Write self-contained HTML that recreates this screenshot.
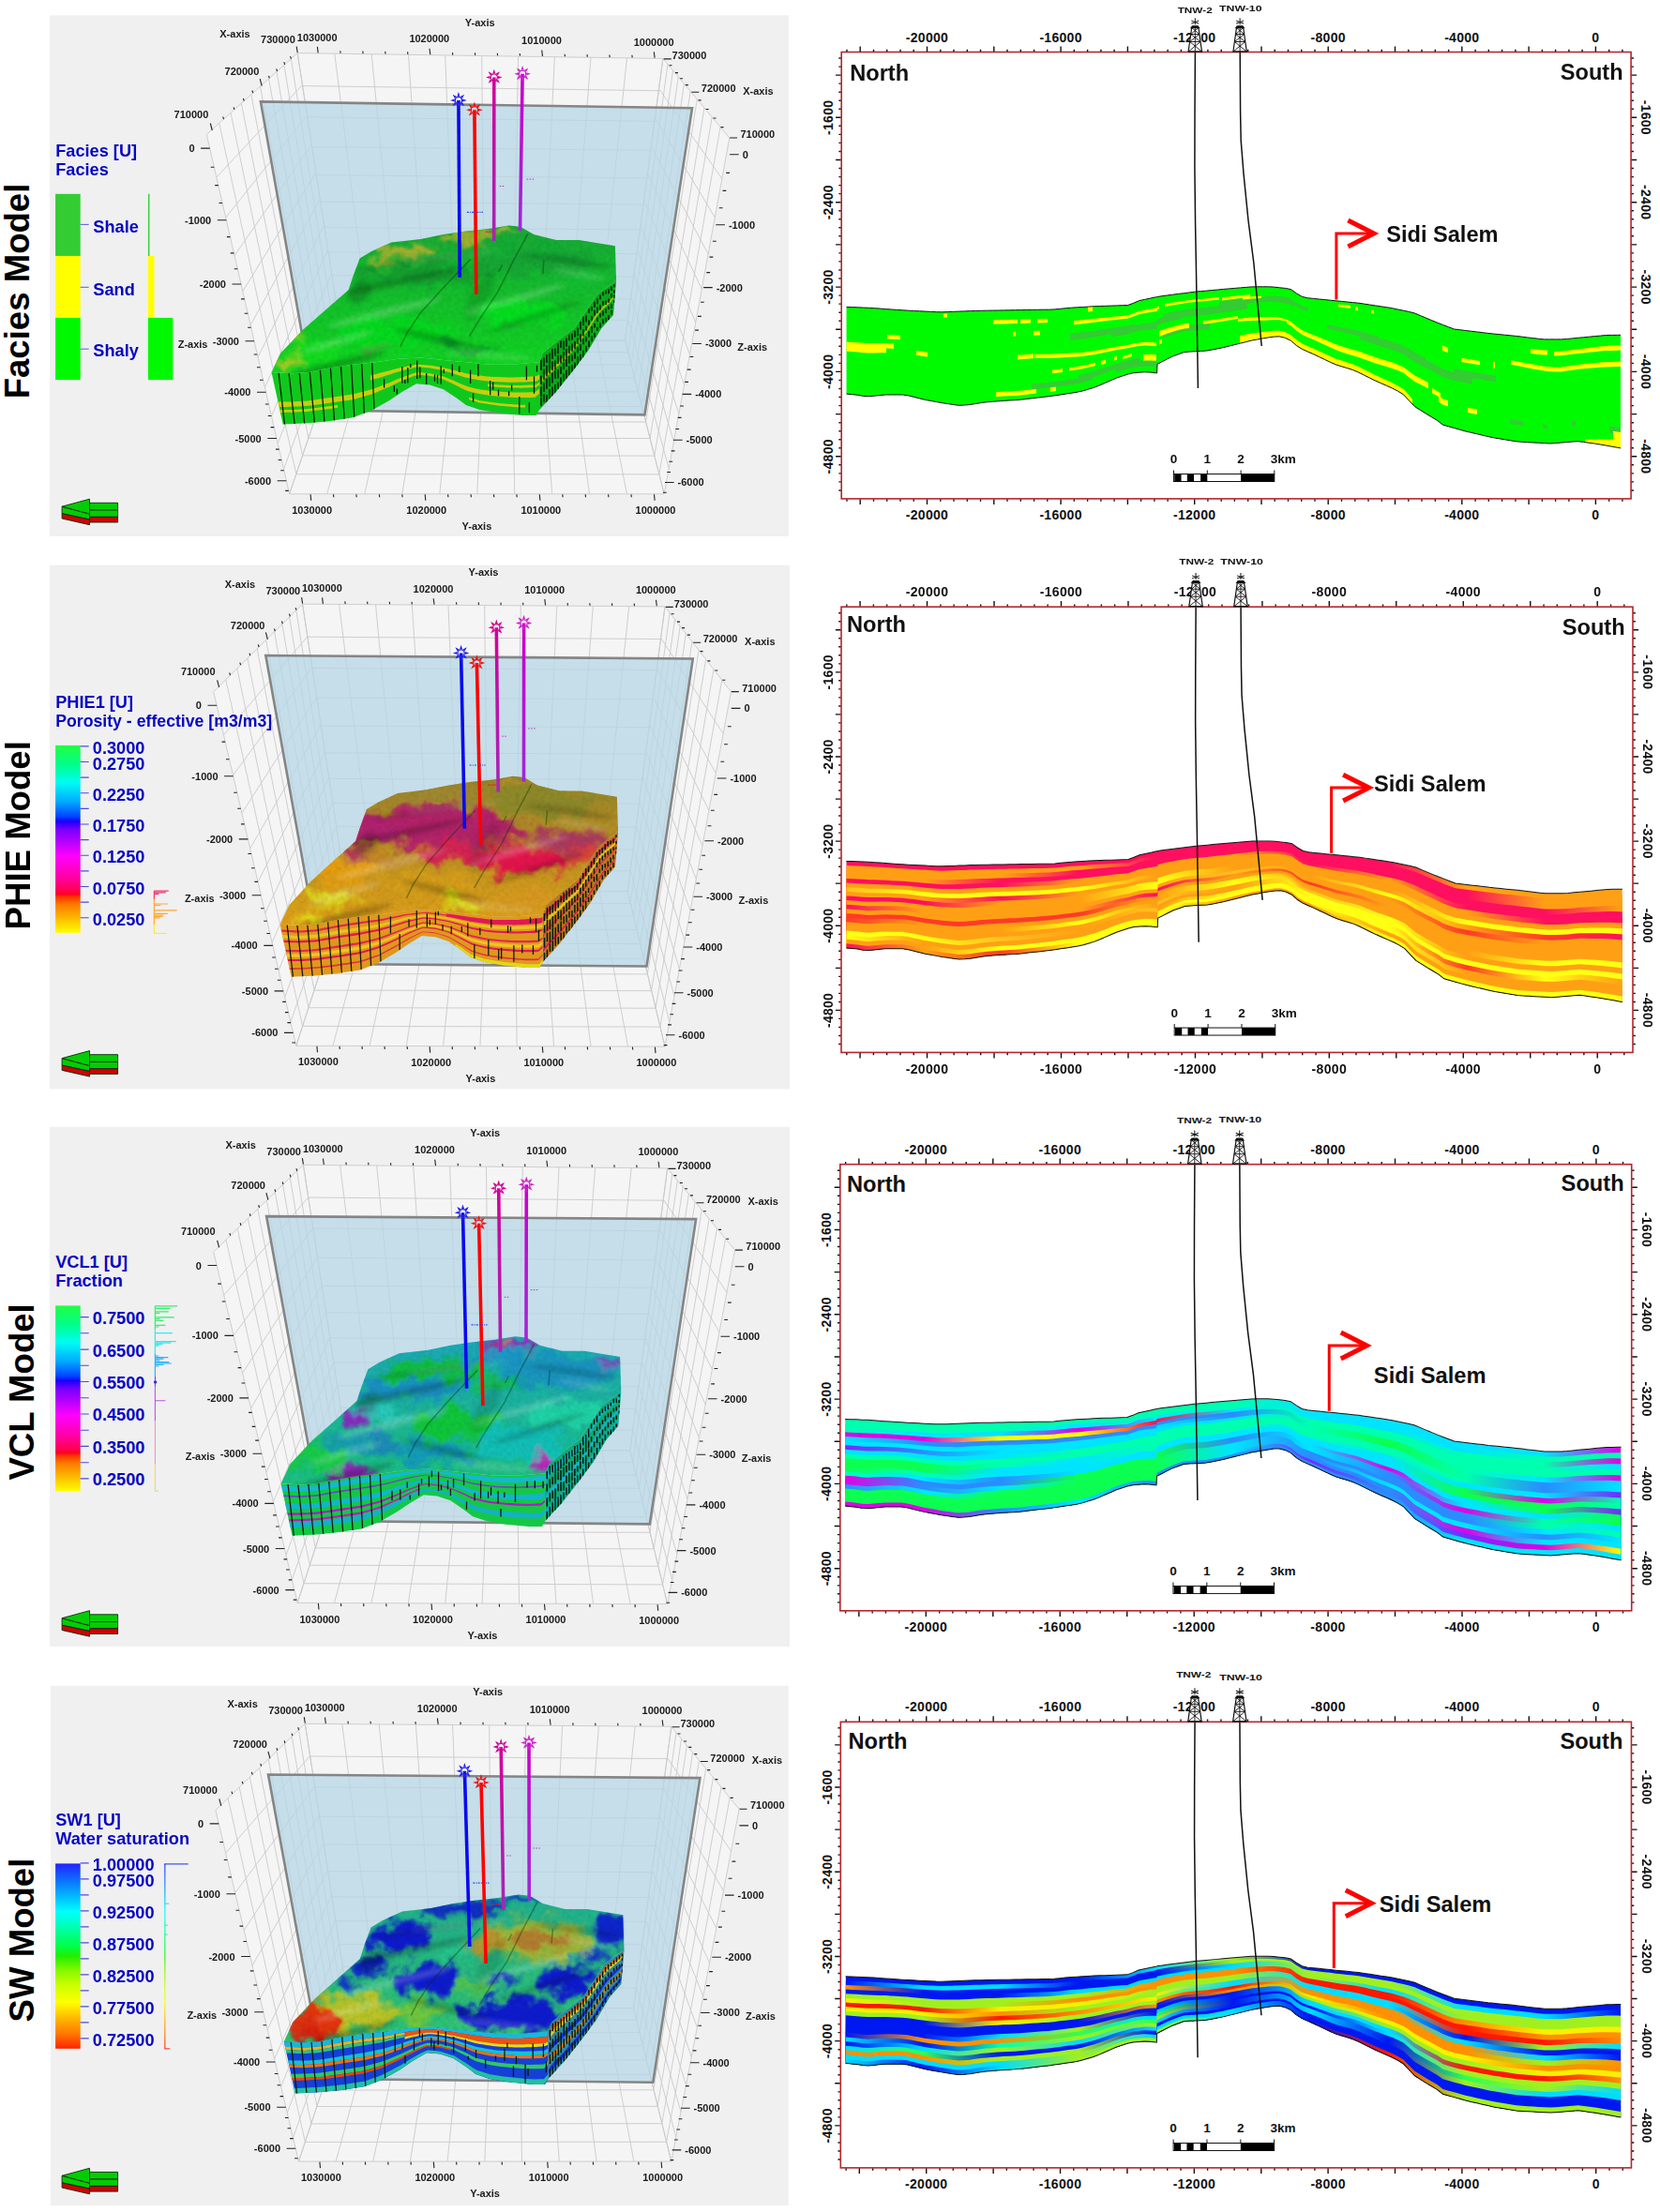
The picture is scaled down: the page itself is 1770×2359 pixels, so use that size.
<!DOCTYPE html>
<html lang="en"><head><meta charset="utf-8"><title>Reservoir models</title><style>
html,body{margin:0;padding:0;background:#fff}
svg{display:block}
text{font-family:"Liberation Sans",sans-serif;font-weight:bold;fill:#111}
.tl{font-size:14px;letter-spacing:.3px}
.ns{font-size:23.6px}
.wl{font-size:9.2px}
.sb{font-size:13.5px}
.ax{font-size:11px;fill:#1a1a1a}
.lg{font-size:18.2px;fill:#0505c4}
.rl{font-size:36.6px;fill:#000}
</style></head>
<body><svg width="1770" height="2359" viewBox="0 0 1770 2359">
<defs><filter id="blur6" x="-20%" y="-20%" width="140%" height="140%"><feGaussianBlur stdDeviation="3" result="b"/><feTurbulence type="fractalNoise" baseFrequency="0.045" numOctaves="3" seed="11" result="t"/><feDisplacementMap in="b" in2="t" scale="34" xChannelSelector="R" yChannelSelector="G"/></filter><filter id="noise" x="0" y="0" width="100%" height="100%"><feTurbulence type="fractalNoise" baseFrequency="0.22" numOctaves="3" seed="4"/><feColorMatrix type="matrix" values="0 0 0 0 0  0 0 0 0 0  0 0 0 0 0  1.6 1.6 0 0 -1.25"/></filter><filter id="blur3" x="-20%" y="-20%" width="140%" height="140%"><feGaussianBlur stdDeviation="2.5"/></filter><filter id="blur1" x="-20%" y="-20%" width="140%" height="140%"><feGaussianBlur stdDeviation="0.6"/></filter><clipPath id="mc0"><polygon points="289.6,397.1 299.3,376.6 323.4,351.3 352.3,326 371.6,309.2 376.4,294.7 383.6,275.4 395.7,268.2 417.3,258.6 448.7,254.9 472.8,250.1 496.9,246.5 521,244.1 542.7,240.5 554.7,241.7 569.2,250.1 593.3,256.1 617.3,256.1 655.9,262.2 657.1,299.5 636.6,314 627,328.4 612.5,350.1 593.3,364.6 578.8,376.6 575.2,386.3 545,388.7 521,388.7 496.9,386.3 472.8,383.9 448.7,381.4 424.6,382.7 400.5,386.3 376.4,388.7 352.3,392.3 328.2,397.1 311.3,398.3"/></clipPath><linearGradient id="mb0" x1="0" y1="0" x2="0" y2="1"><stop offset="0" stop-color="#18a838"/><stop offset="1" stop-color="#10d820"/></linearGradient><clipPath id="fc0"><polygon points="289.6,397.1 311.3,398.3 328.2,397.1 352.3,392.3 376.4,388.7 400.5,386.3 424.6,382.7 448.7,381.4 472.8,383.9 496.9,386.3 521,388.7 545,388.7 575.2,386.3 575.2,436.9 571.6,442.9 557.1,442.9 533,440.5 511.3,436.9 496.9,432 487.2,424.8 472.8,415.2 458.3,410.4 443.9,409.2 429.4,417.6 414.9,427.2 395.7,438.1 376.4,445.3 352.3,448.9 328.2,451.3 301.7,452.5 289.6,397.2"/></clipPath><clipPath id="rc0"><polygon points="575.2,386.3 578.8,376.6 593.3,364.6 612.5,350.1 627,328.4 636.6,314 657.1,299.5 657.1,299.6 654,336 641.4,350.1 627,374.2 612.5,393.5 593.3,417.6 575.2,436.9"/></clipPath><linearGradient id="wm0" x1="0" y1="0" x2="0" y2="1"><stop offset="0" stop-color="#d4009a"/><stop offset="1" stop-color="#a428b4"/></linearGradient><linearGradient id="wp0" x1="0" y1="0" x2="0" y2="1"><stop offset="0" stop-color="#cc00cc"/><stop offset="1" stop-color="#a028d8"/></linearGradient><clipPath id="mc1"><polygon points="289.6,397.1 299.3,376.6 323.4,351.3 352.3,326 371.6,309.2 376.4,294.7 383.6,275.4 395.7,268.2 417.3,258.6 448.7,254.9 472.8,250.1 496.9,246.5 521,244.1 542.7,240.5 554.7,241.7 569.2,250.1 593.3,256.1 617.3,256.1 655.9,262.2 657.1,299.5 636.6,314 627,328.4 612.5,350.1 593.3,364.6 578.8,376.6 575.2,386.3 545,388.7 521,388.7 496.9,386.3 472.8,383.9 448.7,381.4 424.6,382.7 400.5,386.3 376.4,388.7 352.3,392.3 328.2,397.1 311.3,398.3"/></clipPath><linearGradient id="mb1" x1="0" y1="0" x2="0" y2="1"><stop offset="0" stop-color="#98842c"/><stop offset="1" stop-color="#e0a018"/></linearGradient><clipPath id="fc1"><polygon points="289.6,397.1 311.3,398.3 328.2,397.1 352.3,392.3 376.4,388.7 400.5,386.3 424.6,382.7 448.7,381.4 472.8,383.9 496.9,386.3 521,388.7 545,388.7 575.2,386.3 575.2,436.9 571.6,442.9 557.1,442.9 533,440.5 511.3,436.9 496.9,432 487.2,424.8 472.8,415.2 458.3,410.4 443.9,409.2 429.4,417.6 414.9,427.2 395.7,438.1 376.4,445.3 352.3,448.9 328.2,451.3 301.7,452.5 289.6,397.2"/></clipPath><clipPath id="rc1"><polygon points="575.2,386.3 578.8,376.6 593.3,364.6 612.5,350.1 627,328.4 636.6,314 657.1,299.5 657.1,299.6 654,336 641.4,350.1 627,374.2 612.5,393.5 593.3,417.6 575.2,436.9"/></clipPath><linearGradient id="wm1" x1="0" y1="0" x2="0" y2="1"><stop offset="0" stop-color="#d4009a"/><stop offset="1" stop-color="#a428b4"/></linearGradient><linearGradient id="wp1" x1="0" y1="0" x2="0" y2="1"><stop offset="0" stop-color="#cc00cc"/><stop offset="1" stop-color="#a028d8"/></linearGradient><linearGradient id="lgd1" x1="0" y1="0" x2="0" y2="1"><stop offset="0" stop-color="#22ff44"/><stop offset="0.1" stop-color="#00ff88"/><stop offset="0.2" stop-color="#00fbf4"/><stop offset="0.3" stop-color="#00aaff"/><stop offset="0.38" stop-color="#0044ff"/><stop offset="0.405" stop-color="#1a00ff"/><stop offset="0.45" stop-color="#7a00ff"/><stop offset="0.5" stop-color="#a800ff"/><stop offset="0.59" stop-color="#ff00ff"/><stop offset="0.7" stop-color="#ff00a8"/><stop offset="0.77" stop-color="#ff0055"/><stop offset="0.795" stop-color="#ff0022"/><stop offset="0.805" stop-color="#ff3000"/><stop offset="0.85" stop-color="#ff7a00"/><stop offset="0.92" stop-color="#ffb800"/><stop offset="1" stop-color="#ffff00"/></linearGradient><clipPath id="sc1"><polygon points="902.5,327.4 908.5,327.6 914.5,327.8 920.5,328.1 926.5,328.3 932.5,328.7 938.5,329.1 944.5,329.6 950.5,330 956.5,330.4 962.5,330.8 968.5,331.2 974.5,331.5 980.5,331.8 986.5,332.1 992.5,332.4 998.5,332.7 1004.5,332.8 1010.5,332.6 1016.5,332.4 1022.5,332.1 1028.5,331.9 1034.5,331.6 1040.5,331.5 1046.5,331.3 1052.5,331.2 1058.5,331.1 1064.5,331 1070.5,330.9 1076.5,330.8 1082.5,330.7 1088.5,330.6 1094.5,330.5 1100.5,330.4 1106.5,330.3 1112.5,330.2 1118.5,330.2 1124.5,329.9 1130.5,329.3 1136.5,328.7 1142.5,328.2 1148.5,327.8 1154.5,327.5 1160.5,327.1 1166.5,326.7 1172.5,326.5 1178.5,326.3 1184.5,326.1 1190.5,325.9 1196.5,325.7 1202.5,325.5 1208.5,323.3 1214.5,320.7 1220.5,319.4 1226.5,318.1 1232.5,316.8 1233.6,316.6 1234,316.5 1238.5,315.8 1244.5,315 1250.5,314.2 1256.5,313.4 1262.5,312.7 1268.5,311.9 1274.5,311.1 1280.5,310.6 1286.5,310.1 1292.5,309.5 1298.5,309 1304.5,308.4 1310.5,307.9 1316.5,307.4 1322.5,306.9 1328.5,306.4 1334.5,305.9 1340.5,305.8 1346.5,305.8 1352.5,305.8 1358.5,306.1 1364.5,306.8 1370.5,307.4 1376.5,308.6 1382.5,312.9 1388.5,316.4 1394.5,317.8 1400.5,318.4 1406.5,319 1412.5,319.6 1418.5,320.2 1424.5,320.8 1430.5,321.4 1436.5,322 1442.5,322.6 1448.5,323.2 1454.5,324.1 1460.5,325 1466.5,325.9 1472.5,326.8 1478.5,327.7 1484.5,328.7 1490.5,330 1496.5,331.2 1502.5,332.5 1508.5,334 1514.5,336.6 1520.5,339.1 1526.5,341.6 1532.5,344.1 1538.5,346.4 1544.5,348.7 1550.5,351 1556.5,351.7 1562.5,352.5 1568.5,353.2 1574.5,353.9 1580.5,354.6 1586.5,355.4 1592.5,356 1598.5,356.6 1604.5,357.2 1610.5,357.8 1616.5,358.4 1622.5,359.1 1628.5,359.9 1634.5,360.6 1640.5,361.3 1646.5,361.9 1652.5,361.9 1658.5,361.9 1664.5,361.9 1670.5,361.5 1676.5,360.9 1682.5,360.3 1688.5,359.8 1694.5,359.2 1700.5,358.6 1706.5,358.1 1712.5,357.5 1718.5,357.4 1724.5,357.3 1728,357.3 1728,477.9 1724.5,477.3 1718.5,476.2 1712.5,475.1 1706.5,474.1 1700.5,473.1 1694.5,472.3 1688.5,471.4 1682.5,470.7 1676.5,471.1 1670.5,471.6 1664.5,472.1 1658.5,472.6 1652.5,473 1646.5,472.6 1640.5,472.3 1634.5,472 1628.5,471.7 1622.5,471.3 1616.5,470.8 1610.5,469.8 1604.5,468.8 1598.5,467.8 1592.5,466.8 1586.5,465.5 1580.5,464.1 1574.5,462.7 1568.5,461.3 1562.5,459.9 1556.5,458.2 1550.5,456.5 1544.5,454.8 1538.5,453.1 1532.5,448.4 1526.5,444.8 1520.5,441.2 1514.5,437.4 1508.5,433.6 1502.5,427.3 1496.5,420.8 1490.5,417.1 1484.5,414 1478.5,411.3 1472.5,408.7 1466.5,406 1460.5,403.1 1454.5,400.1 1448.5,397.1 1442.5,394.5 1436.5,392.6 1430.5,390.8 1424.5,388.9 1418.5,386.3 1412.5,383.4 1406.5,380.6 1400.5,377.7 1394.5,375.1 1388.5,372.4 1382.5,368.6 1376.5,363.3 1370.5,360.4 1364.5,358.9 1358.5,359.1 1352.5,359.9 1346.5,360.9 1340.5,362 1334.5,363.1 1328.5,364.6 1322.5,366.1 1316.5,367.6 1310.5,369.1 1304.5,370.6 1298.5,371.8 1292.5,373 1286.5,374.1 1280.5,374.4 1274.5,374.7 1268.5,375.1 1262.5,375.6 1256.5,377.8 1250.5,379.9 1244.5,382.9 1238.5,386 1234,388.3 1233.6,397.9 1232.5,397.8 1226.5,397.1 1220.5,396.8 1214.5,397.2 1208.5,397.7 1202.5,399.1 1196.5,401.1 1190.5,403.1 1184.5,405.7 1178.5,408.3 1172.5,410.9 1166.5,413.3 1160.5,415.1 1154.5,416.9 1148.5,418.2 1142.5,419.2 1136.5,420.1 1130.5,421 1124.5,421.9 1118.5,422.7 1112.5,423.4 1106.5,424.1 1100.5,424.8 1094.5,425.5 1088.5,426.2 1082.5,426.7 1076.5,427 1070.5,427.4 1064.5,427.8 1058.5,428.3 1052.5,428.8 1046.5,429.5 1040.5,430.5 1034.5,431.5 1028.5,432 1022.5,432.3 1016.5,431.5 1010.5,430.6 1004.5,429.7 998.5,428.6 992.5,427.5 986.5,426.4 980.5,424.9 974.5,423.4 968.5,421.9 962.5,421 956.5,421 950.5,421 944.5,421 938.5,421.5 932.5,422.2 926.5,422.8 920.5,422.4 914.5,421.3 908.5,420.7 902.5,420.1"/></clipPath><linearGradient id="g1_0" gradientUnits="userSpaceOnUse" x1="902.5" x2="1728" y1="0" y2="0"><stop offset="0" stop-color="#ff0f5f"/><stop offset="0.1" stop-color="#ff0f5f"/><stop offset="0.2" stop-color="#ff0f5f"/><stop offset="0.3" stop-color="#ff0f5f"/><stop offset="0.4" stop-color="#ff0f5f"/><stop offset="0.5" stop-color="#ff0f5f"/><stop offset="0.6" stop-color="#ff0f5f"/><stop offset="0.7" stop-color="#ff0f5f"/><stop offset="0.8" stop-color="#ffa014"/><stop offset="0.9" stop-color="#ffa014"/><stop offset="1" stop-color="#ffa014"/></linearGradient><linearGradient id="g1_1" gradientUnits="userSpaceOnUse" x1="902.5" x2="1728" y1="0" y2="0"><stop offset="0" stop-color="#ffa014"/><stop offset="0.1" stop-color="#ffa014"/><stop offset="0.2" stop-color="#ffa014"/><stop offset="0.3" stop-color="#ffa014"/><stop offset="0.4" stop-color="#ff0f5f"/><stop offset="0.5" stop-color="#ff0f5f"/><stop offset="0.6" stop-color="#ff0f5f"/><stop offset="0.7" stop-color="#ff0f5f"/><stop offset="0.8" stop-color="#ff0f5f"/><stop offset="0.9" stop-color="#ffa014"/><stop offset="1" stop-color="#ffa014"/></linearGradient><linearGradient id="g1_2" gradientUnits="userSpaceOnUse" x1="902.5" x2="1728" y1="0" y2="0"><stop offset="0" stop-color="#ffa014"/><stop offset="0.1" stop-color="#ffa014"/><stop offset="0.2" stop-color="#ffa014"/><stop offset="0.3" stop-color="#ff0f5f"/><stop offset="0.4" stop-color="#ff0f5f"/><stop offset="0.5" stop-color="#ff0f5f"/><stop offset="0.6" stop-color="#ff0f5f"/><stop offset="0.7" stop-color="#ff0f5f"/><stop offset="0.8" stop-color="#ff0f5f"/><stop offset="0.9" stop-color="#ffa014"/><stop offset="1" stop-color="#ffa014"/></linearGradient><linearGradient id="g1_3" gradientUnits="userSpaceOnUse" x1="902.5" x2="1728" y1="0" y2="0"><stop offset="0" stop-color="#ffa014"/><stop offset="0.1" stop-color="#ffa014"/><stop offset="0.2" stop-color="#ff0f5f"/><stop offset="0.3" stop-color="#ff0f5f"/><stop offset="0.4" stop-color="#ff0f5f"/><stop offset="0.5" stop-color="#ff0f5f"/><stop offset="0.6" stop-color="#ff0f5f"/><stop offset="0.7" stop-color="#ff0f5f"/><stop offset="0.8" stop-color="#ff0f5f"/><stop offset="0.9" stop-color="#ff0f5f"/><stop offset="1" stop-color="#ffa014"/></linearGradient><linearGradient id="g1_4" gradientUnits="userSpaceOnUse" x1="902.5" x2="1728" y1="0" y2="0"><stop offset="0" stop-color="#ff0f5f"/><stop offset="0.1" stop-color="#ff0f5f"/><stop offset="0.2" stop-color="#ff0f5f"/><stop offset="0.3" stop-color="#ffa014"/><stop offset="0.4" stop-color="#ffa014"/><stop offset="0.5" stop-color="#ffa014"/><stop offset="0.6" stop-color="#ff0f5f"/><stop offset="0.7" stop-color="#ffa014"/><stop offset="0.8" stop-color="#ff0f5f"/><stop offset="0.9" stop-color="#ff0f5f"/><stop offset="1" stop-color="#ff0f5f"/></linearGradient><linearGradient id="g1_5" gradientUnits="userSpaceOnUse" x1="902.5" x2="1728" y1="0" y2="0"><stop offset="0" stop-color="#ffa014"/><stop offset="0.1" stop-color="#ffa014"/><stop offset="0.2" stop-color="#ffa014"/><stop offset="0.3" stop-color="#ffa014"/><stop offset="0.4" stop-color="#ffa014"/><stop offset="0.5" stop-color="#ffa014"/><stop offset="0.6" stop-color="#ffa014"/><stop offset="0.7" stop-color="#ffa014"/><stop offset="0.8" stop-color="#ffa014"/><stop offset="0.9" stop-color="#ff0f5f"/><stop offset="1" stop-color="#ff0f5f"/></linearGradient><linearGradient id="g1_6" gradientUnits="userSpaceOnUse" x1="902.5" x2="1728" y1="0" y2="0"><stop offset="0" stop-color="#ffc01e"/><stop offset="0.1" stop-color="#ffff14"/><stop offset="0.2" stop-color="#ffff14"/><stop offset="0.3" stop-color="#ffff14"/><stop offset="0.4" stop-color="#ffa014"/><stop offset="0.5" stop-color="#ffa014"/><stop offset="0.6" stop-color="#ffa014"/><stop offset="0.7" stop-color="#ffa014"/><stop offset="0.8" stop-color="#ffa014"/><stop offset="0.9" stop-color="#ffa014"/><stop offset="1" stop-color="#ffa014"/></linearGradient><linearGradient id="g1_7" gradientUnits="userSpaceOnUse" x1="902.5" x2="1728" y1="0" y2="0"><stop offset="0" stop-color="#ffa014"/><stop offset="0.1" stop-color="#ffa014"/><stop offset="0.2" stop-color="#ff0f5f"/><stop offset="0.3" stop-color="#ffa014"/><stop offset="0.4" stop-color="#ffa014"/><stop offset="0.5" stop-color="#ffa014"/><stop offset="0.6" stop-color="#ffa014"/><stop offset="0.7" stop-color="#ffa014"/><stop offset="0.8" stop-color="#ffff14"/><stop offset="0.9" stop-color="#ffff14"/><stop offset="1" stop-color="#ffff14"/></linearGradient><linearGradient id="g1_8" gradientUnits="userSpaceOnUse" x1="902.5" x2="1728" y1="0" y2="0"><stop offset="0" stop-color="#ff0f5f"/><stop offset="0.1" stop-color="#ff0f5f"/><stop offset="0.2" stop-color="#ffa014"/><stop offset="0.3" stop-color="#ffa014"/><stop offset="0.4" stop-color="#ffff14"/><stop offset="0.5" stop-color="#ffa014"/><stop offset="0.6" stop-color="#ffa014"/><stop offset="0.7" stop-color="#ffff14"/><stop offset="0.8" stop-color="#ffa014"/><stop offset="0.9" stop-color="#ff3a28"/><stop offset="1" stop-color="#ff0f5f"/></linearGradient><linearGradient id="g1_9" gradientUnits="userSpaceOnUse" x1="902.5" x2="1728" y1="0" y2="0"><stop offset="0" stop-color="#ffa014"/><stop offset="0.1" stop-color="#ffa014"/><stop offset="0.2" stop-color="#ffa014"/><stop offset="0.3" stop-color="#ffa014"/><stop offset="0.4" stop-color="#ffff14"/><stop offset="0.5" stop-color="#ffa014"/><stop offset="0.6" stop-color="#ffa014"/><stop offset="0.7" stop-color="#ffa014"/><stop offset="0.8" stop-color="#ff3a28"/><stop offset="0.9" stop-color="#ffa014"/><stop offset="1" stop-color="#ffa014"/></linearGradient><linearGradient id="g1_10" gradientUnits="userSpaceOnUse" x1="902.5" x2="1728" y1="0" y2="0"><stop offset="0" stop-color="#ff0f5f"/><stop offset="0.1" stop-color="#ffa014"/><stop offset="0.2" stop-color="#ffa014"/><stop offset="0.3" stop-color="#ffa014"/><stop offset="0.4" stop-color="#ffa014"/><stop offset="0.5" stop-color="#ffc01e"/><stop offset="0.6" stop-color="#ffa014"/><stop offset="0.7" stop-color="#ffa014"/><stop offset="0.8" stop-color="#ffa014"/><stop offset="0.9" stop-color="#ffa014"/><stop offset="1" stop-color="#ffa014"/></linearGradient><linearGradient id="g1_11" gradientUnits="userSpaceOnUse" x1="902.5" x2="1728" y1="0" y2="0"><stop offset="0" stop-color="#ffa014"/><stop offset="0.1" stop-color="#ffa014"/><stop offset="0.2" stop-color="#ffa014"/><stop offset="0.3" stop-color="#ffa014"/><stop offset="0.4" stop-color="#ff0f5f"/><stop offset="0.5" stop-color="#ffa014"/><stop offset="0.6" stop-color="#ff3a28"/><stop offset="0.7" stop-color="#ffa014"/><stop offset="0.8" stop-color="#ffa014"/><stop offset="0.9" stop-color="#ffa014"/><stop offset="1" stop-color="#ffa014"/></linearGradient><linearGradient id="g1_12" gradientUnits="userSpaceOnUse" x1="902.5" x2="1728" y1="0" y2="0"><stop offset="0" stop-color="#ff3a28"/><stop offset="0.1" stop-color="#ff3a28"/><stop offset="0.2" stop-color="#ff3a28"/><stop offset="0.3" stop-color="#ff3a28"/><stop offset="0.4" stop-color="#ffa014"/><stop offset="0.5" stop-color="#ffa014"/><stop offset="0.6" stop-color="#ffa014"/><stop offset="0.7" stop-color="#ffa014"/><stop offset="0.8" stop-color="#ffa014"/><stop offset="0.9" stop-color="#ffa014"/><stop offset="1" stop-color="#ffa014"/></linearGradient><linearGradient id="g1_13" gradientUnits="userSpaceOnUse" x1="902.5" x2="1728" y1="0" y2="0"><stop offset="0" stop-color="#ff3a28"/><stop offset="0.1" stop-color="#ffa014"/><stop offset="0.2" stop-color="#ffa014"/><stop offset="0.3" stop-color="#ffa014"/><stop offset="0.4" stop-color="#ffa014"/><stop offset="0.5" stop-color="#ffff14"/><stop offset="0.6" stop-color="#ffa014"/><stop offset="0.7" stop-color="#ffa014"/><stop offset="0.8" stop-color="#ffa014"/><stop offset="0.9" stop-color="#ffff14"/><stop offset="1" stop-color="#ffff14"/></linearGradient><linearGradient id="g1_14" gradientUnits="userSpaceOnUse" x1="902.5" x2="1728" y1="0" y2="0"><stop offset="0" stop-color="#ffa014"/><stop offset="0.1" stop-color="#ffa014"/><stop offset="0.2" stop-color="#ffa014"/><stop offset="0.3" stop-color="#ffff14"/><stop offset="0.4" stop-color="#ffa014"/><stop offset="0.5" stop-color="#ffff14"/><stop offset="0.6" stop-color="#ffc01e"/><stop offset="0.7" stop-color="#ffff14"/><stop offset="0.8" stop-color="#ffa014"/><stop offset="0.9" stop-color="#ffa014"/><stop offset="1" stop-color="#ffa014"/></linearGradient><linearGradient id="g1_15" gradientUnits="userSpaceOnUse" x1="902.5" x2="1728" y1="0" y2="0"><stop offset="0" stop-color="#ffa014"/><stop offset="0.1" stop-color="#ffa014"/><stop offset="0.2" stop-color="#ffa014"/><stop offset="0.3" stop-color="#ffa014"/><stop offset="0.4" stop-color="#ffc01e"/><stop offset="0.5" stop-color="#ffa014"/><stop offset="0.6" stop-color="#ffff14"/><stop offset="0.7" stop-color="#ffff14"/><stop offset="0.8" stop-color="#ffff14"/><stop offset="0.9" stop-color="#ffff14"/><stop offset="1" stop-color="#ffff14"/></linearGradient><linearGradient id="g1_16" gradientUnits="userSpaceOnUse" x1="902.5" x2="1728" y1="0" y2="0"><stop offset="0" stop-color="#ffff14"/><stop offset="0.1" stop-color="#ffff14"/><stop offset="0.2" stop-color="#ffc01e"/><stop offset="0.3" stop-color="#ffa014"/><stop offset="0.4" stop-color="#ffa014"/><stop offset="0.5" stop-color="#ffa014"/><stop offset="0.6" stop-color="#ffff14"/><stop offset="0.7" stop-color="#ffff14"/><stop offset="0.8" stop-color="#ff3a28"/><stop offset="0.9" stop-color="#ffff14"/><stop offset="1" stop-color="#ffa014"/></linearGradient><linearGradient id="g1_17" gradientUnits="userSpaceOnUse" x1="902.5" x2="1728" y1="0" y2="0"><stop offset="0" stop-color="#ffff14"/><stop offset="0.1" stop-color="#ffa014"/><stop offset="0.2" stop-color="#ffa014"/><stop offset="0.3" stop-color="#ffa014"/><stop offset="0.4" stop-color="#ffa014"/><stop offset="0.5" stop-color="#ffff14"/><stop offset="0.6" stop-color="#ffff14"/><stop offset="0.7" stop-color="#ffff14"/><stop offset="0.8" stop-color="#ffa014"/><stop offset="0.9" stop-color="#ffa014"/><stop offset="1" stop-color="#ffa014"/></linearGradient><linearGradient id="g1_18" gradientUnits="userSpaceOnUse" x1="902.5" x2="1728" y1="0" y2="0"><stop offset="0" stop-color="#ffa014"/><stop offset="0.1" stop-color="#ffa014"/><stop offset="0.2" stop-color="#ffff14"/><stop offset="0.3" stop-color="#ffff14"/><stop offset="0.4" stop-color="#ffff14"/><stop offset="0.5" stop-color="#ffff14"/><stop offset="0.6" stop-color="#ffff14"/><stop offset="0.7" stop-color="#ffa014"/><stop offset="0.8" stop-color="#ffa014"/><stop offset="0.9" stop-color="#ffa014"/><stop offset="1" stop-color="#ffa014"/></linearGradient><linearGradient id="g1_19" gradientUnits="userSpaceOnUse" x1="902.5" x2="1728" y1="0" y2="0"><stop offset="0" stop-color="#ff0f5f"/><stop offset="0.1" stop-color="#ffa014"/><stop offset="0.2" stop-color="#ff3a28"/><stop offset="0.3" stop-color="#ffff14"/><stop offset="0.4" stop-color="#ffff14"/><stop offset="0.5" stop-color="#ffa014"/><stop offset="0.6" stop-color="#ffa014"/><stop offset="0.7" stop-color="#ffff14"/><stop offset="0.8" stop-color="#ffff14"/><stop offset="0.9" stop-color="#ffff14"/><stop offset="1" stop-color="#ffff14"/></linearGradient><clipPath id="mc2"><polygon points="289.6,397.1 299.3,376.6 323.4,351.3 352.3,326 371.6,309.2 376.4,294.7 383.6,275.4 395.7,268.2 417.3,258.6 448.7,254.9 472.8,250.1 496.9,246.5 521,244.1 542.7,240.5 554.7,241.7 569.2,250.1 593.3,256.1 617.3,256.1 655.9,262.2 657.1,299.5 636.6,314 627,328.4 612.5,350.1 593.3,364.6 578.8,376.6 575.2,386.3 545,388.7 521,388.7 496.9,386.3 472.8,383.9 448.7,381.4 424.6,382.7 400.5,386.3 376.4,388.7 352.3,392.3 328.2,397.1 311.3,398.3"/></clipPath><linearGradient id="mb2" x1="0" y1="0" x2="0" y2="1"><stop offset="0" stop-color="#1ca8b8"/><stop offset="1" stop-color="#1cc080"/></linearGradient><clipPath id="fc2"><polygon points="289.6,397.1 311.3,398.3 328.2,397.1 352.3,392.3 376.4,388.7 400.5,386.3 424.6,382.7 448.7,381.4 472.8,383.9 496.9,386.3 521,388.7 545,388.7 575.2,386.3 575.2,436.9 571.6,442.9 557.1,442.9 533,440.5 511.3,436.9 496.9,432 487.2,424.8 472.8,415.2 458.3,410.4 443.9,409.2 429.4,417.6 414.9,427.2 395.7,438.1 376.4,445.3 352.3,448.9 328.2,451.3 301.7,452.5 289.6,397.2"/></clipPath><clipPath id="rc2"><polygon points="575.2,386.3 578.8,376.6 593.3,364.6 612.5,350.1 627,328.4 636.6,314 657.1,299.5 657.1,299.6 654,336 641.4,350.1 627,374.2 612.5,393.5 593.3,417.6 575.2,436.9"/></clipPath><linearGradient id="wm2" x1="0" y1="0" x2="0" y2="1"><stop offset="0" stop-color="#d4009a"/><stop offset="1" stop-color="#a428b4"/></linearGradient><linearGradient id="wp2" x1="0" y1="0" x2="0" y2="1"><stop offset="0" stop-color="#cc00cc"/><stop offset="1" stop-color="#a028d8"/></linearGradient><linearGradient id="lgd2" x1="0" y1="0" x2="0" y2="1"><stop offset="0" stop-color="#22ff44"/><stop offset="0.1" stop-color="#00ff88"/><stop offset="0.2" stop-color="#00fbf4"/><stop offset="0.3" stop-color="#00aaff"/><stop offset="0.38" stop-color="#0044ff"/><stop offset="0.405" stop-color="#1a00ff"/><stop offset="0.45" stop-color="#7a00ff"/><stop offset="0.5" stop-color="#a800ff"/><stop offset="0.59" stop-color="#ff00ff"/><stop offset="0.7" stop-color="#ff00a8"/><stop offset="0.77" stop-color="#ff0055"/><stop offset="0.795" stop-color="#ff0022"/><stop offset="0.805" stop-color="#ff3000"/><stop offset="0.85" stop-color="#ff7a00"/><stop offset="0.92" stop-color="#ffb800"/><stop offset="1" stop-color="#ffff00"/></linearGradient><clipPath id="sc2"><polygon points="902.5,327.4 908.5,327.6 914.5,327.8 920.5,328.1 926.5,328.3 932.5,328.7 938.5,329.1 944.5,329.6 950.5,330 956.5,330.4 962.5,330.8 968.5,331.2 974.5,331.5 980.5,331.8 986.5,332.1 992.5,332.4 998.5,332.7 1004.5,332.8 1010.5,332.6 1016.5,332.4 1022.5,332.1 1028.5,331.9 1034.5,331.6 1040.5,331.5 1046.5,331.3 1052.5,331.2 1058.5,331.1 1064.5,331 1070.5,330.9 1076.5,330.8 1082.5,330.7 1088.5,330.6 1094.5,330.5 1100.5,330.4 1106.5,330.3 1112.5,330.2 1118.5,330.2 1124.5,329.9 1130.5,329.3 1136.5,328.7 1142.5,328.2 1148.5,327.8 1154.5,327.5 1160.5,327.1 1166.5,326.7 1172.5,326.5 1178.5,326.3 1184.5,326.1 1190.5,325.9 1196.5,325.7 1202.5,325.5 1208.5,323.3 1214.5,320.7 1220.5,319.4 1226.5,318.1 1232.5,316.8 1233.6,316.6 1234,316.5 1238.5,315.8 1244.5,315 1250.5,314.2 1256.5,313.4 1262.5,312.7 1268.5,311.9 1274.5,311.1 1280.5,310.6 1286.5,310.1 1292.5,309.5 1298.5,309 1304.5,308.4 1310.5,307.9 1316.5,307.4 1322.5,306.9 1328.5,306.4 1334.5,305.9 1340.5,305.8 1346.5,305.8 1352.5,305.8 1358.5,306.1 1364.5,306.8 1370.5,307.4 1376.5,308.6 1382.5,312.9 1388.5,316.4 1394.5,317.8 1400.5,318.4 1406.5,319 1412.5,319.6 1418.5,320.2 1424.5,320.8 1430.5,321.4 1436.5,322 1442.5,322.6 1448.5,323.2 1454.5,324.1 1460.5,325 1466.5,325.9 1472.5,326.8 1478.5,327.7 1484.5,328.7 1490.5,330 1496.5,331.2 1502.5,332.5 1508.5,334 1514.5,336.6 1520.5,339.1 1526.5,341.6 1532.5,344.1 1538.5,346.4 1544.5,348.7 1550.5,351 1556.5,351.7 1562.5,352.5 1568.5,353.2 1574.5,353.9 1580.5,354.6 1586.5,355.4 1592.5,356 1598.5,356.6 1604.5,357.2 1610.5,357.8 1616.5,358.4 1622.5,359.1 1628.5,359.9 1634.5,360.6 1640.5,361.3 1646.5,361.9 1652.5,361.9 1658.5,361.9 1664.5,361.9 1670.5,361.5 1676.5,360.9 1682.5,360.3 1688.5,359.8 1694.5,359.2 1700.5,358.6 1706.5,358.1 1712.5,357.5 1718.5,357.4 1724.5,357.3 1728,357.3 1728,477.9 1724.5,477.3 1718.5,476.2 1712.5,475.1 1706.5,474.1 1700.5,473.1 1694.5,472.3 1688.5,471.4 1682.5,470.7 1676.5,471.1 1670.5,471.6 1664.5,472.1 1658.5,472.6 1652.5,473 1646.5,472.6 1640.5,472.3 1634.5,472 1628.5,471.7 1622.5,471.3 1616.5,470.8 1610.5,469.8 1604.5,468.8 1598.5,467.8 1592.5,466.8 1586.5,465.5 1580.5,464.1 1574.5,462.7 1568.5,461.3 1562.5,459.9 1556.5,458.2 1550.5,456.5 1544.5,454.8 1538.5,453.1 1532.5,448.4 1526.5,444.8 1520.5,441.2 1514.5,437.4 1508.5,433.6 1502.5,427.3 1496.5,420.8 1490.5,417.1 1484.5,414 1478.5,411.3 1472.5,408.7 1466.5,406 1460.5,403.1 1454.5,400.1 1448.5,397.1 1442.5,394.5 1436.5,392.6 1430.5,390.8 1424.5,388.9 1418.5,386.3 1412.5,383.4 1406.5,380.6 1400.5,377.7 1394.5,375.1 1388.5,372.4 1382.5,368.6 1376.5,363.3 1370.5,360.4 1364.5,358.9 1358.5,359.1 1352.5,359.9 1346.5,360.9 1340.5,362 1334.5,363.1 1328.5,364.6 1322.5,366.1 1316.5,367.6 1310.5,369.1 1304.5,370.6 1298.5,371.8 1292.5,373 1286.5,374.1 1280.5,374.4 1274.5,374.7 1268.5,375.1 1262.5,375.6 1256.5,377.8 1250.5,379.9 1244.5,382.9 1238.5,386 1234,388.3 1233.6,397.9 1232.5,397.8 1226.5,397.1 1220.5,396.8 1214.5,397.2 1208.5,397.7 1202.5,399.1 1196.5,401.1 1190.5,403.1 1184.5,405.7 1178.5,408.3 1172.5,410.9 1166.5,413.3 1160.5,415.1 1154.5,416.9 1148.5,418.2 1142.5,419.2 1136.5,420.1 1130.5,421 1124.5,421.9 1118.5,422.7 1112.5,423.4 1106.5,424.1 1100.5,424.8 1094.5,425.5 1088.5,426.2 1082.5,426.7 1076.5,427 1070.5,427.4 1064.5,427.8 1058.5,428.3 1052.5,428.8 1046.5,429.5 1040.5,430.5 1034.5,431.5 1028.5,432 1022.5,432.3 1016.5,431.5 1010.5,430.6 1004.5,429.7 998.5,428.6 992.5,427.5 986.5,426.4 980.5,424.9 974.5,423.4 968.5,421.9 962.5,421 956.5,421 950.5,421 944.5,421 938.5,421.5 932.5,422.2 926.5,422.8 920.5,422.4 914.5,421.3 908.5,420.7 902.5,420.1"/></clipPath><linearGradient id="g2_0" gradientUnits="userSpaceOnUse" x1="902.5" x2="1728" y1="0" y2="0"><stop offset="0" stop-color="#00ffae"/><stop offset="0.1" stop-color="#00ffae"/><stop offset="0.2" stop-color="#00ffae"/><stop offset="0.3" stop-color="#00ffae"/><stop offset="0.4" stop-color="#00ffae"/><stop offset="0.5" stop-color="#00ffae"/><stop offset="0.6" stop-color="#00e4ff"/><stop offset="0.7" stop-color="#00e4ff"/><stop offset="0.8" stop-color="#00e4ff"/><stop offset="0.9" stop-color="#00e4ff"/><stop offset="1" stop-color="#e000e6"/></linearGradient><linearGradient id="g2_1" gradientUnits="userSpaceOnUse" x1="902.5" x2="1728" y1="0" y2="0"><stop offset="0" stop-color="#00ffae"/><stop offset="0.1" stop-color="#00ffae"/><stop offset="0.2" stop-color="#00ffae"/><stop offset="0.3" stop-color="#00e4ff"/><stop offset="0.4" stop-color="#00ffae"/><stop offset="0.5" stop-color="#00ffae"/><stop offset="0.6" stop-color="#00e4ff"/><stop offset="0.7" stop-color="#00e4ff"/><stop offset="0.8" stop-color="#00e4ff"/><stop offset="0.9" stop-color="#00ffae"/><stop offset="1" stop-color="#00ffae"/></linearGradient><linearGradient id="g2_2" gradientUnits="userSpaceOnUse" x1="902.5" x2="1728" y1="0" y2="0"><stop offset="0" stop-color="#00ffae"/><stop offset="0.1" stop-color="#00e4ff"/><stop offset="0.2" stop-color="#00e4ff"/><stop offset="0.3" stop-color="#e000e6"/><stop offset="0.4" stop-color="#00e4ff"/><stop offset="0.5" stop-color="#00ffae"/><stop offset="0.6" stop-color="#00e4ff"/><stop offset="0.7" stop-color="#00e4ff"/><stop offset="0.8" stop-color="#00ffae"/><stop offset="0.9" stop-color="#00ffae"/><stop offset="1" stop-color="#e000e6"/></linearGradient><linearGradient id="g2_3" gradientUnits="userSpaceOnUse" x1="902.5" x2="1728" y1="0" y2="0"><stop offset="0" stop-color="#e000e6"/><stop offset="0.1" stop-color="#e000e6"/><stop offset="0.2" stop-color="#ffff00"/><stop offset="0.3" stop-color="#ffff00"/><stop offset="0.4" stop-color="#ff1450"/><stop offset="0.5" stop-color="#00e4ff"/><stop offset="0.6" stop-color="#00ffae"/><stop offset="0.7" stop-color="#00ffae"/><stop offset="0.8" stop-color="#00ffae"/><stop offset="0.9" stop-color="#00ffae"/><stop offset="1" stop-color="#00e4ff"/></linearGradient><linearGradient id="g2_4" gradientUnits="userSpaceOnUse" x1="902.5" x2="1728" y1="0" y2="0"><stop offset="0" stop-color="#00e4ff"/><stop offset="0.1" stop-color="#2a8cff"/><stop offset="0.2" stop-color="#2a8cff"/><stop offset="0.3" stop-color="#2a8cff"/><stop offset="0.4" stop-color="#2a8cff"/><stop offset="0.5" stop-color="#2a8cff"/><stop offset="0.6" stop-color="#00ffae"/><stop offset="0.7" stop-color="#00ffae"/><stop offset="0.8" stop-color="#00ffae"/><stop offset="0.9" stop-color="#00ffae"/><stop offset="1" stop-color="#00ffae"/></linearGradient><linearGradient id="g2_5" gradientUnits="userSpaceOnUse" x1="902.5" x2="1728" y1="0" y2="0"><stop offset="0" stop-color="#00e4ff"/><stop offset="0.1" stop-color="#00e4ff"/><stop offset="0.2" stop-color="#00e4ff"/><stop offset="0.3" stop-color="#00e4ff"/><stop offset="0.4" stop-color="#00e4ff"/><stop offset="0.5" stop-color="#2a8cff"/><stop offset="0.6" stop-color="#00ffae"/><stop offset="0.7" stop-color="#0cff50"/><stop offset="0.8" stop-color="#00ffae"/><stop offset="0.9" stop-color="#00e4ff"/><stop offset="1" stop-color="#e000e6"/></linearGradient><linearGradient id="g2_6" gradientUnits="userSpaceOnUse" x1="902.5" x2="1728" y1="0" y2="0"><stop offset="0" stop-color="#7828ff"/><stop offset="0.1" stop-color="#2a8cff"/><stop offset="0.2" stop-color="#00e4ff"/><stop offset="0.3" stop-color="#00e4ff"/><stop offset="0.4" stop-color="#00e4ff"/><stop offset="0.5" stop-color="#00e4ff"/><stop offset="0.6" stop-color="#00ffae"/><stop offset="0.7" stop-color="#0cff50"/><stop offset="0.8" stop-color="#00ffae"/><stop offset="0.9" stop-color="#2a8cff"/><stop offset="1" stop-color="#00e4ff"/></linearGradient><linearGradient id="g2_7" gradientUnits="userSpaceOnUse" x1="902.5" x2="1728" y1="0" y2="0"><stop offset="0" stop-color="#00e4ff"/><stop offset="0.1" stop-color="#00e4ff"/><stop offset="0.2" stop-color="#00e4ff"/><stop offset="0.3" stop-color="#00ffae"/><stop offset="0.4" stop-color="#00ffae"/><stop offset="0.5" stop-color="#00ffae"/><stop offset="0.6" stop-color="#00ffae"/><stop offset="0.7" stop-color="#00ffae"/><stop offset="0.8" stop-color="#00ffae"/><stop offset="0.9" stop-color="#2a8cff"/><stop offset="1" stop-color="#00e4ff"/></linearGradient><linearGradient id="g2_8" gradientUnits="userSpaceOnUse" x1="902.5" x2="1728" y1="0" y2="0"><stop offset="0" stop-color="#00ffae"/><stop offset="0.1" stop-color="#00ffae"/><stop offset="0.2" stop-color="#00ffae"/><stop offset="0.3" stop-color="#00ffae"/><stop offset="0.4" stop-color="#00ffae"/><stop offset="0.5" stop-color="#00ffae"/><stop offset="0.6" stop-color="#00ffae"/><stop offset="0.7" stop-color="#00ffae"/><stop offset="0.8" stop-color="#00e4ff"/><stop offset="0.9" stop-color="#00e4ff"/><stop offset="1" stop-color="#7828ff"/></linearGradient><linearGradient id="g2_9" gradientUnits="userSpaceOnUse" x1="902.5" x2="1728" y1="0" y2="0"><stop offset="0" stop-color="#0cff50"/><stop offset="0.1" stop-color="#0cff50"/><stop offset="0.2" stop-color="#00ffae"/><stop offset="0.3" stop-color="#00e4ff"/><stop offset="0.4" stop-color="#00ffae"/><stop offset="0.5" stop-color="#00ffae"/><stop offset="0.6" stop-color="#00ffae"/><stop offset="0.7" stop-color="#00e4ff"/><stop offset="0.8" stop-color="#0cff50"/><stop offset="0.9" stop-color="#e000e6"/><stop offset="1" stop-color="#00ffae"/></linearGradient><linearGradient id="g2_10" gradientUnits="userSpaceOnUse" x1="902.5" x2="1728" y1="0" y2="0"><stop offset="0" stop-color="#0cff50"/><stop offset="0.1" stop-color="#0cff50"/><stop offset="0.2" stop-color="#00e4ff"/><stop offset="0.3" stop-color="#00e4ff"/><stop offset="0.4" stop-color="#00ffae"/><stop offset="0.5" stop-color="#00ffae"/><stop offset="0.6" stop-color="#00e4ff"/><stop offset="0.7" stop-color="#00e4ff"/><stop offset="0.8" stop-color="#0cff50"/><stop offset="0.9" stop-color="#0cff50"/><stop offset="1" stop-color="#00ffae"/></linearGradient><linearGradient id="g2_11" gradientUnits="userSpaceOnUse" x1="902.5" x2="1728" y1="0" y2="0"><stop offset="0" stop-color="#0cff50"/><stop offset="0.1" stop-color="#00ffae"/><stop offset="0.2" stop-color="#00e4ff"/><stop offset="0.3" stop-color="#00e4ff"/><stop offset="0.4" stop-color="#00e4ff"/><stop offset="0.5" stop-color="#00e4ff"/><stop offset="0.6" stop-color="#00e4ff"/><stop offset="0.7" stop-color="#00e4ff"/><stop offset="0.8" stop-color="#00e4ff"/><stop offset="0.9" stop-color="#0cff50"/><stop offset="1" stop-color="#7828ff"/></linearGradient><linearGradient id="g2_12" gradientUnits="userSpaceOnUse" x1="902.5" x2="1728" y1="0" y2="0"><stop offset="0" stop-color="#00ffae"/><stop offset="0.1" stop-color="#00e4ff"/><stop offset="0.2" stop-color="#2a8cff"/><stop offset="0.3" stop-color="#00e4ff"/><stop offset="0.4" stop-color="#00e4ff"/><stop offset="0.5" stop-color="#00e4ff"/><stop offset="0.6" stop-color="#00e4ff"/><stop offset="0.7" stop-color="#e000e6"/><stop offset="0.8" stop-color="#00e4ff"/><stop offset="0.9" stop-color="#00e4ff"/><stop offset="1" stop-color="#0cff50"/></linearGradient><linearGradient id="g2_13" gradientUnits="userSpaceOnUse" x1="902.5" x2="1728" y1="0" y2="0"><stop offset="0" stop-color="#e000e6"/><stop offset="0.1" stop-color="#2a8cff"/><stop offset="0.2" stop-color="#2a8cff"/><stop offset="0.3" stop-color="#0cff50"/><stop offset="0.4" stop-color="#0cff50"/><stop offset="0.5" stop-color="#2a8cff"/><stop offset="0.6" stop-color="#00e4ff"/><stop offset="0.7" stop-color="#2a8cff"/><stop offset="0.8" stop-color="#e000e6"/><stop offset="0.9" stop-color="#00ffae"/><stop offset="1" stop-color="#0cff50"/></linearGradient><linearGradient id="g2_14" gradientUnits="userSpaceOnUse" x1="902.5" x2="1728" y1="0" y2="0"><stop offset="0" stop-color="#e000e6"/><stop offset="0.1" stop-color="#2a8cff"/><stop offset="0.2" stop-color="#00e4ff"/><stop offset="0.3" stop-color="#0cff50"/><stop offset="0.4" stop-color="#0cff50"/><stop offset="0.5" stop-color="#2a8cff"/><stop offset="0.6" stop-color="#00e4ff"/><stop offset="0.7" stop-color="#2a8cff"/><stop offset="0.8" stop-color="#2a8cff"/><stop offset="0.9" stop-color="#00ffae"/><stop offset="1" stop-color="#00e4ff"/></linearGradient><linearGradient id="g2_15" gradientUnits="userSpaceOnUse" x1="902.5" x2="1728" y1="0" y2="0"><stop offset="0" stop-color="#2a8cff"/><stop offset="0.1" stop-color="#00e4ff"/><stop offset="0.2" stop-color="#0cff50"/><stop offset="0.3" stop-color="#0cff50"/><stop offset="0.4" stop-color="#0cff50"/><stop offset="0.5" stop-color="#00e4ff"/><stop offset="0.6" stop-color="#2a8cff"/><stop offset="0.7" stop-color="#2a8cff"/><stop offset="0.8" stop-color="#2a8cff"/><stop offset="0.9" stop-color="#00e4ff"/><stop offset="1" stop-color="#00ffae"/></linearGradient><linearGradient id="g2_16" gradientUnits="userSpaceOnUse" x1="902.5" x2="1728" y1="0" y2="0"><stop offset="0" stop-color="#0cff50"/><stop offset="0.1" stop-color="#0cff50"/><stop offset="0.2" stop-color="#0cff50"/><stop offset="0.3" stop-color="#0cff50"/><stop offset="0.4" stop-color="#0cff50"/><stop offset="0.5" stop-color="#00e4ff"/><stop offset="0.6" stop-color="#2a8cff"/><stop offset="0.7" stop-color="#00e4ff"/><stop offset="0.8" stop-color="#00e4ff"/><stop offset="0.9" stop-color="#2a8cff"/><stop offset="1" stop-color="#00e4ff"/></linearGradient><linearGradient id="g2_17" gradientUnits="userSpaceOnUse" x1="902.5" x2="1728" y1="0" y2="0"><stop offset="0" stop-color="#0cff50"/><stop offset="0.1" stop-color="#0cff50"/><stop offset="0.2" stop-color="#0cff50"/><stop offset="0.3" stop-color="#0cff50"/><stop offset="0.4" stop-color="#0cff50"/><stop offset="0.5" stop-color="#00e4ff"/><stop offset="0.6" stop-color="#2a8cff"/><stop offset="0.7" stop-color="#2a8cff"/><stop offset="0.8" stop-color="#e000e6"/><stop offset="0.9" stop-color="#00e4ff"/><stop offset="1" stop-color="#00e4ff"/></linearGradient><linearGradient id="g2_18" gradientUnits="userSpaceOnUse" x1="902.5" x2="1728" y1="0" y2="0"><stop offset="0" stop-color="#0cff50"/><stop offset="0.1" stop-color="#0cff50"/><stop offset="0.2" stop-color="#0cff50"/><stop offset="0.3" stop-color="#0cff50"/><stop offset="0.4" stop-color="#0cff50"/><stop offset="0.5" stop-color="#00e4ff"/><stop offset="0.6" stop-color="#7828ff"/><stop offset="0.7" stop-color="#2a8cff"/><stop offset="0.8" stop-color="#7828ff"/><stop offset="0.9" stop-color="#e000e6"/><stop offset="1" stop-color="#ffff00"/></linearGradient><linearGradient id="g2_19" gradientUnits="userSpaceOnUse" x1="902.5" x2="1728" y1="0" y2="0"><stop offset="0" stop-color="#e000e6"/><stop offset="0.1" stop-color="#e000e6"/><stop offset="0.2" stop-color="#2a8cff"/><stop offset="0.3" stop-color="#00e4ff"/><stop offset="0.4" stop-color="#2a8cff"/><stop offset="0.5" stop-color="#2a8cff"/><stop offset="0.6" stop-color="#2a8cff"/><stop offset="0.7" stop-color="#2a8cff"/><stop offset="0.8" stop-color="#00e4ff"/><stop offset="0.9" stop-color="#00e4ff"/><stop offset="1" stop-color="#00e4ff"/></linearGradient><clipPath id="mc3"><polygon points="289.6,397.1 299.3,376.6 323.4,351.3 352.3,326 371.6,309.2 376.4,294.7 383.6,275.4 395.7,268.2 417.3,258.6 448.7,254.9 472.8,250.1 496.9,246.5 521,244.1 542.7,240.5 554.7,241.7 569.2,250.1 593.3,256.1 617.3,256.1 655.9,262.2 657.1,299.5 636.6,314 627,328.4 612.5,350.1 593.3,364.6 578.8,376.6 575.2,386.3 545,388.7 521,388.7 496.9,386.3 472.8,383.9 448.7,381.4 424.6,382.7 400.5,386.3 376.4,388.7 352.3,392.3 328.2,397.1 311.3,398.3"/></clipPath><linearGradient id="mb3" x1="0" y1="0" x2="0" y2="1"><stop offset="0" stop-color="#20b090"/><stop offset="1" stop-color="#30c470"/></linearGradient><clipPath id="fc3"><polygon points="289.6,397.1 311.3,398.3 328.2,397.1 352.3,392.3 376.4,388.7 400.5,386.3 424.6,382.7 448.7,381.4 472.8,383.9 496.9,386.3 521,388.7 545,388.7 575.2,386.3 575.2,436.9 571.6,442.9 557.1,442.9 533,440.5 511.3,436.9 496.9,432 487.2,424.8 472.8,415.2 458.3,410.4 443.9,409.2 429.4,417.6 414.9,427.2 395.7,438.1 376.4,445.3 352.3,448.9 328.2,451.3 301.7,452.5 289.6,397.2"/></clipPath><clipPath id="rc3"><polygon points="575.2,386.3 578.8,376.6 593.3,364.6 612.5,350.1 627,328.4 636.6,314 657.1,299.5 657.1,299.6 654,336 641.4,350.1 627,374.2 612.5,393.5 593.3,417.6 575.2,436.9"/></clipPath><linearGradient id="wm3" x1="0" y1="0" x2="0" y2="1"><stop offset="0" stop-color="#d4009a"/><stop offset="1" stop-color="#a428b4"/></linearGradient><linearGradient id="wp3" x1="0" y1="0" x2="0" y2="1"><stop offset="0" stop-color="#cc00cc"/><stop offset="1" stop-color="#a028d8"/></linearGradient><linearGradient id="lgd3" x1="0" y1="0" x2="0" y2="1"><stop offset="0" stop-color="#2222ff"/><stop offset="0.1" stop-color="#0a78ff"/><stop offset="0.2" stop-color="#00ccff"/><stop offset="0.26" stop-color="#00ffff"/><stop offset="0.35" stop-color="#00ffaa"/><stop offset="0.45" stop-color="#00ff44"/><stop offset="0.5" stop-color="#22ee00"/><stop offset="0.58" stop-color="#88f800"/><stop offset="0.66" stop-color="#ccff00"/><stop offset="0.75" stop-color="#ffff00"/><stop offset="0.84" stop-color="#ffb400"/><stop offset="0.92" stop-color="#ff7800"/><stop offset="1" stop-color="#ff2200"/></linearGradient><linearGradient id="hs3" x1="0" y1="0" x2="0" y2="1"><stop offset="0" stop-color="#2222ff"/><stop offset="0.1" stop-color="#0a78ff"/><stop offset="0.2" stop-color="#00ccff"/><stop offset="0.26" stop-color="#00ffff"/><stop offset="0.35" stop-color="#00ffaa"/><stop offset="0.45" stop-color="#00ff44"/><stop offset="0.5" stop-color="#22ee00"/><stop offset="0.58" stop-color="#88f800"/><stop offset="0.66" stop-color="#ccff00"/><stop offset="0.75" stop-color="#ffff00"/><stop offset="0.84" stop-color="#ffb400"/><stop offset="0.92" stop-color="#ff7800"/><stop offset="1" stop-color="#ff2200"/></linearGradient><clipPath id="sc3"><polygon points="902.5,327.4 908.5,327.6 914.5,327.8 920.5,328.1 926.5,328.3 932.5,328.7 938.5,329.1 944.5,329.6 950.5,330 956.5,330.4 962.5,330.8 968.5,331.2 974.5,331.5 980.5,331.8 986.5,332.1 992.5,332.4 998.5,332.7 1004.5,332.8 1010.5,332.6 1016.5,332.4 1022.5,332.1 1028.5,331.9 1034.5,331.6 1040.5,331.5 1046.5,331.3 1052.5,331.2 1058.5,331.1 1064.5,331 1070.5,330.9 1076.5,330.8 1082.5,330.7 1088.5,330.6 1094.5,330.5 1100.5,330.4 1106.5,330.3 1112.5,330.2 1118.5,330.2 1124.5,329.9 1130.5,329.3 1136.5,328.7 1142.5,328.2 1148.5,327.8 1154.5,327.5 1160.5,327.1 1166.5,326.7 1172.5,326.5 1178.5,326.3 1184.5,326.1 1190.5,325.9 1196.5,325.7 1202.5,325.5 1208.5,323.3 1214.5,320.7 1220.5,319.4 1226.5,318.1 1232.5,316.8 1233.6,316.6 1234,316.5 1238.5,315.8 1244.5,315 1250.5,314.2 1256.5,313.4 1262.5,312.7 1268.5,311.9 1274.5,311.1 1280.5,310.6 1286.5,310.1 1292.5,309.5 1298.5,309 1304.5,308.4 1310.5,307.9 1316.5,307.4 1322.5,306.9 1328.5,306.4 1334.5,305.9 1340.5,305.8 1346.5,305.8 1352.5,305.8 1358.5,306.1 1364.5,306.8 1370.5,307.4 1376.5,308.6 1382.5,312.9 1388.5,316.4 1394.5,317.8 1400.5,318.4 1406.5,319 1412.5,319.6 1418.5,320.2 1424.5,320.8 1430.5,321.4 1436.5,322 1442.5,322.6 1448.5,323.2 1454.5,324.1 1460.5,325 1466.5,325.9 1472.5,326.8 1478.5,327.7 1484.5,328.7 1490.5,330 1496.5,331.2 1502.5,332.5 1508.5,334 1514.5,336.6 1520.5,339.1 1526.5,341.6 1532.5,344.1 1538.5,346.4 1544.5,348.7 1550.5,351 1556.5,351.7 1562.5,352.5 1568.5,353.2 1574.5,353.9 1580.5,354.6 1586.5,355.4 1592.5,356 1598.5,356.6 1604.5,357.2 1610.5,357.8 1616.5,358.4 1622.5,359.1 1628.5,359.9 1634.5,360.6 1640.5,361.3 1646.5,361.9 1652.5,361.9 1658.5,361.9 1664.5,361.9 1670.5,361.5 1676.5,360.9 1682.5,360.3 1688.5,359.8 1694.5,359.2 1700.5,358.6 1706.5,358.1 1712.5,357.5 1718.5,357.4 1724.5,357.3 1728,357.3 1728,477.9 1724.5,477.3 1718.5,476.2 1712.5,475.1 1706.5,474.1 1700.5,473.1 1694.5,472.3 1688.5,471.4 1682.5,470.7 1676.5,471.1 1670.5,471.6 1664.5,472.1 1658.5,472.6 1652.5,473 1646.5,472.6 1640.5,472.3 1634.5,472 1628.5,471.7 1622.5,471.3 1616.5,470.8 1610.5,469.8 1604.5,468.8 1598.5,467.8 1592.5,466.8 1586.5,465.5 1580.5,464.1 1574.5,462.7 1568.5,461.3 1562.5,459.9 1556.5,458.2 1550.5,456.5 1544.5,454.8 1538.5,453.1 1532.5,448.4 1526.5,444.8 1520.5,441.2 1514.5,437.4 1508.5,433.6 1502.5,427.3 1496.5,420.8 1490.5,417.1 1484.5,414 1478.5,411.3 1472.5,408.7 1466.5,406 1460.5,403.1 1454.5,400.1 1448.5,397.1 1442.5,394.5 1436.5,392.6 1430.5,390.8 1424.5,388.9 1418.5,386.3 1412.5,383.4 1406.5,380.6 1400.5,377.7 1394.5,375.1 1388.5,372.4 1382.5,368.6 1376.5,363.3 1370.5,360.4 1364.5,358.9 1358.5,359.1 1352.5,359.9 1346.5,360.9 1340.5,362 1334.5,363.1 1328.5,364.6 1322.5,366.1 1316.5,367.6 1310.5,369.1 1304.5,370.6 1298.5,371.8 1292.5,373 1286.5,374.1 1280.5,374.4 1274.5,374.7 1268.5,375.1 1262.5,375.6 1256.5,377.8 1250.5,379.9 1244.5,382.9 1238.5,386 1234,388.3 1233.6,397.9 1232.5,397.8 1226.5,397.1 1220.5,396.8 1214.5,397.2 1208.5,397.7 1202.5,399.1 1196.5,401.1 1190.5,403.1 1184.5,405.7 1178.5,408.3 1172.5,410.9 1166.5,413.3 1160.5,415.1 1154.5,416.9 1148.5,418.2 1142.5,419.2 1136.5,420.1 1130.5,421 1124.5,421.9 1118.5,422.7 1112.5,423.4 1106.5,424.1 1100.5,424.8 1094.5,425.5 1088.5,426.2 1082.5,426.7 1076.5,427 1070.5,427.4 1064.5,427.8 1058.5,428.3 1052.5,428.8 1046.5,429.5 1040.5,430.5 1034.5,431.5 1028.5,432 1022.5,432.3 1016.5,431.5 1010.5,430.6 1004.5,429.7 998.5,428.6 992.5,427.5 986.5,426.4 980.5,424.9 974.5,423.4 968.5,421.9 962.5,421 956.5,421 950.5,421 944.5,421 938.5,421.5 932.5,422.2 926.5,422.8 920.5,422.4 914.5,421.3 908.5,420.7 902.5,420.1"/></clipPath><linearGradient id="g3_0" gradientUnits="userSpaceOnUse" x1="902.5" x2="1728" y1="0" y2="0"><stop offset="0" stop-color="#0018f0"/><stop offset="0.1" stop-color="#0018f0"/><stop offset="0.2" stop-color="#0018f0"/><stop offset="0.3" stop-color="#0018f0"/><stop offset="0.4" stop-color="#00dcff"/><stop offset="0.5" stop-color="#a0f020"/><stop offset="0.6" stop-color="#0018f0"/><stop offset="0.7" stop-color="#0018f0"/><stop offset="0.8" stop-color="#0018f0"/><stop offset="0.9" stop-color="#0018f0"/><stop offset="1" stop-color="#0018f0"/></linearGradient><linearGradient id="g3_1" gradientUnits="userSpaceOnUse" x1="902.5" x2="1728" y1="0" y2="0"><stop offset="0" stop-color="#0018f0"/><stop offset="0.1" stop-color="#00dcff"/><stop offset="0.2" stop-color="#00dcff"/><stop offset="0.3" stop-color="#0018f0"/><stop offset="0.4" stop-color="#0018f0"/><stop offset="0.5" stop-color="#a0f020"/><stop offset="0.6" stop-color="#a0f020"/><stop offset="0.7" stop-color="#a0f020"/><stop offset="0.8" stop-color="#00dcff"/><stop offset="0.9" stop-color="#00dcff"/><stop offset="1" stop-color="#0018f0"/></linearGradient><linearGradient id="g3_2" gradientUnits="userSpaceOnUse" x1="902.5" x2="1728" y1="0" y2="0"><stop offset="0" stop-color="#ff9000"/><stop offset="0.1" stop-color="#0018f0"/><stop offset="0.2" stop-color="#0018f0"/><stop offset="0.3" stop-color="#0018f0"/><stop offset="0.4" stop-color="#0018f0"/><stop offset="0.5" stop-color="#00dcff"/><stop offset="0.6" stop-color="#a0f020"/><stop offset="0.7" stop-color="#a0f020"/><stop offset="0.8" stop-color="#a0f020"/><stop offset="0.9" stop-color="#a0f020"/><stop offset="1" stop-color="#a0f020"/></linearGradient><linearGradient id="g3_3" gradientUnits="userSpaceOnUse" x1="902.5" x2="1728" y1="0" y2="0"><stop offset="0" stop-color="#0018f0"/><stop offset="0.1" stop-color="#0018f0"/><stop offset="0.2" stop-color="#0018f0"/><stop offset="0.3" stop-color="#00dcff"/><stop offset="0.4" stop-color="#00dcff"/><stop offset="0.5" stop-color="#00dcff"/><stop offset="0.6" stop-color="#a0f020"/><stop offset="0.7" stop-color="#00dcff"/><stop offset="0.8" stop-color="#a0f020"/><stop offset="0.9" stop-color="#a0f020"/><stop offset="1" stop-color="#a0f020"/></linearGradient><linearGradient id="g3_4" gradientUnits="userSpaceOnUse" x1="902.5" x2="1728" y1="0" y2="0"><stop offset="0" stop-color="#a0f020"/><stop offset="0.1" stop-color="#a0f020"/><stop offset="0.2" stop-color="#a0f020"/><stop offset="0.3" stop-color="#a0f020"/><stop offset="0.4" stop-color="#ff9000"/><stop offset="0.5" stop-color="#ff9000"/><stop offset="0.6" stop-color="#ff1800"/><stop offset="0.7" stop-color="#ff1800"/><stop offset="0.8" stop-color="#ff9000"/><stop offset="0.9" stop-color="#f8f000"/><stop offset="1" stop-color="#f8f000"/></linearGradient><linearGradient id="g3_5" gradientUnits="userSpaceOnUse" x1="902.5" x2="1728" y1="0" y2="0"><stop offset="0" stop-color="#f8f000"/><stop offset="0.1" stop-color="#a0f020"/><stop offset="0.2" stop-color="#a0f020"/><stop offset="0.3" stop-color="#ff9000"/><stop offset="0.4" stop-color="#ff9000"/><stop offset="0.5" stop-color="#ff9000"/><stop offset="0.6" stop-color="#ff1800"/><stop offset="0.7" stop-color="#ff1800"/><stop offset="0.8" stop-color="#ff1800"/><stop offset="0.9" stop-color="#ff9000"/><stop offset="1" stop-color="#ff9000"/></linearGradient><linearGradient id="g3_6" gradientUnits="userSpaceOnUse" x1="902.5" x2="1728" y1="0" y2="0"><stop offset="0" stop-color="#ff1800"/><stop offset="0.1" stop-color="#ff1800"/><stop offset="0.2" stop-color="#f8f000"/><stop offset="0.3" stop-color="#f8f000"/><stop offset="0.4" stop-color="#a0f020"/><stop offset="0.5" stop-color="#a0f020"/><stop offset="0.6" stop-color="#00dcff"/><stop offset="0.7" stop-color="#00dcff"/><stop offset="0.8" stop-color="#ff1800"/><stop offset="0.9" stop-color="#ff1800"/><stop offset="1" stop-color="#ff9000"/></linearGradient><linearGradient id="g3_7" gradientUnits="userSpaceOnUse" x1="902.5" x2="1728" y1="0" y2="0"><stop offset="0" stop-color="#f8f000"/><stop offset="0.1" stop-color="#f8f000"/><stop offset="0.2" stop-color="#ff9000"/><stop offset="0.3" stop-color="#a0f020"/><stop offset="0.4" stop-color="#a0f020"/><stop offset="0.5" stop-color="#a0f020"/><stop offset="0.6" stop-color="#00dcff"/><stop offset="0.7" stop-color="#00dcff"/><stop offset="0.8" stop-color="#0018f0"/><stop offset="0.9" stop-color="#a0f020"/><stop offset="1" stop-color="#00dcff"/></linearGradient><linearGradient id="g3_8" gradientUnits="userSpaceOnUse" x1="902.5" x2="1728" y1="0" y2="0"><stop offset="0" stop-color="#a0f020"/><stop offset="0.1" stop-color="#a0f020"/><stop offset="0.2" stop-color="#ff1800"/><stop offset="0.3" stop-color="#ff9000"/><stop offset="0.4" stop-color="#f8f000"/><stop offset="0.5" stop-color="#00dcff"/><stop offset="0.6" stop-color="#ff9000"/><stop offset="0.7" stop-color="#ff9000"/><stop offset="0.8" stop-color="#00dcff"/><stop offset="0.9" stop-color="#0018f0"/><stop offset="1" stop-color="#0018f0"/></linearGradient><linearGradient id="g3_9" gradientUnits="userSpaceOnUse" x1="902.5" x2="1728" y1="0" y2="0"><stop offset="0" stop-color="#0018f0"/><stop offset="0.1" stop-color="#0018f0"/><stop offset="0.2" stop-color="#f8f000"/><stop offset="0.3" stop-color="#a0f020"/><stop offset="0.4" stop-color="#a0f020"/><stop offset="0.5" stop-color="#00dcff"/><stop offset="0.6" stop-color="#ff9000"/><stop offset="0.7" stop-color="#ff9000"/><stop offset="0.8" stop-color="#ff9000"/><stop offset="0.9" stop-color="#00dcff"/><stop offset="1" stop-color="#0018f0"/></linearGradient><linearGradient id="g3_10" gradientUnits="userSpaceOnUse" x1="902.5" x2="1728" y1="0" y2="0"><stop offset="0" stop-color="#0018f0"/><stop offset="0.1" stop-color="#0018f0"/><stop offset="0.2" stop-color="#0018f0"/><stop offset="0.3" stop-color="#0018f0"/><stop offset="0.4" stop-color="#ff9000"/><stop offset="0.5" stop-color="#ff1800"/><stop offset="0.6" stop-color="#f8f000"/><stop offset="0.7" stop-color="#ff9000"/><stop offset="0.8" stop-color="#ff9000"/><stop offset="0.9" stop-color="#a0f020"/><stop offset="1" stop-color="#ff9000"/></linearGradient><linearGradient id="g3_11" gradientUnits="userSpaceOnUse" x1="902.5" x2="1728" y1="0" y2="0"><stop offset="0" stop-color="#0018f0"/><stop offset="0.1" stop-color="#0018f0"/><stop offset="0.2" stop-color="#0018f0"/><stop offset="0.3" stop-color="#0018f0"/><stop offset="0.4" stop-color="#0018f0"/><stop offset="0.5" stop-color="#ff9000"/><stop offset="0.6" stop-color="#a0f020"/><stop offset="0.7" stop-color="#f8f000"/><stop offset="0.8" stop-color="#f8f000"/><stop offset="0.9" stop-color="#ff9000"/><stop offset="1" stop-color="#ff9000"/></linearGradient><linearGradient id="g3_12" gradientUnits="userSpaceOnUse" x1="902.5" x2="1728" y1="0" y2="0"><stop offset="0" stop-color="#0018f0"/><stop offset="0.1" stop-color="#0018f0"/><stop offset="0.2" stop-color="#00dcff"/><stop offset="0.3" stop-color="#a0f020"/><stop offset="0.4" stop-color="#0018f0"/><stop offset="0.5" stop-color="#0018f0"/><stop offset="0.6" stop-color="#00dcff"/><stop offset="0.7" stop-color="#a0f020"/><stop offset="0.8" stop-color="#a0f020"/><stop offset="0.9" stop-color="#f8f000"/><stop offset="1" stop-color="#f8f000"/></linearGradient><linearGradient id="g3_13" gradientUnits="userSpaceOnUse" x1="902.5" x2="1728" y1="0" y2="0"><stop offset="0" stop-color="#0018f0"/><stop offset="0.1" stop-color="#ff9000"/><stop offset="0.2" stop-color="#ff9000"/><stop offset="0.3" stop-color="#30ff50"/><stop offset="0.4" stop-color="#00dcff"/><stop offset="0.5" stop-color="#0018f0"/><stop offset="0.6" stop-color="#00dcff"/><stop offset="0.7" stop-color="#00dcff"/><stop offset="0.8" stop-color="#ff1800"/><stop offset="0.9" stop-color="#ff1800"/><stop offset="1" stop-color="#ff9000"/></linearGradient><linearGradient id="g3_14" gradientUnits="userSpaceOnUse" x1="902.5" x2="1728" y1="0" y2="0"><stop offset="0" stop-color="#00dcff"/><stop offset="0.1" stop-color="#0018f0"/><stop offset="0.2" stop-color="#00ffb0"/><stop offset="0.3" stop-color="#a0f020"/><stop offset="0.4" stop-color="#30ff50"/><stop offset="0.5" stop-color="#0018f0"/><stop offset="0.6" stop-color="#0018f0"/><stop offset="0.7" stop-color="#00dcff"/><stop offset="0.8" stop-color="#a0f020"/><stop offset="0.9" stop-color="#a0f020"/><stop offset="1" stop-color="#a0f020"/></linearGradient><linearGradient id="g3_15" gradientUnits="userSpaceOnUse" x1="902.5" x2="1728" y1="0" y2="0"><stop offset="0" stop-color="#0018f0"/><stop offset="0.1" stop-color="#00dcff"/><stop offset="0.2" stop-color="#a0f020"/><stop offset="0.3" stop-color="#00dcff"/><stop offset="0.4" stop-color="#a0f020"/><stop offset="0.5" stop-color="#0018f0"/><stop offset="0.6" stop-color="#00dcff"/><stop offset="0.7" stop-color="#0018f0"/><stop offset="0.8" stop-color="#30ff50"/><stop offset="0.9" stop-color="#a0f020"/><stop offset="1" stop-color="#00dcff"/></linearGradient><linearGradient id="g3_16" gradientUnits="userSpaceOnUse" x1="902.5" x2="1728" y1="0" y2="0"><stop offset="0" stop-color="#00dcff"/><stop offset="0.1" stop-color="#30ff50"/><stop offset="0.2" stop-color="#0018f0"/><stop offset="0.3" stop-color="#0018f0"/><stop offset="0.4" stop-color="#00dcff"/><stop offset="0.5" stop-color="#0018f0"/><stop offset="0.6" stop-color="#00dcff"/><stop offset="0.7" stop-color="#0018f0"/><stop offset="0.8" stop-color="#a0f020"/><stop offset="0.9" stop-color="#00dcff"/><stop offset="1" stop-color="#00dcff"/></linearGradient><linearGradient id="g3_17" gradientUnits="userSpaceOnUse" x1="902.5" x2="1728" y1="0" y2="0"><stop offset="0" stop-color="#ff9000"/><stop offset="0.1" stop-color="#ff9000"/><stop offset="0.2" stop-color="#a0f020"/><stop offset="0.3" stop-color="#a0f020"/><stop offset="0.4" stop-color="#0018f0"/><stop offset="0.5" stop-color="#0018f0"/><stop offset="0.6" stop-color="#0018f0"/><stop offset="0.7" stop-color="#0018f0"/><stop offset="0.8" stop-color="#0018f0"/><stop offset="0.9" stop-color="#0018f0"/><stop offset="1" stop-color="#0018f0"/></linearGradient><linearGradient id="g3_18" gradientUnits="userSpaceOnUse" x1="902.5" x2="1728" y1="0" y2="0"><stop offset="0" stop-color="#00dcff"/><stop offset="0.1" stop-color="#00dcff"/><stop offset="0.2" stop-color="#00dcff"/><stop offset="0.3" stop-color="#a0f020"/><stop offset="0.4" stop-color="#00dcff"/><stop offset="0.5" stop-color="#00dcff"/><stop offset="0.6" stop-color="#0018f0"/><stop offset="0.7" stop-color="#0018f0"/><stop offset="0.8" stop-color="#0018f0"/><stop offset="0.9" stop-color="#0018f0"/><stop offset="1" stop-color="#0018f0"/></linearGradient><linearGradient id="g3_19" gradientUnits="userSpaceOnUse" x1="902.5" x2="1728" y1="0" y2="0"><stop offset="0" stop-color="#00dcff"/><stop offset="0.1" stop-color="#0018f0"/><stop offset="0.2" stop-color="#00dcff"/><stop offset="0.3" stop-color="#a0f020"/><stop offset="0.4" stop-color="#a0f020"/><stop offset="0.5" stop-color="#00dcff"/><stop offset="0.6" stop-color="#0018f0"/><stop offset="0.7" stop-color="#ff1800"/><stop offset="0.8" stop-color="#a0f020"/><stop offset="0.9" stop-color="#a0f020"/><stop offset="1" stop-color="#a0f020"/></linearGradient></defs>
<rect x="53.1" y="16.3" width="788.1" height="555.7" fill="#f0f0f0"/>
<polygon points="317.2,56.6 706.9,62.4 666.5,363 364.6,362.5" fill="#f5f5f5"/><polygon points="364.6,362.5 666.5,363 708.2,526.8 308.6,526.8" fill="#f5f5f5"/><polygon points="220.3,143.4 317.2,56.6 364.6,362.5 308.6,526.8" fill="#f5f5f5"/><polygon points="706.9,62.4 777.8,147.1 708.2,526.8 666.5,363" fill="#f5f5f5"/><path d="M317.2 56.6L364.6 362.5M356.8 57.2L395.2 362.6M396.2 57.8L425.6 362.6M435.5 58.4L456 362.7M474.7 58.9L486.3 362.7M513.7 59.5L516.5 362.8M552.6 60.1L546.7 362.8M591.4 60.7L576.8 362.9M630 61.3L606.8 362.9M668.5 61.8L636.7 363M706.9 62.4L666.5 363M317.2 56.6L706.9 62.4M322.6 91.6L702.3 96.7M327.8 124.9L697.9 129.3M332.7 156.5L693.7 160.3M337.3 186.6L689.8 189.9M341.8 215.3L686 218M346 242.6L682.4 244.9M350.1 268.8L678.9 270.6M353.9 293.7L675.6 295.2M357.6 317.7L672.4 318.8M361.2 340.6L669.4 341.4M364.6 362.5L666.5 363M364.6 362.5L308.6 526.8M394.9 362.6L348.7 526.8M425.1 362.6L388.8 526.8M455.4 362.7L428.8 526.8M485.6 362.7L468.8 526.8M515.8 362.8L508.8 526.8M546 362.8L548.7 526.8M576.1 362.9L588.7 526.8M606.3 362.9L628.5 526.8M636.4 363L668.4 526.8M666.5 363L708.2 526.8M364.6 362.5L666.5 363M360.3 375.2L669.7 375.7M355.7 388.6L673.1 389M350.9 402.7L676.7 403.1M345.8 417.5L680.5 417.9M340.5 433.2L684.5 433.5M334.9 449.8L688.7 450M328.9 467.3L693.1 467.5M322.5 485.9L697.8 486.1M315.8 505.7L702.9 505.8M308.6 526.8L708.2 526.8M220.3 143.4L308.6 526.8M233.7 131.4L315.8 505.7M246 120.4L322.6 485.9M257.3 110.2L328.9 467.2M267.8 100.8L334.9 449.7M277.5 92.1L340.5 433.1M286.6 84L345.9 417.4M295 76.5L350.9 402.6M302.9 69.4L355.7 388.5M310.3 62.8L360.3 375.2M317.2 56.6L364.6 362.5M220.3 143.4L317.2 56.6M230.8 189.1L322.5 90.5M240.7 232.1L327.5 122.9M250 272.6L332.3 154M258.8 310.7L336.9 183.8M267.1 346.7L341.3 212.4M275 380.8L345.6 239.9M282.4 413.1L349.7 266.3M289.5 443.7L353.6 291.7M296.2 472.8L357.4 316.2M302.5 500.4L361.1 339.8M308.6 526.8L364.6 362.5M706.9 62.4L666.5 363M712 68.5L669.7 375.7M717.5 75.1L673.1 389M723.3 82L676.7 403M729.5 89.4L680.4 417.8M736.2 97.4L684.4 433.4M743.3 105.9L688.6 449.9M751 115L693.1 467.4M759.2 124.9L697.8 486M768.1 135.5L702.8 505.8M777.8 147.1L708.2 526.8M706.9 62.4L777.8 147.1M702.6 94.7L769.8 190.5M698.4 125.9L762.3 231.8M694.3 156L755.1 271M690.4 185L748.2 308.3M686.7 213L741.7 343.9M683 240.1L735.5 377.9M679.5 266.3L729.5 410.3M676.1 291.7L723.9 441.4M672.8 316.2L718.4 471.1M669.6 340L713.2 499.5M666.5 363L708.2 526.8" stroke="#c9c9c9" stroke-width="0.9" fill="none"/><polygon points="277.9,108.4 738,115.2 687.4,442.4 336.5,437.5" fill="#b6d6e6" fill-opacity="0.76"/><polygon points="277.9,108.4 738,115.2 687.4,442.4 336.5,437.5" fill="none" stroke="#858585" stroke-width="2.6" stroke-linejoin="miter"/><g transform="matrix(1,0,0,1,0,0)"><polygon points="289.6,397.1 311.3,398.3 328.2,397.1 352.3,392.3 376.4,388.7 400.5,386.3 424.6,382.7 448.7,381.4 472.8,383.9 496.9,386.3 521,388.7 545,388.7 575.2,386.3 575.2,436.9 571.6,442.9 557.1,442.9 533,440.5 511.3,436.9 496.9,432 487.2,424.8 472.8,415.2 458.3,410.4 443.9,409.2 429.4,417.6 414.9,427.2 395.7,438.1 376.4,445.3 352.3,448.9 328.2,451.3 301.7,452.5 289.6,397.2" fill="#10c81c"/><g clip-path="url(#fc0)"><polygon points="395,400.2 398.1,399.6 401.1,398.9 404.2,398.1 407.2,397.3 410.3,396.5 413.3,395.7 416.4,394.9 419.4,394.1 422.5,393.2 425.5,392.4 428.6,391.8 431.7,391.2 434.7,390.6 437.8,390 440.8,389.4 443.9,388.8 446.9,388.8 450,388.9 453,389.2 456.1,389.5 459.1,389.8 462.2,390.3 465.2,390.8 468.3,391.3 471.4,391.8 474.4,392.4 477.5,393.2 480.5,393.9 483.6,394.7 486.6,395.5 489.7,396.3 492.7,397.1 495.8,397.9 498.8,398.5 501.9,399 505,399.5 508,400 511.1,400.5 514.1,400.8 517.2,401.2 520.2,401.6 523.3,401.7 526.3,401.9 529.4,402 532.4,402.1 535.5,402.2 538.5,402.3 541.6,402.4 544.7,402.5 547.7,402.4 550.8,402.3 553.8,402.2 556.9,402.1 559.9,401.9 563,401.7 566,401.6 569.1,401.4 572.1,401 575.2,399.5 575.2,404.5 572.1,406.5 569.1,407 566,407.1 563,407.3 559.9,407.5 556.9,407.6 553.8,407.6 550.8,407.7 547.7,407.7 544.7,407.8 541.6,407.7 538.5,407.5 535.5,407.4 532.4,407.3 529.4,407.1 526.3,406.9 523.3,406.8 520.2,406.5 517.2,406.2 514.1,405.8 511.1,405.4 508,404.8 505,404.3 501.9,403.7 498.8,403.1 495.8,402.4 492.7,401.4 489.7,400.4 486.6,399.4 483.6,398.4 480.5,397.5 477.5,396.6 474.4,395.7 471.4,394.9 468.3,394.3 465.2,393.8 462.2,393.2 459.1,392.6 456.1,392.3 453,392 450,391.7 446.9,391.6 443.9,391.6 440.8,392.3 437.8,393.1 434.7,393.8 431.7,394.6 428.6,395.3 425.5,396.2 422.5,397.1 419.4,398.1 416.4,399.2 413.3,400.1 410.3,401 407.2,402 404.2,402.9 401.1,403.8 398.1,404.6 395,405.4" fill="#c8cc10"/><polygon points="290,428.1 294.8,428.3 299.7,428.4 304.5,428.4 309.3,428.4 314.2,428.2 319,428 323.8,427.7 328.7,427.4 333.5,426.7 338.3,426 343.2,425.3 348,424.6 352.8,423.9 357.7,423.2 362.5,422.5 367.3,421.7 372.2,421 377,420.2 381.8,419 386.7,417.8 391.5,416.6 396.3,415.3 401.2,413.5 406,411.7 410.8,409.8 415.7,407.9 420.5,405.8 425.3,403.7 430.2,401.9 435,400.2 439.9,398.5 444.7,397.1 449.5,397.3 454.4,397.7 459.2,398.3 464,399.4 468.9,400.5 473.7,401.8 478.5,403.8 483.4,405.8 488.2,407.9 493,410.1 497.9,412.1 502.7,413.2 507.5,414.4 512.4,415.4 517.2,416.1 522,416.7 526.9,417.1 531.7,417.6 536.5,417.9 541.4,418.2 546.2,418.4 551,418.5 555.9,418.6 560.7,418.5 565.5,418.3 570.4,418.2 575.2,414.6 575.2,419.7 570.4,423.8 565.5,423.9 560.7,424 555.9,424.1 551,423.9 546.2,423.7 541.4,423.4 536.5,423.1 531.7,422.7 526.9,422.2 522,421.7 517.2,421 512.4,420.3 507.5,419.2 502.7,418 497.9,416.7 493,414.4 488.2,411.9 483.4,409.6 478.5,407.3 473.7,405 468.9,403.6 464,402.3 459.2,401.1 454.4,400.5 449.5,400.1 444.7,399.9 439.9,401.5 435,403.4 430.2,405.3 425.3,407.5 420.5,409.8 415.7,412.2 410.8,414.3 406,416.3 401.2,418.4 396.3,420.4 391.5,421.8 386.7,423.2 381.8,424.5 377,425.9 372.2,426.7 367.3,427.4 362.5,428.1 357.7,428.9 352.8,429.6 348,430.2 343.2,430.9 338.3,431.5 333.5,432.2 328.7,432.8 323.8,433.1 319,433.4 314.2,433.6 309.3,433.8 304.5,433.9 299.7,433.9 294.8,433.8 290,433.7" fill="#c8cc10"/><polygon points="295,437.1 296.1,437.1 297.2,437.1 298.3,437.1 299.4,437.1 300.5,437.2 301.6,437.2 302.7,437.2 303.8,437.1 304.9,437.1 306,437.1 307.1,437.1 308.2,437.1 309.3,437 310.4,437 311.5,437 312.6,436.9 313.7,436.9 314.8,436.8 315.9,436.8 317,436.7 318.1,436.7 319.2,436.6 320.3,436.5 321.4,436.5 322.5,436.4 323.6,436.4 324.7,436.3 325.8,436.2 326.9,436.2 328.1,436.1 329.2,436 330.3,435.9 331.4,435.7 332.5,435.6 333.6,435.4 334.7,435.3 335.8,435.2 336.9,435 338,434.9 339.1,434.7 340.2,434.6 341.3,434.5 342.4,434.3 343.5,434.2 344.6,434 345.7,433.9 346.8,433.8 347.9,433.6 349,433.5 350.1,433.3 351.2,433.2 352.3,433.1 353.4,432.9 354.5,432.7 355.6,432.6 356.7,432.4 357.8,432.2 358.9,432.1 360,431.9 360,434.7 358.9,434.9 357.8,435.1 356.7,435.2 355.6,435.4 354.5,435.6 353.4,435.7 352.3,435.9 351.2,436 350.1,436.2 349,436.3 347.9,436.4 346.8,436.6 345.7,436.7 344.6,436.8 343.5,437 342.4,437.1 341.3,437.2 340.2,437.4 339.1,437.5 338,437.6 336.9,437.8 335.8,437.9 334.7,438 333.6,438.2 332.5,438.3 331.4,438.4 330.3,438.6 329.2,438.7 328.1,438.8 326.9,438.9 325.8,439 324.7,439 323.6,439.1 322.5,439.1 321.4,439.2 320.3,439.2 319.2,439.3 318.1,439.3 317,439.4 315.9,439.5 314.8,439.5 313.7,439.6 312.6,439.6 311.5,439.7 310.4,439.7 309.3,439.7 308.2,439.8 307.1,439.8 306,439.8 304.9,439.8 303.8,439.9 302.7,439.9 301.6,439.9 300.5,439.9 299.4,439.9 298.3,439.9 297.2,439.9 296.1,439.8 295,439.8" fill="#c8cc10"/><polygon points="520,409.5 520.9,409.6 521.9,409.7 522.8,409.7 523.7,409.8 524.7,409.9 525.6,409.9 526.5,410 527.5,410.1 528.4,410.1 529.4,410.2 530.3,410.3 531.2,410.3 532.2,410.4 533.1,410.5 534,410.5 535,410.5 535.9,410.6 536.8,410.6 537.8,410.7 538.7,410.7 539.6,410.7 540.6,410.8 541.5,410.8 542.5,410.9 543.4,410.9 544.3,410.9 545.3,411 546.2,411 547.1,410.9 548.1,410.9 549,410.9 549.9,410.9 550.9,410.9 551.8,410.9 552.7,410.9 553.7,410.9 554.6,410.9 555.6,410.9 556.5,410.9 557.4,410.9 558.4,410.8 559.3,410.8 560.2,410.8 561.2,410.7 562.1,410.7 563,410.6 564,410.6 564.9,410.5 565.8,410.5 566.8,410.5 567.7,410.4 568.7,410.4 569.6,410.3 570.5,410.3 571.5,410.2 572.4,409.6 573.3,408.9 574.3,408.3 575.2,407.6 575.2,410.1 574.3,410.9 573.3,411.6 572.4,412.4 571.5,413.1 570.5,413.1 569.6,413.1 568.7,413.2 567.7,413.2 566.8,413.3 565.8,413.3 564.9,413.3 564,413.4 563,413.4 562.1,413.5 561.2,413.5 560.2,413.5 559.3,413.6 558.4,413.6 557.4,413.7 556.5,413.7 555.6,413.7 554.6,413.7 553.7,413.6 552.7,413.6 551.8,413.6 550.9,413.6 549.9,413.6 549,413.6 548.1,413.6 547.1,413.6 546.2,413.6 545.3,413.6 544.3,413.6 543.4,413.5 542.5,413.5 541.5,413.4 540.6,413.4 539.6,413.4 538.7,413.3 537.8,413.3 536.8,413.2 535.9,413.2 535,413.1 534,413.1 533.1,413.1 532.2,413 531.2,412.9 530.3,412.8 529.4,412.8 528.4,412.7 527.5,412.6 526.5,412.5 525.6,412.5 524.7,412.4 523.7,412.3 522.8,412.3 521.9,412.2 520.9,412.1 520,412" fill="#c8cc10"/><polygon points="500,423.8 501,424.1 502,424.4 503.1,424.7 504.1,425 505.1,425.3 506.1,425.5 507.1,425.8 508.1,426.1 509.2,426.4 510.2,426.7 511.2,427 512.2,427.2 513.2,427.4 514.2,427.5 515.3,427.7 516.3,427.8 517.3,428 518.3,428.1 519.3,428.3 520.3,428.4 521.4,428.6 522.4,428.7 523.4,428.9 524.4,429 525.4,429.1 526.4,429.3 527.5,429.4 528.5,429.5 529.5,429.7 530.5,429.8 531.5,429.9 532.5,430.1 533.6,430.2 534.6,430.3 535.6,430.3 536.6,430.4 537.6,430.5 538.6,430.6 539.7,430.7 540.7,430.8 541.7,430.8 542.7,430.9 543.7,431 544.7,431.1 545.8,431.1 546.8,431.2 547.8,431.3 548.8,431.3 549.8,431.4 550.8,431.5 551.9,431.5 552.9,431.6 553.9,431.7 554.9,431.7 555.9,431.8 556.9,431.9 558,431.9 559,431.8 560,431.8 560,434.6 559,434.6 558,434.6 556.9,434.6 555.9,434.5 554.9,434.5 553.9,434.4 552.9,434.3 551.9,434.2 550.8,434.2 549.8,434.1 548.8,434 547.8,433.9 546.8,433.9 545.8,433.8 544.7,433.7 543.7,433.6 542.7,433.6 541.7,433.5 540.7,433.4 539.7,433.3 538.6,433.2 537.6,433.1 536.6,433 535.6,432.9 534.6,432.9 533.6,432.8 532.5,432.7 531.5,432.5 530.5,432.4 529.5,432.2 528.5,432.1 527.5,431.9 526.4,431.8 525.4,431.7 524.4,431.5 523.4,431.4 522.4,431.2 521.4,431.1 520.3,430.9 519.3,430.8 518.3,430.6 517.3,430.5 516.3,430.3 515.3,430.1 514.2,430 513.2,429.8 512.2,429.7 511.2,429.5 510.2,429.2 509.2,428.9 508.1,428.6 507.1,428.3 506.1,427.9 505.1,427.6 504.1,427.3 503.1,427 502,426.7 501,426.4 500,426.1" fill="#c8cc10"/><path d="M286 397.1L293 453.5M297.1 397.5L303.6 453.4M308.1 398.1L314.2 452.9M319.2 397.7L324.8 452.5M330.3 396.7L335.4 451.6M341.4 394.5L346 450.5M352.4 392.3L356.6 449.3M363.5 390.6L367.2 447.7M374.6 389L377.8 445.8M385.7 387.8L388.4 441.8M396.7 386.7L399 437.2M409.6 403.9V413.6M420.4 411.3V417.9M423.4 414.5V420.5M428.8 391V408.4M431.8 404.9V409.1M434.8 391.9V408.5M437.8 388V392.1M444.8 384.6V404.1M447.8 391.5V403.2M454.7 397.9V410.1M463.5 399.6V406.8M466.5 400.1V409.1M470.2 390.2V409.8M473.2 393.8V398M482.3 388.6V401.3M489.8 390.4V397.1M501.6 394.5V408.9M504.6 419.6V428.8M509.9 388V401.3M522.7 405.9V421.3M525.7 407.5V415.8M531.5 415.4V422.3M542.6 417.2V422.2M545.6 410.6V416.7M553.8 423.1V441.6M561.4 390.5V405.3M564.4 429.2V440.3M569.5 401.5V419.7M572.5 389.8V396.4" stroke="#0a1a0a" stroke-width="1.3" fill="none"/></g><polygon points="575.2,386.3 578.8,376.6 593.3,364.6 612.5,350.1 627,328.4 636.6,314 657.1,299.5 657.1,299.6 654,336 641.4,350.1 627,374.2 612.5,393.5 593.3,417.6 575.2,436.9" fill="#0aa818"/><g clip-path="url(#rc0)"><polygon points="575.2,409.1 578,403.5 580.8,400.1 583.7,397.5 586.5,394.8 589.3,392.2 592.1,389.5 594.9,386.8 597.8,384.1 600.6,381.3 603.4,378.5 606.2,375.8 609,373 611.9,370.2 614.7,366.5 617.5,362.5 620.3,358.5 623.2,354.5 626,350.5 628.8,346.2 631.6,341.7 634.4,337.3 637.3,333.1 640.1,329.9 642.9,327 645.7,324.5 648.5,322 651.4,319.5 654.2,316.1 657,300.1 657,300.2 654.2,318.4 651.4,322 648.5,324.6 645.7,327.2 642.9,329.8 640.1,332.7 637.3,336.2 634.4,340.4 631.6,344.9 628.8,349.4 626,353.7 623.2,357.6 620.3,361.6 617.5,365.6 614.7,369.6 611.9,373.3 609,376.2 606.2,379 603.4,381.9 600.6,384.8 597.8,387.6 594.9,390.5 592.1,393.3 589.3,396 586.5,398.6 583.7,401.3 580.8,404 578,407.4 575.2,412.6" fill="#a8c010"/><path d="M577 383.6V394.8M577 400.8V410M577 412.4V422.9M577 424.1V432.8M580 381.6V390.7M580 393.8V404.9M580 408.6V418.1M580 420.5V428.7M583 377.9V387.1M583 389.6V401.6M583 403.6V414.7M583 421V429.7M586 376.5V388.4M586 387.1V398.3M586 402.2V412.1M586 415V425.3M589 372V382.7M589 385.4V394.9M589 397.4V408.5M589 412.6V423.1M592 371.6V379.5M592 384.6V394.2M592 395.3V404M592 410V421.7M595 366.6V377.2M595 378.9V388M595 394.2V403.5M595 407.8V415M598 363.5V371.1M598 378.8V387.6M598 390.9V399.1M598 402.4V411.9M601 363.4V373.3M601 375.1V384.9M601 386.5V393.7M601 398.5V406.6M604 360.8V369.7M604 371.7V382.3M604 382.8V391.1M604 394.5V404.2M607 356.8V363.2M607 368.7V377.3M607 379.6V387.5M607 390.6V400.4M610 355.8V362.5M610 366.5V374.7M610 378.5V385.2M610 389.1V397.5M613 352.8V359.4M613 364V372.2M613 375.5V382.7M613 386.5V393.4M616 349.6V358.2M616 360.4V366.8M616 370.3V376.6M616 380.3V389.7M619 342.9V351.6M619 356.2V364.5M619 367.2V374.1M619 377.7V384.8M622 337.7V347.1M622 350.9V358.4M622 360.9V367.2M622 373.8V383.9M625 336.5V343.4M625 347.8V352.6M625 359.2V364.4M625 368.9V374.7M628 329.2V333.8M628 341.5V346.8M628 352.9V359.5M628 363.5V369.9M631 327V331.4M631 337.1V341.7M631 348V354.9M631 358.2V364.3M634 321.8V327.9M634 330.8V336.6M634 344.9V349.4M634 355V359.7M637 318.2V324.2M637 327.6V333.9M637 338.4V342.9M637 348.8V353M640 314.5V319.2M640 325V330.5M640 333.9V338.6M640 344.2V349.5M643 311.4V315.2M643 320.9V325.4M643 331.4V336.8M643 340.3V345.3M646 309.6V313.6M646 320.6V324.9M646 328.9V334.1M646 338.8V343.2M649 308.1V313.2M649 318.4V322.8M649 326.5V330.1M649 336V341.1M652 305.5V310M652 313.3V317.4M652 324.2V329.1M652 330.8V335.8M655 303.3V306.2M655 309.2V312.8M655 314.3V317.9M655 320.2V323" stroke="#06180a" stroke-width="1.5" fill="none"/></g><polygon points="289.6,397.1 299.3,376.6 323.4,351.3 352.3,326 371.6,309.2 376.4,294.7 383.6,275.4 395.7,268.2 417.3,258.6 448.7,254.9 472.8,250.1 496.9,246.5 521,244.1 542.7,240.5 554.7,241.7 569.2,250.1 593.3,256.1 617.3,256.1 655.9,262.2 657.1,299.5 636.6,314 627,328.4 612.5,350.1 593.3,364.6 578.8,376.6 575.2,386.3 545,388.7 521,388.7 496.9,386.3 472.8,383.9 448.7,381.4 424.6,382.7 400.5,386.3 376.4,388.7 352.3,392.3 328.2,397.1 311.3,398.3" fill="url(#mb0)"/><g clip-path="url(#mc0)"><g filter="url(#blur6)"><ellipse cx="434.2" cy="268.2" rx="31.3" ry="8.4" fill="#a8b030" opacity="0.95"/><ellipse cx="496.9" cy="253.7" rx="28.9" ry="6.7" fill="#b0b030" opacity="0.9"/><ellipse cx="540.2" cy="246.5" rx="14.5" ry="4.8" fill="#b8b838" opacity="0.9"/><ellipse cx="400.5" cy="275.4" rx="9.6" ry="3.6" fill="#c0c030" opacity="0.8"/><ellipse cx="448.7" cy="292.3" rx="72.3" ry="9.6" fill="#0c8c30" opacity="0.55"/><ellipse cx="569.2" cy="280.2" rx="67.5" ry="12" fill="#109838" opacity="0.5"/><ellipse cx="424.6" cy="354.9" rx="62.7" ry="14.5" fill="#08e018" opacity="0.7"/><ellipse cx="557.1" cy="333.3" rx="48.2" ry="14.5" fill="#08e820" opacity="0.7"/><ellipse cx="340.2" cy="374.2" rx="33.7" ry="12" fill="#10e020" opacity="0.7"/><ellipse cx="496.9" cy="369.4" rx="28.9" ry="7.2" fill="#0a8a28" opacity="0.5"/><ellipse cx="395.7" cy="369.4" rx="14.5" ry="6" fill="#50a040" opacity="0.6"/><ellipse cx="306.5" cy="386.3" rx="12" ry="6" fill="#c8c828" opacity="0.8"/><ellipse cx="313.7" cy="362.2" rx="7.2" ry="4.8" fill="#c8c828" opacity="0.6"/><ellipse cx="617.3" cy="299.5" rx="28.9" ry="9.6" fill="#10c030" opacity="0.6"/></g><g filter="url(#blur3)"><ellipse cx="429.4" cy="299.5" rx="62.7" ry="3.9" transform="rotate(-12 429.4 299.5)" fill="#000" opacity="0.22"/><ellipse cx="359.5" cy="388.7" rx="53" ry="3.9" transform="rotate(-14 359.5 388.7)" fill="#000" opacity="0.25"/><ellipse cx="468" cy="362.2" rx="48.2" ry="3.9" transform="rotate(14 468 362.2)" fill="#000" opacity="0.22"/><ellipse cx="569.2" cy="338.1" rx="53" ry="3.4" transform="rotate(-18 569.2 338.1)" fill="#000" opacity="0.18"/><ellipse cx="453.5" cy="276.6" rx="67.5" ry="2.9" transform="rotate(-8 453.5 276.6)" fill="#000" opacity="0.16"/><ellipse cx="605.3" cy="277.8" rx="48.2" ry="3.4" transform="rotate(8 605.3 277.8)" fill="#000" opacity="0.18"/><ellipse cx="383.6" cy="311.6" rx="14.5" ry="9.6" transform="rotate(-40 383.6 311.6)" fill="#000" opacity="0.2"/><ellipse cx="511.3" cy="316.4" rx="9.6" ry="28.9" transform="rotate(28 511.3 316.4)" fill="#000" opacity="0.12"/><ellipse cx="410.1" cy="333.3" rx="62.7" ry="4.3" transform="rotate(-14 410.1 333.3)" fill="#fff" opacity="0.2"/><ellipse cx="359.5" cy="364.6" rx="41" ry="3.9" transform="rotate(-16 359.5 364.6)" fill="#fff" opacity="0.2"/><ellipse cx="549.9" cy="318.8" rx="55.4" ry="3.9" transform="rotate(-16 549.9 318.8)" fill="#fff" opacity="0.2"/><ellipse cx="480" cy="273" rx="53" ry="2.4" transform="rotate(-6 480 273)" fill="#fff" opacity="0.14"/><ellipse cx="521" cy="379" rx="48.2" ry="3.4" transform="rotate(4 521 379)" fill="#fff" opacity="0.16"/><ellipse cx="617.3" cy="292.3" rx="28.9" ry="3.4" transform="rotate(10 617.3 292.3)" fill="#fff" opacity="0.14"/></g><rect x="289.6" y="240.5" width="367.5" height="157.8" filter="url(#noise)" opacity="0.06"/><path d="M563.1 248.9L547.5 277.8L530.6 311.6L511.3 340.5L500.5 358.6M501.7 276.6L472.8 306.7L448.7 333.3L434.2 354.9L427 369.4M580 276.6L578.8 292.3M535.4 282.7L531.8 289.9" stroke="#04300c" stroke-opacity="0.38" stroke-width="1.5" fill="none" filter="url(#blur1)"/></g></g><path d="M487.1 106.9L490.7 106.9L492 296L488.4 296Z" fill="#0a0af0"/><circle cx="488.9" cy="106.9" r="3.6" fill="none" stroke="#2222ee" stroke-width="1.3"/><path d="M487.4 102.7L488.9 98.1L490.4 102.7ZM484.9 105L482.7 100.7L487 102.9ZM484.7 108.4L480.1 106.9L484.7 105.4ZM487 110.9L482.7 113.1L484.9 108.8ZM490.4 111.1L488.9 115.7L487.4 111.1ZM492.9 108.8L495.1 113.1L490.8 110.9ZM493.1 105.4L497.7 106.9L493.1 108.4ZM490.8 102.9L495.1 100.7L492.9 105Z" fill="#2222ee"/><path d="M504.1 117.3L507.7 117.3L509.6 314L506 314Z" fill="#ff0000"/><circle cx="505.9" cy="117.3" r="3.6" fill="none" stroke="#ee1111" stroke-width="1.3"/><path d="M504.4 113.1L505.9 108.5L507.4 113.1ZM501.9 115.4L499.7 111.1L504 113.3ZM501.7 118.8L497.1 117.3L501.7 115.8ZM504 121.3L499.7 123.5L501.9 119.2ZM507.4 121.5L505.9 126.1L504.4 121.5ZM509.9 119.2L512.1 123.5L507.8 121.3ZM510.1 115.8L514.7 117.3L510.1 118.8ZM507.8 113.3L512.1 111.1L509.9 115.4Z" fill="#ee1111"/><path d="M525 82.5L528.6 82.5L528.5 257L524.9 257Z" fill="url(#wm0)"/><circle cx="526.8" cy="82.5" r="3.6" fill="none" stroke="#cc0099" stroke-width="1.3"/><path d="M525.3 78.3L526.8 73.7L528.3 78.3ZM522.8 80.6L520.6 76.3L524.9 78.5ZM522.6 84L518 82.5L522.6 81ZM524.9 86.5L520.6 88.7L522.8 84.4ZM528.3 86.7L526.8 91.3L525.3 86.7ZM530.8 84.4L533 88.7L528.7 86.5ZM531 81L535.6 82.5L531 84ZM528.7 78.5L533 76.3L530.8 80.6Z" fill="#cc0099"/><path d="M555.3 78.7L558.9 78.7L556.3 246.5L552.7 246.5Z" fill="url(#wp0)"/><circle cx="557.1" cy="78.7" r="3.6" fill="none" stroke="#cc22cc" stroke-width="1.3"/><path d="M555.6 74.5L557.1 69.9L558.6 74.5ZM553.1 76.8L550.9 72.5L555.2 74.7ZM552.9 80.2L548.3 78.7L552.9 77.2ZM555.2 82.7L550.9 84.9L553.1 80.6ZM558.6 82.9L557.1 87.5L555.6 82.9ZM561.1 80.6L563.3 84.9L559 82.7ZM561.3 77.2L565.9 78.7L561.3 80.2ZM559 74.7L563.3 72.5L561.1 76.8Z" fill="#cc22cc"/><path d="M497.9 226.4h17" stroke="#3344dd" stroke-width="1.2" stroke-dasharray="2 1.2 1 1"/><path d="M532.8 198.5h5M561.6 191.1h8" stroke="#c030c0" stroke-width="1" stroke-dasharray="1.5 1.5"/><path d="M517.9 247.3h9" stroke="#e02020" stroke-width="1.2" stroke-dasharray="2 1"/><text class="ax" x="338.2" y="43.5" text-anchor="middle">1030000</text><text class="ax" x="457.8" y="45.3" text-anchor="middle">1020000</text><text class="ax" x="577.5" y="47.1" text-anchor="middle">1010000</text><text class="ax" x="697.1" y="48.9" text-anchor="middle">1000000</text><text class="ax" x="511.7" y="27.8" text-anchor="middle">Y-axis</text><text class="ax" x="332.6" y="547.8" text-anchor="middle">1030000</text><text class="ax" x="454.7" y="547.8" text-anchor="middle">1020000</text><text class="ax" x="576.8" y="547.8" text-anchor="middle">1010000</text><text class="ax" x="699" y="547.8" text-anchor="middle">1000000</text><text class="ax" x="508.4" y="564.8" text-anchor="middle">Y-axis</text><text class="ax" x="207.5" y="162.1" text-anchor="end">0</text><text class="ax" x="791.7" y="168.7" text-anchor="start">0</text><text class="ax" x="225.2" y="238.8" text-anchor="end">-1000</text><text class="ax" x="776.9" y="243.6" text-anchor="start">-1000</text><text class="ax" x="240.9" y="307" text-anchor="end">-2000</text><text class="ax" x="763.7" y="310.5" text-anchor="start">-2000</text><text class="ax" x="254.9" y="367.8" text-anchor="end">-3000</text><text class="ax" x="751.9" y="370.4" text-anchor="start">-3000</text><text class="ax" x="205.6" y="370.8" text-anchor="middle">Z-axis</text><text class="ax" x="786.3" y="374.4" text-anchor="start">Z-axis</text><text class="ax" x="267.4" y="422.3" text-anchor="end">-4000</text><text class="ax" x="741.2" y="424.3" text-anchor="start">-4000</text><text class="ax" x="278.7" y="471.5" text-anchor="end">-5000</text><text class="ax" x="731.6" y="473.2" text-anchor="start">-5000</text><text class="ax" x="289.1" y="516.7" text-anchor="end">-6000</text><text class="ax" x="722.6" y="518.4" text-anchor="start">-6000</text><text class="ax" x="276.3" y="80.3" text-anchor="end">720000</text><text class="ax" x="222.3" y="125.9" text-anchor="end">710000</text><text class="ax" x="314.8" y="46.2" text-anchor="end">730000</text><text class="ax" x="250.5" y="39.5" text-anchor="middle">X-axis</text><text class="ax" x="716.6" y="63" text-anchor="start">730000</text><text class="ax" x="747.8" y="98.3" text-anchor="start">720000</text><text class="ax" x="792.2" y="100.5" text-anchor="start">X-axis</text><text class="ax" x="789.5" y="147" text-anchor="start">710000</text><path d="M339.2 56.4L338.4 49.9M363.1 56.8L362.8 54.2M387.1 57.1L386.8 54.5M411 57.5L410.7 54.9M434.9 57.9L434.6 55.3M458.8 58.2L458 51.7M482.8 58.6L482.5 56M506.7 58.9L506.4 56.3M530.6 59.3L530.3 56.7M554.5 59.6L554.2 57M578.5 60L577.7 53.5M602.4 60.3L602.1 57.7M626.3 60.7L626 58.1M650.2 61.1L649.9 58.5M674.2 61.4L673.9 58.8M698.1 61.8L697.3 55.3M317.2 56L316.2 49.5M331.1 527.3L331.7 533.8M355.5 527.3L355.8 530.3M379.9 527.3L380.2 530.3M404.4 527.3L404.7 530.3M428.8 527.3L429.1 530.3M453.2 527.3L453.8 533.8M477.6 527.3L477.9 530.3M502.1 527.3L502.4 530.3M526.5 527.3L526.8 530.3M550.9 527.3L551.2 530.3M575.3 527.3L575.9 533.8M599.8 527.3L600.1 530.3M624.2 527.3L624.5 530.3M648.6 527.3L648.9 530.3M673 527.3L673.3 530.3M697.5 527.3L698.1 533.8M223.7 158.1L214.1 158.1M778.1 164.8L787.7 164.8M228.3 178.2L224.7 178.2M774.2 184.4L778 184.4M232.8 197.6L229.2 197.6M770.5 203.4L774.3 203.4M237.1 216.5L233.5 216.5M766.8 221.8L770.6 221.8M241.4 234.8L231.8 234.8M763.3 239.7L772.9 239.7M245.5 252.6L241.9 252.6M759.9 257.2L763.7 257.2M249.4 269.9L245.8 269.9M756.5 274.1L760.3 274.1M253.3 286.7L249.7 286.7M753.3 290.6L757.1 290.6M257.1 303L247.5 303M750.1 306.6L759.7 306.6M260.7 318.9L257.1 318.9M747 322.2L750.8 322.2M264.3 334.3L260.7 334.3M744 337.4L747.8 337.4M267.7 349.2L264.1 349.2M741.1 352.1L744.9 352.1M271.1 363.8L261.5 363.8M738.3 366.5L747.9 366.5M274.3 378L270.7 378M735.5 380.5L739.3 380.5M277.5 391.7L273.9 391.7M732.8 394.1L736.6 394.1M280.6 405.2L277 405.2M730.2 407.4L734 407.4M283.6 418.3L274 418.3M727.6 420.4L737.2 420.4M286.5 431L282.9 431M725.1 433L728.9 433M289.4 443.5L285.8 443.5M722.7 445.4L726.5 445.4M292.2 455.6L288.6 455.6M720.3 457.5L724.1 457.5M294.9 467.5L285.3 467.5M718 469.3L727.6 469.3M297.6 479.1L294 479.1M715.7 480.9L719.5 480.9M300.2 490.5L296.6 490.5M713.4 492.3L717.2 492.3M302.8 501.7L299.2 501.7M711.2 503.5L715 503.5M305.3 512.7L295.7 512.7M709 514.5L718.6 514.5M307.8 523.4L304.2 523.4M706.9 525.3L710.7 525.3M310.4 62.7L309.6 60.1M303.6 68.8L302.8 66.2M295.5 76L294.7 73.4M287.3 83.4L286.5 80.8M279.2 91.6L277.2 84.1M269.7 99.1L268.9 96.5M260.2 107.6L259.4 105M249.9 116.9L249.1 114.3M238.5 127.1L237.7 124.5M226.3 139L224.3 131.5M707.7 62.9L715.7 62.9M713.5 69.8L716.5 69.8M720 77.6L723 77.6M725.1 83.7L728.1 83.7M730.9 90.6L733.9 90.6M737.3 98.2L745.3 98.2M744.6 106.9L747.6 106.9M752.6 116.5L755.6 116.5M760.5 126L763.5 126M768.5 135.6L771.5 135.6M778.1 147L786.1 147" stroke="#222" stroke-width="1.1" fill="none"/>
<g transform="translate(0,0)"><text class="lg" x="59.2" y="166.8">Facies [U]</text><text class="lg" x="59.2" y="186.6">Facies</text><rect x="59.1" y="206.8" width="26.6" height="66.2" fill="#33cc33"/><rect x="59.1" y="272.9" width="26.6" height="66.1" fill="#ffff00"/><rect x="59.1" y="338.9" width="26.6" height="66.2" fill="#00f800"/><path d="M85.7 239.4h9M85.7 306.3h9M85.7 372.2h9" stroke="#5a5ae0" stroke-width="1"/><text class="lg" x="99.3" y="247.6">Shale</text><text class="lg" x="99.3" y="314.6">Sand</text><text class="lg" x="99.3" y="379.8">Shaly</text><rect x="158" y="206.8" width="1.4" height="66.2" fill="#33cc33"/><rect x="158" y="272.9" width="6.5" height="66.1" fill="#ffff00"/><rect x="158" y="338.9" width="26.4" height="66.2" fill="#00f800"/><g stroke="#0a2a0a" stroke-width="0.9" stroke-linejoin="round"><path d="M95.5 536.3H125.6V544H95.5Z" fill="#04cc04"/><path d="M95.5 544H125.6V551.3H95.5Z" fill="#04cc04"/><path d="M95.5 551.3H125.6V557H95.5Z" fill="#cc0404"/><path d="M66.1 540.2L95.5 548.1V554L66.1 547.7Z" fill="#04cc04"/><path d="M66.1 547.7L95.5 554V559.7L66.1 553Z" fill="#cc0404"/><path d="M66.1 540.2L95.5 532.2V548.1Z" fill="#04cc04"/></g></g>
<text class="rl" transform="translate(31.1,310.5) rotate(-90)" text-anchor="middle">Facies Model</text>
<g transform="matrix(1,0,0,1,0,0)">
<polygon points="902.5,327.4 908.5,327.6 914.5,327.8 920.5,328.1 926.5,328.3 932.5,328.7 938.5,329.1 944.5,329.6 950.5,330 956.5,330.4 962.5,330.8 968.5,331.2 974.5,331.5 980.5,331.8 986.5,332.1 992.5,332.4 998.5,332.7 1004.5,332.8 1010.5,332.6 1016.5,332.4 1022.5,332.1 1028.5,331.9 1034.5,331.6 1040.5,331.5 1046.5,331.3 1052.5,331.2 1058.5,331.1 1064.5,331 1070.5,330.9 1076.5,330.8 1082.5,330.7 1088.5,330.6 1094.5,330.5 1100.5,330.4 1106.5,330.3 1112.5,330.2 1118.5,330.2 1124.5,329.9 1130.5,329.3 1136.5,328.7 1142.5,328.2 1148.5,327.8 1154.5,327.5 1160.5,327.1 1166.5,326.7 1172.5,326.5 1178.5,326.3 1184.5,326.1 1190.5,325.9 1196.5,325.7 1202.5,325.5 1208.5,323.3 1214.5,320.7 1220.5,319.4 1226.5,318.1 1232.5,316.8 1233.6,316.6 1234,316.5 1238.5,315.8 1244.5,315 1250.5,314.2 1256.5,313.4 1262.5,312.7 1268.5,311.9 1274.5,311.1 1280.5,310.6 1286.5,310.1 1292.5,309.5 1298.5,309 1304.5,308.4 1310.5,307.9 1316.5,307.4 1322.5,306.9 1328.5,306.4 1334.5,305.9 1340.5,305.8 1346.5,305.8 1352.5,305.8 1358.5,306.1 1364.5,306.8 1370.5,307.4 1376.5,308.6 1382.5,312.9 1388.5,316.4 1394.5,317.8 1400.5,318.4 1406.5,319 1412.5,319.6 1418.5,320.2 1424.5,320.8 1430.5,321.4 1436.5,322 1442.5,322.6 1448.5,323.2 1454.5,324.1 1460.5,325 1466.5,325.9 1472.5,326.8 1478.5,327.7 1484.5,328.7 1490.5,330 1496.5,331.2 1502.5,332.5 1508.5,334 1514.5,336.6 1520.5,339.1 1526.5,341.6 1532.5,344.1 1538.5,346.4 1544.5,348.7 1550.5,351 1556.5,351.7 1562.5,352.5 1568.5,353.2 1574.5,353.9 1580.5,354.6 1586.5,355.4 1592.5,356 1598.5,356.6 1604.5,357.2 1610.5,357.8 1616.5,358.4 1622.5,359.1 1628.5,359.9 1634.5,360.6 1640.5,361.3 1646.5,361.9 1652.5,361.9 1658.5,361.9 1664.5,361.9 1670.5,361.5 1676.5,360.9 1682.5,360.3 1688.5,359.8 1694.5,359.2 1700.5,358.6 1706.5,358.1 1712.5,357.5 1718.5,357.4 1724.5,357.3 1728,357.3 1728,477.9 1724.5,477.3 1718.5,476.2 1712.5,475.1 1706.5,474.1 1700.5,473.1 1694.5,472.3 1688.5,471.4 1682.5,470.7 1676.5,471.1 1670.5,471.6 1664.5,472.1 1658.5,472.6 1652.5,473 1646.5,472.6 1640.5,472.3 1634.5,472 1628.5,471.7 1622.5,471.3 1616.5,470.8 1610.5,469.8 1604.5,468.8 1598.5,467.8 1592.5,466.8 1586.5,465.5 1580.5,464.1 1574.5,462.7 1568.5,461.3 1562.5,459.9 1556.5,458.2 1550.5,456.5 1544.5,454.8 1538.5,453.1 1532.5,448.4 1526.5,444.8 1520.5,441.2 1514.5,437.4 1508.5,433.6 1502.5,427.3 1496.5,420.8 1490.5,417.1 1484.5,414 1478.5,411.3 1472.5,408.7 1466.5,406 1460.5,403.1 1454.5,400.1 1448.5,397.1 1442.5,394.5 1436.5,392.6 1430.5,390.8 1424.5,388.9 1418.5,386.3 1412.5,383.4 1406.5,380.6 1400.5,377.7 1394.5,375.1 1388.5,372.4 1382.5,368.6 1376.5,363.3 1370.5,360.4 1364.5,358.9 1358.5,359.1 1352.5,359.9 1346.5,360.9 1340.5,362 1334.5,363.1 1328.5,364.6 1322.5,366.1 1316.5,367.6 1310.5,369.1 1304.5,370.6 1298.5,371.8 1292.5,373 1286.5,374.1 1280.5,374.4 1274.5,374.7 1268.5,375.1 1262.5,375.6 1256.5,377.8 1250.5,379.9 1244.5,382.9 1238.5,386 1234,388.3 1233.6,397.9 1232.5,397.8 1226.5,397.1 1220.5,396.8 1214.5,397.2 1208.5,397.7 1202.5,399.1 1196.5,401.1 1190.5,403.1 1184.5,405.7 1178.5,408.3 1172.5,410.9 1166.5,413.3 1160.5,415.1 1154.5,416.9 1148.5,418.2 1142.5,419.2 1136.5,420.1 1130.5,421 1124.5,421.9 1118.5,422.7 1112.5,423.4 1106.5,424.1 1100.5,424.8 1094.5,425.5 1088.5,426.2 1082.5,426.7 1076.5,427 1070.5,427.4 1064.5,427.8 1058.5,428.3 1052.5,428.8 1046.5,429.5 1040.5,430.5 1034.5,431.5 1028.5,432 1022.5,432.3 1016.5,431.5 1010.5,430.6 1004.5,429.7 998.5,428.6 992.5,427.5 986.5,426.4 980.5,424.9 974.5,423.4 968.5,421.9 962.5,421 956.5,421 950.5,421 944.5,421 938.5,421.5 932.5,422.2 926.5,422.8 920.5,422.4 914.5,421.3 908.5,420.7 902.5,420.1" fill="#00fb00"/><polygon points="1141,355.6 1142.5,355.5 1148.5,355 1154.5,354.3 1160.5,353.5 1166.5,352.7 1172.5,351.8 1178.5,350.9 1184.5,350 1190.5,349.1 1196.5,348.3 1202.5,347.6 1208.5,345.6 1210,345.1 1210,351.1 1208.5,351.5 1202.5,353.5 1196.5,354.4 1190.5,355.2 1184.5,356.3 1178.5,357.4 1172.5,358.6 1166.5,359.6 1160.5,360.5 1154.5,361.5 1148.5,362.2 1142.5,362.8 1141,362.9" fill="#33cc33"/><polygon points="1185,352.3 1190.5,351.4 1196.5,350.6 1202.5,349.8 1208.5,347.8 1214.5,345.9 1220.5,344.9 1226.5,344.2 1232.5,343.5 1233.6,343.4 1234,340.2 1238.5,339 1244.5,337.4 1250.5,335.9 1256.5,334.7 1260,333.9 1260,339.7 1256.5,340.5 1250.5,341.8 1244.5,343.5 1238.5,345.3 1234,346.7 1233.6,350.7 1232.5,350.8 1226.5,351.3 1220.5,351.9 1214.5,352.8 1208.5,354.5 1202.5,356.4 1196.5,357.4 1190.5,358.3 1185,359.4" fill="#33cc33"/><polygon points="1240,335.1 1244.5,334 1250.5,332.6 1256.5,331.5 1262.5,330.3 1268.5,329.6 1274.5,329 1280.5,328.5 1286.5,328 1292.5,327.3 1298.5,326.6 1304.5,325.8 1310.5,325 1316.5,324.3 1322.5,323.5 1328.5,322.7 1330,322.5 1330,329.5 1328.5,329.7 1322.5,330.6 1316.5,331.5 1310.5,332.4 1304.5,333.3 1298.5,334.1 1292.5,334.9 1286.5,335.7 1280.5,336.1 1274.5,336.6 1268.5,337.2 1262.5,337.8 1256.5,339.2 1250.5,340.5 1244.5,342.2 1240,343.4" fill="#33cc33"/><polygon points="1300,321.4 1304.5,320.9 1310.5,320.2 1316.5,319.4 1322.5,318.7 1328.5,318.1 1334.5,317.4 1340.5,317 1346.5,316.8 1352.5,316.6 1358.5,316.7 1364.5,317.2 1370.5,318 1376.5,319.5 1380,322.1 1380,327.7 1376.5,325 1370.5,323.3 1364.5,322.4 1358.5,322 1352.5,322 1346.5,322.3 1340.5,322.6 1334.5,323.1 1328.5,323.9 1322.5,324.7 1316.5,325.5 1310.5,326.3 1304.5,327.1 1300,327.6" fill="#33cc33"/><polygon points="1100,409.8 1100.5,409.7 1106.5,409.1 1112.5,408.5 1118.5,407.9 1124.5,407.2 1130.5,406.3 1136.5,405.5 1142.5,404.6 1148.5,403.8 1154.5,402.6 1160.5,401 1165,399.9 1165,405.1 1160.5,406.3 1154.5,408 1148.5,409.2 1142.5,410.1 1136.5,410.9 1130.5,411.8 1124.5,412.7 1118.5,413.5 1112.5,414.1 1106.5,414.7 1100.5,415.4 1100,415.4" fill="#33cc33"/><polygon points="1150,400 1154.5,399 1160.5,397.5 1166.5,396 1172.5,394 1178.5,391.9 1184.5,389.7 1190.5,387.7 1196.5,386 1202.5,384.4 1208.5,382.8 1214.5,381.9 1215,381.9 1215,387.2 1214.5,387.3 1208.5,388 1202.5,389.5 1196.5,391.3 1190.5,393.1 1184.5,395.3 1178.5,397.6 1172.5,399.9 1166.5,402.1 1160.5,403.7 1154.5,405.3 1150,406.3" fill="#33cc33"/><polygon points="1190,390.9 1190.5,390.7 1196.5,389 1202.5,387.3 1208.5,385.8 1214.5,385 1220.5,384.4 1226.5,384.4 1232.5,384.8 1233.6,384.9 1234,376.9 1235,376.4 1235,382.1 1234,382.6 1233.6,391.4 1232.5,391.3 1226.5,390.8 1220.5,390.6 1214.5,391.1 1208.5,391.7 1202.5,393.2 1196.5,395.1 1190.5,396.9 1190,397.1" fill="#33cc33"/><polygon points="1240,353.9 1244.5,352.3 1250.5,350.4 1256.5,348.8 1262.5,347.3 1268.5,346.7 1274.5,346.1 1280.5,345.7 1286.5,345.3 1290,344.8 1290,351.2 1286.5,351.7 1280.5,352.1 1274.5,352.5 1268.5,353 1262.5,353.6 1256.5,355.3 1250.5,356.9 1244.5,359.1 1240,360.9" fill="#33cc33"/><polygon points="1415,345.8 1418.5,346.7 1424.5,348.1 1430.5,349.2 1436.5,350.3 1442.5,351.4 1448.5,352.8 1454.5,354.5 1460.5,356.2 1466.5,357.9 1470,358.9 1470,364.6 1466.5,363.6 1460.5,361.7 1454.5,359.8 1448.5,358 1442.5,356.4 1436.5,355.2 1430.5,354 1424.5,352.8 1418.5,351.3 1415,350.3" fill="#33cc33"/><polygon points="1450,354.7 1454.5,356 1460.5,357.8 1466.5,359.5 1472.5,361.2 1478.5,362.8 1484.5,364.5 1490.5,366.5 1496.5,368.8 1502.5,372.3 1508.5,375.8 1514.5,378.9 1520,381.7 1520,391.9 1514.5,389 1508.5,385.8 1502.5,381.8 1496.5,377.8 1490.5,375.2 1484.5,373 1478.5,371.2 1472.5,369.4 1466.5,367.6 1460.5,365.6 1454.5,363.6 1450,362.1" fill="#33cc33"/><polygon points="1500,372.4 1502.5,374.2 1508.5,377.8 1514.5,380.9 1520.5,384 1526.5,387 1532.5,390 1538.5,393.4 1544.5,395.4 1550.5,397.4 1556.5,398.6 1562.5,399.7 1568.5,400.8 1570,401 1570,409.7 1568.5,409.4 1562.5,408.3 1556.5,407.1 1550.5,405.9 1544.5,403.9 1538.5,401.9 1532.5,398.4 1526.5,395.3 1520.5,392.2 1514.5,389 1508.5,385.8 1502.5,381.8 1500,379.7" fill="#33cc33"/><polygon points="1550,393.1 1550.5,393.2 1556.5,394.3 1562.5,395.4 1568.5,396.4 1574.5,397.4 1580.5,398.4 1586.5,399.4 1592.5,400.3 1595,400.6 1595,407.3 1592.5,407 1586.5,406 1580.5,405 1574.5,404 1568.5,402.9 1562.5,401.9 1556.5,400.7 1550.5,399.5 1550,399.4" fill="#33cc33"/><polygon points="1610,447.3 1610.5,447.4 1616.5,448.3 1622.5,448.9 1624,449 1624,453.5 1622.5,453.4 1616.5,452.8 1610.5,451.9 1610,451.8" fill="#33cc33"/><polygon points="1716,454.5 1718.5,454.8 1724.5,455.7 1728,456.2 1728,463.4 1724.5,462.9 1718.5,462 1716,461.6" fill="#33cc33"/><polygon points="1645,452.6 1646.5,452.7 1650,452.9 1650,457.3 1646.5,457.1 1645,457.1" fill="#33cc33"/><polygon points="1676,449.1 1676.5,449.1 1680,448.8 1680,454.3 1676.5,454.6 1676,454.7" fill="#33cc33"/><polygon points="1350,315.6 1352.5,315.5 1358.5,315.7 1364.5,316.1 1370.5,316.9 1376.5,318.4 1382.5,322.9 1388.5,326.5 1394.5,328.1 1395,328.2 1395,332.2 1394.5,332.1 1388.5,330.4 1382.5,326.8 1376.5,322.2 1370.5,320.6 1364.5,319.8 1358.5,319.4 1352.5,319.3 1350,319.4" fill="#33cc33"/><polygon points="902.5,364.5 908.5,364.9 914.5,365.2 920.5,365.8 926.5,366.1 932.5,366.1 938.5,366.1 944.5,366.1 945,366.2 945,376.2 944.5,376.2 938.5,376.2 932.5,376.4 926.5,376.5 920.5,376.2 914.5,375.5 908.5,375.1 902.5,374.7" fill="#ffff00"/><polygon points="945,366.2 950.5,366.4 953,366.5 953,371.9 950.5,371.8 945,371.6" fill="#ffff00"/><polygon points="946,357.1 950.5,357.3 956.5,357.6 960,357.8 960,362.3 956.5,362.1 950.5,361.8 946,361.6" fill="#ffff00"/><polygon points="977,374.1 980.5,374.6 986.5,375.5 989,375.7 989,380.5 986.5,380.2 980.5,379.3 977,378.7" fill="#ffff00"/><polygon points="1059,341.3 1064.5,341.2 1070.5,341 1076.5,340.9 1082.5,340.8 1085,340.7 1085,345 1082.5,345.1 1076.5,345.2 1070.5,345.4 1064.5,345.5 1059,345.7" fill="#ffff00"/><polygon points="1088,340.6 1088.5,340.6 1094.5,340.5 1099,340.4 1099,344.6 1094.5,344.8 1088.5,344.9 1088,345" fill="#ffff00"/><polygon points="1106,340.2 1106.5,340.2 1112.5,340 1117,339.9 1117,344.1 1112.5,344.2 1106.5,344.4 1106,344.4" fill="#ffff00"/><polygon points="1006,334.7 1010,334.6 1010,338.5 1006,338.6" fill="#ffff00"/><polygon points="1080,353.8 1082.5,353.7 1083,353.7 1083,358.5 1082.5,358.5 1080,358.6" fill="#ffff00"/><polygon points="1102,353 1106.5,352.8 1109,352.7 1109,357.4 1106.5,357.5 1102,357.7" fill="#ffff00"/><polygon points="1160,327.1 1160.5,327.1 1165,326.8 1165,332 1160.5,332.4 1160,332.4" fill="#ffff00"/><polygon points="1062,418.3 1064.5,418.1 1070.5,417.7 1076.5,417.4 1082.5,417.1 1088.5,416.7 1094.5,416 1100.5,415.4 1105,414.9 1105,419.6 1100.5,420.1 1094.5,420.8 1088.5,421.4 1082.5,421.9 1076.5,422.2 1070.5,422.6 1064.5,422.9 1062,423.1" fill="#ffff00"/><polygon points="1120,413.3 1124.5,412.7 1126,412.5 1126,417.1 1124.5,417.3 1120,417.9" fill="#ffff00"/><polygon points="1122,394.6 1124.5,394.3 1130.5,393.5 1133,393.1 1133,396.8 1130.5,397.2 1124.5,398 1122,398.3" fill="#ffff00"/><polygon points="1140,392.2 1142.5,391.9 1148.5,391.1 1154.5,390.1 1160.5,388.7 1166.5,387.3 1168,387 1168,390 1166.5,390.4 1160.5,391.8 1154.5,393.2 1148.5,394.3 1142.5,395.1 1140,395.4" fill="#ffff00"/><polygon points="1174,385.1 1178.5,383.7 1179,383.5 1179,387.6 1178.5,387.8 1174,389.3" fill="#ffff00"/><polygon points="1085,378.6 1088.5,378.4 1094.5,378 1100.5,377.6 1102,377.5 1102,382.2 1100.5,382.3 1094.5,382.8 1088.5,383.2 1085,383.4" fill="#ffff00"/><polygon points="1188,380.7 1190.5,379.9 1191,379.8 1191,383.7 1190.5,383.8 1188,384.6" fill="#ffff00"/><polygon points="1197,379.9 1202.5,378.5 1207,377.1 1207,380.1 1202.5,381.4 1197,382.9" fill="#ffff00"/><polygon points="1219,378.3 1220.5,378.2 1226.5,378.1 1232.5,378.3 1233,378.4 1233,384.8 1232.5,384.8 1226.5,384.4 1220.5,384.4 1219,384.5" fill="#ffff00"/><polygon points="1236,362.4 1238.5,361.4 1239,361.2 1239,366.1 1238.5,366.3 1236,367.4" fill="#ffff00"/><polygon points="1145,342.1 1148.5,341.8 1154.5,341.2 1160.5,340.6 1166.5,339.9 1172.5,339.3 1178.5,338.7 1184.5,338.1 1190.5,337.5 1196.5,337 1202.5,336.5 1208.5,334.3 1214.5,332 1220.5,330.8 1226.5,329.7 1232.5,328.6 1233.6,328.4 1234,327 1236,326.4 1236,329.5 1234,330.1 1233.6,331.9 1232.5,332.1 1226.5,333.1 1220.5,334.1 1214.5,335.3 1208.5,337.5 1202.5,339.7 1196.5,340.3 1190.5,340.9 1184.5,341.6 1178.5,342.3 1172.5,343.1 1166.5,343.8 1160.5,344.5 1154.5,345.2 1148.5,345.9 1145,346.2" fill="#ffff00"/><polygon points="1242,324.3 1244.5,323.8 1250.5,322.8 1256.5,321.8 1262.5,320.9 1268.5,320.1 1274.5,319.4 1280.5,318.9 1286.5,318.4 1292.5,317.8 1298.5,317.1 1300,317 1300,319.5 1298.5,319.7 1292.5,320.3 1286.5,320.9 1280.5,321.4 1274.5,322 1268.5,322.6 1262.5,323.4 1256.5,324.4 1250.5,325.4 1244.5,326.5 1242,327" fill="#ffff00"/><polygon points="1303,317.3 1304.5,317.1 1310.5,316.5 1316.5,315.8 1322.5,315.2 1328.5,314.6 1333,314.1 1333,317 1328.5,317.5 1322.5,318.1 1316.5,318.8 1310.5,319.5 1304.5,320.2 1303,320.4" fill="#ffff00"/><polygon points="1325,317.3 1328.5,316.9 1334.5,316.2 1340.5,315.9 1345,315.8 1345,318 1340.5,318.2 1334.5,318.5 1328.5,319.2 1325,319.6" fill="#ffff00"/><polygon points="1103,377.7 1106.5,377.7 1112.5,377.7 1118.5,377.7 1124.5,377.6 1130.5,377.2 1136.5,376.9 1142.5,376.6 1148.5,376.3 1154.5,375.9 1160.5,375.1 1166.5,374.3 1172.5,373.3 1178.5,372.1 1184.5,370.9 1190.5,369.8 1196.5,368.9 1202.5,368 1208.5,366.6 1214.5,365.5 1220.5,365.1 1226.5,365.1 1232.5,365.4 1233,365.4 1233,369 1232.5,369 1226.5,368.7 1220.5,368.6 1214.5,369 1208.5,369.9 1202.5,371.3 1196.5,372.3 1190.5,373.2 1184.5,374.5 1178.5,375.8 1172.5,377.1 1166.5,378.2 1160.5,379.1 1154.5,379.9 1148.5,380.4 1142.5,380.7 1136.5,381 1130.5,381.4 1124.5,381.7 1118.5,381.9 1112.5,381.9 1106.5,381.9 1103,381.9" fill="#ffff00"/><polygon points="1236,353.1 1238.5,352.3 1244.5,350.3 1250.5,348.4 1256.5,346.9 1262.5,345.4 1268,344.8 1268,349.9 1262.5,350.4 1256.5,352 1250.5,353.7 1244.5,355.7 1238.5,357.9 1236,358.8" fill="#ffff00"/><polygon points="1283,342.3 1286.5,342.1 1292.5,341.3 1298.5,340.4 1304.5,339.5 1310.5,338.5 1316.5,337.5 1320,336.9 1320,339.9 1316.5,340.5 1310.5,341.6 1304.5,342.6 1298.5,343.5 1292.5,344.4 1286.5,345.3 1283,345.5" fill="#ffff00"/><polygon points="1320,339.9 1322.5,339.7 1328.5,339.1 1334.5,338.6 1340.5,338.3 1346.5,338.2 1352.5,338 1358.5,338.1 1364.5,338.7 1370.5,340.3 1376.5,342.9 1382.5,348.2 1388.5,352.3 1394.5,354.9 1400.5,357.3 1406.5,359.7 1412.5,362.3 1418.5,364.8 1424.5,367.3 1430.5,369.2 1436.5,371.2 1442.5,372.9 1448.5,374.6 1454.5,376.8 1460.5,378.9 1466.5,381 1472.5,382.9 1478.5,384.7 1484.5,386.6 1490.5,388.9 1496.5,391.5 1502.5,396.1 1508.5,400.5 1514.5,403.6 1520.5,406.7 1523,408 1523,414.2 1520.5,413 1514.5,410 1508.5,407.1 1502.5,402.5 1496.5,397.8 1490.5,395.1 1484.5,392.9 1478.5,391.1 1472.5,389.3 1466.5,387.5 1460.5,385.3 1454.5,383.2 1448.5,381.1 1442.5,379.3 1436.5,377.5 1430.5,375.4 1424.5,373.2 1418.5,370.6 1412.5,367.8 1406.5,365 1400.5,362.3 1394.5,359.7 1388.5,356.9 1382.5,352.8 1376.5,347.3 1370.5,344.5 1364.5,342.7 1358.5,342 1352.5,341.8 1346.5,341.8 1340.5,341.8 1334.5,341.9 1328.5,342.3 1322.5,342.7 1320,342.9" fill="#ffff00"/><polygon points="1325,345.5 1328.5,344.8 1334.5,343.7 1340.5,342.9 1346.5,342.2 1352.5,341.5 1358.5,341.1 1364.5,341.2 1370.5,342.4 1372,342.7 1372,345.8 1370.5,345.5 1364.5,344.3 1358.5,344.3 1352.5,344.7 1346.5,345.5 1340.5,346.2 1334.5,347.1 1328.5,348.3 1325,349" fill="#00fb00"/><polygon points="1322,358 1322.5,357.9 1328.5,356.7 1334.5,355.5 1340.5,354.7 1346.5,353.9 1352.5,353.2 1358.5,352.7 1364.5,352.7 1370.5,354.3 1376.5,357.2 1382.5,362.5 1388.5,366.5 1394.5,369.2 1400.5,371.8 1406.5,374.6 1412.5,377.3 1418.5,380.1 1424.5,382.7 1430.5,384.6 1436.5,386.6 1442.5,388.5 1448.5,391.1 1454.5,394.1 1460.5,397.1 1466.5,400.1 1472.5,402.8 1478.5,405.5 1484.5,408.2 1490.5,411.4 1496.5,415.1 1502.5,421.5 1506,426.1 1506,432 1502.5,427.3 1496.5,420.8 1490.5,417.1 1484.5,414 1478.5,411.3 1472.5,408.7 1466.5,406 1460.5,403.1 1454.5,400.1 1448.5,397.1 1442.5,394.5 1436.5,392.6 1430.5,390.8 1424.5,388.9 1418.5,386.3 1412.5,383.4 1406.5,380.6 1400.5,377.7 1394.5,375.1 1388.5,372.4 1382.5,368.6 1376.5,363.3 1370.5,360.4 1364.5,358.9 1358.5,359.1 1352.5,359.9 1346.5,360.9 1340.5,362 1334.5,363.1 1328.5,364.6 1322.5,366.1 1322,366.2" fill="#ffff00"/><polygon points="1427,324.5 1430.5,324.9 1436.5,325.6 1440,326 1440,328.8 1436.5,328.4 1430.5,327.7 1427,327.3" fill="#ffff00"/><polygon points="1445,327.2 1448,327.6 1448,331.3 1445,330.9" fill="#ffff00"/><polygon points="1462,330.7 1465,331.2 1465,334.4 1462,333.9" fill="#ffff00"/><polygon points="1538,368.7 1538.5,368.8 1544,370.8 1544,376.1 1538.5,374.2 1538,374" fill="#ffff00"/><polygon points="1558,381.8 1562.5,382.5 1568.5,383.5 1574.5,384.4 1578,384.9 1578,389.3 1574.5,388.7 1568.5,387.8 1562.5,386.8 1558,386.1" fill="#ffff00"/><polygon points="1592,385.9 1592.5,385.9 1594,386.1 1594,392.8 1592.5,392.6 1592,392.5" fill="#ffff00"/><polygon points="1527,414.1 1532.5,417.1 1536,419.4 1536,424.7 1532.5,422.3 1527,419.3" fill="#ffff00"/><polygon points="1534,422.1 1538.5,425.4 1544,427.1 1544,433.5 1538.5,431.8 1534,428.4" fill="#ffff00"/><polygon points="1565,434.7 1568.5,435.4 1574.5,436.6 1575,436.7 1575,442.1 1574.5,442 1568.5,440.8 1565,440.1" fill="#ffff00"/><polygon points="1632,372 1634.5,372.3 1640.5,373 1646.5,373.5 1650,373.5 1650,378.5 1646.5,378.5 1640.5,378 1634.5,377.3 1632,377" fill="#ffff00"/><polygon points="1657,375.2 1658.5,375.1 1664.5,374.8 1670.5,374.1 1676.5,373.3 1682.5,372.4 1688.5,371.7 1694.5,370.9 1700.5,370.3 1706.5,369.6 1712.5,368.9 1718.5,368.6 1724.5,368.3 1728,368.2 1728,373.6 1724.5,373.7 1718.5,373.9 1712.5,374.1 1706.5,374.6 1700.5,375.2 1694.5,375.8 1688.5,376.4 1682.5,377 1676.5,377.8 1670.5,378.6 1664.5,379.2 1658.5,379.6 1657,379.6" fill="#ffff00"/><polygon points="1611,384.2 1616.5,385.3 1622.5,386.4 1628.5,387.5 1634.5,388.6 1640.5,389.7 1646.5,390.7 1652.5,391.3 1658.5,391.7 1664.5,391.4 1670.5,390.7 1676.5,389.8 1682.5,388.9 1688.5,388.3 1694.5,387.7 1700.5,387.2 1706.5,386.6 1712.5,386.1 1718.5,385.9 1724.5,385.7 1728,385.6 1728,391.1 1724.5,391.1 1718.5,391.3 1712.5,391.4 1706.5,391.8 1700.5,392.3 1694.5,392.8 1688.5,393.3 1682.5,393.8 1676.5,394.7 1670.5,395.6 1664.5,396.4 1658.5,396.6 1652.5,396.2 1646.5,395.6 1640.5,394.5 1634.5,393.4 1628.5,392.2 1622.5,391 1616.5,389.8 1611,388.7" fill="#ffff00"/><polygon points="1690,468.8 1694.5,468.8 1700.5,468.7 1706.5,468.6 1712.5,468.7 1718.5,468.8 1724.5,468.8 1728,468.9 1728,477.9 1724.5,477.3 1718.5,476.2 1712.5,475.1 1706.5,474.1 1700.5,473.1 1694.5,472.3 1690,471.6" fill="#ffff00"/><polygon points="1720,459.8 1724.5,460.5 1728,461 1728,477.9 1724.5,477.3 1720,476.5" fill="#ffff00"/>
<polyline points="902.5,327.4 908.5,327.6 914.5,327.8 920.5,328.1 926.5,328.3 932.5,328.7 938.5,329.1 944.5,329.6 950.5,330 956.5,330.4 962.5,330.8 968.5,331.2 974.5,331.5 980.5,331.8 986.5,332.1 992.5,332.4 998.5,332.7 1004.5,332.8 1010.5,332.6 1016.5,332.4 1022.5,332.1 1028.5,331.9 1034.5,331.6 1040.5,331.5 1046.5,331.3 1052.5,331.2 1058.5,331.1 1064.5,331 1070.5,330.9 1076.5,330.8 1082.5,330.7 1088.5,330.6 1094.5,330.5 1100.5,330.4 1106.5,330.3 1112.5,330.2 1118.5,330.2 1124.5,329.9 1130.5,329.3 1136.5,328.7 1142.5,328.2 1148.5,327.8 1154.5,327.5 1160.5,327.1 1166.5,326.7 1172.5,326.5 1178.5,326.3 1184.5,326.1 1190.5,325.9 1196.5,325.7 1202.5,325.5 1208.5,323.3 1214.5,320.7 1220.5,319.4 1226.5,318.1 1232.5,316.8 1233.6,316.6 1234,316.5 1238.5,315.8 1244.5,315 1250.5,314.2 1256.5,313.4 1262.5,312.7 1268.5,311.9 1274.5,311.1 1280.5,310.6 1286.5,310.1 1292.5,309.5 1298.5,309 1304.5,308.4 1310.5,307.9 1316.5,307.4 1322.5,306.9 1328.5,306.4 1334.5,305.9 1340.5,305.8 1346.5,305.8 1352.5,305.8 1358.5,306.1 1364.5,306.8 1370.5,307.4 1376.5,308.6 1382.5,312.9 1388.5,316.4 1394.5,317.8 1400.5,318.4 1406.5,319 1412.5,319.6 1418.5,320.2 1424.5,320.8 1430.5,321.4 1436.5,322 1442.5,322.6 1448.5,323.2 1454.5,324.1 1460.5,325 1466.5,325.9 1472.5,326.8 1478.5,327.7 1484.5,328.7 1490.5,330 1496.5,331.2 1502.5,332.5 1508.5,334 1514.5,336.6 1520.5,339.1 1526.5,341.6 1532.5,344.1 1538.5,346.4 1544.5,348.7 1550.5,351 1556.5,351.7 1562.5,352.5 1568.5,353.2 1574.5,353.9 1580.5,354.6 1586.5,355.4 1592.5,356 1598.5,356.6 1604.5,357.2 1610.5,357.8 1616.5,358.4 1622.5,359.1 1628.5,359.9 1634.5,360.6 1640.5,361.3 1646.5,361.9 1652.5,361.9 1658.5,361.9 1664.5,361.9 1670.5,361.5 1676.5,360.9 1682.5,360.3 1688.5,359.8 1694.5,359.2 1700.5,358.6 1706.5,358.1 1712.5,357.5 1718.5,357.4 1724.5,357.3 1728,357.3" fill="none" stroke="#111" stroke-width="1"/>
<polyline points="902.5,420.1 908.5,420.7 914.5,421.3 920.5,422.4 926.5,422.8 932.5,422.2 938.5,421.5 944.5,421 950.5,421 956.5,421 962.5,421 968.5,421.9 974.5,423.4 980.5,424.9 986.5,426.4 992.5,427.5 998.5,428.6 1004.5,429.7 1010.5,430.6 1016.5,431.5 1022.5,432.3 1028.5,432 1034.5,431.5 1040.5,430.5 1046.5,429.5 1052.5,428.8 1058.5,428.3 1064.5,427.8 1070.5,427.4 1076.5,427 1082.5,426.7 1088.5,426.2 1094.5,425.5 1100.5,424.8 1106.5,424.1 1112.5,423.4 1118.5,422.7 1124.5,421.9 1130.5,421 1136.5,420.1 1142.5,419.2 1148.5,418.2 1154.5,416.9 1160.5,415.1 1166.5,413.3 1172.5,410.9 1178.5,408.3 1184.5,405.7 1190.5,403.1 1196.5,401.1 1202.5,399.1 1208.5,397.7 1214.5,397.2 1220.5,396.8 1226.5,397.1 1232.5,397.8 1233.6,397.9 1234,388.3 1238.5,386 1244.5,382.9 1250.5,379.9 1256.5,377.8 1262.5,375.6 1268.5,375.1 1274.5,374.7 1280.5,374.4 1286.5,374.1 1292.5,373 1298.5,371.8 1304.5,370.6 1310.5,369.1 1316.5,367.6 1322.5,366.1 1328.5,364.6 1334.5,363.1 1340.5,362 1346.5,360.9 1352.5,359.9 1358.5,359.1 1364.5,358.9 1370.5,360.4 1376.5,363.3 1382.5,368.6 1388.5,372.4 1394.5,375.1 1400.5,377.7 1406.5,380.6 1412.5,383.4 1418.5,386.3 1424.5,388.9 1430.5,390.8 1436.5,392.6 1442.5,394.5 1448.5,397.1 1454.5,400.1 1460.5,403.1 1466.5,406 1472.5,408.7 1478.5,411.3 1484.5,414 1490.5,417.1 1496.5,420.8 1502.5,427.3 1508.5,433.6 1514.5,437.4 1520.5,441.2 1526.5,444.8 1532.5,448.4 1538.5,453.1 1544.5,454.8 1550.5,456.5 1556.5,458.2 1562.5,459.9 1568.5,461.3 1574.5,462.7 1580.5,464.1 1586.5,465.5 1592.5,466.8 1598.5,467.8 1604.5,468.8 1610.5,469.8 1616.5,470.8 1622.5,471.3 1628.5,471.7 1634.5,472 1640.5,472.3 1646.5,472.6 1652.5,473 1658.5,472.6 1664.5,472.1 1670.5,471.6 1676.5,471.1 1682.5,470.7 1688.5,471.4 1694.5,472.3 1700.5,473.1 1706.5,474.1 1712.5,475.1 1718.5,476.2 1724.5,477.3 1728,477.9" fill="none" stroke="#111" stroke-width="1"/>
<polyline points="1274.4,55 1274,120 1273.9,179 1274.6,240 1275.5,290 1276.6,360 1277.4,414" fill="none" stroke="#111" stroke-width="1.5"/>
<polyline points="1322.2,55 1322.6,120 1323.2,150 1326,185 1331,235 1336.8,280 1341.5,330 1345.2,369" fill="none" stroke="#111" stroke-width="1.5"/>
<rect x="897.2" y="55.5" width="841.9" height="476.4" fill="none" stroke="#b8242c" stroke-width="1.6"/>
<path d="M903 54.9v-2.2M903 532.5v2.2M917.2 54.9v-5.5M917.2 532.5v5.5M931.5 54.9v-2.2M931.5 532.5v2.2M945.7 54.9v-2.2M945.7 532.5v2.2M960 54.9v-2.2M960 532.5v2.2M974.2 54.9v-2.2M974.2 532.5v2.2M988.5 54.9v-5.5M988.5 532.5v5.5M1002.8 54.9v-2.2M1002.8 532.5v2.2M1017 54.9v-2.2M1017 532.5v2.2M1031.3 54.9v-2.2M1031.3 532.5v2.2M1045.5 54.9v-2.2M1045.5 532.5v2.2M1059.8 54.9v-5.5M1059.8 532.5v5.5M1074 54.9v-2.2M1074 532.5v2.2M1088.3 54.9v-2.2M1088.3 532.5v2.2M1102.6 54.9v-2.2M1102.6 532.5v2.2M1116.8 54.9v-2.2M1116.8 532.5v2.2M1131.1 54.9v-5.5M1131.1 532.5v5.5M1145.3 54.9v-2.2M1145.3 532.5v2.2M1159.6 54.9v-2.2M1159.6 532.5v2.2M1173.9 54.9v-2.2M1173.9 532.5v2.2M1188.1 54.9v-2.2M1188.1 532.5v2.2M1202.4 54.9v-5.5M1202.4 532.5v5.5M1216.6 54.9v-2.2M1216.6 532.5v2.2M1230.9 54.9v-2.2M1230.9 532.5v2.2M1245.1 54.9v-2.2M1245.1 532.5v2.2M1259.4 54.9v-2.2M1259.4 532.5v2.2M1273.7 54.9v-5.5M1273.7 532.5v5.5M1287.9 54.9v-2.2M1287.9 532.5v2.2M1302.2 54.9v-2.2M1302.2 532.5v2.2M1316.4 54.9v-2.2M1316.4 532.5v2.2M1330.7 54.9v-2.2M1330.7 532.5v2.2M1345 54.9v-5.5M1345 532.5v5.5M1359.2 54.9v-2.2M1359.2 532.5v2.2M1373.5 54.9v-2.2M1373.5 532.5v2.2M1387.7 54.9v-2.2M1387.7 532.5v2.2M1402 54.9v-2.2M1402 532.5v2.2M1416.2 54.9v-5.5M1416.2 532.5v5.5M1430.5 54.9v-2.2M1430.5 532.5v2.2M1444.8 54.9v-2.2M1444.8 532.5v2.2M1459 54.9v-2.2M1459 532.5v2.2M1473.3 54.9v-2.2M1473.3 532.5v2.2M1487.5 54.9v-5.5M1487.5 532.5v5.5M1501.8 54.9v-2.2M1501.8 532.5v2.2M1516 54.9v-2.2M1516 532.5v2.2M1530.3 54.9v-2.2M1530.3 532.5v2.2M1544.6 54.9v-2.2M1544.6 532.5v2.2M1558.8 54.9v-5.5M1558.8 532.5v5.5M1573.1 54.9v-2.2M1573.1 532.5v2.2M1587.3 54.9v-2.2M1587.3 532.5v2.2M1601.6 54.9v-2.2M1601.6 532.5v2.2M1615.9 54.9v-2.2M1615.9 532.5v2.2M1630.1 54.9v-5.5M1630.1 532.5v5.5M1644.4 54.9v-2.2M1644.4 532.5v2.2M1658.6 54.9v-2.2M1658.6 532.5v2.2M1672.9 54.9v-2.2M1672.9 532.5v2.2M1687.1 54.9v-2.2M1687.1 532.5v2.2M1701.4 54.9v-5.5M1701.4 532.5v5.5M1715.7 54.9v-2.2M1715.7 532.5v2.2M1729.9 54.9v-2.2M1729.9 532.5v2.2M896.6 62h-2.2M1739.7 62h2.2M896.6 71.1h-2.2M1739.7 71.1h2.2M896.6 80.1h-5.5M1739.7 80.1h5.5M896.6 89.1h-2.2M1739.7 89.1h2.2M896.6 98.2h-2.2M1739.7 98.2h2.2M896.6 107.2h-2.2M1739.7 107.2h2.2M896.6 116.3h-2.2M1739.7 116.3h2.2M896.6 125.3h-5.5M1739.7 125.3h5.5M896.6 134.3h-2.2M1739.7 134.3h2.2M896.6 143.4h-2.2M1739.7 143.4h2.2M896.6 152.4h-2.2M1739.7 152.4h2.2M896.6 161.5h-2.2M1739.7 161.5h2.2M896.6 170.5h-5.5M1739.7 170.5h5.5M896.6 179.5h-2.2M1739.7 179.5h2.2M896.6 188.6h-2.2M1739.7 188.6h2.2M896.6 197.6h-2.2M1739.7 197.6h2.2M896.6 206.6h-2.2M1739.7 206.6h2.2M896.6 215.7h-5.5M1739.7 215.7h5.5M896.6 224.7h-2.2M1739.7 224.7h2.2M896.6 233.8h-2.2M1739.7 233.8h2.2M896.6 242.8h-2.2M1739.7 242.8h2.2M896.6 251.8h-2.2M1739.7 251.8h2.2M896.6 260.9h-5.5M1739.7 260.9h5.5M896.6 269.9h-2.2M1739.7 269.9h2.2M896.6 278.9h-2.2M1739.7 278.9h2.2M896.6 288h-2.2M1739.7 288h2.2M896.6 297h-2.2M1739.7 297h2.2M896.6 306.1h-5.5M1739.7 306.1h5.5M896.6 315.1h-2.2M1739.7 315.1h2.2M896.6 324.1h-2.2M1739.7 324.1h2.2M896.6 333.2h-2.2M1739.7 333.2h2.2M896.6 342.2h-2.2M1739.7 342.2h2.2M896.6 351.2h-5.5M1739.7 351.2h5.5M896.6 360.3h-2.2M1739.7 360.3h2.2M896.6 369.3h-2.2M1739.7 369.3h2.2M896.6 378.4h-2.2M1739.7 378.4h2.2M896.6 387.4h-2.2M1739.7 387.4h2.2M896.6 396.4h-5.5M1739.7 396.4h5.5M896.6 405.5h-2.2M1739.7 405.5h2.2M896.6 414.5h-2.2M1739.7 414.5h2.2M896.6 423.5h-2.2M1739.7 423.5h2.2M896.6 432.6h-2.2M1739.7 432.6h2.2M896.6 441.6h-5.5M1739.7 441.6h5.5M896.6 450.7h-2.2M1739.7 450.7h2.2M896.6 459.7h-2.2M1739.7 459.7h2.2M896.6 468.7h-2.2M1739.7 468.7h2.2M896.6 477.8h-2.2M1739.7 477.8h2.2M896.6 486.8h-5.5M1739.7 486.8h5.5M896.6 495.8h-2.2M1739.7 495.8h2.2M896.6 504.9h-2.2M1739.7 504.9h2.2M896.6 513.9h-2.2M1739.7 513.9h2.2M896.6 523h-2.2M1739.7 523h2.2" stroke="#111" stroke-width="1.4" fill="none"/>
<text class="tl" x="988.5" y="44.5" text-anchor="middle">-20000</text>
<text class="tl" x="988.5" y="554.4" text-anchor="middle">-20000</text>
<text class="tl" x="1131.1" y="44.5" text-anchor="middle">-16000</text>
<text class="tl" x="1131.1" y="554.4" text-anchor="middle">-16000</text>
<text class="tl" x="1273.7" y="44.5" text-anchor="middle">-12000</text>
<text class="tl" x="1273.7" y="554.4" text-anchor="middle">-12000</text>
<text class="tl" x="1416.2" y="44.5" text-anchor="middle">-8000</text>
<text class="tl" x="1416.2" y="554.4" text-anchor="middle">-8000</text>
<text class="tl" x="1558.8" y="44.5" text-anchor="middle">-4000</text>
<text class="tl" x="1558.8" y="554.4" text-anchor="middle">-4000</text>
<text class="tl" x="1701.4" y="44.5" text-anchor="middle">0</text>
<text class="tl" x="1701.4" y="554.4" text-anchor="middle">0</text>
<text class="tl" transform="translate(887.9,125.3) rotate(-90)" text-anchor="middle">-1600</text>
<text class="tl" transform="translate(1750.4,125.3) rotate(90)" text-anchor="middle">-1600</text>
<text class="tl" transform="translate(887.9,215.7) rotate(-90)" text-anchor="middle">-2400</text>
<text class="tl" transform="translate(1750.4,215.7) rotate(90)" text-anchor="middle">-2400</text>
<text class="tl" transform="translate(887.9,306.1) rotate(-90)" text-anchor="middle">-3200</text>
<text class="tl" transform="translate(1750.4,306.1) rotate(90)" text-anchor="middle">-3200</text>
<text class="tl" transform="translate(887.9,396.4) rotate(-90)" text-anchor="middle">-4000</text>
<text class="tl" transform="translate(1750.4,396.4) rotate(90)" text-anchor="middle">-4000</text>
<text class="tl" transform="translate(887.9,486.8) rotate(-90)" text-anchor="middle">-4800</text>
<text class="tl" transform="translate(1750.4,486.8) rotate(90)" text-anchor="middle">-4800</text>
<path d="M1267.1 55L1270.7 29.5L1277.9 29.5L1281.5 55Z" fill="#fff" stroke="#111" stroke-width="1.2"/><path d="M1274.3 29.5L1274.3 55M1270.7 29.5L1278.9 36.5M1277.9 29.5L1269.7 36.5M1269.7 36.5H1278.9M1269.7 36.5L1280 44.5M1278.9 36.5L1268.6 44.5M1268.6 44.5H1280M1268.6 44.5L1281.5 55M1280 44.5L1267.1 55M1267.1 55H1281.5" stroke="#111" stroke-width="0.9" fill="none"/><path d="M1268.9 30.3L1271.1 27.3L1277.5 27.3L1279.7 30.3Z" fill="#111"/><path d="M1274.3 19.3v7M1270.3 22.1l8 3M1278.3 22.1l-8 3" stroke="#111" stroke-width="1" fill="none"/>
<path d="M1314.9 55L1318.5 29.5L1325.7 29.5L1329.3 55Z" fill="#fff" stroke="#111" stroke-width="1.2"/><path d="M1322.1 29.5L1322.1 55M1318.5 29.5L1326.7 36.5M1325.7 29.5L1317.5 36.5M1317.5 36.5H1326.7M1317.5 36.5L1327.8 44.5M1326.7 36.5L1316.4 44.5M1316.4 44.5H1327.8M1316.4 44.5L1329.3 55M1327.8 44.5L1314.9 55M1314.9 55H1329.3" stroke="#111" stroke-width="0.9" fill="none"/><path d="M1316.7 30.3L1318.9 27.3L1325.3 27.3L1327.5 30.3Z" fill="#111"/><path d="M1322.1 19.3v7M1318.1 22.1l8 3M1326.1 22.1l-8 3" stroke="#111" stroke-width="1" fill="none"/>
<text class="wl" x="1255.7" y="13.6" textLength="37" lengthAdjust="spacingAndGlyphs">TNW-2</text>
<text class="wl" x="1300" y="12.2" textLength="45.5" lengthAdjust="spacingAndGlyphs">TNW-10</text>
<text class="ns" x="906.2" y="85.6">North</text>
<text class="ns" x="1730.6" y="85.1" text-anchor="end">South</text>
<rect x="1251.5" y="505.5" width="107.3" height="8" fill="#fff" stroke="#111" stroke-width="1"/><rect x="1252.3" y="505.5" width="7.2" height="8" fill="#000"/><rect x="1265.8" y="505.5" width="7.2" height="8" fill="#000"/><rect x="1280.1" y="505.5" width="7.2" height="8" fill="#000"/><rect x="1323.1" y="505.5" width="35.8" height="8" fill="#000"/><path d="M1251.5 505.5v-4M1287.3 505.5v-4M1323.1 505.5v-4M1358.8 505.5v-4" stroke="#111" stroke-width="1"/><text class="sb" x="1251.5" y="494.2" text-anchor="middle">0</text><text class="sb" x="1287.3" y="494.2" text-anchor="middle">1</text><text class="sb" x="1323.1" y="494.2" text-anchor="middle">2</text><text class="sb" x="1354.8" y="494.2">3km</text>
<path d="M1424.9 319.4V248.9H1462.9" fill="none" stroke="#f00" stroke-width="3"/><path d="M1437.4 234.9L1464.9 248.9L1437.4 262.9" fill="none" stroke="#f00" stroke-width="5" stroke-linejoin="miter"/><text class="ns" x="1478.2" y="257.5">Sidi Salem</text>
</g>
<rect x="53.1" y="602.7" width="788.9" height="558.7" fill="#f0f0f0"/>
<polygon points="322.6,644.2 709,646.9 669.2,950.6 369.2,950.7" fill="#f5f5f5"/><polygon points="369.2,950.7 669.2,950.6 709,1116.1 315.8,1115.3" fill="#f5f5f5"/><polygon points="227.7,737.7 322.6,644.2 369.2,950.7 315.8,1115.3" fill="#f5f5f5"/><polygon points="709,646.9 779.5,737.7 709,1116.1 669.2,950.6" fill="#f5f5f5"/><path d="M322.6 644.2L369.2 950.7M361.6 644.5L399.4 950.7M400.5 644.7L429.6 950.7M439.3 645L459.7 950.7M478 645.3L489.8 950.7M516.7 645.6L519.8 950.7M555.3 645.8L549.8 950.6M593.8 646.1L579.7 950.6M632.3 646.4L609.6 950.6M670.7 646.6L639.4 950.6M709 646.9L669.2 950.6M322.6 644.2L709 646.9M327.9 679.2L704.5 681.5M333 712.5L700.2 714.4M337.8 744.1L696.1 745.7M342.4 774.2L692.2 775.6M346.8 802.9L688.4 804M350.9 830.4L684.9 831.2M354.9 856.6L681.5 857.2M358.7 881.6L678.2 882.1M362.4 905.6L675.1 905.9M365.9 928.6L672.1 928.7M369.2 950.7L669.2 950.6M369.2 950.7L315.8 1115.3M399.1 950.7L354.9 1115.4M429 950.7L394.1 1115.5M459 950.7L433.3 1115.5M488.9 950.7L472.6 1115.6M518.9 950.7L511.9 1115.7M548.9 950.6L551.2 1115.8M579 950.6L590.6 1115.9M609 950.6L630 1115.9M639.1 950.6L669.5 1116M669.2 950.6L709 1116.1M369.2 950.7L669.2 950.6M365.1 963.6L672.4 963.5M360.7 977.1L675.6 977.1M356.1 991.3L679 991.4M351.2 1006.2L682.6 1006.4M346.1 1022L686.4 1022.2M340.7 1038.6L690.5 1038.9M335 1056.1L694.7 1056.6M329 1074.7L699.2 1075.2M322.6 1094.4L703.9 1095.1M315.8 1115.3L709 1116.1M227.7 737.7L315.8 1115.3M240.8 724.8L322.6 1094.3M252.8 712.9L329 1074.5M263.9 702L335.1 1055.9M274.2 691.9L340.8 1038.3M283.7 682.5L346.2 1021.7M292.6 673.8L351.3 1006M300.9 665.6L356.1 991.1M308.6 658L360.7 976.9M315.8 650.9L365.1 963.5M322.6 644.2L369.2 950.7M227.7 737.7L322.6 644.2M238.5 783.8L327.9 678.8M248.5 826.8L332.9 711.7M257.9 867.1L337.7 743.1M266.7 904.9L342.2 773.1M275 940.4L346.6 801.8M282.8 973.8L350.8 829.3M290.1 1005.3L354.8 855.6M297.1 1035.1L358.6 880.9M303.7 1063.3L362.3 905.1M309.9 1090L365.8 928.3M315.8 1115.3L369.2 950.7M709 646.9L669.2 950.6M714.1 653.4L672.3 963.4M719.5 660.4L675.6 976.9M725.2 667.8L679 991.1M731.4 675.7L682.6 1006.1M738 684.2L686.4 1021.9M745.1 693.4L690.4 1038.6M752.7 703.2L694.6 1056.2M760.9 713.8L699.1 1075M769.8 725.2L703.9 1094.9M779.5 737.7L709 1116.1M709 646.9L779.5 737.7M704.6 680.4L771.2 782.5M700.4 712.4L763.3 824.6M696.4 743.2L755.9 864.3M692.5 772.8L748.9 901.9M688.8 801.2L742.3 937.4M685.2 828.5L736 971.1M681.8 854.7L730.1 1003.1M678.5 880L724.4 1033.4M675.3 904.4L719 1062.3M672.2 927.9L713.9 1089.8M669.2 950.6L709 1116.1" stroke="#c9c9c9" stroke-width="0.9" fill="none"/><polygon points="283.3,699 738.8,702.5 689.5,1030.5 342.5,1028" fill="#b6d6e6" fill-opacity="0.76"/><polygon points="283.3,699 738.8,702.5 689.5,1030.5 342.5,1028" fill="none" stroke="#858585" stroke-width="2.6" stroke-linejoin="miter"/><g transform="matrix(0.9803,0,0,1.0094,14.9,585)"><polygon points="289.6,397.1 311.3,398.3 328.2,397.1 352.3,392.3 376.4,388.7 400.5,386.3 424.6,382.7 448.7,381.4 472.8,383.9 496.9,386.3 521,388.7 545,388.7 575.2,386.3 575.2,436.9 571.6,442.9 557.1,442.9 533,440.5 511.3,436.9 496.9,432 487.2,424.8 472.8,415.2 458.3,410.4 443.9,409.2 429.4,417.6 414.9,427.2 395.7,438.1 376.4,445.3 352.3,448.9 328.2,451.3 301.7,452.5 289.6,397.2" fill="#e0981c"/><g clip-path="url(#fc1)"><polygon points="470,385.8 471.8,386 473.6,386.2 475.3,386.4 477.1,386.7 478.9,386.9 480.7,387.2 482.5,387.4 484.3,387.7 486,387.9 487.8,388.2 489.6,388.4 491.4,388.7 493.2,389 495,389.2 496.7,389.5 498.5,389.7 500.3,389.9 502.1,390.1 503.9,390.3 505.7,390.5 507.4,390.7 509.2,390.9 511,391.1 512.8,391.3 514.6,391.5 516.4,391.7 518.1,391.9 519.9,392.1 521.7,392.2 523.5,392.2 525.3,392.2 527.1,392.3 528.8,392.3 530.6,392.3 532.4,392.3 534.2,392.3 536,392.3 537.8,392.4 539.5,392.4 541.3,392.4 543.1,392.4 544.9,392.4 546.7,392.3 548.5,392.2 550.2,392.1 552,391.9 553.8,391.8 555.6,391.7 557.4,391.6 559.2,391.4 560.9,391.3 562.7,391.2 564.5,391.1 566.3,390.9 568.1,390.8 569.9,390.7 571.6,390.5 573.4,390.2 575.2,389.8 575.2,394.9 573.4,395.5 571.6,396.1 569.9,396.3 568.1,396.4 566.3,396.5 564.5,396.6 562.7,396.7 560.9,396.9 559.2,397 557.4,397.1 555.6,397.2 553.8,397.3 552,397.4 550.2,397.5 548.5,397.5 546.7,397.6 544.9,397.7 543.1,397.7 541.3,397.6 539.5,397.6 537.8,397.6 536,397.6 534.2,397.5 532.4,397.5 530.6,397.4 528.8,397.4 527.1,397.3 525.3,397.3 523.5,397.2 521.7,397.2 519.9,397 518.1,396.9 516.4,396.7 514.6,396.5 512.8,396.3 511,396.1 509.2,395.8 507.4,395.6 505.7,395.3 503.9,395 502.1,394.8 500.3,394.5 498.5,394.3 496.7,394 495,393.7 493.2,393.3 491.4,392.9 489.6,392.5 487.8,392.2 486,391.8 484.3,391.5 482.5,391.1 480.7,390.8 478.9,390.4 477.1,390.1 475.3,389.7 473.6,389.4 471.8,389.1 470,388.8" fill="#e01858"/><polygon points="290,402.7 293.1,402.8 296.1,403 299.2,403.1 302.2,403.3 305.3,403.4 308.3,403.5 311.4,403.7 314.4,403.5 317.5,403.3 320.5,403 323.6,402.8 326.6,402.6 329.7,402.2 332.7,401.7 335.8,401.1 338.8,400.5 341.9,399.9 344.9,399.4 348,398.8 351,398.2 354.1,397.7 357.1,397.2 360.2,396.8 363.2,396.3 366.3,395.9 369.3,395.4 372.4,395 375.4,394.5 378.5,394.1 381.5,393.7 384.6,393.3 387.6,392.9 390.7,392.5 393.7,392.2 396.8,391.8 399.8,391.3 402.9,390.8 405.9,390.2 409,389.6 412,389 415.1,388.4 418.1,387.8 421.2,387.2 424.2,386.6 427.3,386.2 430.3,385.9 433.4,385.5 436.4,385.2 439.5,384.9 442.5,384.6 445.6,384.3 448.6,384.2 451.7,384.5 454.7,384.8 457.8,385.1 460.8,385.5 463.9,385.9 466.9,386.3 470,386.7 470,387.9 466.9,387.5 463.9,387.1 460.8,386.7 457.8,386.3 454.7,386 451.7,385.7 448.6,385.3 445.6,385.5 442.5,385.7 439.5,386.1 436.4,386.5 433.4,386.9 430.3,387.2 427.3,387.7 424.2,388.1 421.2,388.8 418.1,389.5 415.1,390.1 412,390.8 409,391.4 405.9,392 402.9,392.7 399.8,393.3 396.8,393.8 393.7,394.2 390.7,394.7 387.6,395.1 384.6,395.5 381.5,395.9 378.5,396.3 375.4,396.8 372.4,397.2 369.3,397.7 366.3,398.1 363.2,398.6 360.2,399 357.1,399.5 354.1,400 351,400.5 348,401 344.9,401.6 341.9,402.2 338.8,402.7 335.8,403.3 332.7,403.9 329.7,404.4 326.6,404.8 323.6,405 320.5,405.2 317.5,405.4 314.4,405.6 311.4,405.8 308.3,405.7 305.3,405.6 302.2,405.5 299.2,405.3 296.1,405.2 293.1,405 290,404.9" fill="#e02850"/><polygon points="290,413.7 294.8,413.9 299.7,414.1 304.5,414.3 309.3,414.4 314.2,414.2 319,413.9 323.8,413.6 328.7,413.3 333.5,412.5 338.3,411.6 343.2,410.8 348,410 352.8,409.2 357.7,408.5 362.5,407.8 367.3,407 372.2,406.3 377,405.6 381.8,404.7 386.7,403.8 391.5,402.9 396.3,402 401.2,400.8 406,399.5 410.8,398.2 415.7,396.8 420.5,395.4 425.3,393.9 430.2,392.8 435,391.8 439.9,390.8 444.7,389.9 449.5,389.9 454.4,390.4 459.2,390.9 464,391.8 468.9,392.6 473.7,393.5 478.5,394.8 483.4,396.1 488.2,397.5 493,398.9 497.9,400.2 502.7,401 507.5,401.8 512.4,402.6 517.2,403.2 522,403.7 526.9,403.9 531.7,404.2 536.5,404.3 541.4,404.5 546.2,404.6 551,404.4 555.9,404.3 560.7,404.1 565.5,403.8 570.4,403.5 575.2,401.5 575.2,403.5 570.4,405.8 565.5,406.1 560.7,406.3 555.9,406.5 551,406.6 546.2,406.7 541.4,406.6 536.5,406.4 531.7,406.2 526.9,406 522,405.7 517.2,405.2 512.4,404.6 507.5,403.8 502.7,402.9 497.9,402 493,400.6 488.2,399.1 483.4,397.6 478.5,396.2 473.7,394.8 468.9,393.8 464,393 459.2,392.1 454.4,391.5 449.5,391.1 444.7,391 439.9,392 435,393.1 430.2,394.2 425.3,395.5 420.5,397 415.7,398.5 410.8,400 406,401.4 401.2,402.8 396.3,404.1 391.5,405 386.7,406 381.8,406.9 377,407.8 372.2,408.6 367.3,409.3 362.5,410 357.7,410.7 352.8,411.5 348,412.3 343.2,413.1 338.3,413.9 333.5,414.7 328.7,415.5 323.8,415.8 319,416.1 314.2,416.4 309.3,416.5 304.5,416.4 299.7,416.3 294.8,416.1 290,416" fill="#e01858"/><polygon points="290,423.7 294.8,423.8 299.7,424 304.5,424.1 309.3,424.1 314.2,423.9 319,423.7 323.8,423.4 328.7,423 333.5,422.3 338.3,421.6 343.2,420.8 348,420.1 352.8,419.4 357.7,418.7 362.5,417.9 367.3,417.2 372.2,416.5 377,415.7 381.8,414.6 386.7,413.5 391.5,412.4 396.3,411.2 401.2,409.6 406,407.9 410.8,406.2 415.7,404.5 420.5,402.6 425.3,400.7 430.2,399.1 435,397.6 439.9,396.1 444.7,394.9 449.5,395 454.4,395.5 459.2,396 464,397.1 468.9,398.1 473.7,399.3 478.5,401.1 483.4,402.8 488.2,404.7 493,406.7 497.9,408.4 502.7,409.5 507.5,410.5 512.4,411.5 517.2,412.1 522,412.7 526.9,413.1 531.7,413.5 536.5,413.7 541.4,414 546.2,414.1 551,414.2 555.9,414.2 560.7,414.1 565.5,413.9 570.4,413.7 575.2,410.6 575.2,412.6 570.4,415.9 565.5,416.1 560.7,416.3 555.9,416.4 551,416.3 546.2,416.3 541.4,416.1 536.5,415.8 531.7,415.5 526.9,415.1 522,414.7 517.2,414.1 512.4,413.4 507.5,412.5 502.7,411.4 497.9,410.3 493,408.4 488.2,406.3 483.4,404.3 478.5,402.4 473.7,400.5 468.9,399.3 464,398.2 459.2,397.2 454.4,396.6 449.5,396.1 444.7,396 439.9,397.3 435,398.9 430.2,400.5 425.3,402.2 420.5,404.2 415.7,406.2 410.8,408 406,409.8 401.2,411.6 396.3,413.2 391.5,414.5 386.7,415.6 381.8,416.8 377,418 372.2,418.8 367.3,419.5 362.5,420.2 357.7,420.9 352.8,421.7 348,422.4 343.2,423.1 338.3,423.8 333.5,424.5 328.7,425.2 323.8,425.5 319,425.8 314.2,426.1 309.3,426.3 304.5,426.2 299.7,426.2 294.8,426 290,425.9" fill="#e02850"/><polygon points="290,433.7 294.8,433.8 299.7,433.9 304.5,433.9 309.3,433.8 314.2,433.6 319,433.4 323.8,433.1 328.7,432.8 333.5,432.2 338.3,431.5 343.2,430.9 348,430.2 352.8,429.6 357.7,428.9 362.5,428.1 367.3,427.4 372.2,426.7 377,425.9 381.8,424.5 386.7,423.2 391.5,421.8 396.3,420.4 401.2,418.4 406,416.3 410.8,414.3 415.7,412.2 420.5,409.8 425.3,407.5 430.2,405.3 435,403.4 439.9,401.5 444.7,399.9 449.5,400.1 454.4,400.5 459.2,401.1 464,402.3 468.9,403.6 473.7,405 478.5,407.3 483.4,409.6 488.2,411.9 493,414.4 497.9,416.7 502.7,418 507.5,419.2 512.4,420.3 517.2,421 522,421.7 526.9,422.2 531.7,422.7 536.5,423.1 541.4,423.4 546.2,423.7 551,423.9 555.9,424.1 560.7,424 565.5,423.9 570.4,423.8 575.2,419.7 575.2,421.7 570.4,426 565.5,426.2 560.7,426.3 555.9,426.3 551,426.1 546.2,425.9 541.4,425.5 536.5,425.2 531.7,424.8 526.9,424.2 522,423.7 517.2,423 512.4,422.3 507.5,421.1 502.7,419.8 497.9,418.5 493,416.2 488.2,413.5 483.4,411.1 478.5,408.7 473.7,406.3 468.9,404.8 464,403.5 459.2,402.2 454.4,401.6 449.5,401.2 444.7,401 439.9,402.6 435,404.7 430.2,406.7 425.3,409 420.5,411.4 415.7,413.9 410.8,416.1 406,418.2 401.2,420.4 396.3,422.4 391.5,423.9 386.7,425.3 381.8,426.7 377,428.1 372.2,429 367.3,429.7 362.5,430.4 357.7,431.1 352.8,431.8 348,432.5 343.2,433.1 338.3,433.7 333.5,434.4 328.7,435 323.8,435.3 319,435.5 314.2,435.8 309.3,436 304.5,436 299.7,436 294.8,436 290,435.9" fill="#e01858"/><polygon points="290,443.1 294.8,443.1 299.7,443.2 304.5,443.1 309.3,443 314.2,442.8 319,442.5 323.8,442.3 328.7,442 333.5,441.5 338.3,440.9 343.2,440.3 348,439.8 352.8,439.2 357.7,438.5 362.5,437.8 367.3,437 372.2,436.3 377,435.5 381.8,433.9 386.7,432.3 391.5,430.7 396.3,429.1 401.2,426.7 406,424.3 410.8,421.9 415.7,419.4 420.5,416.7 425.3,413.9 430.2,411.2 435,408.9 439.9,406.5 444.7,404.6 449.5,404.9 454.4,405.3 459.2,405.9 464,407.3 468.9,408.7 473.7,410.4 478.5,413.1 483.4,415.9 488.2,418.7 493,421.8 497.9,424.5 502.7,426 507.5,427.4 512.4,428.7 517.2,429.5 522,430.2 526.9,430.8 531.7,431.5 536.5,432 541.4,432.4 546.2,432.8 551,433.1 555.9,433.4 560.7,433.5 565.5,433.4 570.4,433.3 575.2,428.3 575.2,429.8 570.4,435 565.5,435.1 560.7,435.1 555.9,435.1 551,434.7 546.2,434.4 541.4,434 536.5,433.6 531.7,433.1 526.9,432.4 522,431.7 517.2,430.9 512.4,430.2 507.5,428.9 502.7,427.4 497.9,425.9 493,423.1 488.2,419.9 483.4,417 478.5,414.2 473.7,411.3 468.9,409.6 464,408.2 459.2,406.7 454.4,406.1 449.5,405.7 444.7,405.4 439.9,407.4 435,409.8 430.2,412.3 425.3,415 420.5,417.9 415.7,420.7 410.8,423.2 406,425.7 401.2,428.2 396.3,430.6 391.5,432.3 386.7,433.9 381.8,435.6 377,437.2 372.2,438 367.3,438.7 362.5,439.5 357.7,440.2 352.8,440.9 348,441.5 343.2,442 338.3,442.6 333.5,443.1 328.7,443.7 323.8,443.9 319,444.2 314.2,444.4 309.3,444.6 304.5,444.8 299.7,444.8 294.8,444.8 290,444.7" fill="#e03048"/><polygon points="480,417.5 481.6,418.5 483.2,419.5 484.8,420.6 486.5,421.6 488.1,422.6 489.7,423.8 491.3,424.9 492.9,426 494.5,427.1 496.1,428.3 497.7,429.1 499.4,429.6 501,430.1 502.6,430.6 504.2,431.2 505.8,431.7 507.4,432.2 509,432.7 510.7,433.3 512.3,433.6 513.9,433.9 515.5,434.1 517.1,434.4 518.7,434.7 520.3,434.9 522,435.2 523.6,435.4 525.2,435.7 526.8,435.9 528.4,436.2 530,436.4 531.6,436.7 533.2,436.9 534.9,437 536.5,437.2 538.1,437.3 539.7,437.5 541.3,437.6 542.9,437.8 544.5,437.9 546.2,438.1 547.8,438.2 549.4,438.4 551,438.5 552.6,438.6 554.2,438.8 555.8,438.9 557.5,439 559.1,439 560.7,439 562.3,439 563.9,439 565.5,439 567.1,439 568.7,439 570.4,439 572,438.4 573.6,435.9 575.2,433.4 575.2,436.9 573.6,439.6 572,442.3 570.4,442.9 568.7,442.9 567.1,442.9 565.5,442.9 563.9,442.9 562.3,442.9 560.7,442.9 559.1,442.9 557.5,442.9 555.8,442.8 554.2,442.6 552.6,442.5 551,442.3 549.4,442.1 547.8,442 546.2,441.8 544.5,441.6 542.9,441.5 541.3,441.3 539.7,441.2 538.1,441 536.5,440.8 534.9,440.7 533.2,440.5 531.6,440.3 530,440 528.4,439.7 526.8,439.5 525.2,439.2 523.6,438.9 522,438.7 520.3,438.4 518.7,438.1 517.1,437.9 515.5,437.6 513.9,437.3 512.3,437.1 510.7,436.7 509,436.1 507.4,435.6 505.8,435 504.2,434.5 502.6,433.9 501,433.4 499.4,432.8 497.7,432.3 496.1,431.4 494.5,430.2 492.9,429 491.3,427.8 489.7,426.6 488.1,425.4 486.5,424.3 484.8,423.2 483.2,422.2 481.6,421.1 480,420" fill="#e0d818"/><polygon points="290,408.2 294.8,408.4 299.7,408.6 304.5,408.8 309.3,409 314.2,408.9 319,408.5 323.8,408.2 328.7,407.9 333.5,407 338.3,406.1 343.2,405.3 348,404.4 352.8,403.5 357.7,402.8 362.5,402.1 367.3,401.4 372.2,400.7 377,399.9 381.8,399.2 386.7,398.4 391.5,397.7 396.3,396.9 401.2,396 406,394.8 410.8,393.7 415.7,392.6 420.5,391.3 425.3,390.2 430.2,389.3 435,388.6 439.9,387.8 444.7,387.1 449.5,387.1 454.4,387.6 459.2,388.1 464,388.9 468.9,389.6 473.7,390.3 478.5,391.4 483.4,392.4 488.2,393.5 493,394.6 497.9,395.6 502.7,396.3 507.5,397 512.4,397.7 517.2,398.2 522,398.7 526.9,398.9 531.7,399 536.5,399.1 541.4,399.2 546.2,399.2 551,399 555.9,398.8 560.7,398.5 565.5,398.2 570.4,397.9 575.2,396.4 575.2,399.5 570.4,401.3 565.5,401.6 560.7,401.9 555.9,402.1 551,402.3 546.2,402.4 541.4,402.4 536.5,402.3 531.7,402.1 526.9,401.9 522,401.7 517.2,401.2 512.4,400.6 507.5,399.9 502.7,399.1 497.9,398.3 493,397.1 488.2,395.9 483.4,394.6 478.5,393.5 473.7,392.3 468.9,391.4 464,390.6 459.2,389.8 454.4,389.3 449.5,388.8 444.7,388.8 439.9,389.6 435,390.5 430.2,391.4 425.3,392.4 420.5,393.8 415.7,395.1 410.8,396.4 406,397.6 401.2,398.9 396.3,400 391.5,400.8 386.7,401.7 381.8,402.5 377,403.3 372.2,404 367.3,404.8 362.5,405.5 357.7,406.2 352.8,406.9 348,407.8 343.2,408.6 338.3,409.4 333.5,410.3 328.7,411.1 323.8,411.5 319,411.8 314.2,412.1 309.3,412.2 304.5,412.1 299.7,411.9 294.8,411.7 290,411.5" fill="#ecc020"/><polygon points="290,428.1 294.8,428.3 299.7,428.4 304.5,428.4 309.3,428.4 314.2,428.2 319,428 323.8,427.7 328.7,427.4 333.5,426.7 338.3,426 343.2,425.3 348,424.6 352.8,423.9 357.7,423.2 362.5,422.5 367.3,421.7 372.2,421 377,420.2 381.8,419 386.7,417.8 391.5,416.6 396.3,415.3 401.2,413.5 406,411.7 410.8,409.8 415.7,407.9 420.5,405.8 425.3,403.7 430.2,401.9 435,400.2 439.9,398.5 444.7,397.1 449.5,397.3 454.4,397.7 459.2,398.3 464,399.4 468.9,400.5 473.7,401.8 478.5,403.8 483.4,405.8 488.2,407.9 493,410.1 497.9,412.1 502.7,413.2 507.5,414.4 512.4,415.4 517.2,416.1 522,416.7 526.9,417.1 531.7,417.6 536.5,417.9 541.4,418.2 546.2,418.4 551,418.5 555.9,418.6 560.7,418.5 565.5,418.3 570.4,418.2 575.2,414.6 575.2,417.7 570.4,421.5 565.5,421.7 560.7,421.8 555.9,421.9 551,421.7 546.2,421.6 541.4,421.3 536.5,421 531.7,420.7 526.9,420.2 522,419.7 517.2,419 512.4,418.4 507.5,417.3 502.7,416.1 497.9,414.9 493,412.7 488.2,410.3 483.4,408.1 478.5,405.9 473.7,403.7 468.9,402.3 464,401.2 459.2,400 454.4,399.4 449.5,399 444.7,398.8 439.9,400.3 435,402.1 430.2,403.9 425.3,406 420.5,408.2 415.7,410.5 410.8,412.5 406,414.5 401.2,416.4 396.3,418.3 391.5,419.7 386.7,421 381.8,422.3 377,423.6 372.2,424.4 367.3,425.1 362.5,425.9 357.7,426.6 352.8,427.3 348,428 343.2,428.6 338.3,429.3 333.5,430 328.7,430.6 323.8,430.9 319,431.2 314.2,431.5 309.3,431.6 304.5,431.7 299.7,431.7 294.8,431.6 290,431.5" fill="#f0c424"/><path d="M286 397.1L293 453.5M297.1 397.5L303.6 453.4M308.1 398.1L314.2 452.9M319.2 397.7L324.8 452.5M330.3 396.7L335.4 451.6M341.4 394.5L346 450.5M352.4 392.3L356.6 449.3M363.5 390.6L367.2 447.7M374.6 389L377.8 445.8M385.7 387.8L388.4 441.8M396.7 386.7L399 437.2M409.6 388.5V406.6M419.5 407.2V424.2M429.6 391.5V399.7M438 382.2V400.9M449.3 385.6V399.7M452.3 392V397.7M458.5 383.9V397M461.5 383.2V387.5M466.3 397.3V403.5M475.7 399V407.4M487 399.3V405.3M493.6 395.5V409.7M500.8 418.4V433.3M506.9 400.7V408.3M516.1 413.3V429.9M519.1 391.8V400.5M527.2 422.9V434.7M530.2 421.8V433.7M537.2 398.6V406.3M540.2 399.6V404.5M543.7 419.2V436.6M552.8 418.6V427.5M561.7 389.5V395.9M564.7 419.3V428.9M567.8 390.9V404.6M570.8 402.8V414.8" stroke="#0a1a0a" stroke-width="1.3" fill="none"/></g><polygon points="575.2,386.3 578.8,376.6 593.3,364.6 612.5,350.1 627,328.4 636.6,314 657.1,299.5 657.1,299.6 654,336 641.4,350.1 627,374.2 612.5,393.5 593.3,417.6 575.2,436.9" fill="#b87820"/><g clip-path="url(#rc1)"><polygon points="575.2,391.4 578,384.2 580.8,380.5 583.7,378.1 586.5,375.7 589.3,373.3 592.1,370.9 594.9,368.6 597.8,366.3 600.6,364 603.4,361.8 606.2,359.5 609,357.2 611.9,354.9 614.7,351.2 617.5,347 620.3,342.9 623.2,338.7 626,334.5 628.8,330.3 631.6,326 634.4,321.7 637.3,317.9 640.1,315.6 642.9,313.4 645.7,311.3 648.5,309.2 651.4,307.1 654.2,304.8 657,299.7 657,299.8 654.2,307.4 651.4,309.9 648.5,312.1 645.7,314.3 642.9,316.5 640.1,318.9 637.3,321.4 634.4,325.3 631.6,329.6 628.8,333.9 626,338.2 623.2,342.3 620.3,346.4 617.5,350.6 614.7,354.7 611.9,358.4 609,360.8 606.2,363.2 603.4,365.6 600.6,368 597.8,370.4 594.9,372.7 592.1,375.2 589.3,377.6 586.5,380.1 583.7,382.5 580.8,385 578,388.6 575.2,395.4" fill="#e01858"/><polygon points="575.2,409.1 578,403.5 580.8,400.1 583.7,397.5 586.5,394.8 589.3,392.2 592.1,389.5 594.9,386.8 597.8,384.1 600.6,381.3 603.4,378.5 606.2,375.8 609,373 611.9,370.2 614.7,366.5 617.5,362.5 620.3,358.5 623.2,354.5 626,350.5 628.8,346.2 631.6,341.7 634.4,337.3 637.3,333.1 640.1,329.9 642.9,327 645.7,324.5 648.5,322 651.4,319.5 654.2,316.1 657,300.1 657,300.2 654.2,317.7 651.4,321.3 648.5,323.8 645.7,326.4 642.9,329 640.1,331.9 637.3,335.3 634.4,339.5 631.6,344 628.8,348.5 626,352.8 623.2,356.7 620.3,360.7 617.5,364.7 614.7,368.7 611.9,372.4 609,375.3 606.2,378.1 603.4,380.9 600.6,383.8 597.8,386.6 594.9,389.4 592.1,392.2 589.3,394.9 586.5,397.6 583.7,400.2 580.8,402.9 578,406.3 575.2,411.6" fill="#e02850"/><polygon points="575.2,424.2 578,420.1 580.8,416.9 583.7,414.1 586.5,411.2 589.3,408.4 592.1,405.5 594.9,402.5 597.8,399.3 600.6,396.1 603.4,392.9 606.2,389.7 609,386.6 611.9,383.4 614.7,379.6 617.5,375.8 620.3,371.9 623.2,368 626,364.2 628.8,359.8 631.6,355.2 634.4,350.6 637.3,346.2 640.1,342.1 642.9,338.7 645.7,335.8 648.5,333 651.4,330.1 654.2,325.8 657,300.5 657,300.5 654.2,327.4 651.4,331.9 648.5,334.8 645.7,337.7 642.9,340.6 640.1,344.2 637.3,348.3 634.4,352.9 631.6,357.5 628.8,362.1 626,366.4 623.2,370.3 620.3,374.1 617.5,378 614.7,381.8 611.9,385.5 609,388.8 606.2,392.1 603.4,395.3 600.6,398.6 597.8,401.8 594.9,405.1 592.1,408.2 589.3,411.1 586.5,413.9 583.7,416.8 580.8,419.7 578,422.9 575.2,426.8" fill="#e01858"/><polygon points="575.2,398.9 578,392.5 580.8,388.9 583.7,386.4 586.5,383.9 589.3,381.4 592.1,378.9 594.9,376.4 597.8,373.9 600.6,371.4 603.4,369 606.2,366.5 609,364 611.9,361.5 614.7,357.8 617.5,353.7 620.3,349.6 623.2,345.4 626,341.3 628.8,337.1 631.6,332.7 634.4,328.4 637.3,324.4 640.1,321.7 642.9,319.3 645.7,317 648.5,314.7 651.4,312.4 654.2,309.6 657,299.9 657,300 654.2,312.2 651.4,315.2 648.5,317.6 645.7,320 642.9,322.4 640.1,325 637.3,327.9 634.4,331.9 631.6,336.3 628.8,340.7 626,345 623.2,349.1 620.3,353.1 617.5,357.2 614.7,361.3 611.9,365 609,367.6 606.2,370.2 603.4,372.8 600.6,375.4 597.8,378 594.9,380.6 592.1,383.2 589.3,385.7 586.5,388.3 583.7,390.8 580.8,393.4 578,396.9 575.2,403" fill="#e8c020"/><path d="M577 385.3V393.2M577 397.8V405.9M577 411.2V421.5M577 427.1V436.2M580 379.2V391.8M580 392.3V403.8M580 406V415.4M580 423.8V435.3M583 377.7V386.3M583 392.1V402.4M583 405V416.3M583 417.3V425.9M586 376V384.9M586 388.6V400.7M586 401.1V413M586 414.3V425.7M589 372.6V383.2M589 387V396M589 400.3V411.8M589 411.8V419.8M592 371.4V379.7M592 382.9V391.3M592 396.7V405.5M592 410.1V417.7M595 366.7V374.1M595 381.8V392.9M595 393.8V403.9M595 405.7V413.9M598 363.4V373.5M598 378.3V385.6M598 388.6V396.5M598 404.6V413M601 361.4V371.2M601 374.2V383.4M601 386.8V394.9M601 398.7V406.5M604 358.8V367.7M604 372.2V381.3M604 383.1V390M604 395.4V404.3M607 358.7V365.4M607 369.7V376.7M607 382.3V389.4M607 391.3V401.4M610 356.7V363.1M610 367.3V373.8M610 376.4V384.9M610 388.5V396.6M613 353.7V360.6M613 365V371.7M613 373.8V383.2M613 386.1V393.1M616 348.4V354.5M616 358.4V365.1M616 368.7V378.2M616 381.9V391.5M619 342.8V349M619 354.2V361.6M619 364.5V373.6M619 377V383.5M622 337.9V346M622 349.7V357.3M622 361.9V368.7M622 372.3V382.2M625 335.5V341.7M625 345.3V351.7M625 358.5V363.7M625 368.5V373.5M628 330.3V337.1M628 343.2V348.4M628 352.1V358.8M628 366.1V372M631 326.9V333.6M631 338V343.4M631 346.7V352.3M631 361.1V365.5M634 320.8V326.4M634 331.8V336.8M634 344V350.9M634 354.8V361.1M637 317.9V323.7M637 327.1V333.2M637 338.2V342.7M637 351.1V357.3M640 316.1V322M640 324.4V329.3M640 334.2V340M640 345.2V349.8M643 312.1V318.2M643 321.5V326.3M643 332.8V337.4M643 340.7V346.3M646 309V314.6M646 319.5V323.7M646 330.4V335.8M646 339.5V344.6M649 308.7V312.5M649 317.2V322.2M649 326.4V331.8M649 336.5V340.3M652 306.4V311.4M652 315.3V318.8M652 323.8V328.2M652 332.1V337M655 302.7V305.1M655 308.8V312.1M655 315.2V317.7M655 319.4V322.8" stroke="#06180a" stroke-width="1.5" fill="none"/></g><polygon points="289.6,397.1 299.3,376.6 323.4,351.3 352.3,326 371.6,309.2 376.4,294.7 383.6,275.4 395.7,268.2 417.3,258.6 448.7,254.9 472.8,250.1 496.9,246.5 521,244.1 542.7,240.5 554.7,241.7 569.2,250.1 593.3,256.1 617.3,256.1 655.9,262.2 657.1,299.5 636.6,314 627,328.4 612.5,350.1 593.3,364.6 578.8,376.6 575.2,386.3 545,388.7 521,388.7 496.9,386.3 472.8,383.9 448.7,381.4 424.6,382.7 400.5,386.3 376.4,388.7 352.3,392.3 328.2,397.1 311.3,398.3" fill="url(#mb1)"/><g clip-path="url(#mc1)"><g filter="url(#blur6)"><ellipse cx="453.5" cy="292.3" rx="81.9" ry="20.5" fill="#b41c6e" opacity="0.95"/><ellipse cx="393.3" cy="294.7" rx="26.5" ry="16.9" fill="#b02070" opacity="0.9"/><ellipse cx="525.8" cy="300.7" rx="36.1" ry="13.3" fill="#b02068" opacity="0.9"/><ellipse cx="605.3" cy="308" rx="41" ry="10.1" fill="#a82868" opacity="0.85"/><ellipse cx="374" cy="321.2" rx="14.5" ry="7.2" fill="#b02868" opacity="0.8"/><ellipse cx="581.2" cy="268.2" rx="62.7" ry="15.7" fill="#8c8a28" opacity="0.9"/><ellipse cx="463.1" cy="259.8" rx="55.4" ry="6.7" fill="#a08830" opacity="0.9"/><ellipse cx="540.2" cy="248.9" rx="19.3" ry="6" fill="#b09028" opacity="0.9"/><ellipse cx="549.9" cy="329.6" rx="55.4" ry="14.9" fill="#e4104e" opacity="0.95"/><ellipse cx="477.6" cy="321.2" rx="41" ry="10.8" fill="#d81858" opacity="0.9"/><ellipse cx="617.3" cy="322.4" rx="21.7" ry="7.2" fill="#e03040" opacity="0.8"/><ellipse cx="359.5" cy="342.9" rx="41" ry="14.5" fill="#e8a010" opacity="0.9"/><ellipse cx="448.7" cy="354.9" rx="48.2" ry="12" fill="#d8a018" opacity="0.8"/><ellipse cx="342.7" cy="369.4" rx="33.7" ry="8.4" fill="#dcd814" opacity="0.9"/><ellipse cx="487.2" cy="374.2" rx="21.7" ry="8.4" fill="#d8d810" opacity="0.9"/><ellipse cx="321" cy="391.1" rx="14.5" ry="6.7" fill="#e4e018" opacity="0.9"/><ellipse cx="557.1" cy="369.4" rx="43.4" ry="12" fill="#d89820" opacity="0.8"/><ellipse cx="405.3" cy="328.4" rx="26.5" ry="6.7" fill="#c88028" opacity="0.7"/></g><g filter="url(#blur3)"><ellipse cx="429.4" cy="299.5" rx="62.7" ry="3.9" transform="rotate(-12 429.4 299.5)" fill="#000" opacity="0.22"/><ellipse cx="359.5" cy="388.7" rx="53" ry="3.9" transform="rotate(-14 359.5 388.7)" fill="#000" opacity="0.25"/><ellipse cx="468" cy="362.2" rx="48.2" ry="3.9" transform="rotate(14 468 362.2)" fill="#000" opacity="0.22"/><ellipse cx="569.2" cy="338.1" rx="53" ry="3.4" transform="rotate(-18 569.2 338.1)" fill="#000" opacity="0.18"/><ellipse cx="453.5" cy="276.6" rx="67.5" ry="2.9" transform="rotate(-8 453.5 276.6)" fill="#000" opacity="0.16"/><ellipse cx="605.3" cy="277.8" rx="48.2" ry="3.4" transform="rotate(8 605.3 277.8)" fill="#000" opacity="0.18"/><ellipse cx="383.6" cy="311.6" rx="14.5" ry="9.6" transform="rotate(-40 383.6 311.6)" fill="#000" opacity="0.2"/><ellipse cx="511.3" cy="316.4" rx="9.6" ry="28.9" transform="rotate(28 511.3 316.4)" fill="#000" opacity="0.12"/><ellipse cx="410.1" cy="333.3" rx="62.7" ry="4.3" transform="rotate(-14 410.1 333.3)" fill="#fff" opacity="0.2"/><ellipse cx="359.5" cy="364.6" rx="41" ry="3.9" transform="rotate(-16 359.5 364.6)" fill="#fff" opacity="0.2"/><ellipse cx="549.9" cy="318.8" rx="55.4" ry="3.9" transform="rotate(-16 549.9 318.8)" fill="#fff" opacity="0.2"/><ellipse cx="480" cy="273" rx="53" ry="2.4" transform="rotate(-6 480 273)" fill="#fff" opacity="0.14"/><ellipse cx="521" cy="379" rx="48.2" ry="3.4" transform="rotate(4 521 379)" fill="#fff" opacity="0.16"/><ellipse cx="617.3" cy="292.3" rx="28.9" ry="3.4" transform="rotate(10 617.3 292.3)" fill="#fff" opacity="0.14"/></g><rect x="289.6" y="240.5" width="367.5" height="157.8" filter="url(#noise)" opacity="0.06"/><path d="M563.1 248.9L547.5 277.8L530.6 311.6L511.3 340.5L500.5 358.6M501.7 276.6L472.8 306.7L448.7 333.3L434.2 354.9L427 369.4M580 276.6L578.8 292.3M535.4 282.7L531.8 289.9" stroke="#04300c" stroke-opacity="0.38" stroke-width="1.5" fill="none" filter="url(#blur1)"/></g></g><path d="M489.8 696.5L493.4 696.5L497.2 883.8L493.6 883.8Z" fill="#0a0af0"/><circle cx="491.6" cy="696.5" r="3.6" fill="none" stroke="#2222ee" stroke-width="1.3"/><path d="M490.1 692.3L491.6 687.7L493.1 692.3ZM487.6 694.6L485.4 690.3L489.7 692.5ZM487.4 698L482.8 696.5L487.4 695ZM489.7 700.5L485.4 702.7L487.6 698.4ZM493.1 700.7L491.6 705.3L490.1 700.7ZM495.6 698.4L497.8 702.7L493.5 700.5ZM495.8 695L500.4 696.5L495.8 698ZM493.5 692.5L497.8 690.3L495.6 694.6Z" fill="#2222ee"/><path d="M506.6 707.1L510.2 707.1L514.5 902L510.9 902Z" fill="#ff0000"/><circle cx="508.4" cy="707.1" r="3.6" fill="none" stroke="#ee1111" stroke-width="1.3"/><path d="M506.9 702.9L508.4 698.3L509.9 702.9ZM504.4 705.2L502.2 700.9L506.5 703.1ZM504.2 708.6L499.6 707.1L504.2 705.6ZM506.5 711.1L502.2 713.3L504.4 709ZM509.9 711.3L508.4 715.9L506.9 711.3ZM512.4 709L514.6 713.3L510.3 711.1ZM512.6 705.6L517.2 707.1L512.6 708.6ZM510.3 703.1L514.6 700.9L512.4 705.2Z" fill="#ee1111"/><path d="M527.5 669.2L531.1 669.2L533 844.4L529.4 844.4Z" fill="url(#wm1)"/><circle cx="529.3" cy="669.2" r="3.6" fill="none" stroke="#cc0099" stroke-width="1.3"/><path d="M527.8 665L529.3 660.4L530.8 665ZM525.3 667.3L523.1 663L527.4 665.2ZM525.1 670.7L520.5 669.2L525.1 667.7ZM527.4 673.2L523.1 675.4L525.3 671.1ZM530.8 673.4L529.3 678L527.8 673.4ZM533.3 671.1L535.5 675.4L531.2 673.2ZM533.5 667.7L538.1 669.2L533.5 670.7ZM531.2 665.2L535.5 663L533.3 667.3Z" fill="#cc0099"/><path d="M556.8 664.5L560.4 664.5L560.3 833.8L556.7 833.8Z" fill="url(#wp1)"/><circle cx="558.6" cy="664.5" r="3.6" fill="none" stroke="#cc22cc" stroke-width="1.3"/><path d="M557.1 660.3L558.6 655.7L560.1 660.3ZM554.6 662.6L552.4 658.3L556.7 660.5ZM554.4 666L549.8 664.5L554.4 663ZM556.7 668.5L552.4 670.7L554.6 666.4ZM560.1 668.7L558.6 673.3L557.1 668.7ZM562.6 666.4L564.8 670.7L560.5 668.5ZM562.8 663L567.4 664.5L562.8 666ZM560.5 660.5L564.8 658.3L562.6 662.6Z" fill="#cc22cc"/><path d="M500.6 816h17" stroke="#3344dd" stroke-width="1.2" stroke-dasharray="2 1.2 1 1"/><path d="M535.3 785.2h5M563.1 776.9h8" stroke="#c030c0" stroke-width="1" stroke-dasharray="1.5 1.5"/><path d="M520.4 837.1h9" stroke="#e02020" stroke-width="1.2" stroke-dasharray="2 1"/><text class="ax" x="343.4" y="631" text-anchor="middle">1030000</text><text class="ax" x="462" y="631.8" text-anchor="middle">1020000</text><text class="ax" x="580.6" y="632.6" text-anchor="middle">1010000</text><text class="ax" x="699.3" y="633.4" text-anchor="middle">1000000</text><text class="ax" x="515.5" y="613.8" text-anchor="middle">Y-axis</text><text class="ax" x="339.4" y="1136.3" text-anchor="middle">1030000</text><text class="ax" x="459.6" y="1136.6" text-anchor="middle">1020000</text><text class="ax" x="579.8" y="1136.8" text-anchor="middle">1010000</text><text class="ax" x="699.9" y="1137.1" text-anchor="middle">1000000</text><text class="ax" x="512.4" y="1153.7" text-anchor="middle">Y-axis</text><text class="ax" x="214.9" y="756.2" text-anchor="end">0</text><text class="ax" x="793.4" y="759.3" text-anchor="start">0</text><text class="ax" x="232.5" y="831.8" text-anchor="end">-1000</text><text class="ax" x="778.4" y="833.9" text-anchor="start">-1000</text><text class="ax" x="248.2" y="898.9" text-anchor="end">-2000</text><text class="ax" x="765" y="900.6" text-anchor="start">-2000</text><text class="ax" x="262.1" y="958.8" text-anchor="end">-3000</text><text class="ax" x="753.1" y="960.2" text-anchor="start">-3000</text><text class="ax" x="212.8" y="961.8" text-anchor="middle">Z-axis</text><text class="ax" x="787.5" y="964.2" text-anchor="start">Z-axis</text><text class="ax" x="274.7" y="1012.4" text-anchor="end">-4000</text><text class="ax" x="742.3" y="1013.9" text-anchor="start">-4000</text><text class="ax" x="286" y="1060.9" text-anchor="end">-5000</text><text class="ax" x="732.5" y="1062.7" text-anchor="start">-5000</text><text class="ax" x="296.4" y="1105.4" text-anchor="end">-6000</text><text class="ax" x="723.5" y="1107.7" text-anchor="start">-6000</text><text class="ax" x="282.5" y="670.6" text-anchor="end">720000</text><text class="ax" x="229.6" y="719.8" text-anchor="end">710000</text><text class="ax" x="320.2" y="633.8" text-anchor="end">730000</text><text class="ax" x="255.9" y="627.1" text-anchor="middle">X-axis</text><text class="ax" x="718.7" y="647.5" text-anchor="start">730000</text><text class="ax" x="749.7" y="685.4" text-anchor="start">720000</text><text class="ax" x="794.1" y="687.6" text-anchor="start">X-axis</text><text class="ax" x="791.2" y="737.6" text-anchor="start">710000</text><path d="M344.4 643.9L343.6 637.4M368.1 644L367.8 641.4M391.9 644.2L391.6 641.6M415.6 644.3L415.3 641.7M439.3 644.5L439 641.9M463 644.7L462.2 638.2M486.8 644.8L486.5 642.2M510.5 645L510.2 642.4M534.2 645.2L533.9 642.6M557.9 645.3L557.6 642.7M581.6 645.5L580.8 639M605.4 645.7L605.1 643.1M629.1 645.8L628.8 643.2M652.8 646L652.5 643.4M676.5 646.2L676.2 643.6M700.3 646.3L699.5 639.8M322.6 643.6L321.6 637.1M337.9 1115.8L338.5 1122.3M362 1115.9L362.3 1118.9M386 1115.9L386.3 1118.9M410 1116L410.3 1119M434.1 1116L434.4 1119M458.1 1116.1L458.7 1122.6M482.1 1116.1L482.4 1119.1M506.2 1116.2L506.5 1119.2M530.2 1116.2L530.5 1119.2M554.2 1116.3L554.5 1119.3M578.3 1116.3L578.9 1122.8M602.3 1116.4L602.6 1119.4M626.3 1116.4L626.6 1119.4M650.4 1116.5L650.7 1119.5M674.4 1116.5L674.7 1119.5M698.4 1116.6L699 1123.1M231.1 752.2L221.5 752.2M779.8 755.4L789.4 755.4M235.7 772L232.1 772M775.9 774.8L779.7 774.8M240.2 791.1L236.6 791.1M772.1 793.8L775.9 793.8M244.5 809.7L240.9 809.7M768.4 812.2L772.2 812.2M248.7 827.8L239.1 827.8M764.8 830L774.4 830M252.8 845.3L249.2 845.3M761.3 847.4L765.1 847.4M256.8 862.3L253.2 862.3M757.9 864.3L761.7 864.3M260.6 878.9L257 878.9M754.6 880.7L758.4 880.7M264.4 894.9L254.8 894.9M751.4 896.7L761 896.7M268 910.5L264.4 910.5M748.3 912.2L752.1 912.2M271.6 925.7L268 925.7M745.3 927.3L749.1 927.3M275 940.4L271.4 940.4M742.3 942L746.1 942M278.3 954.8L268.7 954.8M739.5 956.3L749.1 956.3M281.6 968.7L278 968.7M736.7 970.3L740.5 970.3M284.8 982.3L281.2 982.3M733.9 983.8L737.7 983.8M287.9 995.5L284.3 995.5M731.3 997.1L735.1 997.1M290.9 1008.4L281.3 1008.4M728.7 1010L738.3 1010M293.8 1021L290.2 1021M726.1 1022.6L729.9 1022.6M296.6 1033.2L293 1033.2M723.7 1035L727.5 1035M299.4 1045.2L295.8 1045.2M721.3 1047L725.1 1047M302.2 1056.9L292.6 1056.9M718.9 1058.8L728.5 1058.8M304.8 1068.4L301.2 1068.4M716.6 1070.4L720.4 1070.4M307.5 1079.6L303.9 1079.6M714.3 1081.7L718.1 1081.7M310 1090.6L306.4 1090.6M712.1 1092.9L715.9 1092.9M312.6 1101.4L303 1101.4M709.9 1103.8L719.5 1103.8M315 1112L311.4 1112M707.7 1114.6L711.5 1114.6M316 650.7L315.2 648.1M309.3 657.3L308.5 654.7M301.3 665.1L300.5 662.5M293.3 673.1L292.5 670.5M285.4 681.9L283.4 674.4M276.1 690L275.3 687.4M266.8 699.2L266 696.6M256.6 709.2L255.8 706.6M245.5 720.1L244.7 717.5M233.6 732.9L231.6 725.4M709.8 647.4L717.8 647.4M715.6 654.8L718.6 654.8M722 663.1L725 663.1M727.1 669.6L730.1 669.6M732.9 677.1L735.9 677.1M739.2 685.3L747.2 685.3M746.5 694.6L749.5 694.6M754.4 704.9L757.4 704.9M762.3 715L765.3 715M770.3 725.3L773.3 725.3M779.8 737.6L787.8 737.6" stroke="#222" stroke-width="1.1" fill="none"/>
<g transform="translate(0,588.4)"><text class="lg" x="59.2" y="166.8">PHIE1 [U]</text><text class="lg" x="59.2" y="186.6" textLength="231" lengthAdjust="spacingAndGlyphs">Porosity - effective [m3/m3]</text><rect x="59.1" y="206.5" width="26.6" height="199.9" fill="url(#lgd1)"/><text class="lg" x="98.8" y="215.6">0.3000</text><text class="lg" x="98.8" y="232.2">0.2750</text><text class="lg" x="98.8" y="265.5">0.2250</text><text class="lg" x="98.8" y="298.7">0.1750</text><text class="lg" x="98.8" y="331.9">0.1250</text><text class="lg" x="98.8" y="365.2">0.0750</text><text class="lg" x="98.8" y="398.4">0.0250</text><path d="M85.7 207.5h9M85.7 224.1h9M85.7 257.4h9M85.7 290.6h9M85.7 323.8h9M85.7 357.1h9M85.7 390.3h9M85.7 240.7h9M85.7 274h9M85.7 307.2h9M85.7 340.5h9M85.7 373.7h9" stroke="#4a4ae0" stroke-width="1.1"/><path d="M164.4 361.6v9M164.4 361.8h15.4M164.4 363.4h12.4M164.4 365h5" stroke="#f02060" stroke-width="1.2" fill="none" opacity=".9"/><path d="M164.4 370v28M164.4 375.6h14.4M164.4 377.1h7M164.4 382.5h24.3M164.4 386h14.4M164.4 387.6h10M164.4 389h9M164.4 390.4h6" stroke="#ffa020" stroke-width="1.2" fill="none" opacity=".9"/><path d="M164.4 397v9.9h13.4" stroke="#ffe840" stroke-width="1.2" fill="none"/><g stroke="#0a2a0a" stroke-width="0.9" stroke-linejoin="round"><path d="M95.5 536.3H125.6V544H95.5Z" fill="#04cc04"/><path d="M95.5 544H125.6V551.3H95.5Z" fill="#04cc04"/><path d="M95.5 551.3H125.6V557H95.5Z" fill="#cc0404"/><path d="M66.1 540.2L95.5 548.1V554L66.1 547.7Z" fill="#04cc04"/><path d="M66.1 547.7L95.5 554V559.7L66.1 553Z" fill="#cc0404"/><path d="M66.1 540.2L95.5 532.2V548.1Z" fill="#04cc04"/></g></g>
<text class="rl" transform="translate(32.3,890.8) rotate(-90)" text-anchor="middle">PHIE Model</text>
<g transform="matrix(1.0025,0,0,0.9975,-2.44,591.84)">
<g clip-path="url(#sc1)"><polygon points="902.5,327.4 908.5,327.6 914.5,327.8 920.5,328.1 926.5,328.3 932.5,328.7 938.5,329.1 944.5,329.6 950.5,330 956.5,330.4 962.5,330.8 968.5,331.2 974.5,331.5 980.5,331.8 986.5,332.1 992.5,332.4 998.5,332.7 1004.5,332.8 1010.5,332.6 1016.5,332.4 1022.5,332.1 1028.5,331.9 1034.5,331.6 1040.5,331.5 1046.5,331.3 1052.5,331.2 1058.5,331.1 1064.5,331 1070.5,330.9 1076.5,330.8 1082.5,330.7 1088.5,330.6 1094.5,330.5 1100.5,330.4 1106.5,330.3 1112.5,330.2 1118.5,330.2 1124.5,329.9 1130.5,329.3 1136.5,328.7 1142.5,328.2 1148.5,327.8 1154.5,327.5 1160.5,327.1 1166.5,326.7 1172.5,326.5 1178.5,326.3 1184.5,326.1 1190.5,325.9 1196.5,325.7 1202.5,325.5 1208.5,323.3 1214.5,320.7 1220.5,319.4 1226.5,318.1 1232.5,316.8 1233.6,316.6 1234,316.5 1238.5,315.8 1244.5,315 1250.5,314.2 1256.5,313.4 1262.5,312.7 1268.5,311.9 1274.5,311.1 1280.5,310.6 1286.5,310.1 1292.5,309.5 1298.5,309 1304.5,308.4 1310.5,307.9 1316.5,307.4 1322.5,306.9 1328.5,306.4 1334.5,305.9 1340.5,305.8 1346.5,305.8 1352.5,305.8 1358.5,306.1 1364.5,306.8 1370.5,307.4 1376.5,308.6 1382.5,312.9 1388.5,316.4 1394.5,317.8 1400.5,318.4 1406.5,319 1412.5,319.6 1418.5,320.2 1424.5,320.8 1430.5,321.4 1436.5,322 1442.5,322.6 1448.5,323.2 1454.5,324.1 1460.5,325 1466.5,325.9 1472.5,326.8 1478.5,327.7 1484.5,328.7 1490.5,330 1496.5,331.2 1502.5,332.5 1508.5,334 1514.5,336.6 1520.5,339.1 1526.5,341.6 1532.5,344.1 1538.5,346.4 1544.5,348.7 1550.5,351 1556.5,351.7 1562.5,352.5 1568.5,353.2 1574.5,353.9 1580.5,354.6 1586.5,355.4 1592.5,356 1598.5,356.6 1604.5,357.2 1610.5,357.8 1616.5,358.4 1622.5,359.1 1628.5,359.9 1634.5,360.6 1640.5,361.3 1646.5,361.9 1652.5,361.9 1658.5,361.9 1664.5,361.9 1670.5,361.5 1676.5,360.9 1682.5,360.3 1688.5,359.8 1694.5,359.2 1700.5,358.6 1706.5,358.1 1712.5,357.5 1718.5,357.4 1724.5,357.3 1728,357.3 1728,600 902.5,600" fill="url(#g1_0)"/><polygon points="902.5,332 908.5,332.3 914.5,332.5 920.5,332.8 926.5,333 932.5,333.4 938.5,333.7 944.5,334.1 950.5,334.5 956.5,334.9 962.5,335.3 968.5,335.7 974.5,336.1 980.5,336.4 986.5,336.8 992.5,337.1 998.5,337.5 1004.5,337.7 1010.5,337.5 1016.5,337.3 1022.5,337.1 1028.5,336.9 1034.5,336.6 1040.5,336.4 1046.5,336.3 1052.5,336.1 1058.5,336 1064.5,335.8 1070.5,335.7 1076.5,335.6 1082.5,335.5 1088.5,335.4 1094.5,335.3 1100.5,335.1 1106.5,335 1112.5,334.9 1118.5,334.8 1124.5,334.5 1130.5,333.9 1136.5,333.3 1142.5,332.8 1148.5,332.4 1154.5,331.9 1160.5,331.5 1166.5,331 1172.5,330.7 1178.5,330.4 1184.5,330.1 1190.5,329.8 1196.5,329.5 1202.5,329.2 1208.5,327 1214.5,324.5 1220.5,323.3 1226.5,322.1 1232.5,320.9 1233.6,320.7 1234,320.1 1238.5,319.3 1244.5,318.4 1250.5,317.5 1256.5,316.7 1262.5,315.8 1268.5,315.1 1274.5,314.3 1280.5,313.8 1286.5,313.3 1292.5,312.7 1298.5,312.1 1304.5,311.5 1310.5,311 1316.5,310.4 1322.5,309.9 1328.5,309.3 1334.5,308.8 1340.5,308.6 1346.5,308.6 1352.5,308.5 1358.5,308.8 1364.5,309.4 1370.5,310 1376.5,311.3 1382.5,315.7 1388.5,319.2 1394.5,320.7 1400.5,321.4 1406.5,322.1 1412.5,322.8 1418.5,323.5 1424.5,324.3 1430.5,324.9 1436.5,325.6 1442.5,326.2 1448.5,326.9 1454.5,327.9 1460.5,328.9 1466.5,329.9 1472.5,330.9 1478.5,331.9 1484.5,333 1490.5,334.3 1496.5,335.7 1502.5,337.2 1508.5,339 1514.5,341.6 1520.5,344.2 1526.5,346.8 1532.5,349.3 1538.5,351.8 1544.5,354 1550.5,356.3 1556.5,357.1 1562.5,357.8 1568.5,358.6 1574.5,359.3 1580.5,360.1 1586.5,360.9 1592.5,361.6 1598.5,362.2 1604.5,362.8 1610.5,363.4 1616.5,364.1 1622.5,364.7 1628.5,365.4 1634.5,366.2 1640.5,366.9 1646.5,367.4 1652.5,367.5 1658.5,367.4 1664.5,367.4 1670.5,367.1 1676.5,366.5 1682.5,365.9 1688.5,365.3 1694.5,364.8 1700.5,364.3 1706.5,363.9 1712.5,363.4 1718.5,363.4 1724.5,363.3 1728,363.3 1728,600 902.5,600" fill="url(#g1_1)"/><polygon points="902.5,336.7 908.5,336.9 914.5,337.2 920.5,337.5 926.5,337.7 932.5,338 938.5,338.4 944.5,338.7 950.5,339.1 956.5,339.5 962.5,339.8 968.5,340.3 974.5,340.7 980.5,341.1 986.5,341.5 992.5,341.9 998.5,342.3 1004.5,342.5 1010.5,342.4 1016.5,342.3 1022.5,342.1 1028.5,341.9 1034.5,341.6 1040.5,341.4 1046.5,341.2 1052.5,341 1058.5,340.8 1064.5,340.7 1070.5,340.5 1076.5,340.4 1082.5,340.3 1088.5,340.2 1094.5,340 1100.5,339.9 1106.5,339.7 1112.5,339.6 1118.5,339.4 1124.5,339.1 1130.5,338.5 1136.5,337.9 1142.5,337.3 1148.5,336.9 1154.5,336.4 1160.5,335.9 1166.5,335.4 1172.5,334.9 1178.5,334.5 1184.5,334 1190.5,333.6 1196.5,333.3 1202.5,332.9 1208.5,330.7 1214.5,328.3 1220.5,327.1 1226.5,326 1232.5,324.9 1233.6,324.7 1234,323.7 1238.5,322.8 1244.5,321.8 1250.5,320.8 1256.5,319.9 1262.5,319 1268.5,318.2 1274.5,317.5 1280.5,317 1286.5,316.5 1292.5,315.9 1298.5,315.3 1304.5,314.6 1310.5,314 1316.5,313.4 1322.5,312.8 1328.5,312.2 1334.5,311.7 1340.5,311.4 1346.5,311.3 1352.5,311.2 1358.5,311.4 1364.5,312 1370.5,312.7 1376.5,314 1382.5,318.5 1388.5,322 1394.5,323.5 1400.5,324.3 1406.5,325.2 1412.5,326 1418.5,326.8 1424.5,327.7 1430.5,328.4 1436.5,329.1 1442.5,329.8 1448.5,330.6 1454.5,331.7 1460.5,332.8 1466.5,333.9 1472.5,335 1478.5,336 1484.5,337.2 1490.5,338.7 1496.5,340.2 1502.5,341.9 1508.5,344 1514.5,346.7 1520.5,349.3 1526.5,352 1532.5,354.6 1538.5,357.1 1544.5,359.3 1550.5,361.6 1556.5,362.4 1562.5,363.2 1568.5,364 1574.5,364.8 1580.5,365.6 1586.5,366.4 1592.5,367.1 1598.5,367.8 1604.5,368.4 1610.5,369 1616.5,369.7 1622.5,370.3 1628.5,371 1634.5,371.7 1640.5,372.4 1646.5,373 1652.5,373 1658.5,373 1664.5,372.9 1670.5,372.6 1676.5,372 1682.5,371.4 1688.5,370.9 1694.5,370.5 1700.5,370.1 1706.5,369.7 1712.5,369.3 1718.5,369.3 1724.5,369.3 1728,369.4 1728,600 902.5,600" fill="url(#g1_2)"/><polygon points="902.5,341.3 908.5,341.6 914.5,341.9 920.5,342.2 926.5,342.5 932.5,342.7 938.5,343 944.5,343.3 950.5,343.6 956.5,344 962.5,344.4 968.5,344.8 974.5,345.3 980.5,345.7 986.5,346.2 992.5,346.6 998.5,347.1 1004.5,347.4 1010.5,347.3 1016.5,347.2 1022.5,347.1 1028.5,346.9 1034.5,346.6 1040.5,346.3 1046.5,346.1 1052.5,345.9 1058.5,345.7 1064.5,345.5 1070.5,345.4 1076.5,345.2 1082.5,345.1 1088.5,344.9 1094.5,344.8 1100.5,344.6 1106.5,344.4 1112.5,344.2 1118.5,344 1124.5,343.7 1130.5,343.1 1136.5,342.4 1142.5,341.8 1148.5,341.4 1154.5,340.9 1160.5,340.3 1166.5,339.7 1172.5,339.1 1178.5,338.6 1184.5,338 1190.5,337.5 1196.5,337 1202.5,336.6 1208.5,334.4 1214.5,332.1 1220.5,331 1226.5,330 1232.5,329 1233.6,328.8 1234,327.3 1238.5,326.3 1244.5,325.2 1250.5,324.1 1256.5,323.1 1262.5,322.1 1268.5,321.4 1274.5,320.7 1280.5,320.2 1286.5,319.7 1292.5,319 1298.5,318.4 1304.5,317.8 1310.5,317.1 1316.5,316.4 1322.5,315.8 1328.5,315.2 1334.5,314.5 1340.5,314.2 1346.5,314.1 1352.5,313.9 1358.5,314.1 1364.5,314.6 1370.5,315.3 1376.5,316.8 1382.5,321.2 1388.5,324.8 1394.5,326.4 1400.5,327.3 1406.5,328.3 1412.5,329.2 1418.5,330.1 1424.5,331.1 1430.5,331.8 1436.5,332.6 1442.5,333.4 1448.5,334.3 1454.5,335.5 1460.5,336.7 1466.5,337.9 1472.5,339.1 1478.5,340.2 1484.5,341.5 1490.5,343 1496.5,344.6 1502.5,346.7 1508.5,349 1514.5,351.7 1520.5,354.4 1526.5,357.1 1532.5,359.8 1538.5,362.4 1544.5,364.6 1550.5,366.8 1556.5,367.7 1562.5,368.6 1568.5,369.4 1574.5,370.2 1580.5,371.1 1586.5,371.9 1592.5,372.7 1598.5,373.3 1604.5,374 1610.5,374.6 1616.5,375.3 1622.5,376 1628.5,376.6 1634.5,377.3 1640.5,378 1646.5,378.5 1652.5,378.6 1658.5,378.5 1664.5,378.4 1670.5,378.1 1676.5,377.5 1682.5,376.9 1688.5,376.5 1694.5,376.1 1700.5,375.8 1706.5,375.5 1712.5,375.2 1718.5,375.2 1724.5,375.3 1728,375.4 1728,600 902.5,600" fill="url(#g1_3)"/><polygon points="902.5,345.9 908.5,346.2 914.5,346.5 920.5,346.9 926.5,347.2 932.5,347.4 938.5,347.6 944.5,347.8 950.5,348.2 956.5,348.5 962.5,348.9 968.5,349.3 974.5,349.9 980.5,350.4 986.5,350.9 992.5,351.4 998.5,351.9 1004.5,352.2 1010.5,352.2 1016.5,352.2 1022.5,352.1 1028.5,351.9 1034.5,351.6 1040.5,351.3 1046.5,351 1052.5,350.7 1058.5,350.6 1064.5,350.4 1070.5,350.2 1076.5,350 1082.5,349.9 1088.5,349.7 1094.5,349.5 1100.5,349.3 1106.5,349.1 1112.5,348.9 1118.5,348.7 1124.5,348.3 1130.5,347.6 1136.5,347 1142.5,346.4 1148.5,345.9 1154.5,345.4 1160.5,344.7 1166.5,344 1172.5,343.4 1178.5,342.7 1184.5,342 1190.5,341.3 1196.5,340.8 1202.5,340.2 1208.5,338.1 1214.5,336 1220.5,334.9 1226.5,333.9 1232.5,333 1233.6,332.9 1234,330.9 1238.5,329.8 1244.5,328.6 1250.5,327.4 1256.5,326.3 1262.5,325.3 1268.5,324.5 1274.5,323.9 1280.5,323.4 1286.5,322.9 1292.5,322.2 1298.5,321.5 1304.5,320.9 1310.5,320.2 1316.5,319.4 1322.5,318.7 1328.5,318.1 1334.5,317.4 1340.5,317 1346.5,316.8 1352.5,316.6 1358.5,316.7 1364.5,317.2 1370.5,318 1376.5,319.5 1382.5,324 1388.5,327.6 1394.5,329.3 1400.5,330.3 1406.5,331.3 1412.5,332.4 1418.5,333.4 1424.5,334.5 1430.5,335.3 1436.5,336.2 1442.5,337 1448.5,338 1454.5,339.3 1460.5,340.6 1466.5,341.9 1472.5,343.2 1478.5,344.4 1484.5,345.7 1490.5,347.4 1496.5,349.1 1502.5,351.4 1508.5,353.9 1514.5,356.7 1520.5,359.5 1526.5,362.3 1532.5,365 1538.5,367.8 1544.5,370 1550.5,372.1 1556.5,373 1562.5,373.9 1568.5,374.8 1574.5,375.7 1580.5,376.5 1586.5,377.4 1592.5,378.2 1598.5,378.9 1604.5,379.5 1610.5,380.2 1616.5,380.9 1622.5,381.6 1628.5,382.2 1634.5,382.9 1640.5,383.5 1646.5,384 1652.5,384.1 1658.5,384 1664.5,383.9 1670.5,383.6 1676.5,383 1682.5,382.4 1688.5,382.1 1694.5,381.8 1700.5,381.5 1706.5,381.3 1712.5,381.1 1718.5,381.2 1724.5,381.3 1728,381.4 1728,600 902.5,600" fill="url(#g1_4)"/><polygon points="902.5,350.6 908.5,350.9 914.5,351.2 920.5,351.6 926.5,351.9 932.5,352.1 938.5,352.2 944.5,352.4 950.5,352.7 956.5,353.1 962.5,353.4 968.5,353.9 974.5,354.5 980.5,355.1 986.5,355.7 992.5,356.2 998.5,356.7 1004.5,357.1 1010.5,357.1 1016.5,357.1 1022.5,357.2 1028.5,356.9 1034.5,356.6 1040.5,356.2 1046.5,355.9 1052.5,355.6 1058.5,355.4 1064.5,355.2 1070.5,355 1076.5,354.8 1082.5,354.7 1088.5,354.5 1094.5,354.3 1100.5,354 1106.5,353.8 1112.5,353.5 1118.5,353.3 1124.5,352.9 1130.5,352.2 1136.5,351.6 1142.5,350.9 1148.5,350.4 1154.5,349.8 1160.5,349.1 1166.5,348.4 1172.5,347.6 1178.5,346.8 1184.5,346 1190.5,345.2 1196.5,344.6 1202.5,343.9 1208.5,341.9 1214.5,339.8 1220.5,338.7 1226.5,337.9 1232.5,337.1 1233.6,336.9 1234,334.5 1238.5,333.3 1244.5,332 1250.5,330.7 1256.5,329.5 1262.5,328.4 1268.5,327.7 1274.5,327 1280.5,326.6 1286.5,326.1 1292.5,325.4 1298.5,324.7 1304.5,324 1310.5,323.2 1316.5,322.4 1322.5,321.7 1328.5,321 1334.5,320.2 1340.5,319.8 1346.5,319.6 1352.5,319.3 1358.5,319.4 1364.5,319.8 1370.5,320.6 1376.5,322.2 1382.5,326.8 1388.5,330.4 1394.5,332.1 1400.5,333.2 1406.5,334.4 1412.5,335.6 1418.5,336.7 1424.5,337.9 1430.5,338.8 1436.5,339.7 1442.5,340.6 1448.5,341.7 1454.5,343.1 1460.5,344.5 1466.5,345.9 1472.5,347.3 1478.5,348.6 1484.5,350 1490.5,351.7 1496.5,353.6 1502.5,356.2 1508.5,358.9 1514.5,361.8 1520.5,364.6 1526.5,367.4 1532.5,370.2 1538.5,373.1 1544.5,375.3 1550.5,377.4 1556.5,378.4 1562.5,379.3 1568.5,380.2 1574.5,381.1 1580.5,382 1586.5,382.9 1592.5,383.7 1598.5,384.4 1604.5,385.1 1610.5,385.8 1616.5,386.5 1622.5,387.2 1628.5,387.8 1634.5,388.4 1640.5,389.1 1646.5,389.6 1652.5,389.7 1658.5,389.6 1664.5,389.5 1670.5,389.1 1676.5,388.5 1682.5,387.9 1688.5,387.7 1694.5,387.4 1700.5,387.2 1706.5,387.1 1712.5,386.9 1718.5,387.1 1724.5,387.3 1728,387.4 1728,600 902.5,600" fill="url(#g1_5)"/><polygon points="902.5,355.2 908.5,355.6 914.5,355.9 920.5,356.4 926.5,356.7 932.5,356.7 938.5,356.8 944.5,357 950.5,357.3 956.5,357.6 962.5,357.9 968.5,358.4 974.5,359.1 980.5,359.7 986.5,360.4 992.5,360.9 998.5,361.5 1004.5,361.9 1010.5,362 1016.5,362.1 1022.5,362.2 1028.5,361.9 1034.5,361.6 1040.5,361.2 1046.5,360.8 1052.5,360.5 1058.5,360.3 1064.5,360 1070.5,359.8 1076.5,359.7 1082.5,359.5 1088.5,359.3 1094.5,359 1100.5,358.7 1106.5,358.5 1112.5,358.2 1118.5,357.9 1124.5,357.5 1130.5,356.8 1136.5,356.1 1142.5,355.5 1148.5,355 1154.5,354.3 1160.5,353.5 1166.5,352.7 1172.5,351.8 1178.5,350.9 1184.5,350 1190.5,349.1 1196.5,348.3 1202.5,347.6 1208.5,345.6 1214.5,343.6 1220.5,342.6 1226.5,341.8 1232.5,341.1 1233.6,341 1234,338.1 1238.5,336.8 1244.5,335.4 1250.5,333.9 1256.5,332.7 1262.5,331.5 1268.5,330.9 1274.5,330.2 1280.5,329.7 1286.5,329.3 1292.5,328.6 1298.5,327.8 1304.5,327.1 1310.5,326.3 1316.5,325.5 1322.5,324.7 1328.5,323.9 1334.5,323.1 1340.5,322.6 1346.5,322.3 1352.5,322 1358.5,322 1364.5,322.4 1370.5,323.3 1376.5,325 1382.5,329.6 1388.5,333.2 1394.5,335 1400.5,336.2 1406.5,337.5 1412.5,338.8 1418.5,340 1424.5,341.3 1430.5,342.2 1436.5,343.2 1442.5,344.2 1448.5,345.4 1454.5,346.9 1460.5,348.4 1466.5,349.9 1472.5,351.4 1478.5,352.8 1484.5,354.3 1490.5,356.1 1496.5,358.1 1502.5,360.9 1508.5,363.9 1514.5,366.8 1520.5,369.7 1526.5,372.6 1532.5,375.4 1538.5,378.4 1544.5,380.6 1550.5,382.7 1556.5,383.7 1562.5,384.7 1568.5,385.6 1574.5,386.5 1580.5,387.5 1586.5,388.4 1592.5,389.3 1598.5,390 1604.5,390.7 1610.5,391.4 1616.5,392.1 1622.5,392.8 1628.5,393.4 1634.5,394 1640.5,394.6 1646.5,395.1 1652.5,395.2 1658.5,395.1 1664.5,395 1670.5,394.6 1676.5,394 1682.5,393.4 1688.5,393.2 1694.5,393.1 1700.5,393 1706.5,392.9 1712.5,392.8 1718.5,393.1 1724.5,393.3 1728,393.5 1728,600 902.5,600" fill="url(#g1_6)"/><polygon points="902.5,359.8 908.5,360.2 914.5,360.6 920.5,361.1 926.5,361.4 932.5,361.4 938.5,361.5 944.5,361.6 950.5,361.8 956.5,362.1 962.5,362.4 968.5,362.9 974.5,363.6 980.5,364.4 986.5,365.1 992.5,365.7 998.5,366.3 1004.5,366.7 1010.5,366.9 1016.5,367.1 1022.5,367.2 1028.5,366.9 1034.5,366.6 1040.5,366.1 1046.5,365.7 1052.5,365.4 1058.5,365.1 1064.5,364.9 1070.5,364.7 1076.5,364.5 1082.5,364.3 1088.5,364.1 1094.5,363.8 1100.5,363.5 1106.5,363.2 1112.5,362.8 1118.5,362.5 1124.5,362.1 1130.5,361.4 1136.5,360.7 1142.5,360 1148.5,359.5 1154.5,358.8 1160.5,357.9 1166.5,357 1172.5,356 1178.5,355 1184.5,353.9 1190.5,352.9 1196.5,352.1 1202.5,351.3 1208.5,349.3 1214.5,347.5 1220.5,346.5 1226.5,345.7 1232.5,345.2 1233.6,345.1 1234,341.7 1238.5,340.4 1244.5,338.8 1250.5,337.2 1256.5,336 1262.5,334.7 1268.5,334 1274.5,333.4 1280.5,332.9 1286.5,332.5 1292.5,331.7 1298.5,331 1304.5,330.2 1310.5,329.3 1316.5,328.5 1322.5,327.6 1328.5,326.8 1334.5,326 1340.5,325.5 1346.5,325.1 1352.5,324.7 1358.5,324.7 1364.5,325 1370.5,325.9 1376.5,327.7 1382.5,332.4 1388.5,336 1394.5,337.8 1400.5,339.2 1406.5,340.6 1412.5,342 1418.5,343.4 1424.5,344.7 1430.5,345.7 1436.5,346.8 1442.5,347.8 1448.5,349.1 1454.5,350.7 1460.5,352.3 1466.5,353.9 1472.5,355.4 1478.5,357 1484.5,358.5 1490.5,360.4 1496.5,362.6 1502.5,365.7 1508.5,368.9 1514.5,371.9 1520.5,374.8 1526.5,377.7 1532.5,380.6 1538.5,383.8 1544.5,385.9 1550.5,387.9 1556.5,389 1562.5,390.1 1568.5,391 1574.5,392 1580.5,392.9 1586.5,393.9 1592.5,394.8 1598.5,395.5 1604.5,396.3 1610.5,397 1616.5,397.8 1622.5,398.4 1628.5,399 1634.5,399.6 1640.5,400.2 1646.5,400.7 1652.5,400.8 1658.5,400.6 1664.5,400.5 1670.5,400.1 1676.5,399.5 1682.5,399 1688.5,398.8 1694.5,398.7 1700.5,398.7 1706.5,398.7 1712.5,398.7 1718.5,399 1724.5,399.3 1728,399.5 1728,600 902.5,600" fill="url(#g1_7)"/><polygon points="902.5,364.5 908.5,364.9 914.5,365.2 920.5,365.8 926.5,366.1 932.5,366.1 938.5,366.1 944.5,366.1 950.5,366.4 956.5,366.6 962.5,366.9 968.5,367.5 974.5,368.2 980.5,369 986.5,369.8 992.5,370.4 998.5,371.1 1004.5,371.6 1010.5,371.8 1016.5,372 1022.5,372.2 1028.5,371.9 1034.5,371.6 1040.5,371.1 1046.5,370.6 1052.5,370.3 1058.5,370 1064.5,369.7 1070.5,369.5 1076.5,369.3 1082.5,369.1 1088.5,368.8 1094.5,368.5 1100.5,368.2 1106.5,367.8 1112.5,367.5 1118.5,367.2 1124.5,366.7 1130.5,366 1136.5,365.3 1142.5,364.6 1148.5,364 1154.5,363.3 1160.5,362.3 1166.5,361.3 1172.5,360.2 1178.5,359.1 1184.5,357.9 1190.5,356.8 1196.5,355.9 1202.5,354.9 1208.5,353 1214.5,351.3 1220.5,350.3 1226.5,349.7 1232.5,349.2 1233.6,349.1 1234,345.3 1238.5,343.9 1244.5,342.2 1250.5,340.5 1256.5,339.2 1262.5,337.8 1268.5,337.2 1274.5,336.6 1280.5,336.1 1286.5,335.7 1292.5,334.9 1298.5,334.1 1304.5,333.3 1310.5,332.4 1316.5,331.5 1322.5,330.6 1328.5,329.7 1334.5,328.8 1340.5,328.3 1346.5,327.8 1352.5,327.4 1358.5,327.3 1364.5,327.6 1370.5,328.6 1376.5,330.5 1382.5,335.2 1388.5,338.8 1394.5,340.7 1400.5,342.1 1406.5,343.6 1412.5,345.1 1418.5,346.7 1424.5,348.1 1430.5,349.2 1436.5,350.3 1442.5,351.4 1448.5,352.8 1454.5,354.5 1460.5,356.2 1466.5,357.9 1472.5,359.5 1478.5,361.1 1484.5,362.8 1490.5,364.8 1496.5,367 1502.5,370.4 1508.5,373.9 1514.5,376.9 1520.5,380 1526.5,382.9 1532.5,385.8 1538.5,389.1 1544.5,391.2 1550.5,393.2 1556.5,394.3 1562.5,395.4 1568.5,396.4 1574.5,397.4 1580.5,398.4 1586.5,399.4 1592.5,400.3 1598.5,401.1 1604.5,401.9 1610.5,402.6 1616.5,403.4 1622.5,404 1628.5,404.6 1634.5,405.1 1640.5,405.7 1646.5,406.2 1652.5,406.3 1658.5,406.2 1664.5,406 1670.5,405.6 1676.5,405 1682.5,404.5 1688.5,404.4 1694.5,404.4 1700.5,404.4 1706.5,404.5 1712.5,404.6 1718.5,404.9 1724.5,405.3 1728,405.5 1728,600 902.5,600" fill="url(#g1_8)"/><polygon points="902.5,369.1 908.5,369.5 914.5,369.9 920.5,370.5 926.5,370.8 932.5,370.8 938.5,370.7 944.5,370.7 950.5,370.9 956.5,371.2 962.5,371.4 968.5,372 974.5,372.8 980.5,373.7 986.5,374.5 992.5,375.2 998.5,375.8 1004.5,376.4 1010.5,376.7 1016.5,377 1022.5,377.2 1028.5,376.9 1034.5,376.6 1040.5,376 1046.5,375.5 1052.5,375.1 1058.5,374.8 1064.5,374.5 1070.5,374.3 1076.5,374.1 1082.5,373.9 1088.5,373.6 1094.5,373.3 1100.5,372.9 1106.5,372.5 1112.5,372.2 1118.5,371.8 1124.5,371.3 1130.5,370.6 1136.5,369.8 1142.5,369.1 1148.5,368.5 1154.5,367.7 1160.5,366.7 1166.5,365.7 1172.5,364.5 1178.5,363.2 1184.5,361.9 1190.5,360.6 1196.5,359.6 1202.5,358.6 1208.5,356.8 1214.5,355.1 1220.5,354.2 1226.5,353.6 1232.5,353.3 1233.6,353.2 1234,348.8 1238.5,347.4 1244.5,345.6 1250.5,343.8 1256.5,342.4 1262.5,341 1268.5,340.3 1274.5,339.8 1280.5,339.3 1286.5,338.9 1292.5,338.1 1298.5,337.3 1304.5,336.4 1310.5,335.4 1316.5,334.5 1322.5,333.5 1328.5,332.6 1334.5,331.7 1340.5,331.1 1346.5,330.6 1352.5,330.1 1358.5,330 1364.5,330.2 1370.5,331.2 1376.5,333.2 1382.5,338 1388.5,341.6 1394.5,343.6 1400.5,345.1 1406.5,346.7 1412.5,348.3 1418.5,350 1424.5,351.5 1430.5,352.6 1436.5,353.8 1442.5,355 1448.5,356.5 1454.5,358.3 1460.5,360.1 1466.5,362 1472.5,363.6 1478.5,365.3 1484.5,367.1 1490.5,369.2 1496.5,371.5 1502.5,375.2 1508.5,378.8 1514.5,381.9 1520.5,385.1 1526.5,388.1 1532.5,391.1 1538.5,394.5 1544.5,396.5 1550.5,398.5 1556.5,399.6 1562.5,400.8 1568.5,401.9 1574.5,402.9 1580.5,403.9 1586.5,404.9 1592.5,405.9 1598.5,406.7 1604.5,407.4 1610.5,408.2 1616.5,409 1622.5,409.6 1628.5,410.2 1634.5,410.7 1640.5,411.3 1646.5,411.7 1652.5,411.9 1658.5,411.7 1664.5,411.5 1670.5,411.1 1676.5,410.5 1682.5,410 1688.5,410 1694.5,410.1 1700.5,410.2 1706.5,410.3 1712.5,410.5 1718.5,410.9 1724.5,411.3 1728,411.6 1728,600 902.5,600" fill="url(#g1_9)"/><polygon points="902.5,373.8 908.5,374.2 914.5,374.6 920.5,375.2 926.5,375.6 932.5,375.4 938.5,375.3 944.5,375.3 950.5,375.5 956.5,375.7 962.5,375.9 968.5,376.5 974.5,377.4 980.5,378.3 986.5,379.2 992.5,379.9 998.5,380.6 1004.5,381.3 1010.5,381.6 1016.5,381.9 1022.5,382.2 1028.5,381.9 1034.5,381.6 1040.5,381 1046.5,380.4 1052.5,380 1058.5,379.7 1064.5,379.4 1070.5,379.1 1076.5,378.9 1082.5,378.7 1088.5,378.4 1094.5,378 1100.5,377.6 1106.5,377.2 1112.5,376.8 1118.5,376.4 1124.5,375.9 1130.5,375.1 1136.5,374.4 1142.5,373.7 1148.5,373 1154.5,372.2 1160.5,371.1 1166.5,370 1172.5,368.7 1178.5,367.3 1184.5,365.9 1190.5,364.5 1196.5,363.4 1202.5,362.3 1208.5,360.5 1214.5,358.9 1220.5,358.1 1226.5,357.6 1232.5,357.3 1233.6,357.2 1234,352.4 1238.5,350.9 1244.5,348.9 1250.5,347.1 1256.5,345.6 1262.5,344.1 1268.5,343.5 1274.5,342.9 1280.5,342.5 1286.5,342.1 1292.5,341.3 1298.5,340.4 1304.5,339.5 1310.5,338.5 1316.5,337.5 1322.5,336.5 1328.5,335.5 1334.5,334.5 1340.5,333.9 1346.5,333.4 1352.5,332.8 1358.5,332.6 1364.5,332.8 1370.5,333.9 1376.5,335.9 1382.5,340.7 1388.5,344.4 1394.5,346.4 1400.5,348.1 1406.5,349.8 1412.5,351.5 1418.5,353.3 1424.5,354.9 1430.5,356.1 1436.5,357.3 1442.5,358.6 1448.5,360.2 1454.5,362.1 1460.5,364 1466.5,366 1472.5,367.7 1478.5,369.5 1484.5,371.3 1490.5,373.5 1496.5,376 1502.5,379.9 1508.5,383.8 1514.5,387 1520.5,390.2 1526.5,393.2 1532.5,396.3 1538.5,399.8 1544.5,401.8 1550.5,403.8 1556.5,405 1562.5,406.2 1568.5,407.3 1574.5,408.3 1580.5,409.4 1586.5,410.4 1592.5,411.4 1598.5,412.2 1604.5,413 1610.5,413.8 1616.5,414.6 1622.5,415.2 1628.5,415.8 1634.5,416.3 1640.5,416.8 1646.5,417.3 1652.5,417.4 1658.5,417.2 1664.5,417 1670.5,416.6 1676.5,416 1682.5,415.5 1688.5,415.6 1694.5,415.7 1700.5,415.9 1706.5,416.1 1712.5,416.3 1718.5,416.8 1724.5,417.3 1728,417.6 1728,600 902.5,600" fill="url(#g1_10)"/><polygon points="902.5,378.4 908.5,378.8 914.5,379.3 920.5,379.9 926.5,380.3 932.5,380.1 938.5,379.9 944.5,379.8 950.5,380 956.5,380.2 962.5,380.4 968.5,381.1 974.5,382 980.5,383 986.5,383.9 992.5,384.7 998.5,385.4 1004.5,386.1 1010.5,386.5 1016.5,386.9 1022.5,387.2 1028.5,386.9 1034.5,386.6 1040.5,385.9 1046.5,385.3 1052.5,384.9 1058.5,384.6 1064.5,384.2 1070.5,384 1076.5,383.7 1082.5,383.5 1088.5,383.2 1094.5,382.8 1100.5,382.3 1106.5,381.9 1112.5,381.5 1118.5,381.1 1124.5,380.5 1130.5,379.7 1136.5,379 1142.5,378.2 1148.5,377.6 1154.5,376.7 1160.5,375.5 1166.5,374.3 1172.5,372.9 1178.5,371.4 1184.5,369.9 1190.5,368.4 1196.5,367.2 1202.5,366 1208.5,364.2 1214.5,362.8 1220.5,361.9 1226.5,361.5 1232.5,361.3 1233.6,361.3 1234,356 1238.5,354.4 1244.5,352.3 1250.5,350.4 1256.5,348.8 1262.5,347.3 1268.5,346.7 1274.5,346.1 1280.5,345.7 1286.5,345.3 1292.5,344.4 1298.5,343.5 1304.5,342.6 1310.5,341.6 1316.5,340.5 1322.5,339.5 1328.5,338.4 1334.5,337.4 1340.5,336.7 1346.5,336.1 1352.5,335.5 1358.5,335.3 1364.5,335.4 1370.5,336.5 1376.5,338.7 1382.5,343.5 1388.5,347.2 1394.5,349.3 1400.5,351 1406.5,352.9 1412.5,354.7 1418.5,356.6 1424.5,358.3 1430.5,359.6 1436.5,360.9 1442.5,362.2 1448.5,363.9 1454.5,365.9 1460.5,367.9 1466.5,370 1472.5,371.8 1478.5,373.7 1484.5,375.6 1490.5,377.9 1496.5,380.5 1502.5,384.6 1508.5,388.8 1514.5,392 1520.5,395.3 1526.5,398.4 1532.5,401.5 1538.5,405.1 1544.5,407.1 1550.5,409 1556.5,410.3 1562.5,411.5 1568.5,412.7 1574.5,413.7 1580.5,414.8 1586.5,415.9 1592.5,416.9 1598.5,417.8 1604.5,418.6 1610.5,419.4 1616.5,420.2 1622.5,420.8 1628.5,421.3 1634.5,421.9 1640.5,422.4 1646.5,422.8 1652.5,423 1658.5,422.8 1664.5,422.5 1670.5,422.1 1676.5,421.6 1682.5,421 1688.5,421.1 1694.5,421.4 1700.5,421.6 1706.5,421.9 1712.5,422.2 1718.5,422.8 1724.5,423.3 1728,423.6 1728,600 902.5,600" fill="url(#g1_11)"/><polygon points="902.5,383 908.5,383.5 914.5,383.9 920.5,384.6 926.5,385 932.5,384.8 938.5,384.6 944.5,384.4 950.5,384.6 956.5,384.8 962.5,384.9 968.5,385.6 974.5,386.6 980.5,387.6 986.5,388.7 992.5,389.4 998.5,390.2 1004.5,391 1010.5,391.4 1016.5,391.9 1022.5,392.2 1028.5,391.9 1034.5,391.5 1040.5,390.9 1046.5,390.2 1052.5,389.8 1058.5,389.4 1064.5,389.1 1070.5,388.8 1076.5,388.5 1082.5,388.3 1088.5,388 1094.5,387.5 1100.5,387.1 1106.5,386.6 1112.5,386.1 1118.5,385.7 1124.5,385.1 1130.5,384.3 1136.5,383.5 1142.5,382.8 1148.5,382.1 1154.5,381.1 1160.5,379.9 1166.5,378.7 1172.5,377.1 1178.5,375.5 1184.5,373.8 1190.5,372.2 1196.5,370.9 1202.5,369.7 1208.5,367.9 1214.5,366.6 1220.5,365.8 1226.5,365.5 1232.5,365.4 1233.6,365.4 1234,359.6 1238.5,357.9 1244.5,355.7 1250.5,353.7 1256.5,352 1262.5,350.4 1268.5,349.8 1274.5,349.3 1280.5,348.9 1286.5,348.5 1292.5,347.6 1298.5,346.7 1304.5,345.7 1310.5,344.6 1316.5,343.5 1322.5,342.4 1328.5,341.3 1334.5,340.3 1340.5,339.5 1346.5,338.9 1352.5,338.2 1358.5,337.9 1364.5,338 1370.5,339.2 1376.5,341.4 1382.5,346.3 1388.5,350 1394.5,352.2 1400.5,354 1406.5,356 1412.5,357.9 1418.5,359.9 1424.5,361.7 1430.5,363 1436.5,364.4 1442.5,365.8 1448.5,367.6 1454.5,369.7 1460.5,371.8 1466.5,374 1472.5,375.9 1478.5,377.9 1484.5,379.9 1490.5,382.2 1496.5,385 1502.5,389.4 1508.5,393.8 1514.5,397.1 1520.5,400.4 1526.5,403.5 1532.5,406.7 1538.5,410.5 1544.5,412.4 1550.5,414.3 1556.5,415.6 1562.5,416.9 1568.5,418.1 1574.5,419.2 1580.5,420.3 1586.5,421.4 1592.5,422.5 1598.5,423.3 1604.5,424.2 1610.5,425 1616.5,425.9 1622.5,426.4 1628.5,426.9 1634.5,427.4 1640.5,427.9 1646.5,428.3 1652.5,428.5 1658.5,428.3 1664.5,428 1670.5,427.6 1676.5,427.1 1682.5,426.5 1688.5,426.7 1694.5,427 1700.5,427.3 1706.5,427.7 1712.5,428.1 1718.5,428.7 1724.5,429.3 1728,429.7 1728,600 902.5,600" fill="url(#g1_12)"/><polygon points="902.5,387.7 908.5,388.1 914.5,388.6 920.5,389.4 926.5,389.7 932.5,389.5 938.5,389.2 944.5,389 950.5,389.1 956.5,389.3 962.5,389.4 968.5,390.1 974.5,391.2 980.5,392.3 986.5,393.4 992.5,394.2 998.5,395 1004.5,395.8 1010.5,396.3 1016.5,396.8 1022.5,397.2 1028.5,397 1034.5,396.5 1040.5,395.8 1046.5,395.1 1052.5,394.6 1058.5,394.3 1064.5,393.9 1070.5,393.6 1076.5,393.3 1082.5,393.1 1088.5,392.7 1094.5,392.3 1100.5,391.8 1106.5,391.3 1112.5,390.8 1118.5,390.3 1124.5,389.7 1130.5,388.9 1136.5,388.1 1142.5,387.3 1148.5,386.6 1154.5,385.6 1160.5,384.3 1166.5,383 1172.5,381.4 1178.5,379.6 1184.5,377.8 1190.5,376.1 1196.5,374.7 1202.5,373.3 1208.5,371.6 1214.5,370.4 1220.5,369.7 1226.5,369.4 1232.5,369.4 1233.6,369.4 1234,363.2 1238.5,361.4 1244.5,359.1 1250.5,356.9 1256.5,355.3 1262.5,353.6 1268.5,353 1274.5,352.5 1280.5,352.1 1286.5,351.7 1292.5,350.8 1298.5,349.8 1304.5,348.8 1310.5,347.7 1316.5,346.5 1322.5,345.4 1328.5,344.2 1334.5,343.1 1340.5,342.3 1346.5,341.6 1352.5,340.9 1358.5,340.5 1364.5,340.6 1370.5,341.8 1376.5,344.2 1382.5,349.1 1388.5,352.8 1394.5,355 1400.5,357 1406.5,359 1412.5,361.1 1418.5,363.2 1424.5,365.1 1430.5,366.5 1436.5,367.9 1442.5,369.4 1448.5,371.2 1454.5,373.5 1460.5,375.7 1466.5,378 1472.5,380 1478.5,382 1484.5,384.1 1490.5,386.6 1496.5,389.4 1502.5,394.1 1508.5,398.7 1514.5,402.1 1520.5,405.5 1526.5,408.7 1532.5,411.9 1538.5,415.8 1544.5,417.7 1550.5,419.6 1556.5,420.9 1562.5,422.3 1568.5,423.5 1574.5,424.6 1580.5,425.8 1586.5,426.9 1592.5,428 1598.5,428.9 1604.5,429.7 1610.5,430.6 1616.5,431.5 1622.5,432.1 1628.5,432.5 1634.5,433 1640.5,433.5 1646.5,433.9 1652.5,434.1 1658.5,433.8 1664.5,433.5 1670.5,433.1 1676.5,432.6 1682.5,432 1688.5,432.3 1694.5,432.7 1700.5,433.1 1706.5,433.5 1712.5,434 1718.5,434.6 1724.5,435.3 1728,435.7 1728,600 902.5,600" fill="url(#g1_13)"/><polygon points="902.5,392.3 908.5,392.8 914.5,393.3 920.5,394.1 926.5,394.5 932.5,394.1 938.5,393.8 944.5,393.6 950.5,393.7 956.5,393.8 962.5,393.9 968.5,394.7 974.5,395.8 980.5,397 986.5,398.1 992.5,399 998.5,399.8 1004.5,400.7 1010.5,401.2 1016.5,401.8 1022.5,402.2 1028.5,402 1034.5,401.5 1040.5,400.8 1046.5,400.1 1052.5,399.5 1058.5,399.1 1064.5,398.7 1070.5,398.4 1076.5,398.2 1082.5,397.9 1088.5,397.5 1094.5,397 1100.5,396.5 1106.5,396 1112.5,395.5 1118.5,394.9 1124.5,394.3 1130.5,393.5 1136.5,392.7 1142.5,391.9 1148.5,391.1 1154.5,390.1 1160.5,388.7 1166.5,387.3 1172.5,385.6 1178.5,383.7 1184.5,381.8 1190.5,379.9 1196.5,378.5 1202.5,377 1208.5,375.4 1214.5,374.3 1220.5,373.5 1226.5,373.4 1232.5,373.5 1233.6,373.5 1234,366.8 1238.5,364.9 1244.5,362.5 1250.5,360.2 1256.5,358.5 1262.5,356.7 1268.5,356.1 1274.5,355.7 1280.5,355.3 1286.5,354.9 1292.5,354 1298.5,353 1304.5,351.9 1310.5,350.7 1316.5,349.5 1322.5,348.3 1328.5,347.2 1334.5,346 1340.5,345.1 1346.5,344.4 1352.5,343.6 1358.5,343.2 1364.5,343.2 1370.5,344.5 1376.5,346.9 1382.5,351.9 1388.5,355.6 1394.5,357.9 1400.5,359.9 1406.5,362.1 1412.5,364.3 1418.5,366.5 1424.5,368.5 1430.5,370 1436.5,371.5 1442.5,373 1448.5,374.9 1454.5,377.3 1460.5,379.6 1466.5,382 1472.5,384.1 1478.5,386.2 1484.5,388.4 1490.5,390.9 1496.5,393.9 1502.5,398.9 1508.5,403.7 1514.5,407.2 1520.5,410.6 1526.5,413.9 1532.5,417.1 1538.5,421.1 1544.5,423 1550.5,424.9 1556.5,426.3 1562.5,427.7 1568.5,428.9 1574.5,430.1 1580.5,431.3 1586.5,432.4 1592.5,433.5 1598.5,434.4 1604.5,435.3 1610.5,436.2 1616.5,437.1 1622.5,437.7 1628.5,438.1 1634.5,438.6 1640.5,439 1646.5,439.4 1652.5,439.6 1658.5,439.4 1664.5,439 1670.5,438.6 1676.5,438.1 1682.5,437.6 1688.5,437.9 1694.5,438.3 1700.5,438.8 1706.5,439.3 1712.5,439.9 1718.5,440.6 1724.5,441.3 1728,441.7 1728,600 902.5,600" fill="url(#g1_14)"/><polygon points="902.5,396.9 908.5,397.4 914.5,398 920.5,398.8 926.5,399.2 932.5,398.8 938.5,398.4 944.5,398.1 950.5,398.2 956.5,398.4 962.5,398.5 968.5,399.2 974.5,400.4 980.5,401.6 986.5,402.8 992.5,403.7 998.5,404.6 1004.5,405.5 1010.5,406.1 1016.5,406.7 1022.5,407.2 1028.5,407 1034.5,406.5 1040.5,405.7 1046.5,405 1052.5,404.4 1058.5,404 1064.5,403.6 1070.5,403.3 1076.5,403 1082.5,402.7 1088.5,402.3 1094.5,401.8 1100.5,401.2 1106.5,400.7 1112.5,400.1 1118.5,399.6 1124.5,398.9 1130.5,398.1 1136.5,397.2 1142.5,396.4 1148.5,395.6 1154.5,394.6 1160.5,393.1 1166.5,391.7 1172.5,389.8 1178.5,387.8 1184.5,385.8 1190.5,383.8 1196.5,382.2 1202.5,380.7 1208.5,379.1 1214.5,378.1 1220.5,377.4 1226.5,377.3 1232.5,377.5 1233.6,377.6 1234,370.4 1238.5,368.5 1244.5,365.9 1250.5,363.5 1256.5,361.7 1262.5,359.9 1268.5,359.3 1274.5,358.8 1280.5,358.5 1286.5,358.1 1292.5,357.1 1298.5,356.1 1304.5,355.1 1310.5,353.8 1316.5,352.5 1322.5,351.3 1328.5,350.1 1334.5,348.8 1340.5,347.9 1346.5,347.1 1352.5,346.4 1358.5,345.8 1364.5,345.8 1370.5,347.1 1376.5,349.6 1382.5,354.7 1388.5,358.4 1394.5,360.7 1400.5,362.9 1406.5,365.2 1412.5,367.5 1418.5,369.8 1424.5,371.9 1430.5,373.4 1436.5,375 1442.5,376.5 1448.5,378.6 1454.5,381.1 1460.5,383.5 1466.5,386 1472.5,388.2 1478.5,390.4 1484.5,392.6 1490.5,395.3 1496.5,398.4 1502.5,403.6 1508.5,408.7 1514.5,412.2 1520.5,415.7 1526.5,419 1532.5,422.3 1538.5,426.5 1544.5,428.3 1550.5,430.1 1556.5,431.6 1562.5,433 1568.5,434.3 1574.5,435.5 1580.5,436.7 1586.5,437.9 1592.5,439.1 1598.5,440 1604.5,440.9 1610.5,441.8 1616.5,442.7 1622.5,443.3 1628.5,443.7 1634.5,444.1 1640.5,444.6 1646.5,444.9 1652.5,445.2 1658.5,444.9 1664.5,444.6 1670.5,444.1 1676.5,443.6 1682.5,443.1 1688.5,443.5 1694.5,444 1700.5,444.5 1706.5,445.1 1712.5,445.7 1718.5,446.5 1724.5,447.3 1728,447.8 1728,600 902.5,600" fill="url(#g1_15)"/><polygon points="902.5,401.6 908.5,402.1 914.5,402.6 920.5,403.5 926.5,403.9 932.5,403.5 938.5,403 944.5,402.7 950.5,402.8 956.5,402.9 962.5,403 968.5,403.8 974.5,405 980.5,406.3 986.5,407.5 992.5,408.5 998.5,409.4 1004.5,410.3 1010.5,411 1016.5,411.7 1022.5,412.2 1028.5,412 1034.5,411.5 1040.5,410.7 1046.5,409.9 1052.5,409.3 1058.5,408.8 1064.5,408.4 1070.5,408.1 1076.5,407.8 1082.5,407.5 1088.5,407.1 1094.5,406.5 1100.5,405.9 1106.5,405.4 1112.5,404.8 1118.5,404.2 1124.5,403.5 1130.5,402.7 1136.5,401.8 1142.5,401 1148.5,400.2 1154.5,399 1160.5,397.5 1166.5,396 1172.5,394 1178.5,391.9 1184.5,389.7 1190.5,387.7 1196.5,386 1202.5,384.4 1208.5,382.8 1214.5,381.9 1220.5,381.3 1226.5,381.3 1232.5,381.6 1233.6,381.6 1234,374 1238.5,372 1244.5,369.3 1250.5,366.8 1256.5,364.9 1262.5,363 1268.5,362.4 1274.5,362 1280.5,361.6 1286.5,361.3 1292.5,360.3 1298.5,359.3 1304.5,358.2 1310.5,356.9 1316.5,355.5 1322.5,354.2 1328.5,353 1334.5,351.7 1340.5,350.7 1346.5,349.9 1352.5,349.1 1358.5,348.5 1364.5,348.5 1370.5,349.8 1376.5,352.4 1382.5,357.5 1388.5,361.2 1394.5,363.6 1400.5,365.9 1406.5,368.3 1412.5,370.7 1418.5,373.1 1424.5,375.3 1430.5,376.9 1436.5,378.5 1442.5,380.1 1448.5,382.3 1454.5,384.9 1460.5,387.4 1466.5,390 1472.5,392.3 1478.5,394.6 1484.5,396.9 1490.5,399.6 1496.5,402.9 1502.5,408.4 1508.5,413.7 1514.5,417.2 1520.5,420.8 1526.5,424.2 1532.5,427.6 1538.5,431.8 1544.5,433.6 1550.5,435.4 1556.5,436.9 1562.5,438.4 1568.5,439.7 1574.5,441 1580.5,442.2 1586.5,443.4 1592.5,444.6 1598.5,445.5 1604.5,446.5 1610.5,447.4 1616.5,448.3 1622.5,448.9 1628.5,449.3 1634.5,449.7 1640.5,450.1 1646.5,450.5 1652.5,450.7 1658.5,450.5 1664.5,450.1 1670.5,449.6 1676.5,449.1 1682.5,448.6 1688.5,449.1 1694.5,449.6 1700.5,450.2 1706.5,450.9 1712.5,451.6 1718.5,452.5 1724.5,453.3 1728,453.8 1728,600 902.5,600" fill="url(#g1_16)"/><polygon points="902.5,406.2 908.5,406.8 914.5,407.3 920.5,408.2 926.5,408.7 932.5,408.2 938.5,407.7 944.5,407.3 950.5,407.3 956.5,407.4 962.5,407.5 968.5,408.3 974.5,409.6 980.5,410.9 986.5,412.2 992.5,413.2 998.5,414.2 1004.5,415.2 1010.5,415.9 1016.5,416.6 1022.5,417.2 1028.5,417 1034.5,416.5 1040.5,415.6 1046.5,414.8 1052.5,414.2 1058.5,413.7 1064.5,413.2 1070.5,412.9 1076.5,412.6 1082.5,412.3 1088.5,411.9 1094.5,411.3 1100.5,410.7 1106.5,410 1112.5,409.4 1118.5,408.8 1124.5,408.1 1130.5,407.2 1136.5,406.4 1142.5,405.5 1148.5,404.7 1154.5,403.5 1160.5,401.9 1166.5,400.3 1172.5,398.2 1178.5,396 1184.5,393.7 1190.5,391.5 1196.5,389.8 1202.5,388 1208.5,386.5 1214.5,385.7 1220.5,385.1 1226.5,385.2 1232.5,385.6 1233.6,385.7 1234,377.6 1238.5,375.5 1244.5,372.7 1250.5,370.1 1256.5,368.1 1262.5,366.1 1268.5,365.6 1274.5,365.2 1280.5,364.8 1286.5,364.5 1292.5,363.5 1298.5,362.4 1304.5,361.3 1310.5,359.9 1316.5,358.6 1322.5,357.2 1328.5,355.9 1334.5,354.6 1340.5,353.5 1346.5,352.7 1352.5,351.8 1358.5,351.1 1364.5,351.1 1370.5,352.4 1376.5,355.1 1382.5,360.2 1388.5,364 1394.5,366.5 1400.5,368.8 1406.5,371.3 1412.5,373.8 1418.5,376.4 1424.5,378.7 1430.5,380.4 1436.5,382 1442.5,383.7 1448.5,386 1454.5,388.7 1460.5,391.4 1466.5,394 1472.5,396.4 1478.5,398.8 1484.5,401.2 1490.5,404 1496.5,407.4 1502.5,413.1 1508.5,418.7 1514.5,422.3 1520.5,425.9 1526.5,429.3 1532.5,432.8 1538.5,437.1 1544.5,438.9 1550.5,440.7 1556.5,442.2 1562.5,443.8 1568.5,445.1 1574.5,446.4 1580.5,447.7 1586.5,449 1592.5,450.1 1598.5,451.1 1604.5,452.1 1610.5,453 1616.5,454 1622.5,454.5 1628.5,454.9 1634.5,455.3 1640.5,455.7 1646.5,456 1652.5,456.3 1658.5,456 1664.5,455.6 1670.5,455.1 1676.5,454.6 1682.5,454.1 1688.5,454.6 1694.5,455.3 1700.5,456 1706.5,456.7 1712.5,457.5 1718.5,458.4 1724.5,459.3 1728,459.8 1728,600 902.5,600" fill="url(#g1_17)"/><polygon points="902.5,410.8 908.5,411.4 914.5,412 920.5,412.9 926.5,413.4 932.5,412.8 938.5,412.3 944.5,411.9 950.5,411.9 956.5,411.9 962.5,412 968.5,412.8 974.5,414.2 980.5,415.6 986.5,416.9 992.5,418 998.5,419 1004.5,420 1010.5,420.8 1016.5,421.6 1022.5,422.3 1028.5,422 1034.5,421.5 1040.5,420.6 1046.5,419.7 1052.5,419 1058.5,418.6 1064.5,418.1 1070.5,417.7 1076.5,417.4 1082.5,417.1 1088.5,416.7 1094.5,416 1100.5,415.4 1106.5,414.7 1112.5,414.1 1118.5,413.5 1124.5,412.7 1130.5,411.8 1136.5,410.9 1142.5,410.1 1148.5,409.2 1154.5,408 1160.5,406.3 1166.5,404.7 1172.5,402.5 1178.5,400.1 1184.5,397.7 1190.5,395.4 1196.5,393.5 1202.5,391.7 1208.5,390.3 1214.5,389.6 1220.5,389 1226.5,389.2 1232.5,389.7 1233.6,389.8 1234,381.2 1238.5,379 1244.5,376.1 1250.5,373.4 1256.5,371.3 1262.5,369.3 1268.5,368.8 1274.5,368.4 1280.5,368 1286.5,367.7 1292.5,366.7 1298.5,365.5 1304.5,364.4 1310.5,363 1316.5,361.6 1322.5,360.2 1328.5,358.8 1334.5,357.4 1340.5,356.3 1346.5,355.4 1352.5,354.5 1358.5,353.8 1364.5,353.7 1370.5,355.1 1376.5,357.8 1382.5,363 1388.5,366.8 1394.5,369.3 1400.5,371.8 1406.5,374.4 1412.5,377 1418.5,379.7 1424.5,382.1 1430.5,383.8 1436.5,385.6 1442.5,387.3 1448.5,389.7 1454.5,392.5 1460.5,395.3 1466.5,398 1472.5,400.5 1478.5,403 1484.5,405.4 1490.5,408.3 1496.5,411.8 1502.5,417.8 1508.5,423.6 1514.5,427.3 1520.5,431 1526.5,434.5 1532.5,438 1538.5,442.5 1544.5,444.2 1550.5,446 1556.5,447.6 1562.5,449.1 1568.5,450.5 1574.5,451.8 1580.5,453.1 1586.5,454.5 1592.5,455.7 1598.5,456.7 1604.5,457.6 1610.5,458.6 1616.5,459.6 1622.5,460.1 1628.5,460.5 1634.5,460.8 1640.5,461.2 1646.5,461.6 1652.5,461.8 1658.5,461.5 1664.5,461.1 1670.5,460.6 1676.5,460.1 1682.5,459.6 1688.5,460.2 1694.5,460.9 1700.5,461.7 1706.5,462.5 1712.5,463.4 1718.5,464.3 1724.5,465.3 1728,465.8 1728,600 902.5,600" fill="url(#g1_18)"/><polygon points="902.5,415.5 908.5,416.1 914.5,416.7 920.5,417.7 926.5,418.1 932.5,417.5 938.5,416.9 944.5,416.4 950.5,416.4 956.5,416.5 962.5,416.5 968.5,417.4 974.5,418.8 980.5,420.2 986.5,421.7 992.5,422.7 998.5,423.8 1004.5,424.9 1010.5,425.7 1016.5,426.6 1022.5,427.3 1028.5,427 1034.5,426.5 1040.5,425.5 1046.5,424.6 1052.5,423.9 1058.5,423.4 1064.5,422.9 1070.5,422.6 1076.5,422.2 1082.5,421.9 1088.5,421.4 1094.5,420.8 1100.5,420.1 1106.5,419.4 1112.5,418.8 1118.5,418.1 1124.5,417.3 1130.5,416.4 1136.5,415.5 1142.5,414.6 1148.5,413.7 1154.5,412.5 1160.5,410.7 1166.5,409 1172.5,406.7 1178.5,404.2 1184.5,401.7 1190.5,399.2 1196.5,397.3 1202.5,395.4 1208.5,394 1214.5,393.4 1220.5,392.9 1226.5,393.1 1232.5,393.7 1233.6,393.8 1234,384.8 1238.5,382.5 1244.5,379.5 1250.5,376.7 1256.5,374.5 1262.5,372.4 1268.5,371.9 1274.5,371.6 1280.5,371.2 1286.5,370.9 1292.5,369.8 1298.5,368.7 1304.5,367.5 1310.5,366 1316.5,364.6 1322.5,363.1 1328.5,361.7 1334.5,360.3 1340.5,359.2 1346.5,358.2 1352.5,357.2 1358.5,356.4 1364.5,356.3 1370.5,357.7 1376.5,360.6 1382.5,365.8 1388.5,369.6 1394.5,372.2 1400.5,374.8 1406.5,377.5 1412.5,380.2 1418.5,383 1424.5,385.5 1430.5,387.3 1436.5,389.1 1442.5,390.9 1448.5,393.4 1454.5,396.3 1460.5,399.2 1466.5,402 1472.5,404.6 1478.5,407.1 1484.5,409.7 1490.5,412.7 1496.5,416.3 1502.5,422.6 1508.5,428.6 1514.5,432.4 1520.5,436.1 1526.5,439.7 1532.5,443.2 1538.5,447.8 1544.5,449.5 1550.5,451.2 1556.5,452.9 1562.5,454.5 1568.5,455.9 1574.5,457.3 1580.5,458.6 1586.5,460 1592.5,461.2 1598.5,462.2 1604.5,463.2 1610.5,464.2 1616.5,465.2 1622.5,465.7 1628.5,466.1 1634.5,466.4 1640.5,466.8 1646.5,467.1 1652.5,467.4 1658.5,467.1 1664.5,466.6 1670.5,466.1 1676.5,465.6 1682.5,465.1 1688.5,465.8 1694.5,466.6 1700.5,467.4 1706.5,468.3 1712.5,469.3 1718.5,470.3 1724.5,471.3 1728,471.9 1728,600 902.5,600" fill="url(#g1_19)"/></g>
<polyline points="902.5,327.4 908.5,327.6 914.5,327.8 920.5,328.1 926.5,328.3 932.5,328.7 938.5,329.1 944.5,329.6 950.5,330 956.5,330.4 962.5,330.8 968.5,331.2 974.5,331.5 980.5,331.8 986.5,332.1 992.5,332.4 998.5,332.7 1004.5,332.8 1010.5,332.6 1016.5,332.4 1022.5,332.1 1028.5,331.9 1034.5,331.6 1040.5,331.5 1046.5,331.3 1052.5,331.2 1058.5,331.1 1064.5,331 1070.5,330.9 1076.5,330.8 1082.5,330.7 1088.5,330.6 1094.5,330.5 1100.5,330.4 1106.5,330.3 1112.5,330.2 1118.5,330.2 1124.5,329.9 1130.5,329.3 1136.5,328.7 1142.5,328.2 1148.5,327.8 1154.5,327.5 1160.5,327.1 1166.5,326.7 1172.5,326.5 1178.5,326.3 1184.5,326.1 1190.5,325.9 1196.5,325.7 1202.5,325.5 1208.5,323.3 1214.5,320.7 1220.5,319.4 1226.5,318.1 1232.5,316.8 1233.6,316.6 1234,316.5 1238.5,315.8 1244.5,315 1250.5,314.2 1256.5,313.4 1262.5,312.7 1268.5,311.9 1274.5,311.1 1280.5,310.6 1286.5,310.1 1292.5,309.5 1298.5,309 1304.5,308.4 1310.5,307.9 1316.5,307.4 1322.5,306.9 1328.5,306.4 1334.5,305.9 1340.5,305.8 1346.5,305.8 1352.5,305.8 1358.5,306.1 1364.5,306.8 1370.5,307.4 1376.5,308.6 1382.5,312.9 1388.5,316.4 1394.5,317.8 1400.5,318.4 1406.5,319 1412.5,319.6 1418.5,320.2 1424.5,320.8 1430.5,321.4 1436.5,322 1442.5,322.6 1448.5,323.2 1454.5,324.1 1460.5,325 1466.5,325.9 1472.5,326.8 1478.5,327.7 1484.5,328.7 1490.5,330 1496.5,331.2 1502.5,332.5 1508.5,334 1514.5,336.6 1520.5,339.1 1526.5,341.6 1532.5,344.1 1538.5,346.4 1544.5,348.7 1550.5,351 1556.5,351.7 1562.5,352.5 1568.5,353.2 1574.5,353.9 1580.5,354.6 1586.5,355.4 1592.5,356 1598.5,356.6 1604.5,357.2 1610.5,357.8 1616.5,358.4 1622.5,359.1 1628.5,359.9 1634.5,360.6 1640.5,361.3 1646.5,361.9 1652.5,361.9 1658.5,361.9 1664.5,361.9 1670.5,361.5 1676.5,360.9 1682.5,360.3 1688.5,359.8 1694.5,359.2 1700.5,358.6 1706.5,358.1 1712.5,357.5 1718.5,357.4 1724.5,357.3 1728,357.3" fill="none" stroke="#111" stroke-width="1"/>
<polyline points="902.5,420.1 908.5,420.7 914.5,421.3 920.5,422.4 926.5,422.8 932.5,422.2 938.5,421.5 944.5,421 950.5,421 956.5,421 962.5,421 968.5,421.9 974.5,423.4 980.5,424.9 986.5,426.4 992.5,427.5 998.5,428.6 1004.5,429.7 1010.5,430.6 1016.5,431.5 1022.5,432.3 1028.5,432 1034.5,431.5 1040.5,430.5 1046.5,429.5 1052.5,428.8 1058.5,428.3 1064.5,427.8 1070.5,427.4 1076.5,427 1082.5,426.7 1088.5,426.2 1094.5,425.5 1100.5,424.8 1106.5,424.1 1112.5,423.4 1118.5,422.7 1124.5,421.9 1130.5,421 1136.5,420.1 1142.5,419.2 1148.5,418.2 1154.5,416.9 1160.5,415.1 1166.5,413.3 1172.5,410.9 1178.5,408.3 1184.5,405.7 1190.5,403.1 1196.5,401.1 1202.5,399.1 1208.5,397.7 1214.5,397.2 1220.5,396.8 1226.5,397.1 1232.5,397.8 1233.6,397.9 1234,388.3 1238.5,386 1244.5,382.9 1250.5,379.9 1256.5,377.8 1262.5,375.6 1268.5,375.1 1274.5,374.7 1280.5,374.4 1286.5,374.1 1292.5,373 1298.5,371.8 1304.5,370.6 1310.5,369.1 1316.5,367.6 1322.5,366.1 1328.5,364.6 1334.5,363.1 1340.5,362 1346.5,360.9 1352.5,359.9 1358.5,359.1 1364.5,358.9 1370.5,360.4 1376.5,363.3 1382.5,368.6 1388.5,372.4 1394.5,375.1 1400.5,377.7 1406.5,380.6 1412.5,383.4 1418.5,386.3 1424.5,388.9 1430.5,390.8 1436.5,392.6 1442.5,394.5 1448.5,397.1 1454.5,400.1 1460.5,403.1 1466.5,406 1472.5,408.7 1478.5,411.3 1484.5,414 1490.5,417.1 1496.5,420.8 1502.5,427.3 1508.5,433.6 1514.5,437.4 1520.5,441.2 1526.5,444.8 1532.5,448.4 1538.5,453.1 1544.5,454.8 1550.5,456.5 1556.5,458.2 1562.5,459.9 1568.5,461.3 1574.5,462.7 1580.5,464.1 1586.5,465.5 1592.5,466.8 1598.5,467.8 1604.5,468.8 1610.5,469.8 1616.5,470.8 1622.5,471.3 1628.5,471.7 1634.5,472 1640.5,472.3 1646.5,472.6 1652.5,473 1658.5,472.6 1664.5,472.1 1670.5,471.6 1676.5,471.1 1682.5,470.7 1688.5,471.4 1694.5,472.3 1700.5,473.1 1706.5,474.1 1712.5,475.1 1718.5,476.2 1724.5,477.3 1728,477.9" fill="none" stroke="#111" stroke-width="1"/>
<polyline points="1274.4,55 1274,120 1273.9,179 1274.6,240 1275.5,290 1276.6,360 1277.4,414" fill="none" stroke="#111" stroke-width="1.5"/>
<polyline points="1322.2,55 1322.6,120 1323.2,150 1326,185 1331,235 1336.8,280 1341.5,330 1345.2,369" fill="none" stroke="#111" stroke-width="1.5"/>
<rect x="897.2" y="55.5" width="841.9" height="476.4" fill="none" stroke="#b8242c" stroke-width="1.6"/>
<path d="M903 54.9v-2.2M903 532.5v2.2M917.2 54.9v-5.5M917.2 532.5v5.5M931.5 54.9v-2.2M931.5 532.5v2.2M945.7 54.9v-2.2M945.7 532.5v2.2M960 54.9v-2.2M960 532.5v2.2M974.2 54.9v-2.2M974.2 532.5v2.2M988.5 54.9v-5.5M988.5 532.5v5.5M1002.8 54.9v-2.2M1002.8 532.5v2.2M1017 54.9v-2.2M1017 532.5v2.2M1031.3 54.9v-2.2M1031.3 532.5v2.2M1045.5 54.9v-2.2M1045.5 532.5v2.2M1059.8 54.9v-5.5M1059.8 532.5v5.5M1074 54.9v-2.2M1074 532.5v2.2M1088.3 54.9v-2.2M1088.3 532.5v2.2M1102.6 54.9v-2.2M1102.6 532.5v2.2M1116.8 54.9v-2.2M1116.8 532.5v2.2M1131.1 54.9v-5.5M1131.1 532.5v5.5M1145.3 54.9v-2.2M1145.3 532.5v2.2M1159.6 54.9v-2.2M1159.6 532.5v2.2M1173.9 54.9v-2.2M1173.9 532.5v2.2M1188.1 54.9v-2.2M1188.1 532.5v2.2M1202.4 54.9v-5.5M1202.4 532.5v5.5M1216.6 54.9v-2.2M1216.6 532.5v2.2M1230.9 54.9v-2.2M1230.9 532.5v2.2M1245.1 54.9v-2.2M1245.1 532.5v2.2M1259.4 54.9v-2.2M1259.4 532.5v2.2M1273.7 54.9v-5.5M1273.7 532.5v5.5M1287.9 54.9v-2.2M1287.9 532.5v2.2M1302.2 54.9v-2.2M1302.2 532.5v2.2M1316.4 54.9v-2.2M1316.4 532.5v2.2M1330.7 54.9v-2.2M1330.7 532.5v2.2M1345 54.9v-5.5M1345 532.5v5.5M1359.2 54.9v-2.2M1359.2 532.5v2.2M1373.5 54.9v-2.2M1373.5 532.5v2.2M1387.7 54.9v-2.2M1387.7 532.5v2.2M1402 54.9v-2.2M1402 532.5v2.2M1416.2 54.9v-5.5M1416.2 532.5v5.5M1430.5 54.9v-2.2M1430.5 532.5v2.2M1444.8 54.9v-2.2M1444.8 532.5v2.2M1459 54.9v-2.2M1459 532.5v2.2M1473.3 54.9v-2.2M1473.3 532.5v2.2M1487.5 54.9v-5.5M1487.5 532.5v5.5M1501.8 54.9v-2.2M1501.8 532.5v2.2M1516 54.9v-2.2M1516 532.5v2.2M1530.3 54.9v-2.2M1530.3 532.5v2.2M1544.6 54.9v-2.2M1544.6 532.5v2.2M1558.8 54.9v-5.5M1558.8 532.5v5.5M1573.1 54.9v-2.2M1573.1 532.5v2.2M1587.3 54.9v-2.2M1587.3 532.5v2.2M1601.6 54.9v-2.2M1601.6 532.5v2.2M1615.9 54.9v-2.2M1615.9 532.5v2.2M1630.1 54.9v-5.5M1630.1 532.5v5.5M1644.4 54.9v-2.2M1644.4 532.5v2.2M1658.6 54.9v-2.2M1658.6 532.5v2.2M1672.9 54.9v-2.2M1672.9 532.5v2.2M1687.1 54.9v-2.2M1687.1 532.5v2.2M1701.4 54.9v-5.5M1701.4 532.5v5.5M1715.7 54.9v-2.2M1715.7 532.5v2.2M1729.9 54.9v-2.2M1729.9 532.5v2.2M896.6 62h-2.2M1739.7 62h2.2M896.6 71.1h-2.2M1739.7 71.1h2.2M896.6 80.1h-5.5M1739.7 80.1h5.5M896.6 89.1h-2.2M1739.7 89.1h2.2M896.6 98.2h-2.2M1739.7 98.2h2.2M896.6 107.2h-2.2M1739.7 107.2h2.2M896.6 116.3h-2.2M1739.7 116.3h2.2M896.6 125.3h-5.5M1739.7 125.3h5.5M896.6 134.3h-2.2M1739.7 134.3h2.2M896.6 143.4h-2.2M1739.7 143.4h2.2M896.6 152.4h-2.2M1739.7 152.4h2.2M896.6 161.5h-2.2M1739.7 161.5h2.2M896.6 170.5h-5.5M1739.7 170.5h5.5M896.6 179.5h-2.2M1739.7 179.5h2.2M896.6 188.6h-2.2M1739.7 188.6h2.2M896.6 197.6h-2.2M1739.7 197.6h2.2M896.6 206.6h-2.2M1739.7 206.6h2.2M896.6 215.7h-5.5M1739.7 215.7h5.5M896.6 224.7h-2.2M1739.7 224.7h2.2M896.6 233.8h-2.2M1739.7 233.8h2.2M896.6 242.8h-2.2M1739.7 242.8h2.2M896.6 251.8h-2.2M1739.7 251.8h2.2M896.6 260.9h-5.5M1739.7 260.9h5.5M896.6 269.9h-2.2M1739.7 269.9h2.2M896.6 278.9h-2.2M1739.7 278.9h2.2M896.6 288h-2.2M1739.7 288h2.2M896.6 297h-2.2M1739.7 297h2.2M896.6 306.1h-5.5M1739.7 306.1h5.5M896.6 315.1h-2.2M1739.7 315.1h2.2M896.6 324.1h-2.2M1739.7 324.1h2.2M896.6 333.2h-2.2M1739.7 333.2h2.2M896.6 342.2h-2.2M1739.7 342.2h2.2M896.6 351.2h-5.5M1739.7 351.2h5.5M896.6 360.3h-2.2M1739.7 360.3h2.2M896.6 369.3h-2.2M1739.7 369.3h2.2M896.6 378.4h-2.2M1739.7 378.4h2.2M896.6 387.4h-2.2M1739.7 387.4h2.2M896.6 396.4h-5.5M1739.7 396.4h5.5M896.6 405.5h-2.2M1739.7 405.5h2.2M896.6 414.5h-2.2M1739.7 414.5h2.2M896.6 423.5h-2.2M1739.7 423.5h2.2M896.6 432.6h-2.2M1739.7 432.6h2.2M896.6 441.6h-5.5M1739.7 441.6h5.5M896.6 450.7h-2.2M1739.7 450.7h2.2M896.6 459.7h-2.2M1739.7 459.7h2.2M896.6 468.7h-2.2M1739.7 468.7h2.2M896.6 477.8h-2.2M1739.7 477.8h2.2M896.6 486.8h-5.5M1739.7 486.8h5.5M896.6 495.8h-2.2M1739.7 495.8h2.2M896.6 504.9h-2.2M1739.7 504.9h2.2M896.6 513.9h-2.2M1739.7 513.9h2.2M896.6 523h-2.2M1739.7 523h2.2" stroke="#111" stroke-width="1.4" fill="none"/>
<text class="tl" x="988.5" y="44.5" text-anchor="middle">-20000</text>
<text class="tl" x="988.5" y="554.4" text-anchor="middle">-20000</text>
<text class="tl" x="1131.1" y="44.5" text-anchor="middle">-16000</text>
<text class="tl" x="1131.1" y="554.4" text-anchor="middle">-16000</text>
<text class="tl" x="1273.7" y="44.5" text-anchor="middle">-12000</text>
<text class="tl" x="1273.7" y="554.4" text-anchor="middle">-12000</text>
<text class="tl" x="1416.2" y="44.5" text-anchor="middle">-8000</text>
<text class="tl" x="1416.2" y="554.4" text-anchor="middle">-8000</text>
<text class="tl" x="1558.8" y="44.5" text-anchor="middle">-4000</text>
<text class="tl" x="1558.8" y="554.4" text-anchor="middle">-4000</text>
<text class="tl" x="1701.4" y="44.5" text-anchor="middle">0</text>
<text class="tl" x="1701.4" y="554.4" text-anchor="middle">0</text>
<text class="tl" transform="translate(887.9,125.3) rotate(-90)" text-anchor="middle">-1600</text>
<text class="tl" transform="translate(1750.4,125.3) rotate(90)" text-anchor="middle">-1600</text>
<text class="tl" transform="translate(887.9,215.7) rotate(-90)" text-anchor="middle">-2400</text>
<text class="tl" transform="translate(1750.4,215.7) rotate(90)" text-anchor="middle">-2400</text>
<text class="tl" transform="translate(887.9,306.1) rotate(-90)" text-anchor="middle">-3200</text>
<text class="tl" transform="translate(1750.4,306.1) rotate(90)" text-anchor="middle">-3200</text>
<text class="tl" transform="translate(887.9,396.4) rotate(-90)" text-anchor="middle">-4000</text>
<text class="tl" transform="translate(1750.4,396.4) rotate(90)" text-anchor="middle">-4000</text>
<text class="tl" transform="translate(887.9,486.8) rotate(-90)" text-anchor="middle">-4800</text>
<text class="tl" transform="translate(1750.4,486.8) rotate(90)" text-anchor="middle">-4800</text>
<path d="M1267.1 55L1270.7 29.5L1277.9 29.5L1281.5 55Z" fill="#fff" stroke="#111" stroke-width="1.2"/><path d="M1274.3 29.5L1274.3 55M1270.7 29.5L1278.9 36.5M1277.9 29.5L1269.7 36.5M1269.7 36.5H1278.9M1269.7 36.5L1280 44.5M1278.9 36.5L1268.6 44.5M1268.6 44.5H1280M1268.6 44.5L1281.5 55M1280 44.5L1267.1 55M1267.1 55H1281.5" stroke="#111" stroke-width="0.9" fill="none"/><path d="M1268.9 30.3L1271.1 27.3L1277.5 27.3L1279.7 30.3Z" fill="#111"/><path d="M1274.3 19.3v7M1270.3 22.1l8 3M1278.3 22.1l-8 3" stroke="#111" stroke-width="1" fill="none"/>
<path d="M1314.9 55L1318.5 29.5L1325.7 29.5L1329.3 55Z" fill="#fff" stroke="#111" stroke-width="1.2"/><path d="M1322.1 29.5L1322.1 55M1318.5 29.5L1326.7 36.5M1325.7 29.5L1317.5 36.5M1317.5 36.5H1326.7M1317.5 36.5L1327.8 44.5M1326.7 36.5L1316.4 44.5M1316.4 44.5H1327.8M1316.4 44.5L1329.3 55M1327.8 44.5L1314.9 55M1314.9 55H1329.3" stroke="#111" stroke-width="0.9" fill="none"/><path d="M1316.7 30.3L1318.9 27.3L1325.3 27.3L1327.5 30.3Z" fill="#111"/><path d="M1322.1 19.3v7M1318.1 22.1l8 3M1326.1 22.1l-8 3" stroke="#111" stroke-width="1" fill="none"/>
<text class="wl" x="1256.5" y="10.4" textLength="37" lengthAdjust="spacingAndGlyphs">TNW-2</text>
<text class="wl" x="1300.5" y="10.4" textLength="45.5" lengthAdjust="spacingAndGlyphs">TNW-10</text>
<text class="ns" x="903.2" y="82.6">North</text>
<text class="ns" x="1730.8" y="85.5" text-anchor="end">South</text>
<rect x="1251.5" y="505.5" width="107.3" height="8" fill="#fff" stroke="#111" stroke-width="1"/><rect x="1252.3" y="505.5" width="7.2" height="8" fill="#000"/><rect x="1265.8" y="505.5" width="7.2" height="8" fill="#000"/><rect x="1280.1" y="505.5" width="7.2" height="8" fill="#000"/><rect x="1323.1" y="505.5" width="35.8" height="8" fill="#000"/><path d="M1251.5 505.5v-4M1287.3 505.5v-4M1323.1 505.5v-4M1358.8 505.5v-4" stroke="#111" stroke-width="1"/><text class="sb" x="1251.5" y="494.2" text-anchor="middle">0</text><text class="sb" x="1287.3" y="494.2" text-anchor="middle">1</text><text class="sb" x="1323.1" y="494.2" text-anchor="middle">2</text><text class="sb" x="1354.8" y="494.2">3km</text>
<path d="M1418.5 318.7V248.9H1456.5" fill="none" stroke="#f00" stroke-width="3"/><path d="M1431 234.9L1458.5 248.9L1431 262.9" fill="none" stroke="#f00" stroke-width="5" stroke-linejoin="miter"/><text class="ns" x="1463.7" y="252.5">Sidi Salem</text>
</g>
<rect x="53.1" y="1201.7" width="788.9" height="554.3" fill="#f0f0f0"/>
<polygon points="323.4,1242.3 711.7,1245.9 671.8,1546.8 370.2,1546.2" fill="#f5f5f5"/><polygon points="370.2,1546.2 671.8,1546.8 711.7,1710.7 317.2,1709.4" fill="#f5f5f5"/><polygon points="227.7,1335.1 323.4,1242.3 370.2,1546.2 317.2,1709.4" fill="#f5f5f5"/><polygon points="711.7,1245.9 783.6,1333.2 711.7,1710.7 671.8,1546.8" fill="#f5f5f5"/><path d="M323.4 1242.3L370.2 1546.2M362.6 1242.7L400.6 1546.3M401.7 1243L430.9 1546.3M440.7 1243.4L461.1 1546.4M479.6 1243.7L491.4 1546.4M518.5 1244.1L521.6 1546.5M557.3 1244.5L551.7 1546.5M596 1244.8L581.8 1546.6M634.6 1245.2L611.8 1546.7M673.2 1245.5L641.9 1546.7M711.7 1245.9L671.8 1546.8M323.4 1242.3L711.7 1245.9M328.7 1277L707.2 1280.2M333.8 1310L702.8 1312.8M338.6 1341.3L698.7 1343.8M343.2 1371.2L694.8 1373.3M347.6 1399.7L691.1 1401.5M351.8 1426.9L687.5 1428.5M355.8 1452.8L684.1 1454.2M359.6 1477.7L680.8 1478.8M363.3 1501.5L677.7 1502.4M366.8 1524.3L674.7 1525.1M370.2 1546.2L671.8 1546.8M370.2 1546.2L317.2 1709.4M400.3 1546.3L356.5 1709.5M430.4 1546.3L395.9 1709.7M460.5 1546.4L435.3 1709.8M490.7 1546.4L474.7 1709.9M520.8 1546.5L514.1 1710M551 1546.5L553.6 1710.2M581.2 1546.6L593.1 1710.3M611.4 1546.7L632.6 1710.4M641.6 1546.7L672.1 1710.6M671.8 1546.8L711.7 1710.7M370.2 1546.2L671.8 1546.8M366 1559L674.9 1559.6M361.7 1572.4L678.2 1573.1M357.1 1586.5L681.7 1587.2M352.3 1601.3L685.3 1602.1M347.2 1616.9L689.1 1617.8M341.9 1633.4L693.1 1634.3M336.2 1650.8L697.4 1651.8M330.3 1669.2L701.9 1670.3M323.9 1688.7L706.6 1689.9M317.2 1709.4L711.7 1710.7M227.7 1335.1L317.2 1709.4M241 1322.2L324 1688.5M253.2 1310.4L330.4 1668.9M264.4 1299.5L336.3 1650.4M274.8 1289.5L342 1633M284.4 1280.2L347.4 1616.5M293.3 1271.5L352.4 1601M301.6 1263.5L357.2 1586.2M309.3 1255.9L361.8 1572.2M316.6 1248.9L366.1 1558.9M323.4 1242.3L370.2 1546.2M227.7 1335.1L323.4 1242.3M238.7 1381.3L328.7 1276.8M249 1424.3L333.8 1309.6M258.6 1464.4L338.6 1340.9M267.6 1502L343.2 1370.7M276 1537.2L347.6 1399.2M283.9 1570.2L351.8 1426.4M291.4 1601.3L355.8 1452.5M298.4 1630.7L359.6 1477.4M305 1658.4L363.3 1501.3M311.3 1684.6L366.8 1524.2M317.2 1709.4L370.2 1546.2M711.7 1245.9L671.8 1546.8M716.8 1252.1L674.9 1559.4M722.3 1258.8L678.1 1572.7M728.1 1265.8L681.5 1586.7M734.4 1273.4L685.1 1601.5M741.1 1281.6L688.9 1617.1M748.3 1290.3L693 1633.6M756.1 1299.8L697.2 1651.2M764.5 1310L701.7 1669.8M773.6 1321.1L706.6 1689.6M783.6 1333.2L711.7 1710.7M711.7 1245.9L783.6 1333.2M707.3 1279.2L775 1378.2M703.1 1311.1L767 1420.5M699 1341.7L759.4 1460.4M695.1 1371L752.2 1497.9M691.4 1399.1L745.5 1533.4M687.8 1426.1L739.1 1566.9M684.4 1452.1L733 1598.7M681 1477.1L727.3 1628.9M677.9 1501.2L721.8 1657.5M674.8 1524.4L716.6 1684.7M671.8 1546.8L711.7 1710.7" stroke="#c9c9c9" stroke-width="0.9" fill="none"/><polygon points="284.1,1297.1 742.1,1300.1 692.8,1625.4 343.5,1622" fill="#b6d6e6" fill-opacity="0.76"/><polygon points="284.1,1297.1 742.1,1300.1 692.8,1625.4 343.5,1622" fill="none" stroke="#858585" stroke-width="2.6" stroke-linejoin="miter"/><g transform="matrix(0.9869,0,0,1.0025,13.8,1184.1)"><polygon points="289.6,397.1 311.3,398.3 328.2,397.1 352.3,392.3 376.4,388.7 400.5,386.3 424.6,382.7 448.7,381.4 472.8,383.9 496.9,386.3 521,388.7 545,388.7 575.2,386.3 575.2,436.9 571.6,442.9 557.1,442.9 533,440.5 511.3,436.9 496.9,432 487.2,424.8 472.8,415.2 458.3,410.4 443.9,409.2 429.4,417.6 414.9,427.2 395.7,438.1 376.4,445.3 352.3,448.9 328.2,451.3 301.7,452.5 289.6,397.2" fill="#14c846"/><g clip-path="url(#fc2)"><polygon points="290,399.3 294.8,399.6 299.7,399.9 304.5,400.1 309.3,400.3 314.2,400.2 319,399.9 323.8,399.6 328.7,399.2 333.5,398.2 338.3,397.3 343.2,396.3 348,395.4 352.8,394.5 357.7,393.8 362.5,393 367.3,392.3 372.2,391.6 377,390.9 381.8,390.4 386.7,389.8 391.5,389.3 396.3,388.8 401.2,388.2 406,387.3 410.8,386.5 415.7,385.7 420.5,384.9 425.3,384.2 430.2,383.8 435,383.4 439.9,383.1 444.7,382.7 449.5,382.6 454.4,383.1 459.2,383.6 464,384.2 468.9,384.7 473.7,385.3 478.5,385.9 483.4,386.4 488.2,387 493,387.6 497.9,388.2 502.7,388.8 507.5,389.3 512.4,389.8 517.2,390.3 522,390.7 526.9,390.7 531.7,390.8 536.5,390.8 541.4,390.8 546.2,390.7 551,390.4 555.9,390 560.7,389.7 565.5,389.3 570.4,388.9 575.2,388.3 575.2,393.4 570.4,394.6 565.5,394.9 560.7,395.2 555.9,395.5 551,395.8 546.2,396.1 541.4,396.1 536.5,396 531.7,395.9 526.9,395.8 522,395.7 517.2,395.3 512.4,394.7 507.5,394.1 502.7,393.5 497.9,392.8 493,392 488.2,391 483.4,390.2 478.5,389.3 473.7,388.4 468.9,387.7 464,387.1 459.2,386.4 454.4,385.9 449.5,385.4 444.7,385.5 439.9,386 435,386.6 430.2,387.3 425.3,387.9 420.5,388.9 415.7,390 410.8,391 406,392 401.2,393 396.3,393.9 391.5,394.5 386.7,395.2 381.8,395.9 377,396.5 372.2,397.3 367.3,398 362.5,398.7 357.7,399.4 352.8,400.1 348,401 343.2,401.9 338.3,402.8 333.5,403.7 328.7,404.6 323.8,405 319,405.3 314.2,405.6 309.3,405.7 304.5,405.5 299.7,405.3 294.8,405.1 290,404.9" fill="#14b8d0"/><polygon points="290,418.2 294.8,418.3 299.7,418.5 304.5,418.6 309.3,418.7 314.2,418.6 319,418.3 323.8,418 328.7,417.6 333.5,416.8 338.3,416.1 343.2,415.3 348,414.5 352.8,413.7 357.7,413 362.5,412.3 367.3,411.6 372.2,410.8 377,410.1 381.8,409.1 386.7,408.1 391.5,407.1 396.3,406.1 401.2,404.7 406,403.2 410.8,401.8 415.7,400.2 420.5,398.6 425.3,397 430.2,395.6 435,394.4 439.9,393.2 444.7,392.1 449.5,392.2 454.4,392.7 459.2,393.2 464,394.1 468.9,395 473.7,396.1 478.5,397.6 483.4,399.1 488.2,400.7 493,402.3 497.9,403.8 502.7,404.8 507.5,405.7 512.4,406.5 517.2,407.2 522,407.7 526.9,408 531.7,408.3 536.5,408.5 541.4,408.7 546.2,408.8 551,408.8 555.9,408.7 560.7,408.5 565.5,408.3 570.4,408 575.2,405.5 575.2,410.6 570.4,413.7 565.5,413.9 560.7,414.1 555.9,414.2 551,414.2 546.2,414.1 541.4,414 536.5,413.7 531.7,413.5 526.9,413.1 522,412.7 517.2,412.1 512.4,411.5 507.5,410.5 502.7,409.5 497.9,408.4 493,406.7 488.2,404.7 483.4,402.8 478.5,401.1 473.7,399.3 468.9,398.1 464,397.1 459.2,396 454.4,395.5 449.5,395 444.7,394.9 439.9,396.1 435,397.6 430.2,399.1 425.3,400.7 420.5,402.6 415.7,404.5 410.8,406.2 406,407.9 401.2,409.6 396.3,411.2 391.5,412.4 386.7,413.5 381.8,414.6 377,415.7 372.2,416.5 367.3,417.2 362.5,417.9 357.7,418.7 352.8,419.4 348,420.1 343.2,420.8 338.3,421.6 333.5,422.3 328.7,423 323.8,423.4 319,423.7 314.2,423.9 309.3,424.1 304.5,424.1 299.7,424 294.8,423.8 290,423.7" fill="#14b4cc"/><polygon points="290,438.1 294.8,438.2 299.7,438.2 304.5,438.2 309.3,438.1 314.2,437.9 319,437.7 323.8,437.4 328.7,437.1 333.5,436.5 338.3,435.9 343.2,435.3 348,434.7 352.8,434.1 357.7,433.4 362.5,432.7 367.3,431.9 372.2,431.2 377,430.4 381.8,428.9 386.7,427.5 391.5,426 396.3,424.5 401.2,422.3 406,420.1 410.8,417.9 415.7,415.6 420.5,413 425.3,410.5 430.2,408.1 435,406 439.9,403.8 444.7,402.1 449.5,402.3 454.4,402.8 459.2,403.4 464,404.7 468.9,406 473.7,407.5 478.5,410 483.4,412.5 488.2,415.1 493,417.9 497.9,420.4 502.7,421.7 507.5,423.1 512.4,424.3 517.2,425 522,425.7 526.9,426.3 531.7,426.9 536.5,427.3 541.4,427.6 546.2,428 551,428.2 555.9,428.5 560.7,428.5 565.5,428.4 570.4,428.3 575.2,423.7 575.2,428.8 570.4,433.9 565.5,434 560.7,434 555.9,434 551,433.6 546.2,433.3 541.4,432.9 536.5,432.5 531.7,432 526.9,431.4 522,430.7 517.2,429.9 512.4,429.2 507.5,427.9 502.7,426.4 497.9,425 493,422.2 488.2,419.1 483.4,416.3 478.5,413.5 473.7,410.7 468.9,409 464,407.6 459.2,406.2 454.4,405.6 449.5,405.2 444.7,404.8 439.9,406.8 435,409.2 430.2,411.6 425.3,414.3 420.5,417.1 415.7,419.9 410.8,422.3 406,424.8 401.2,427.2 396.3,429.6 391.5,431.3 386.7,432.9 381.8,434.5 377,436 372.2,436.9 367.3,437.6 362.5,438.3 357.7,439 352.8,439.8 348,440.3 343.2,440.9 338.3,441.5 333.5,442 328.7,442.6 323.8,442.8 319,443.1 314.2,443.3 309.3,443.5 304.5,443.7 299.7,443.7 294.8,443.7 290,443.6" fill="#14b0c8"/><polygon points="290,428.1 294.8,428.3 299.7,428.4 304.5,428.4 309.3,428.4 314.2,428.2 319,428 323.8,427.7 328.7,427.4 333.5,426.7 338.3,426 343.2,425.3 348,424.6 352.8,423.9 357.7,423.2 362.5,422.5 367.3,421.7 372.2,421 377,420.2 381.8,419 386.7,417.8 391.5,416.6 396.3,415.3 401.2,413.5 406,411.7 410.8,409.8 415.7,407.9 420.5,405.8 425.3,403.7 430.2,401.9 435,400.2 439.9,398.5 444.7,397.1 449.5,397.3 454.4,397.7 459.2,398.3 464,399.4 468.9,400.5 473.7,401.8 478.5,403.8 483.4,405.8 488.2,407.9 493,410.1 497.9,412.1 502.7,413.2 507.5,414.4 512.4,415.4 517.2,416.1 522,416.7 526.9,417.1 531.7,417.6 536.5,417.9 541.4,418.2 546.2,418.4 551,418.5 555.9,418.6 560.7,418.5 565.5,418.3 570.4,418.2 575.2,414.6 575.2,416.7 570.4,420.4 565.5,420.6 560.7,420.7 555.9,420.8 551,420.7 546.2,420.5 541.4,420.3 536.5,420 531.7,419.7 526.9,419.2 522,418.7 517.2,418.1 512.4,417.4 507.5,416.3 502.7,415.1 497.9,414 493,411.8 488.2,409.5 483.4,407.3 478.5,405.2 473.7,403.1 468.9,401.7 464,400.6 459.2,399.4 454.4,398.8 449.5,398.4 444.7,398.2 439.9,399.7 435,401.5 430.2,403.2 425.3,405.2 420.5,407.4 415.7,409.6 410.8,411.6 406,413.5 401.2,415.5 396.3,417.3 391.5,418.7 386.7,420 381.8,421.2 377,422.5 372.2,423.3 367.3,424 362.5,424.7 357.7,425.5 352.8,426.2 348,426.9 343.2,427.5 338.3,428.2 333.5,428.9 328.7,429.6 323.8,429.9 319,430.1 314.2,430.4 309.3,430.6 304.5,430.6 299.7,430.6 294.8,430.5 290,430.3" fill="#b018c8"/><polygon points="290,434.8 292.5,434.8 295.1,434.9 297.6,434.9 300.2,435 302.7,435 305.3,434.9 307.8,434.9 310.3,434.9 312.9,434.8 315.4,434.6 318,434.5 320.5,434.4 323.1,434.2 325.6,434.1 328.1,434 330.7,433.6 333.2,433.3 335.8,433 338.3,432.6 340.8,432.3 343.4,432 345.9,431.6 348.5,431.3 351,431 353.6,430.6 356.1,430.2 358.6,429.8 361.2,429.5 363.7,429.1 366.3,428.7 368.8,428.3 371.4,427.9 373.9,427.6 376.4,427.2 379,426.5 381.5,425.7 384.1,425 386.6,424.3 389.2,423.5 391.7,422.8 394.2,422.1 396.8,421.2 399.3,420.2 401.9,419.1 404.4,418 406.9,416.9 409.5,415.8 412,414.7 414.6,413.6 417.1,412.3 419.7,411.1 422.2,409.8 424.7,408.5 427.3,407.3 429.8,406.2 432.4,405.1 434.9,404.1 437.5,403 440,402 440,403.2 437.5,404.3 434.9,405.4 432.4,406.5 429.8,407.6 427.3,408.8 424.7,410 422.2,411.4 419.7,412.7 417.1,414 414.6,415.3 412,416.4 409.5,417.6 406.9,418.7 404.4,419.9 401.9,421 399.3,422.1 396.8,423.3 394.2,424.2 391.7,424.9 389.2,425.7 386.6,426.4 384.1,427.2 381.5,427.9 379,428.7 376.4,429.4 373.9,429.8 371.4,430.2 368.8,430.6 366.3,431 363.7,431.3 361.2,431.7 358.6,432.1 356.1,432.5 353.6,432.9 351,433.2 348.5,433.5 345.9,433.9 343.4,434.2 340.8,434.5 338.3,434.8 335.8,435.2 333.2,435.5 330.7,435.8 328.1,436.1 325.6,436.3 323.1,436.4 320.5,436.5 318,436.7 315.4,436.8 312.9,436.9 310.3,437 307.8,437.1 305.3,437.1 302.7,437.2 300.2,437.2 297.6,437.1 295.1,437.1 292.5,437 290,437" fill="#c018c0"/><polygon points="290,409.3 294.8,409.5 299.7,409.7 304.5,409.9 309.3,410.1 314.2,409.9 319,409.6 323.8,409.3 328.7,408.9 333.5,408.1 338.3,407.2 343.2,406.4 348,405.5 352.8,404.7 357.7,403.9 362.5,403.2 367.3,402.5 372.2,401.8 377,401.1 381.8,400.3 386.7,399.5 391.5,398.7 396.3,397.9 401.2,396.9 406,395.8 410.8,394.6 415.7,393.4 420.5,392.1 425.3,390.9 430.2,390 435,389.2 439.9,388.4 444.7,387.7 449.5,387.7 454.4,388.2 459.2,388.7 464,389.4 468.9,390.2 473.7,391 478.5,392.1 483.4,393.2 488.2,394.3 493,395.4 497.9,396.5 502.7,397.2 507.5,398 512.4,398.7 517.2,399.2 522,399.7 526.9,399.9 531.7,400 536.5,400.2 541.4,400.3 546.2,400.3 551,400.1 555.9,399.9 560.7,399.7 565.5,399.4 570.4,399.1 575.2,397.4 575.2,398.9 570.4,400.7 565.5,401 560.7,401.3 555.9,401.6 551,401.7 546.2,401.9 541.4,401.9 536.5,401.7 531.7,401.6 526.9,401.4 522,401.2 517.2,400.7 512.4,400.1 507.5,399.4 502.7,398.7 497.9,397.9 493,396.7 488.2,395.5 483.4,394.3 478.5,393.1 473.7,391.9 468.9,391.1 464,390.3 459.2,389.5 454.4,389 449.5,388.5 444.7,388.5 439.9,389.3 435,390.2 430.2,391.1 425.3,392.1 420.5,393.4 415.7,394.7 410.8,395.9 406,397.2 401.2,398.4 396.3,399.5 391.5,400.3 386.7,401.1 381.8,401.9 377,402.7 372.2,403.5 367.3,404.2 362.5,404.9 357.7,405.6 352.8,406.4 348,407.2 343.2,408 338.3,408.9 333.5,409.7 328.7,410.6 323.8,410.9 319,411.2 314.2,411.6 309.3,411.7 304.5,411.5 299.7,411.4 294.8,411.2 290,411" fill="#7040d0"/><path d="M286 397.1L293 453.5M297.1 397.5L303.6 453.4M308.1 398.1L314.2 452.9M319.2 397.7L324.8 452.5M330.3 396.7L335.4 451.6M341.4 394.5L346 450.5M352.4 392.3L356.6 449.3M363.5 390.6L367.2 447.7M374.6 389L377.8 445.8M385.7 387.8L388.4 441.8M396.7 386.7L399 437.2M409.6 404.7V415.2M418.5 403.1V414.7M426 395.5V401.6M429 409.5V414.4M438.5 396.9V409.9M441.5 392V397.5M449.5 389.4V400.3M452.5 383.8V390.1M459.8 384.8V404.9M462.8 398.1V404.2M469.8 393.6V403.3M472.8 402.8V409.9M476 392.1V401.5M487.1 386.4V398.8M490.1 416.4V424.7M498.8 406.8V415.4M505.4 394.2V413M513.5 405.7V412.7M516.5 401.2V409.6M524.1 405.1V418M527.1 423.9V432.3M531 406.5V411.9M542.8 397.7V416.7M555.5 394.7V401.3M563.9 393.8V402.2M572.8 394.7V402.2M575.8 403.9V412.9" stroke="#0a1a0a" stroke-width="1.3" fill="none"/></g><polygon points="575.2,386.3 578.8,376.6 593.3,364.6 612.5,350.1 627,328.4 636.6,314 657.1,299.5 657.1,299.6 654,336 641.4,350.1 627,374.2 612.5,393.5 593.3,417.6 575.2,436.9" fill="#10a878"/><g clip-path="url(#rc2)"><polygon points="575.2,392.4 578,385.3 580.8,381.6 583.7,379.2 586.5,376.8 589.3,374.4 592.1,372 594.9,369.6 597.8,367.3 600.6,365 603.4,362.7 606.2,360.4 609,358.1 611.9,355.8 614.7,352.1 617.5,347.9 620.3,343.7 623.2,339.6 626,335.4 628.8,331.2 631.6,326.9 634.4,322.6 637.3,318.8 640.1,316.4 642.9,314.2 645.7,312.1 648.5,309.9 651.4,307.8 654.2,305.4 657,299.7 657,299.8 654.2,308.7 651.4,311.3 648.5,313.6 645.7,315.8 642.9,318.1 640.1,320.5 637.3,323.1 634.4,327 631.6,331.4 628.8,335.7 626,340 623.2,344.1 620.3,348.2 617.5,352.3 614.7,356.5 611.9,360.2 609,362.6 606.2,365.1 603.4,367.5 600.6,370 597.8,372.4 594.9,374.8 592.1,377.3 589.3,379.8 586.5,382.3 583.7,384.7 580.8,387.2 578,390.8 575.2,397.4" fill="#14b8d0"/><polygon points="575.2,411.6 578,406.3 580.8,402.9 583.7,400.2 586.5,397.6 589.3,394.9 592.1,392.2 594.9,389.4 597.8,386.6 600.6,383.8 603.4,380.9 606.2,378.1 609,375.3 611.9,372.4 614.7,368.7 617.5,364.7 620.3,360.7 623.2,356.7 626,352.8 628.8,348.5 631.6,344 634.4,339.5 637.3,335.3 640.1,331.9 642.9,329 645.7,326.4 648.5,323.8 651.4,321.3 654.2,317.7 657,300.2 657,300.3 654.2,321 651.4,324.8 648.5,327.5 645.7,330.2 642.9,332.9 640.1,336 637.3,339.6 634.4,344 631.6,348.5 628.8,353 626,357.3 623.2,361.3 620.3,365.2 617.5,369.1 614.7,373.1 611.9,376.8 609,379.8 606.2,382.8 603.4,385.7 600.6,388.7 597.8,391.7 594.9,394.7 592.1,397.5 589.3,400.3 586.5,403 583.7,405.8 580.8,408.5 578,411.8 575.2,416.7" fill="#14b4cc"/><polygon points="575.2,426.8 578,422.9 580.8,419.7 583.7,416.8 586.5,413.9 589.3,411.1 592.1,408.2 594.9,405.1 597.8,401.8 600.6,398.6 603.4,395.3 606.2,392.1 609,388.8 611.9,385.5 614.7,381.8 617.5,378 620.3,374.1 623.2,370.3 626,366.4 628.8,362.1 631.6,357.5 634.4,352.9 637.3,348.3 640.1,344.2 642.9,340.6 645.7,337.7 648.5,334.8 651.4,331.9 654.2,327.4 657,300.5 657,300.6 654.2,330 651.4,334.7 648.5,337.7 645.7,340.7 642.9,343.8 640.1,347.4 637.3,351.8 634.4,356.4 631.6,361.1 628.8,365.7 626,370.1 623.2,373.9 620.3,377.7 617.5,381.5 614.7,385.3 611.9,389 609,392.4 606.2,395.8 603.4,399.2 600.6,402.5 597.8,405.9 594.9,409.3 592.1,412.5 589.3,415.4 586.5,418.3 583.7,421.2 580.8,424.2 578,427.3 575.2,430.8" fill="#14b0c8"/><path d="M577 384V392.2M577 397.3V405.5M577 412V421.4M577 426.6V435.7M580 378.4V387.6M580 392.3V401.3M580 406.6V416.3M580 421.6V433.4M583 377.3V385.2M583 390.2V398M583 404.4V412.9M583 417.2V427.4M586 374.5V386.1M586 386.7V397.5M586 402.5V414.3M586 414.2V425.9M589 372.9V384.2M589 385.1V392.9M589 397.4V405.1M589 411.3V422.4M592 370.9V381.3M592 382.9V394M592 395.2V404.9M592 408.9V419.3M595 367.2V378M595 379.1V389.9M595 395.1V404.5M595 406.4V413.7M598 365V376M598 377.7V385.2M598 388.4V396.7M598 401.3V409.2M601 363.3V370.6M601 374.1V383.2M601 385.5V396.2M601 397.6V407.9M604 361.6V368.3M604 373.2V383.7M604 385.1V394.2M604 395.4V402.5M607 357.3V366.7M607 368V376.6M607 381.2V389.1M607 390.8V398.4M610 355.9V364.9M610 366.5V373.9M610 378.1V384.4M610 388.1V396.1M613 354V361.3M613 363V372.1M613 373.1V381.4M613 386.5V396.1M616 347.4V356.2M616 359.6V366.1M616 369V375.7M616 381.4V390.3M619 345.1V355M619 354.4V363.6M619 367.3V376.7M619 375.6V384.1M622 338.7V347.9M622 351.6V359.6M622 360.1V368.5M622 374.5V382.8M625 333.6V338.7M625 347V352.6M625 357.7V364M625 369.9V375.1M628 328.7V334.3M628 341.1V345.7M628 352.3V358.3M628 364.6V370.9M631 324.8V331.8M631 336.5V341.1M631 347.1V354.1M631 359.1V366.2M634 320.7V325.1M634 332.7V339.2M634 343.9V348.8M634 353.1V359.9M637 317.6V322M637 329.3V334.1M637 339.5V345.4M637 349.4V355.6M640 315V320M640 324.9V330.7M640 336.5V340.9M640 344.9V351.1M643 312.9V318.2M643 321.9V326.5M643 331.9V337.3M643 341.2V345.4M646 311V314.6M646 320.7V326.5M646 329.5V334.1M646 339.6V345.5M649 306.9V311.6M649 316.8V320.5M649 326.5V332.1M649 336.4V341.8M652 306.7V311M652 315.4V319.5M652 324.6V328.8M652 333.3V336.8M655 302V305M655 308.2V311.4M655 313.7V315.9M655 319.7V322.9" stroke="#06180a" stroke-width="1.5" fill="none"/></g><polygon points="289.6,397.1 299.3,376.6 323.4,351.3 352.3,326 371.6,309.2 376.4,294.7 383.6,275.4 395.7,268.2 417.3,258.6 448.7,254.9 472.8,250.1 496.9,246.5 521,244.1 542.7,240.5 554.7,241.7 569.2,250.1 593.3,256.1 617.3,256.1 655.9,262.2 657.1,299.5 636.6,314 627,328.4 612.5,350.1 593.3,364.6 578.8,376.6 575.2,386.3 545,388.7 521,388.7 496.9,386.3 472.8,383.9 448.7,381.4 424.6,382.7 400.5,386.3 376.4,388.7 352.3,392.3 328.2,397.1 311.3,398.3" fill="url(#mb2)"/><g clip-path="url(#mc2)"><g filter="url(#blur6)"><ellipse cx="452.3" cy="276.9" rx="53" ry="10.8" fill="#10c038" opacity="0.9"/><ellipse cx="476.4" cy="334.7" rx="53" ry="16.9" fill="#10c830" opacity="0.9"/><ellipse cx="331.8" cy="368.4" rx="36.1" ry="13.3" fill="#14cc40" opacity="0.9"/><ellipse cx="428.2" cy="296.1" rx="62.7" ry="8.4" fill="#1888c8" opacity="0.85"/><ellipse cx="584.8" cy="279.3" rx="62.7" ry="16.9" fill="#1490c4" opacity="0.85"/><ellipse cx="452.3" cy="366" rx="48.2" ry="10.8" fill="#1494c4" opacity="0.8"/><ellipse cx="548.7" cy="354" rx="48.2" ry="16.9" fill="#10c0c0" opacity="0.8"/><ellipse cx="596.9" cy="322.7" rx="48.2" ry="13.3" fill="#20d8a8" opacity="0.85"/><ellipse cx="524.6" cy="291.3" rx="28.9" ry="9.6" fill="#10c040" opacity="0.7"/><ellipse cx="395.7" cy="321.2" rx="28.9" ry="7.2" fill="#30d8d0" opacity="0.6"/><ellipse cx="521" cy="263.4" rx="38.6" ry="5.3" fill="#1890d0" opacity="0.7"/><ellipse cx="364.3" cy="354.9" rx="28.9" ry="7.2" fill="#1888c8" opacity="0.6"/><ellipse cx="372.8" cy="327.5" rx="15.7" ry="8.4" fill="#9020c0" opacity="0.9"/><ellipse cx="368" cy="387.7" rx="28.9" ry="9.6" fill="#a018c0" opacity="0.9"/><ellipse cx="536.6" cy="250.4" rx="28.9" ry="7.2" fill="#9828b8" opacity="0.9"/><ellipse cx="534.2" cy="249.2" rx="9.6" ry="3.4" fill="#d09030" opacity="0.9"/><ellipse cx="577.6" cy="375.7" rx="14.5" ry="10.8" fill="#c818c0" opacity="0.9"/><ellipse cx="645.1" cy="269.6" rx="9.6" ry="4.3" fill="#a020c0" opacity="0.8"/><ellipse cx="399.3" cy="354" rx="19.3" ry="7.2" fill="#1878c8" opacity="0.7"/></g><g filter="url(#blur3)"><ellipse cx="429.4" cy="299.5" rx="62.7" ry="3.9" transform="rotate(-12 429.4 299.5)" fill="#000" opacity="0.22"/><ellipse cx="359.5" cy="388.7" rx="53" ry="3.9" transform="rotate(-14 359.5 388.7)" fill="#000" opacity="0.25"/><ellipse cx="468" cy="362.2" rx="48.2" ry="3.9" transform="rotate(14 468 362.2)" fill="#000" opacity="0.22"/><ellipse cx="569.2" cy="338.1" rx="53" ry="3.4" transform="rotate(-18 569.2 338.1)" fill="#000" opacity="0.18"/><ellipse cx="453.5" cy="276.6" rx="67.5" ry="2.9" transform="rotate(-8 453.5 276.6)" fill="#000" opacity="0.16"/><ellipse cx="605.3" cy="277.8" rx="48.2" ry="3.4" transform="rotate(8 605.3 277.8)" fill="#000" opacity="0.18"/><ellipse cx="383.6" cy="311.6" rx="14.5" ry="9.6" transform="rotate(-40 383.6 311.6)" fill="#000" opacity="0.2"/><ellipse cx="511.3" cy="316.4" rx="9.6" ry="28.9" transform="rotate(28 511.3 316.4)" fill="#000" opacity="0.12"/><ellipse cx="410.1" cy="333.3" rx="62.7" ry="4.3" transform="rotate(-14 410.1 333.3)" fill="#fff" opacity="0.2"/><ellipse cx="359.5" cy="364.6" rx="41" ry="3.9" transform="rotate(-16 359.5 364.6)" fill="#fff" opacity="0.2"/><ellipse cx="549.9" cy="318.8" rx="55.4" ry="3.9" transform="rotate(-16 549.9 318.8)" fill="#fff" opacity="0.2"/><ellipse cx="480" cy="273" rx="53" ry="2.4" transform="rotate(-6 480 273)" fill="#fff" opacity="0.14"/><ellipse cx="521" cy="379" rx="48.2" ry="3.4" transform="rotate(4 521 379)" fill="#fff" opacity="0.16"/><ellipse cx="617.3" cy="292.3" rx="28.9" ry="3.4" transform="rotate(10 617.3 292.3)" fill="#fff" opacity="0.14"/></g><rect x="289.6" y="240.5" width="367.5" height="157.8" filter="url(#noise)" opacity="0.06"/><path d="M563.1 248.9L547.5 277.8L530.6 311.6L511.3 340.5L500.5 358.6M501.7 276.6L472.8 306.7L448.7 333.3L434.2 354.9L427 369.4M580 276.6L578.8 292.3M535.4 282.7L531.8 289.9" stroke="#04300c" stroke-opacity="0.38" stroke-width="1.5" fill="none" filter="url(#blur1)"/></g></g><path d="M491.7 1293.3L495.3 1293.3L499.4 1480.8L495.8 1480.8Z" fill="#0a0af0"/><circle cx="493.5" cy="1293.3" r="3.6" fill="none" stroke="#2222ee" stroke-width="1.3"/><path d="M492 1289.1L493.5 1284.5L495 1289.1ZM489.5 1291.4L487.3 1287.1L491.6 1289.3ZM489.3 1294.8L484.7 1293.3L489.3 1291.8ZM491.6 1297.3L487.3 1299.5L489.5 1295.2ZM495 1297.5L493.5 1302.1L492 1297.5ZM497.5 1295.2L499.7 1299.5L495.4 1297.3ZM497.7 1291.8L502.3 1293.3L497.7 1294.8ZM495.4 1289.3L499.7 1287.1L497.5 1291.4Z" fill="#2222ee"/><path d="M508.8 1304.7L512.4 1304.7L516.7 1498.9L513.1 1498.9Z" fill="#ff0000"/><circle cx="510.6" cy="1304.7" r="3.6" fill="none" stroke="#ee1111" stroke-width="1.3"/><path d="M509.1 1300.5L510.6 1295.9L512.1 1300.5ZM506.6 1302.8L504.4 1298.5L508.7 1300.7ZM506.4 1306.2L501.8 1304.7L506.4 1303.2ZM508.7 1308.7L504.4 1310.9L506.6 1306.6ZM512.1 1308.9L510.6 1313.5L509.1 1308.9ZM514.6 1306.6L516.8 1310.9L512.5 1308.7ZM514.8 1303.2L519.4 1304.7L514.8 1306.2ZM512.5 1300.7L516.8 1298.5L514.6 1302.8Z" fill="#ee1111"/><path d="M529.9 1267.3L533.5 1267.3L535.4 1441.7L531.8 1441.7Z" fill="url(#wm2)"/><circle cx="531.7" cy="1267.3" r="3.6" fill="none" stroke="#cc0099" stroke-width="1.3"/><path d="M530.2 1263.1L531.7 1258.5L533.2 1263.1ZM527.7 1265.4L525.5 1261.1L529.8 1263.3ZM527.5 1268.8L522.9 1267.3L527.5 1265.8ZM529.8 1271.3L525.5 1273.5L527.7 1269.2ZM533.2 1271.5L531.7 1276.1L530.2 1271.5ZM535.7 1269.2L537.9 1273.5L533.6 1271.3ZM535.9 1265.8L540.5 1267.3L535.9 1268.8ZM533.6 1263.3L537.9 1261.1L535.7 1265.4Z" fill="#cc0099"/><path d="M559.5 1263.2L563.1 1263.2L562.8 1431.2L559.2 1431.2Z" fill="url(#wp2)"/><circle cx="561.3" cy="1263.2" r="3.6" fill="none" stroke="#cc22cc" stroke-width="1.3"/><path d="M559.8 1259L561.3 1254.4L562.8 1259ZM557.3 1261.3L555.1 1257L559.4 1259.2ZM557.1 1264.7L552.5 1263.2L557.1 1261.7ZM559.4 1267.2L555.1 1269.4L557.3 1265.1ZM562.8 1267.4L561.3 1272L559.8 1267.4ZM565.3 1265.1L567.5 1269.4L563.2 1267.2ZM565.5 1261.7L570.1 1263.2L565.5 1264.7ZM563.2 1259.2L567.5 1257L565.3 1261.3Z" fill="#cc22cc"/><path d="M502.5 1412.8h17" stroke="#3344dd" stroke-width="1.2" stroke-dasharray="2 1.2 1 1"/><path d="M537.7 1383.3h5M565.8 1375.6h8" stroke="#c030c0" stroke-width="1" stroke-dasharray="1.5 1.5"/><path d="M522.6 1434.7h9" stroke="#e02020" stroke-width="1.2" stroke-dasharray="2 1"/><text class="ax" x="344.3" y="1229.1" text-anchor="middle">1030000</text><text class="ax" x="463.5" y="1230.2" text-anchor="middle">1020000</text><text class="ax" x="582.7" y="1231.3" text-anchor="middle">1010000</text><text class="ax" x="701.9" y="1232.4" text-anchor="middle">1000000</text><text class="ax" x="517.2" y="1212.4" text-anchor="middle">Y-axis</text><text class="ax" x="340.9" y="1730.5" text-anchor="middle">1030000</text><text class="ax" x="461.5" y="1730.9" text-anchor="middle">1020000</text><text class="ax" x="582" y="1731.3" text-anchor="middle">1010000</text><text class="ax" x="702.6" y="1731.7" text-anchor="middle">1000000</text><text class="ax" x="514.5" y="1748.1" text-anchor="middle">Y-axis</text><text class="ax" x="214.9" y="1353.5" text-anchor="end">0</text><text class="ax" x="797.4" y="1354.7" text-anchor="start">0</text><text class="ax" x="232.8" y="1428.4" text-anchor="end">-1000</text><text class="ax" x="782.1" y="1429.2" text-anchor="start">-1000</text><text class="ax" x="248.8" y="1494.9" text-anchor="end">-2000</text><text class="ax" x="768.5" y="1495.7" text-anchor="start">-2000</text><text class="ax" x="262.9" y="1554.3" text-anchor="end">-3000</text><text class="ax" x="756.3" y="1555.2" text-anchor="start">-3000</text><text class="ax" x="213.6" y="1557.3" text-anchor="middle">Z-axis</text><text class="ax" x="790.7" y="1559.2" text-anchor="start">Z-axis</text><text class="ax" x="275.7" y="1607.4" text-anchor="end">-4000</text><text class="ax" x="745.4" y="1608.8" text-anchor="start">-4000</text><text class="ax" x="287.2" y="1655.5" text-anchor="end">-5000</text><text class="ax" x="735.4" y="1657.5" text-anchor="start">-5000</text><text class="ax" x="297.7" y="1699.6" text-anchor="end">-6000</text><text class="ax" x="726.2" y="1702.3" text-anchor="start">-6000</text><text class="ax" x="283" y="1268.4" text-anchor="end">720000</text><text class="ax" x="229.6" y="1317.2" text-anchor="end">710000</text><text class="ax" x="321" y="1231.9" text-anchor="end">730000</text><text class="ax" x="256.7" y="1225.2" text-anchor="middle">X-axis</text><text class="ax" x="721.4" y="1246.5" text-anchor="start">730000</text><text class="ax" x="753" y="1282.9" text-anchor="start">720000</text><text class="ax" x="797.4" y="1285.1" text-anchor="start">X-axis</text><text class="ax" x="795.3" y="1333.1" text-anchor="start">710000</text><path d="M345.3 1242L344.5 1235.5M369.2 1242.2L368.9 1239.6M393 1242.4L392.7 1239.8M416.8 1242.7L416.5 1240.1M440.7 1242.9L440.4 1240.3M464.5 1243.1L463.7 1236.6M488.4 1243.3L488.1 1240.7M512.2 1243.6L511.9 1241M536 1243.8L535.7 1241.2M559.9 1244L559.6 1241.4M583.7 1244.2L582.9 1237.7M607.6 1244.4L607.3 1241.8M631.4 1244.7L631.1 1242.1M655.2 1244.9L654.9 1242.3M679.1 1245.1L678.8 1242.5M702.9 1245.3L702.1 1238.8M323.4 1241.7L322.4 1235.2M339.4 1710L340 1716.5M363.5 1710.1L363.8 1713.1M387.6 1710.1L387.9 1713.1M411.7 1710.2L412 1713.2M435.9 1710.3L436.2 1713.3M460 1710.4L460.6 1716.9M484.1 1710.4L484.4 1713.4M508.2 1710.5L508.5 1713.5M532.3 1710.6L532.6 1713.6M556.4 1710.7L556.7 1713.7M580.5 1710.8L581.1 1717.3M604.6 1710.8L604.9 1713.8M628.8 1710.9L629.1 1713.9M652.9 1711L653.2 1714M677 1711.1L677.3 1714.1M701.1 1711.2L701.7 1717.7M231.1 1349.5L221.5 1349.5M783.8 1350.8L793.4 1350.8M235.8 1369.1L232.2 1369.1M779.8 1370.2L783.6 1370.2M240.4 1388L236.8 1388M775.9 1389.1L779.7 1389.1M244.8 1406.5L241.2 1406.5M772.2 1407.5L776 1407.5M249 1424.4L239.4 1424.4M768.5 1425.3L778.1 1425.3M253.2 1441.8L249.6 1441.8M765 1442.6L768.8 1442.6M257.2 1458.6L253.6 1458.6M761.5 1459.5L765.3 1459.5M261.2 1475L257.6 1475M758.2 1475.9L762 1475.9M265 1490.9L255.4 1490.9M754.9 1491.8L764.5 1491.8M268.7 1506.4L265.1 1506.4M751.8 1507.3L755.6 1507.3M272.3 1521.4L268.7 1521.4M748.7 1522.3L752.5 1522.3M275.8 1536.1L272.2 1536.1M745.7 1537L749.5 1537M279.1 1550.3L269.5 1550.3M742.7 1551.3L752.3 1551.3M282.5 1564.1L278.9 1564.1M739.9 1565.2L743.7 1565.2M285.7 1577.5L282.1 1577.5M737.1 1578.8L740.9 1578.8M288.8 1590.7L285.2 1590.7M734.4 1592L738.2 1592M291.9 1603.4L282.3 1603.4M731.8 1604.9L741.4 1604.9M294.8 1615.9L291.2 1615.9M729.2 1617.5L733 1617.5M297.7 1628L294.1 1628M726.7 1629.8L730.5 1629.8M300.6 1639.9L297 1639.9M724.2 1641.8L728 1641.8M303.4 1651.5L293.8 1651.5M721.8 1653.6L731.4 1653.6M306.1 1662.9L302.5 1662.9M719.4 1665.1L723.2 1665.1M308.7 1674L305.1 1674M717.1 1676.4L720.9 1676.4M311.3 1684.9L307.7 1684.9M714.8 1687.5L718.6 1687.5M313.9 1695.6L304.3 1695.6M712.6 1698.4L722.2 1698.4M316.4 1706.1L312.8 1706.1M710.4 1709.2L714.2 1709.2M316.7 1248.8L315.9 1246.2M310 1255.3L309.2 1252.7M302 1263.1L301.2 1260.5M293.8 1271L293 1268.4M285.9 1279.7L283.9 1272.2M276.5 1287.8L275.7 1285.2M267.1 1296.9L266.3 1294.3M256.9 1306.8L256.1 1304.2M245.7 1317.7L244.9 1315.1M233.6 1330.3L231.6 1322.8M712.5 1246.4L720.5 1246.4M718.4 1253.6L721.4 1253.6M724.9 1261.5L727.9 1261.5M730.1 1267.8L733.1 1267.8M736 1274.9L739 1274.9M742.5 1282.8L750.5 1282.8M749.9 1291.8L752.9 1291.8M758 1301.7L761 1301.7M766.1 1311.4L769.1 1311.4M774.2 1321.3L777.2 1321.3M783.9 1333.1L791.9 1333.1" stroke="#222" stroke-width="1.1" fill="none"/>
<g transform="translate(0,1185.5)"><text class="lg" x="59.2" y="166.8">VCL1 [U]</text><text class="lg" x="59.2" y="186.6">Fraction</text><rect x="59.1" y="206.9" width="26.6" height="197.9" fill="url(#lgd2)"/><text class="lg" x="98.8" y="226.5">0.7500</text><text class="lg" x="98.8" y="261">0.6500</text><text class="lg" x="98.8" y="295.4">0.5500</text><text class="lg" x="98.8" y="329.9">0.4500</text><text class="lg" x="98.8" y="364.3">0.3500</text><text class="lg" x="98.8" y="398.8">0.2500</text><path d="M85.7 219.1h9M85.7 253.6h9M85.7 288h9M85.7 322.5h9M85.7 356.9h9M85.7 391.4h9M85.7 236.3h9M85.7 270.8h9M85.7 305.2h9M85.7 339.7h9M85.7 374.2h9" stroke="#4a4ae0" stroke-width="1.1"/><path d="M165.4 207v26M165.4 207.3h23.8M165.4 209.9h15.9M165.4 213.4h14.4M165.4 215h5M165.4 219.3h20.4M165.4 221h5M165.4 222.8h9M165.4 227.8h11M165.4 229.5h4" stroke="#20f060" stroke-width="1.2" fill="none" opacity=".9"/><path d="M165.4 233v25M165.4 236.2h18.4M165.4 245.2h22.4M165.4 246.7h16.9M165.4 248.2h8M165.4 249.6h4" stroke="#20e8f0" stroke-width="1.2" fill="none" opacity=".9"/><path d="M165.4 258v24M165.4 260.5h4M165.4 262.1h13.9M165.4 263.6h9M165.4 265.3h5M165.4 267.1h14.9M165.4 268.5h17.4M165.4 270h9M165.4 271.5h4" stroke="#1ab0ff" stroke-width="1.2" fill="none" opacity=".95"/><path d="M165.4 282v12" stroke="#3050f0" stroke-width="1"/><path d="M165.4 294v36M165.4 308.3h11" stroke="#c050e8" stroke-width="1.1" fill="none"/><path d="M165.4 330v46" stroke="#f070b0" stroke-width="1" opacity=".8"/><path d="M165.4 376v28.8h3.5" stroke="#f0d840" stroke-width="1" fill="none"/><circle cx="165.6" cy="288.4" r="1.7" fill="#4020e0"/><g stroke="#0a2a0a" stroke-width="0.9" stroke-linejoin="round"><path d="M95.5 536.3H125.6V544H95.5Z" fill="#04cc04"/><path d="M95.5 544H125.6V551.3H95.5Z" fill="#04cc04"/><path d="M95.5 551.3H125.6V557H95.5Z" fill="#cc0404"/><path d="M66.1 540.2L95.5 548.1V554L66.1 547.7Z" fill="#04cc04"/><path d="M66.1 547.7L95.5 554V559.7L66.1 553Z" fill="#cc0404"/><path d="M66.1 540.2L95.5 532.2V548.1Z" fill="#04cc04"/></g></g>
<text class="rl" transform="translate(36.4,1484.4) rotate(-90)" text-anchor="middle">VCL Model</text>
<g transform="matrix(1.0024,0,0,0.9994,-3.55,1186.23)">
<g clip-path="url(#sc2)"><polygon points="902.5,327.4 908.5,327.6 914.5,327.8 920.5,328.1 926.5,328.3 932.5,328.7 938.5,329.1 944.5,329.6 950.5,330 956.5,330.4 962.5,330.8 968.5,331.2 974.5,331.5 980.5,331.8 986.5,332.1 992.5,332.4 998.5,332.7 1004.5,332.8 1010.5,332.6 1016.5,332.4 1022.5,332.1 1028.5,331.9 1034.5,331.6 1040.5,331.5 1046.5,331.3 1052.5,331.2 1058.5,331.1 1064.5,331 1070.5,330.9 1076.5,330.8 1082.5,330.7 1088.5,330.6 1094.5,330.5 1100.5,330.4 1106.5,330.3 1112.5,330.2 1118.5,330.2 1124.5,329.9 1130.5,329.3 1136.5,328.7 1142.5,328.2 1148.5,327.8 1154.5,327.5 1160.5,327.1 1166.5,326.7 1172.5,326.5 1178.5,326.3 1184.5,326.1 1190.5,325.9 1196.5,325.7 1202.5,325.5 1208.5,323.3 1214.5,320.7 1220.5,319.4 1226.5,318.1 1232.5,316.8 1233.6,316.6 1234,316.5 1238.5,315.8 1244.5,315 1250.5,314.2 1256.5,313.4 1262.5,312.7 1268.5,311.9 1274.5,311.1 1280.5,310.6 1286.5,310.1 1292.5,309.5 1298.5,309 1304.5,308.4 1310.5,307.9 1316.5,307.4 1322.5,306.9 1328.5,306.4 1334.5,305.9 1340.5,305.8 1346.5,305.8 1352.5,305.8 1358.5,306.1 1364.5,306.8 1370.5,307.4 1376.5,308.6 1382.5,312.9 1388.5,316.4 1394.5,317.8 1400.5,318.4 1406.5,319 1412.5,319.6 1418.5,320.2 1424.5,320.8 1430.5,321.4 1436.5,322 1442.5,322.6 1448.5,323.2 1454.5,324.1 1460.5,325 1466.5,325.9 1472.5,326.8 1478.5,327.7 1484.5,328.7 1490.5,330 1496.5,331.2 1502.5,332.5 1508.5,334 1514.5,336.6 1520.5,339.1 1526.5,341.6 1532.5,344.1 1538.5,346.4 1544.5,348.7 1550.5,351 1556.5,351.7 1562.5,352.5 1568.5,353.2 1574.5,353.9 1580.5,354.6 1586.5,355.4 1592.5,356 1598.5,356.6 1604.5,357.2 1610.5,357.8 1616.5,358.4 1622.5,359.1 1628.5,359.9 1634.5,360.6 1640.5,361.3 1646.5,361.9 1652.5,361.9 1658.5,361.9 1664.5,361.9 1670.5,361.5 1676.5,360.9 1682.5,360.3 1688.5,359.8 1694.5,359.2 1700.5,358.6 1706.5,358.1 1712.5,357.5 1718.5,357.4 1724.5,357.3 1728,357.3 1728,600 902.5,600" fill="url(#g2_0)"/><polygon points="902.5,332 908.5,332.3 914.5,332.5 920.5,332.8 926.5,333 932.5,333.4 938.5,333.7 944.5,334.1 950.5,334.5 956.5,334.9 962.5,335.3 968.5,335.7 974.5,336.1 980.5,336.4 986.5,336.8 992.5,337.1 998.5,337.5 1004.5,337.7 1010.5,337.5 1016.5,337.3 1022.5,337.1 1028.5,336.9 1034.5,336.6 1040.5,336.4 1046.5,336.3 1052.5,336.1 1058.5,336 1064.5,335.8 1070.5,335.7 1076.5,335.6 1082.5,335.5 1088.5,335.4 1094.5,335.3 1100.5,335.1 1106.5,335 1112.5,334.9 1118.5,334.8 1124.5,334.5 1130.5,333.9 1136.5,333.3 1142.5,332.8 1148.5,332.4 1154.5,331.9 1160.5,331.5 1166.5,331 1172.5,330.7 1178.5,330.4 1184.5,330.1 1190.5,329.8 1196.5,329.5 1202.5,329.2 1208.5,327 1214.5,324.5 1220.5,323.3 1226.5,322.1 1232.5,320.9 1233.6,320.7 1234,320.1 1238.5,319.3 1244.5,318.4 1250.5,317.5 1256.5,316.7 1262.5,315.8 1268.5,315.1 1274.5,314.3 1280.5,313.8 1286.5,313.3 1292.5,312.7 1298.5,312.1 1304.5,311.5 1310.5,311 1316.5,310.4 1322.5,309.9 1328.5,309.3 1334.5,308.8 1340.5,308.6 1346.5,308.6 1352.5,308.5 1358.5,308.8 1364.5,309.4 1370.5,310 1376.5,311.3 1382.5,315.7 1388.5,319.2 1394.5,320.7 1400.5,321.4 1406.5,322.1 1412.5,322.8 1418.5,323.5 1424.5,324.3 1430.5,324.9 1436.5,325.6 1442.5,326.2 1448.5,326.9 1454.5,327.9 1460.5,328.9 1466.5,329.9 1472.5,330.9 1478.5,331.9 1484.5,333 1490.5,334.3 1496.5,335.7 1502.5,337.2 1508.5,339 1514.5,341.6 1520.5,344.2 1526.5,346.8 1532.5,349.3 1538.5,351.8 1544.5,354 1550.5,356.3 1556.5,357.1 1562.5,357.8 1568.5,358.6 1574.5,359.3 1580.5,360.1 1586.5,360.9 1592.5,361.6 1598.5,362.2 1604.5,362.8 1610.5,363.4 1616.5,364.1 1622.5,364.7 1628.5,365.4 1634.5,366.2 1640.5,366.9 1646.5,367.4 1652.5,367.5 1658.5,367.4 1664.5,367.4 1670.5,367.1 1676.5,366.5 1682.5,365.9 1688.5,365.3 1694.5,364.8 1700.5,364.3 1706.5,363.9 1712.5,363.4 1718.5,363.4 1724.5,363.3 1728,363.3 1728,600 902.5,600" fill="url(#g2_1)"/><polygon points="902.5,336.7 908.5,336.9 914.5,337.2 920.5,337.5 926.5,337.7 932.5,338 938.5,338.4 944.5,338.7 950.5,339.1 956.5,339.5 962.5,339.8 968.5,340.3 974.5,340.7 980.5,341.1 986.5,341.5 992.5,341.9 998.5,342.3 1004.5,342.5 1010.5,342.4 1016.5,342.3 1022.5,342.1 1028.5,341.9 1034.5,341.6 1040.5,341.4 1046.5,341.2 1052.5,341 1058.5,340.8 1064.5,340.7 1070.5,340.5 1076.5,340.4 1082.5,340.3 1088.5,340.2 1094.5,340 1100.5,339.9 1106.5,339.7 1112.5,339.6 1118.5,339.4 1124.5,339.1 1130.5,338.5 1136.5,337.9 1142.5,337.3 1148.5,336.9 1154.5,336.4 1160.5,335.9 1166.5,335.4 1172.5,334.9 1178.5,334.5 1184.5,334 1190.5,333.6 1196.5,333.3 1202.5,332.9 1208.5,330.7 1214.5,328.3 1220.5,327.1 1226.5,326 1232.5,324.9 1233.6,324.7 1234,323.7 1238.5,322.8 1244.5,321.8 1250.5,320.8 1256.5,319.9 1262.5,319 1268.5,318.2 1274.5,317.5 1280.5,317 1286.5,316.5 1292.5,315.9 1298.5,315.3 1304.5,314.6 1310.5,314 1316.5,313.4 1322.5,312.8 1328.5,312.2 1334.5,311.7 1340.5,311.4 1346.5,311.3 1352.5,311.2 1358.5,311.4 1364.5,312 1370.5,312.7 1376.5,314 1382.5,318.5 1388.5,322 1394.5,323.5 1400.5,324.3 1406.5,325.2 1412.5,326 1418.5,326.8 1424.5,327.7 1430.5,328.4 1436.5,329.1 1442.5,329.8 1448.5,330.6 1454.5,331.7 1460.5,332.8 1466.5,333.9 1472.5,335 1478.5,336 1484.5,337.2 1490.5,338.7 1496.5,340.2 1502.5,341.9 1508.5,344 1514.5,346.7 1520.5,349.3 1526.5,352 1532.5,354.6 1538.5,357.1 1544.5,359.3 1550.5,361.6 1556.5,362.4 1562.5,363.2 1568.5,364 1574.5,364.8 1580.5,365.6 1586.5,366.4 1592.5,367.1 1598.5,367.8 1604.5,368.4 1610.5,369 1616.5,369.7 1622.5,370.3 1628.5,371 1634.5,371.7 1640.5,372.4 1646.5,373 1652.5,373 1658.5,373 1664.5,372.9 1670.5,372.6 1676.5,372 1682.5,371.4 1688.5,370.9 1694.5,370.5 1700.5,370.1 1706.5,369.7 1712.5,369.3 1718.5,369.3 1724.5,369.3 1728,369.4 1728,600 902.5,600" fill="url(#g2_2)"/><polygon points="902.5,341.3 908.5,341.6 914.5,341.9 920.5,342.2 926.5,342.5 932.5,342.7 938.5,343 944.5,343.3 950.5,343.6 956.5,344 962.5,344.4 968.5,344.8 974.5,345.3 980.5,345.7 986.5,346.2 992.5,346.6 998.5,347.1 1004.5,347.4 1010.5,347.3 1016.5,347.2 1022.5,347.1 1028.5,346.9 1034.5,346.6 1040.5,346.3 1046.5,346.1 1052.5,345.9 1058.5,345.7 1064.5,345.5 1070.5,345.4 1076.5,345.2 1082.5,345.1 1088.5,344.9 1094.5,344.8 1100.5,344.6 1106.5,344.4 1112.5,344.2 1118.5,344 1124.5,343.7 1130.5,343.1 1136.5,342.4 1142.5,341.8 1148.5,341.4 1154.5,340.9 1160.5,340.3 1166.5,339.7 1172.5,339.1 1178.5,338.6 1184.5,338 1190.5,337.5 1196.5,337 1202.5,336.6 1208.5,334.4 1214.5,332.1 1220.5,331 1226.5,330 1232.5,329 1233.6,328.8 1234,327.3 1238.5,326.3 1244.5,325.2 1250.5,324.1 1256.5,323.1 1262.5,322.1 1268.5,321.4 1274.5,320.7 1280.5,320.2 1286.5,319.7 1292.5,319 1298.5,318.4 1304.5,317.8 1310.5,317.1 1316.5,316.4 1322.5,315.8 1328.5,315.2 1334.5,314.5 1340.5,314.2 1346.5,314.1 1352.5,313.9 1358.5,314.1 1364.5,314.6 1370.5,315.3 1376.5,316.8 1382.5,321.2 1388.5,324.8 1394.5,326.4 1400.5,327.3 1406.5,328.3 1412.5,329.2 1418.5,330.1 1424.5,331.1 1430.5,331.8 1436.5,332.6 1442.5,333.4 1448.5,334.3 1454.5,335.5 1460.5,336.7 1466.5,337.9 1472.5,339.1 1478.5,340.2 1484.5,341.5 1490.5,343 1496.5,344.6 1502.5,346.7 1508.5,349 1514.5,351.7 1520.5,354.4 1526.5,357.1 1532.5,359.8 1538.5,362.4 1544.5,364.6 1550.5,366.8 1556.5,367.7 1562.5,368.6 1568.5,369.4 1574.5,370.2 1580.5,371.1 1586.5,371.9 1592.5,372.7 1598.5,373.3 1604.5,374 1610.5,374.6 1616.5,375.3 1622.5,376 1628.5,376.6 1634.5,377.3 1640.5,378 1646.5,378.5 1652.5,378.6 1658.5,378.5 1664.5,378.4 1670.5,378.1 1676.5,377.5 1682.5,376.9 1688.5,376.5 1694.5,376.1 1700.5,375.8 1706.5,375.5 1712.5,375.2 1718.5,375.2 1724.5,375.3 1728,375.4 1728,600 902.5,600" fill="url(#g2_3)"/><polygon points="902.5,345.9 908.5,346.2 914.5,346.5 920.5,346.9 926.5,347.2 932.5,347.4 938.5,347.6 944.5,347.8 950.5,348.2 956.5,348.5 962.5,348.9 968.5,349.3 974.5,349.9 980.5,350.4 986.5,350.9 992.5,351.4 998.5,351.9 1004.5,352.2 1010.5,352.2 1016.5,352.2 1022.5,352.1 1028.5,351.9 1034.5,351.6 1040.5,351.3 1046.5,351 1052.5,350.7 1058.5,350.6 1064.5,350.4 1070.5,350.2 1076.5,350 1082.5,349.9 1088.5,349.7 1094.5,349.5 1100.5,349.3 1106.5,349.1 1112.5,348.9 1118.5,348.7 1124.5,348.3 1130.5,347.6 1136.5,347 1142.5,346.4 1148.5,345.9 1154.5,345.4 1160.5,344.7 1166.5,344 1172.5,343.4 1178.5,342.7 1184.5,342 1190.5,341.3 1196.5,340.8 1202.5,340.2 1208.5,338.1 1214.5,336 1220.5,334.9 1226.5,333.9 1232.5,333 1233.6,332.9 1234,330.9 1238.5,329.8 1244.5,328.6 1250.5,327.4 1256.5,326.3 1262.5,325.3 1268.5,324.5 1274.5,323.9 1280.5,323.4 1286.5,322.9 1292.5,322.2 1298.5,321.5 1304.5,320.9 1310.5,320.2 1316.5,319.4 1322.5,318.7 1328.5,318.1 1334.5,317.4 1340.5,317 1346.5,316.8 1352.5,316.6 1358.5,316.7 1364.5,317.2 1370.5,318 1376.5,319.5 1382.5,324 1388.5,327.6 1394.5,329.3 1400.5,330.3 1406.5,331.3 1412.5,332.4 1418.5,333.4 1424.5,334.5 1430.5,335.3 1436.5,336.2 1442.5,337 1448.5,338 1454.5,339.3 1460.5,340.6 1466.5,341.9 1472.5,343.2 1478.5,344.4 1484.5,345.7 1490.5,347.4 1496.5,349.1 1502.5,351.4 1508.5,353.9 1514.5,356.7 1520.5,359.5 1526.5,362.3 1532.5,365 1538.5,367.8 1544.5,370 1550.5,372.1 1556.5,373 1562.5,373.9 1568.5,374.8 1574.5,375.7 1580.5,376.5 1586.5,377.4 1592.5,378.2 1598.5,378.9 1604.5,379.5 1610.5,380.2 1616.5,380.9 1622.5,381.6 1628.5,382.2 1634.5,382.9 1640.5,383.5 1646.5,384 1652.5,384.1 1658.5,384 1664.5,383.9 1670.5,383.6 1676.5,383 1682.5,382.4 1688.5,382.1 1694.5,381.8 1700.5,381.5 1706.5,381.3 1712.5,381.1 1718.5,381.2 1724.5,381.3 1728,381.4 1728,600 902.5,600" fill="url(#g2_4)"/><polygon points="902.5,350.6 908.5,350.9 914.5,351.2 920.5,351.6 926.5,351.9 932.5,352.1 938.5,352.2 944.5,352.4 950.5,352.7 956.5,353.1 962.5,353.4 968.5,353.9 974.5,354.5 980.5,355.1 986.5,355.7 992.5,356.2 998.5,356.7 1004.5,357.1 1010.5,357.1 1016.5,357.1 1022.5,357.2 1028.5,356.9 1034.5,356.6 1040.5,356.2 1046.5,355.9 1052.5,355.6 1058.5,355.4 1064.5,355.2 1070.5,355 1076.5,354.8 1082.5,354.7 1088.5,354.5 1094.5,354.3 1100.5,354 1106.5,353.8 1112.5,353.5 1118.5,353.3 1124.5,352.9 1130.5,352.2 1136.5,351.6 1142.5,350.9 1148.5,350.4 1154.5,349.8 1160.5,349.1 1166.5,348.4 1172.5,347.6 1178.5,346.8 1184.5,346 1190.5,345.2 1196.5,344.6 1202.5,343.9 1208.5,341.9 1214.5,339.8 1220.5,338.7 1226.5,337.9 1232.5,337.1 1233.6,336.9 1234,334.5 1238.5,333.3 1244.5,332 1250.5,330.7 1256.5,329.5 1262.5,328.4 1268.5,327.7 1274.5,327 1280.5,326.6 1286.5,326.1 1292.5,325.4 1298.5,324.7 1304.5,324 1310.5,323.2 1316.5,322.4 1322.5,321.7 1328.5,321 1334.5,320.2 1340.5,319.8 1346.5,319.6 1352.5,319.3 1358.5,319.4 1364.5,319.8 1370.5,320.6 1376.5,322.2 1382.5,326.8 1388.5,330.4 1394.5,332.1 1400.5,333.2 1406.5,334.4 1412.5,335.6 1418.5,336.7 1424.5,337.9 1430.5,338.8 1436.5,339.7 1442.5,340.6 1448.5,341.7 1454.5,343.1 1460.5,344.5 1466.5,345.9 1472.5,347.3 1478.5,348.6 1484.5,350 1490.5,351.7 1496.5,353.6 1502.5,356.2 1508.5,358.9 1514.5,361.8 1520.5,364.6 1526.5,367.4 1532.5,370.2 1538.5,373.1 1544.5,375.3 1550.5,377.4 1556.5,378.4 1562.5,379.3 1568.5,380.2 1574.5,381.1 1580.5,382 1586.5,382.9 1592.5,383.7 1598.5,384.4 1604.5,385.1 1610.5,385.8 1616.5,386.5 1622.5,387.2 1628.5,387.8 1634.5,388.4 1640.5,389.1 1646.5,389.6 1652.5,389.7 1658.5,389.6 1664.5,389.5 1670.5,389.1 1676.5,388.5 1682.5,387.9 1688.5,387.7 1694.5,387.4 1700.5,387.2 1706.5,387.1 1712.5,386.9 1718.5,387.1 1724.5,387.3 1728,387.4 1728,600 902.5,600" fill="url(#g2_5)"/><polygon points="902.5,355.2 908.5,355.6 914.5,355.9 920.5,356.4 926.5,356.7 932.5,356.7 938.5,356.8 944.5,357 950.5,357.3 956.5,357.6 962.5,357.9 968.5,358.4 974.5,359.1 980.5,359.7 986.5,360.4 992.5,360.9 998.5,361.5 1004.5,361.9 1010.5,362 1016.5,362.1 1022.5,362.2 1028.5,361.9 1034.5,361.6 1040.5,361.2 1046.5,360.8 1052.5,360.5 1058.5,360.3 1064.5,360 1070.5,359.8 1076.5,359.7 1082.5,359.5 1088.5,359.3 1094.5,359 1100.5,358.7 1106.5,358.5 1112.5,358.2 1118.5,357.9 1124.5,357.5 1130.5,356.8 1136.5,356.1 1142.5,355.5 1148.5,355 1154.5,354.3 1160.5,353.5 1166.5,352.7 1172.5,351.8 1178.5,350.9 1184.5,350 1190.5,349.1 1196.5,348.3 1202.5,347.6 1208.5,345.6 1214.5,343.6 1220.5,342.6 1226.5,341.8 1232.5,341.1 1233.6,341 1234,338.1 1238.5,336.8 1244.5,335.4 1250.5,333.9 1256.5,332.7 1262.5,331.5 1268.5,330.9 1274.5,330.2 1280.5,329.7 1286.5,329.3 1292.5,328.6 1298.5,327.8 1304.5,327.1 1310.5,326.3 1316.5,325.5 1322.5,324.7 1328.5,323.9 1334.5,323.1 1340.5,322.6 1346.5,322.3 1352.5,322 1358.5,322 1364.5,322.4 1370.5,323.3 1376.5,325 1382.5,329.6 1388.5,333.2 1394.5,335 1400.5,336.2 1406.5,337.5 1412.5,338.8 1418.5,340 1424.5,341.3 1430.5,342.2 1436.5,343.2 1442.5,344.2 1448.5,345.4 1454.5,346.9 1460.5,348.4 1466.5,349.9 1472.5,351.4 1478.5,352.8 1484.5,354.3 1490.5,356.1 1496.5,358.1 1502.5,360.9 1508.5,363.9 1514.5,366.8 1520.5,369.7 1526.5,372.6 1532.5,375.4 1538.5,378.4 1544.5,380.6 1550.5,382.7 1556.5,383.7 1562.5,384.7 1568.5,385.6 1574.5,386.5 1580.5,387.5 1586.5,388.4 1592.5,389.3 1598.5,390 1604.5,390.7 1610.5,391.4 1616.5,392.1 1622.5,392.8 1628.5,393.4 1634.5,394 1640.5,394.6 1646.5,395.1 1652.5,395.2 1658.5,395.1 1664.5,395 1670.5,394.6 1676.5,394 1682.5,393.4 1688.5,393.2 1694.5,393.1 1700.5,393 1706.5,392.9 1712.5,392.8 1718.5,393.1 1724.5,393.3 1728,393.5 1728,600 902.5,600" fill="url(#g2_6)"/><polygon points="902.5,359.8 908.5,360.2 914.5,360.6 920.5,361.1 926.5,361.4 932.5,361.4 938.5,361.5 944.5,361.6 950.5,361.8 956.5,362.1 962.5,362.4 968.5,362.9 974.5,363.6 980.5,364.4 986.5,365.1 992.5,365.7 998.5,366.3 1004.5,366.7 1010.5,366.9 1016.5,367.1 1022.5,367.2 1028.5,366.9 1034.5,366.6 1040.5,366.1 1046.5,365.7 1052.5,365.4 1058.5,365.1 1064.5,364.9 1070.5,364.7 1076.5,364.5 1082.5,364.3 1088.5,364.1 1094.5,363.8 1100.5,363.5 1106.5,363.2 1112.5,362.8 1118.5,362.5 1124.5,362.1 1130.5,361.4 1136.5,360.7 1142.5,360 1148.5,359.5 1154.5,358.8 1160.5,357.9 1166.5,357 1172.5,356 1178.5,355 1184.5,353.9 1190.5,352.9 1196.5,352.1 1202.5,351.3 1208.5,349.3 1214.5,347.5 1220.5,346.5 1226.5,345.7 1232.5,345.2 1233.6,345.1 1234,341.7 1238.5,340.4 1244.5,338.8 1250.5,337.2 1256.5,336 1262.5,334.7 1268.5,334 1274.5,333.4 1280.5,332.9 1286.5,332.5 1292.5,331.7 1298.5,331 1304.5,330.2 1310.5,329.3 1316.5,328.5 1322.5,327.6 1328.5,326.8 1334.5,326 1340.5,325.5 1346.5,325.1 1352.5,324.7 1358.5,324.7 1364.5,325 1370.5,325.9 1376.5,327.7 1382.5,332.4 1388.5,336 1394.5,337.8 1400.5,339.2 1406.5,340.6 1412.5,342 1418.5,343.4 1424.5,344.7 1430.5,345.7 1436.5,346.8 1442.5,347.8 1448.5,349.1 1454.5,350.7 1460.5,352.3 1466.5,353.9 1472.5,355.4 1478.5,357 1484.5,358.5 1490.5,360.4 1496.5,362.6 1502.5,365.7 1508.5,368.9 1514.5,371.9 1520.5,374.8 1526.5,377.7 1532.5,380.6 1538.5,383.8 1544.5,385.9 1550.5,387.9 1556.5,389 1562.5,390.1 1568.5,391 1574.5,392 1580.5,392.9 1586.5,393.9 1592.5,394.8 1598.5,395.5 1604.5,396.3 1610.5,397 1616.5,397.8 1622.5,398.4 1628.5,399 1634.5,399.6 1640.5,400.2 1646.5,400.7 1652.5,400.8 1658.5,400.6 1664.5,400.5 1670.5,400.1 1676.5,399.5 1682.5,399 1688.5,398.8 1694.5,398.7 1700.5,398.7 1706.5,398.7 1712.5,398.7 1718.5,399 1724.5,399.3 1728,399.5 1728,600 902.5,600" fill="url(#g2_7)"/><polygon points="902.5,364.5 908.5,364.9 914.5,365.2 920.5,365.8 926.5,366.1 932.5,366.1 938.5,366.1 944.5,366.1 950.5,366.4 956.5,366.6 962.5,366.9 968.5,367.5 974.5,368.2 980.5,369 986.5,369.8 992.5,370.4 998.5,371.1 1004.5,371.6 1010.5,371.8 1016.5,372 1022.5,372.2 1028.5,371.9 1034.5,371.6 1040.5,371.1 1046.5,370.6 1052.5,370.3 1058.5,370 1064.5,369.7 1070.5,369.5 1076.5,369.3 1082.5,369.1 1088.5,368.8 1094.5,368.5 1100.5,368.2 1106.5,367.8 1112.5,367.5 1118.5,367.2 1124.5,366.7 1130.5,366 1136.5,365.3 1142.5,364.6 1148.5,364 1154.5,363.3 1160.5,362.3 1166.5,361.3 1172.5,360.2 1178.5,359.1 1184.5,357.9 1190.5,356.8 1196.5,355.9 1202.5,354.9 1208.5,353 1214.5,351.3 1220.5,350.3 1226.5,349.7 1232.5,349.2 1233.6,349.1 1234,345.3 1238.5,343.9 1244.5,342.2 1250.5,340.5 1256.5,339.2 1262.5,337.8 1268.5,337.2 1274.5,336.6 1280.5,336.1 1286.5,335.7 1292.5,334.9 1298.5,334.1 1304.5,333.3 1310.5,332.4 1316.5,331.5 1322.5,330.6 1328.5,329.7 1334.5,328.8 1340.5,328.3 1346.5,327.8 1352.5,327.4 1358.5,327.3 1364.5,327.6 1370.5,328.6 1376.5,330.5 1382.5,335.2 1388.5,338.8 1394.5,340.7 1400.5,342.1 1406.5,343.6 1412.5,345.1 1418.5,346.7 1424.5,348.1 1430.5,349.2 1436.5,350.3 1442.5,351.4 1448.5,352.8 1454.5,354.5 1460.5,356.2 1466.5,357.9 1472.5,359.5 1478.5,361.1 1484.5,362.8 1490.5,364.8 1496.5,367 1502.5,370.4 1508.5,373.9 1514.5,376.9 1520.5,380 1526.5,382.9 1532.5,385.8 1538.5,389.1 1544.5,391.2 1550.5,393.2 1556.5,394.3 1562.5,395.4 1568.5,396.4 1574.5,397.4 1580.5,398.4 1586.5,399.4 1592.5,400.3 1598.5,401.1 1604.5,401.9 1610.5,402.6 1616.5,403.4 1622.5,404 1628.5,404.6 1634.5,405.1 1640.5,405.7 1646.5,406.2 1652.5,406.3 1658.5,406.2 1664.5,406 1670.5,405.6 1676.5,405 1682.5,404.5 1688.5,404.4 1694.5,404.4 1700.5,404.4 1706.5,404.5 1712.5,404.6 1718.5,404.9 1724.5,405.3 1728,405.5 1728,600 902.5,600" fill="url(#g2_8)"/><polygon points="902.5,369.1 908.5,369.5 914.5,369.9 920.5,370.5 926.5,370.8 932.5,370.8 938.5,370.7 944.5,370.7 950.5,370.9 956.5,371.2 962.5,371.4 968.5,372 974.5,372.8 980.5,373.7 986.5,374.5 992.5,375.2 998.5,375.8 1004.5,376.4 1010.5,376.7 1016.5,377 1022.5,377.2 1028.5,376.9 1034.5,376.6 1040.5,376 1046.5,375.5 1052.5,375.1 1058.5,374.8 1064.5,374.5 1070.5,374.3 1076.5,374.1 1082.5,373.9 1088.5,373.6 1094.5,373.3 1100.5,372.9 1106.5,372.5 1112.5,372.2 1118.5,371.8 1124.5,371.3 1130.5,370.6 1136.5,369.8 1142.5,369.1 1148.5,368.5 1154.5,367.7 1160.5,366.7 1166.5,365.7 1172.5,364.5 1178.5,363.2 1184.5,361.9 1190.5,360.6 1196.5,359.6 1202.5,358.6 1208.5,356.8 1214.5,355.1 1220.5,354.2 1226.5,353.6 1232.5,353.3 1233.6,353.2 1234,348.8 1238.5,347.4 1244.5,345.6 1250.5,343.8 1256.5,342.4 1262.5,341 1268.5,340.3 1274.5,339.8 1280.5,339.3 1286.5,338.9 1292.5,338.1 1298.5,337.3 1304.5,336.4 1310.5,335.4 1316.5,334.5 1322.5,333.5 1328.5,332.6 1334.5,331.7 1340.5,331.1 1346.5,330.6 1352.5,330.1 1358.5,330 1364.5,330.2 1370.5,331.2 1376.5,333.2 1382.5,338 1388.5,341.6 1394.5,343.6 1400.5,345.1 1406.5,346.7 1412.5,348.3 1418.5,350 1424.5,351.5 1430.5,352.6 1436.5,353.8 1442.5,355 1448.5,356.5 1454.5,358.3 1460.5,360.1 1466.5,362 1472.5,363.6 1478.5,365.3 1484.5,367.1 1490.5,369.2 1496.5,371.5 1502.5,375.2 1508.5,378.8 1514.5,381.9 1520.5,385.1 1526.5,388.1 1532.5,391.1 1538.5,394.5 1544.5,396.5 1550.5,398.5 1556.5,399.6 1562.5,400.8 1568.5,401.9 1574.5,402.9 1580.5,403.9 1586.5,404.9 1592.5,405.9 1598.5,406.7 1604.5,407.4 1610.5,408.2 1616.5,409 1622.5,409.6 1628.5,410.2 1634.5,410.7 1640.5,411.3 1646.5,411.7 1652.5,411.9 1658.5,411.7 1664.5,411.5 1670.5,411.1 1676.5,410.5 1682.5,410 1688.5,410 1694.5,410.1 1700.5,410.2 1706.5,410.3 1712.5,410.5 1718.5,410.9 1724.5,411.3 1728,411.6 1728,600 902.5,600" fill="url(#g2_9)"/><polygon points="902.5,373.8 908.5,374.2 914.5,374.6 920.5,375.2 926.5,375.6 932.5,375.4 938.5,375.3 944.5,375.3 950.5,375.5 956.5,375.7 962.5,375.9 968.5,376.5 974.5,377.4 980.5,378.3 986.5,379.2 992.5,379.9 998.5,380.6 1004.5,381.3 1010.5,381.6 1016.5,381.9 1022.5,382.2 1028.5,381.9 1034.5,381.6 1040.5,381 1046.5,380.4 1052.5,380 1058.5,379.7 1064.5,379.4 1070.5,379.1 1076.5,378.9 1082.5,378.7 1088.5,378.4 1094.5,378 1100.5,377.6 1106.5,377.2 1112.5,376.8 1118.5,376.4 1124.5,375.9 1130.5,375.1 1136.5,374.4 1142.5,373.7 1148.5,373 1154.5,372.2 1160.5,371.1 1166.5,370 1172.5,368.7 1178.5,367.3 1184.5,365.9 1190.5,364.5 1196.5,363.4 1202.5,362.3 1208.5,360.5 1214.5,358.9 1220.5,358.1 1226.5,357.6 1232.5,357.3 1233.6,357.2 1234,352.4 1238.5,350.9 1244.5,348.9 1250.5,347.1 1256.5,345.6 1262.5,344.1 1268.5,343.5 1274.5,342.9 1280.5,342.5 1286.5,342.1 1292.5,341.3 1298.5,340.4 1304.5,339.5 1310.5,338.5 1316.5,337.5 1322.5,336.5 1328.5,335.5 1334.5,334.5 1340.5,333.9 1346.5,333.4 1352.5,332.8 1358.5,332.6 1364.5,332.8 1370.5,333.9 1376.5,335.9 1382.5,340.7 1388.5,344.4 1394.5,346.4 1400.5,348.1 1406.5,349.8 1412.5,351.5 1418.5,353.3 1424.5,354.9 1430.5,356.1 1436.5,357.3 1442.5,358.6 1448.5,360.2 1454.5,362.1 1460.5,364 1466.5,366 1472.5,367.7 1478.5,369.5 1484.5,371.3 1490.5,373.5 1496.5,376 1502.5,379.9 1508.5,383.8 1514.5,387 1520.5,390.2 1526.5,393.2 1532.5,396.3 1538.5,399.8 1544.5,401.8 1550.5,403.8 1556.5,405 1562.5,406.2 1568.5,407.3 1574.5,408.3 1580.5,409.4 1586.5,410.4 1592.5,411.4 1598.5,412.2 1604.5,413 1610.5,413.8 1616.5,414.6 1622.5,415.2 1628.5,415.8 1634.5,416.3 1640.5,416.8 1646.5,417.3 1652.5,417.4 1658.5,417.2 1664.5,417 1670.5,416.6 1676.5,416 1682.5,415.5 1688.5,415.6 1694.5,415.7 1700.5,415.9 1706.5,416.1 1712.5,416.3 1718.5,416.8 1724.5,417.3 1728,417.6 1728,600 902.5,600" fill="url(#g2_10)"/><polygon points="902.5,378.4 908.5,378.8 914.5,379.3 920.5,379.9 926.5,380.3 932.5,380.1 938.5,379.9 944.5,379.8 950.5,380 956.5,380.2 962.5,380.4 968.5,381.1 974.5,382 980.5,383 986.5,383.9 992.5,384.7 998.5,385.4 1004.5,386.1 1010.5,386.5 1016.5,386.9 1022.5,387.2 1028.5,386.9 1034.5,386.6 1040.5,385.9 1046.5,385.3 1052.5,384.9 1058.5,384.6 1064.5,384.2 1070.5,384 1076.5,383.7 1082.5,383.5 1088.5,383.2 1094.5,382.8 1100.5,382.3 1106.5,381.9 1112.5,381.5 1118.5,381.1 1124.5,380.5 1130.5,379.7 1136.5,379 1142.5,378.2 1148.5,377.6 1154.5,376.7 1160.5,375.5 1166.5,374.3 1172.5,372.9 1178.5,371.4 1184.5,369.9 1190.5,368.4 1196.5,367.2 1202.5,366 1208.5,364.2 1214.5,362.8 1220.5,361.9 1226.5,361.5 1232.5,361.3 1233.6,361.3 1234,356 1238.5,354.4 1244.5,352.3 1250.5,350.4 1256.5,348.8 1262.5,347.3 1268.5,346.7 1274.5,346.1 1280.5,345.7 1286.5,345.3 1292.5,344.4 1298.5,343.5 1304.5,342.6 1310.5,341.6 1316.5,340.5 1322.5,339.5 1328.5,338.4 1334.5,337.4 1340.5,336.7 1346.5,336.1 1352.5,335.5 1358.5,335.3 1364.5,335.4 1370.5,336.5 1376.5,338.7 1382.5,343.5 1388.5,347.2 1394.5,349.3 1400.5,351 1406.5,352.9 1412.5,354.7 1418.5,356.6 1424.5,358.3 1430.5,359.6 1436.5,360.9 1442.5,362.2 1448.5,363.9 1454.5,365.9 1460.5,367.9 1466.5,370 1472.5,371.8 1478.5,373.7 1484.5,375.6 1490.5,377.9 1496.5,380.5 1502.5,384.6 1508.5,388.8 1514.5,392 1520.5,395.3 1526.5,398.4 1532.5,401.5 1538.5,405.1 1544.5,407.1 1550.5,409 1556.5,410.3 1562.5,411.5 1568.5,412.7 1574.5,413.7 1580.5,414.8 1586.5,415.9 1592.5,416.9 1598.5,417.8 1604.5,418.6 1610.5,419.4 1616.5,420.2 1622.5,420.8 1628.5,421.3 1634.5,421.9 1640.5,422.4 1646.5,422.8 1652.5,423 1658.5,422.8 1664.5,422.5 1670.5,422.1 1676.5,421.6 1682.5,421 1688.5,421.1 1694.5,421.4 1700.5,421.6 1706.5,421.9 1712.5,422.2 1718.5,422.8 1724.5,423.3 1728,423.6 1728,600 902.5,600" fill="url(#g2_11)"/><polygon points="902.5,383 908.5,383.5 914.5,383.9 920.5,384.6 926.5,385 932.5,384.8 938.5,384.6 944.5,384.4 950.5,384.6 956.5,384.8 962.5,384.9 968.5,385.6 974.5,386.6 980.5,387.6 986.5,388.7 992.5,389.4 998.5,390.2 1004.5,391 1010.5,391.4 1016.5,391.9 1022.5,392.2 1028.5,391.9 1034.5,391.5 1040.5,390.9 1046.5,390.2 1052.5,389.8 1058.5,389.4 1064.5,389.1 1070.5,388.8 1076.5,388.5 1082.5,388.3 1088.5,388 1094.5,387.5 1100.5,387.1 1106.5,386.6 1112.5,386.1 1118.5,385.7 1124.5,385.1 1130.5,384.3 1136.5,383.5 1142.5,382.8 1148.5,382.1 1154.5,381.1 1160.5,379.9 1166.5,378.7 1172.5,377.1 1178.5,375.5 1184.5,373.8 1190.5,372.2 1196.5,370.9 1202.5,369.7 1208.5,367.9 1214.5,366.6 1220.5,365.8 1226.5,365.5 1232.5,365.4 1233.6,365.4 1234,359.6 1238.5,357.9 1244.5,355.7 1250.5,353.7 1256.5,352 1262.5,350.4 1268.5,349.8 1274.5,349.3 1280.5,348.9 1286.5,348.5 1292.5,347.6 1298.5,346.7 1304.5,345.7 1310.5,344.6 1316.5,343.5 1322.5,342.4 1328.5,341.3 1334.5,340.3 1340.5,339.5 1346.5,338.9 1352.5,338.2 1358.5,337.9 1364.5,338 1370.5,339.2 1376.5,341.4 1382.5,346.3 1388.5,350 1394.5,352.2 1400.5,354 1406.5,356 1412.5,357.9 1418.5,359.9 1424.5,361.7 1430.5,363 1436.5,364.4 1442.5,365.8 1448.5,367.6 1454.5,369.7 1460.5,371.8 1466.5,374 1472.5,375.9 1478.5,377.9 1484.5,379.9 1490.5,382.2 1496.5,385 1502.5,389.4 1508.5,393.8 1514.5,397.1 1520.5,400.4 1526.5,403.5 1532.5,406.7 1538.5,410.5 1544.5,412.4 1550.5,414.3 1556.5,415.6 1562.5,416.9 1568.5,418.1 1574.5,419.2 1580.5,420.3 1586.5,421.4 1592.5,422.5 1598.5,423.3 1604.5,424.2 1610.5,425 1616.5,425.9 1622.5,426.4 1628.5,426.9 1634.5,427.4 1640.5,427.9 1646.5,428.3 1652.5,428.5 1658.5,428.3 1664.5,428 1670.5,427.6 1676.5,427.1 1682.5,426.5 1688.5,426.7 1694.5,427 1700.5,427.3 1706.5,427.7 1712.5,428.1 1718.5,428.7 1724.5,429.3 1728,429.7 1728,600 902.5,600" fill="url(#g2_12)"/><polygon points="902.5,387.7 908.5,388.1 914.5,388.6 920.5,389.4 926.5,389.7 932.5,389.5 938.5,389.2 944.5,389 950.5,389.1 956.5,389.3 962.5,389.4 968.5,390.1 974.5,391.2 980.5,392.3 986.5,393.4 992.5,394.2 998.5,395 1004.5,395.8 1010.5,396.3 1016.5,396.8 1022.5,397.2 1028.5,397 1034.5,396.5 1040.5,395.8 1046.5,395.1 1052.5,394.6 1058.5,394.3 1064.5,393.9 1070.5,393.6 1076.5,393.3 1082.5,393.1 1088.5,392.7 1094.5,392.3 1100.5,391.8 1106.5,391.3 1112.5,390.8 1118.5,390.3 1124.5,389.7 1130.5,388.9 1136.5,388.1 1142.5,387.3 1148.5,386.6 1154.5,385.6 1160.5,384.3 1166.5,383 1172.5,381.4 1178.5,379.6 1184.5,377.8 1190.5,376.1 1196.5,374.7 1202.5,373.3 1208.5,371.6 1214.5,370.4 1220.5,369.7 1226.5,369.4 1232.5,369.4 1233.6,369.4 1234,363.2 1238.5,361.4 1244.5,359.1 1250.5,356.9 1256.5,355.3 1262.5,353.6 1268.5,353 1274.5,352.5 1280.5,352.1 1286.5,351.7 1292.5,350.8 1298.5,349.8 1304.5,348.8 1310.5,347.7 1316.5,346.5 1322.5,345.4 1328.5,344.2 1334.5,343.1 1340.5,342.3 1346.5,341.6 1352.5,340.9 1358.5,340.5 1364.5,340.6 1370.5,341.8 1376.5,344.2 1382.5,349.1 1388.5,352.8 1394.5,355 1400.5,357 1406.5,359 1412.5,361.1 1418.5,363.2 1424.5,365.1 1430.5,366.5 1436.5,367.9 1442.5,369.4 1448.5,371.2 1454.5,373.5 1460.5,375.7 1466.5,378 1472.5,380 1478.5,382 1484.5,384.1 1490.5,386.6 1496.5,389.4 1502.5,394.1 1508.5,398.7 1514.5,402.1 1520.5,405.5 1526.5,408.7 1532.5,411.9 1538.5,415.8 1544.5,417.7 1550.5,419.6 1556.5,420.9 1562.5,422.3 1568.5,423.5 1574.5,424.6 1580.5,425.8 1586.5,426.9 1592.5,428 1598.5,428.9 1604.5,429.7 1610.5,430.6 1616.5,431.5 1622.5,432.1 1628.5,432.5 1634.5,433 1640.5,433.5 1646.5,433.9 1652.5,434.1 1658.5,433.8 1664.5,433.5 1670.5,433.1 1676.5,432.6 1682.5,432 1688.5,432.3 1694.5,432.7 1700.5,433.1 1706.5,433.5 1712.5,434 1718.5,434.6 1724.5,435.3 1728,435.7 1728,600 902.5,600" fill="url(#g2_13)"/><polygon points="902.5,392.3 908.5,392.8 914.5,393.3 920.5,394.1 926.5,394.5 932.5,394.1 938.5,393.8 944.5,393.6 950.5,393.7 956.5,393.8 962.5,393.9 968.5,394.7 974.5,395.8 980.5,397 986.5,398.1 992.5,399 998.5,399.8 1004.5,400.7 1010.5,401.2 1016.5,401.8 1022.5,402.2 1028.5,402 1034.5,401.5 1040.5,400.8 1046.5,400.1 1052.5,399.5 1058.5,399.1 1064.5,398.7 1070.5,398.4 1076.5,398.2 1082.5,397.9 1088.5,397.5 1094.5,397 1100.5,396.5 1106.5,396 1112.5,395.5 1118.5,394.9 1124.5,394.3 1130.5,393.5 1136.5,392.7 1142.5,391.9 1148.5,391.1 1154.5,390.1 1160.5,388.7 1166.5,387.3 1172.5,385.6 1178.5,383.7 1184.5,381.8 1190.5,379.9 1196.5,378.5 1202.5,377 1208.5,375.4 1214.5,374.3 1220.5,373.5 1226.5,373.4 1232.5,373.5 1233.6,373.5 1234,366.8 1238.5,364.9 1244.5,362.5 1250.5,360.2 1256.5,358.5 1262.5,356.7 1268.5,356.1 1274.5,355.7 1280.5,355.3 1286.5,354.9 1292.5,354 1298.5,353 1304.5,351.9 1310.5,350.7 1316.5,349.5 1322.5,348.3 1328.5,347.2 1334.5,346 1340.5,345.1 1346.5,344.4 1352.5,343.6 1358.5,343.2 1364.5,343.2 1370.5,344.5 1376.5,346.9 1382.5,351.9 1388.5,355.6 1394.5,357.9 1400.5,359.9 1406.5,362.1 1412.5,364.3 1418.5,366.5 1424.5,368.5 1430.5,370 1436.5,371.5 1442.5,373 1448.5,374.9 1454.5,377.3 1460.5,379.6 1466.5,382 1472.5,384.1 1478.5,386.2 1484.5,388.4 1490.5,390.9 1496.5,393.9 1502.5,398.9 1508.5,403.7 1514.5,407.2 1520.5,410.6 1526.5,413.9 1532.5,417.1 1538.5,421.1 1544.5,423 1550.5,424.9 1556.5,426.3 1562.5,427.7 1568.5,428.9 1574.5,430.1 1580.5,431.3 1586.5,432.4 1592.5,433.5 1598.5,434.4 1604.5,435.3 1610.5,436.2 1616.5,437.1 1622.5,437.7 1628.5,438.1 1634.5,438.6 1640.5,439 1646.5,439.4 1652.5,439.6 1658.5,439.4 1664.5,439 1670.5,438.6 1676.5,438.1 1682.5,437.6 1688.5,437.9 1694.5,438.3 1700.5,438.8 1706.5,439.3 1712.5,439.9 1718.5,440.6 1724.5,441.3 1728,441.7 1728,600 902.5,600" fill="url(#g2_14)"/><polygon points="902.5,396.9 908.5,397.4 914.5,398 920.5,398.8 926.5,399.2 932.5,398.8 938.5,398.4 944.5,398.1 950.5,398.2 956.5,398.4 962.5,398.5 968.5,399.2 974.5,400.4 980.5,401.6 986.5,402.8 992.5,403.7 998.5,404.6 1004.5,405.5 1010.5,406.1 1016.5,406.7 1022.5,407.2 1028.5,407 1034.5,406.5 1040.5,405.7 1046.5,405 1052.5,404.4 1058.5,404 1064.5,403.6 1070.5,403.3 1076.5,403 1082.5,402.7 1088.5,402.3 1094.5,401.8 1100.5,401.2 1106.5,400.7 1112.5,400.1 1118.5,399.6 1124.5,398.9 1130.5,398.1 1136.5,397.2 1142.5,396.4 1148.5,395.6 1154.5,394.6 1160.5,393.1 1166.5,391.7 1172.5,389.8 1178.5,387.8 1184.5,385.8 1190.5,383.8 1196.5,382.2 1202.5,380.7 1208.5,379.1 1214.5,378.1 1220.5,377.4 1226.5,377.3 1232.5,377.5 1233.6,377.6 1234,370.4 1238.5,368.5 1244.5,365.9 1250.5,363.5 1256.5,361.7 1262.5,359.9 1268.5,359.3 1274.5,358.8 1280.5,358.5 1286.5,358.1 1292.5,357.1 1298.5,356.1 1304.5,355.1 1310.5,353.8 1316.5,352.5 1322.5,351.3 1328.5,350.1 1334.5,348.8 1340.5,347.9 1346.5,347.1 1352.5,346.4 1358.5,345.8 1364.5,345.8 1370.5,347.1 1376.5,349.6 1382.5,354.7 1388.5,358.4 1394.5,360.7 1400.5,362.9 1406.5,365.2 1412.5,367.5 1418.5,369.8 1424.5,371.9 1430.5,373.4 1436.5,375 1442.5,376.5 1448.5,378.6 1454.5,381.1 1460.5,383.5 1466.5,386 1472.5,388.2 1478.5,390.4 1484.5,392.6 1490.5,395.3 1496.5,398.4 1502.5,403.6 1508.5,408.7 1514.5,412.2 1520.5,415.7 1526.5,419 1532.5,422.3 1538.5,426.5 1544.5,428.3 1550.5,430.1 1556.5,431.6 1562.5,433 1568.5,434.3 1574.5,435.5 1580.5,436.7 1586.5,437.9 1592.5,439.1 1598.5,440 1604.5,440.9 1610.5,441.8 1616.5,442.7 1622.5,443.3 1628.5,443.7 1634.5,444.1 1640.5,444.6 1646.5,444.9 1652.5,445.2 1658.5,444.9 1664.5,444.6 1670.5,444.1 1676.5,443.6 1682.5,443.1 1688.5,443.5 1694.5,444 1700.5,444.5 1706.5,445.1 1712.5,445.7 1718.5,446.5 1724.5,447.3 1728,447.8 1728,600 902.5,600" fill="url(#g2_15)"/><polygon points="902.5,401.6 908.5,402.1 914.5,402.6 920.5,403.5 926.5,403.9 932.5,403.5 938.5,403 944.5,402.7 950.5,402.8 956.5,402.9 962.5,403 968.5,403.8 974.5,405 980.5,406.3 986.5,407.5 992.5,408.5 998.5,409.4 1004.5,410.3 1010.5,411 1016.5,411.7 1022.5,412.2 1028.5,412 1034.5,411.5 1040.5,410.7 1046.5,409.9 1052.5,409.3 1058.5,408.8 1064.5,408.4 1070.5,408.1 1076.5,407.8 1082.5,407.5 1088.5,407.1 1094.5,406.5 1100.5,405.9 1106.5,405.4 1112.5,404.8 1118.5,404.2 1124.5,403.5 1130.5,402.7 1136.5,401.8 1142.5,401 1148.5,400.2 1154.5,399 1160.5,397.5 1166.5,396 1172.5,394 1178.5,391.9 1184.5,389.7 1190.5,387.7 1196.5,386 1202.5,384.4 1208.5,382.8 1214.5,381.9 1220.5,381.3 1226.5,381.3 1232.5,381.6 1233.6,381.6 1234,374 1238.5,372 1244.5,369.3 1250.5,366.8 1256.5,364.9 1262.5,363 1268.5,362.4 1274.5,362 1280.5,361.6 1286.5,361.3 1292.5,360.3 1298.5,359.3 1304.5,358.2 1310.5,356.9 1316.5,355.5 1322.5,354.2 1328.5,353 1334.5,351.7 1340.5,350.7 1346.5,349.9 1352.5,349.1 1358.5,348.5 1364.5,348.5 1370.5,349.8 1376.5,352.4 1382.5,357.5 1388.5,361.2 1394.5,363.6 1400.5,365.9 1406.5,368.3 1412.5,370.7 1418.5,373.1 1424.5,375.3 1430.5,376.9 1436.5,378.5 1442.5,380.1 1448.5,382.3 1454.5,384.9 1460.5,387.4 1466.5,390 1472.5,392.3 1478.5,394.6 1484.5,396.9 1490.5,399.6 1496.5,402.9 1502.5,408.4 1508.5,413.7 1514.5,417.2 1520.5,420.8 1526.5,424.2 1532.5,427.6 1538.5,431.8 1544.5,433.6 1550.5,435.4 1556.5,436.9 1562.5,438.4 1568.5,439.7 1574.5,441 1580.5,442.2 1586.5,443.4 1592.5,444.6 1598.5,445.5 1604.5,446.5 1610.5,447.4 1616.5,448.3 1622.5,448.9 1628.5,449.3 1634.5,449.7 1640.5,450.1 1646.5,450.5 1652.5,450.7 1658.5,450.5 1664.5,450.1 1670.5,449.6 1676.5,449.1 1682.5,448.6 1688.5,449.1 1694.5,449.6 1700.5,450.2 1706.5,450.9 1712.5,451.6 1718.5,452.5 1724.5,453.3 1728,453.8 1728,600 902.5,600" fill="url(#g2_16)"/><polygon points="902.5,406.2 908.5,406.8 914.5,407.3 920.5,408.2 926.5,408.7 932.5,408.2 938.5,407.7 944.5,407.3 950.5,407.3 956.5,407.4 962.5,407.5 968.5,408.3 974.5,409.6 980.5,410.9 986.5,412.2 992.5,413.2 998.5,414.2 1004.5,415.2 1010.5,415.9 1016.5,416.6 1022.5,417.2 1028.5,417 1034.5,416.5 1040.5,415.6 1046.5,414.8 1052.5,414.2 1058.5,413.7 1064.5,413.2 1070.5,412.9 1076.5,412.6 1082.5,412.3 1088.5,411.9 1094.5,411.3 1100.5,410.7 1106.5,410 1112.5,409.4 1118.5,408.8 1124.5,408.1 1130.5,407.2 1136.5,406.4 1142.5,405.5 1148.5,404.7 1154.5,403.5 1160.5,401.9 1166.5,400.3 1172.5,398.2 1178.5,396 1184.5,393.7 1190.5,391.5 1196.5,389.8 1202.5,388 1208.5,386.5 1214.5,385.7 1220.5,385.1 1226.5,385.2 1232.5,385.6 1233.6,385.7 1234,377.6 1238.5,375.5 1244.5,372.7 1250.5,370.1 1256.5,368.1 1262.5,366.1 1268.5,365.6 1274.5,365.2 1280.5,364.8 1286.5,364.5 1292.5,363.5 1298.5,362.4 1304.5,361.3 1310.5,359.9 1316.5,358.6 1322.5,357.2 1328.5,355.9 1334.5,354.6 1340.5,353.5 1346.5,352.7 1352.5,351.8 1358.5,351.1 1364.5,351.1 1370.5,352.4 1376.5,355.1 1382.5,360.2 1388.5,364 1394.5,366.5 1400.5,368.8 1406.5,371.3 1412.5,373.8 1418.5,376.4 1424.5,378.7 1430.5,380.4 1436.5,382 1442.5,383.7 1448.5,386 1454.5,388.7 1460.5,391.4 1466.5,394 1472.5,396.4 1478.5,398.8 1484.5,401.2 1490.5,404 1496.5,407.4 1502.5,413.1 1508.5,418.7 1514.5,422.3 1520.5,425.9 1526.5,429.3 1532.5,432.8 1538.5,437.1 1544.5,438.9 1550.5,440.7 1556.5,442.2 1562.5,443.8 1568.5,445.1 1574.5,446.4 1580.5,447.7 1586.5,449 1592.5,450.1 1598.5,451.1 1604.5,452.1 1610.5,453 1616.5,454 1622.5,454.5 1628.5,454.9 1634.5,455.3 1640.5,455.7 1646.5,456 1652.5,456.3 1658.5,456 1664.5,455.6 1670.5,455.1 1676.5,454.6 1682.5,454.1 1688.5,454.6 1694.5,455.3 1700.5,456 1706.5,456.7 1712.5,457.5 1718.5,458.4 1724.5,459.3 1728,459.8 1728,600 902.5,600" fill="url(#g2_17)"/><polygon points="902.5,410.8 908.5,411.4 914.5,412 920.5,412.9 926.5,413.4 932.5,412.8 938.5,412.3 944.5,411.9 950.5,411.9 956.5,411.9 962.5,412 968.5,412.8 974.5,414.2 980.5,415.6 986.5,416.9 992.5,418 998.5,419 1004.5,420 1010.5,420.8 1016.5,421.6 1022.5,422.3 1028.5,422 1034.5,421.5 1040.5,420.6 1046.5,419.7 1052.5,419 1058.5,418.6 1064.5,418.1 1070.5,417.7 1076.5,417.4 1082.5,417.1 1088.5,416.7 1094.5,416 1100.5,415.4 1106.5,414.7 1112.5,414.1 1118.5,413.5 1124.5,412.7 1130.5,411.8 1136.5,410.9 1142.5,410.1 1148.5,409.2 1154.5,408 1160.5,406.3 1166.5,404.7 1172.5,402.5 1178.5,400.1 1184.5,397.7 1190.5,395.4 1196.5,393.5 1202.5,391.7 1208.5,390.3 1214.5,389.6 1220.5,389 1226.5,389.2 1232.5,389.7 1233.6,389.8 1234,381.2 1238.5,379 1244.5,376.1 1250.5,373.4 1256.5,371.3 1262.5,369.3 1268.5,368.8 1274.5,368.4 1280.5,368 1286.5,367.7 1292.5,366.7 1298.5,365.5 1304.5,364.4 1310.5,363 1316.5,361.6 1322.5,360.2 1328.5,358.8 1334.5,357.4 1340.5,356.3 1346.5,355.4 1352.5,354.5 1358.5,353.8 1364.5,353.7 1370.5,355.1 1376.5,357.8 1382.5,363 1388.5,366.8 1394.5,369.3 1400.5,371.8 1406.5,374.4 1412.5,377 1418.5,379.7 1424.5,382.1 1430.5,383.8 1436.5,385.6 1442.5,387.3 1448.5,389.7 1454.5,392.5 1460.5,395.3 1466.5,398 1472.5,400.5 1478.5,403 1484.5,405.4 1490.5,408.3 1496.5,411.8 1502.5,417.8 1508.5,423.6 1514.5,427.3 1520.5,431 1526.5,434.5 1532.5,438 1538.5,442.5 1544.5,444.2 1550.5,446 1556.5,447.6 1562.5,449.1 1568.5,450.5 1574.5,451.8 1580.5,453.1 1586.5,454.5 1592.5,455.7 1598.5,456.7 1604.5,457.6 1610.5,458.6 1616.5,459.6 1622.5,460.1 1628.5,460.5 1634.5,460.8 1640.5,461.2 1646.5,461.6 1652.5,461.8 1658.5,461.5 1664.5,461.1 1670.5,460.6 1676.5,460.1 1682.5,459.6 1688.5,460.2 1694.5,460.9 1700.5,461.7 1706.5,462.5 1712.5,463.4 1718.5,464.3 1724.5,465.3 1728,465.8 1728,600 902.5,600" fill="url(#g2_18)"/><polygon points="902.5,415.5 908.5,416.1 914.5,416.7 920.5,417.7 926.5,418.1 932.5,417.5 938.5,416.9 944.5,416.4 950.5,416.4 956.5,416.5 962.5,416.5 968.5,417.4 974.5,418.8 980.5,420.2 986.5,421.7 992.5,422.7 998.5,423.8 1004.5,424.9 1010.5,425.7 1016.5,426.6 1022.5,427.3 1028.5,427 1034.5,426.5 1040.5,425.5 1046.5,424.6 1052.5,423.9 1058.5,423.4 1064.5,422.9 1070.5,422.6 1076.5,422.2 1082.5,421.9 1088.5,421.4 1094.5,420.8 1100.5,420.1 1106.5,419.4 1112.5,418.8 1118.5,418.1 1124.5,417.3 1130.5,416.4 1136.5,415.5 1142.5,414.6 1148.5,413.7 1154.5,412.5 1160.5,410.7 1166.5,409 1172.5,406.7 1178.5,404.2 1184.5,401.7 1190.5,399.2 1196.5,397.3 1202.5,395.4 1208.5,394 1214.5,393.4 1220.5,392.9 1226.5,393.1 1232.5,393.7 1233.6,393.8 1234,384.8 1238.5,382.5 1244.5,379.5 1250.5,376.7 1256.5,374.5 1262.5,372.4 1268.5,371.9 1274.5,371.6 1280.5,371.2 1286.5,370.9 1292.5,369.8 1298.5,368.7 1304.5,367.5 1310.5,366 1316.5,364.6 1322.5,363.1 1328.5,361.7 1334.5,360.3 1340.5,359.2 1346.5,358.2 1352.5,357.2 1358.5,356.4 1364.5,356.3 1370.5,357.7 1376.5,360.6 1382.5,365.8 1388.5,369.6 1394.5,372.2 1400.5,374.8 1406.5,377.5 1412.5,380.2 1418.5,383 1424.5,385.5 1430.5,387.3 1436.5,389.1 1442.5,390.9 1448.5,393.4 1454.5,396.3 1460.5,399.2 1466.5,402 1472.5,404.6 1478.5,407.1 1484.5,409.7 1490.5,412.7 1496.5,416.3 1502.5,422.6 1508.5,428.6 1514.5,432.4 1520.5,436.1 1526.5,439.7 1532.5,443.2 1538.5,447.8 1544.5,449.5 1550.5,451.2 1556.5,452.9 1562.5,454.5 1568.5,455.9 1574.5,457.3 1580.5,458.6 1586.5,460 1592.5,461.2 1598.5,462.2 1604.5,463.2 1610.5,464.2 1616.5,465.2 1622.5,465.7 1628.5,466.1 1634.5,466.4 1640.5,466.8 1646.5,467.1 1652.5,467.4 1658.5,467.1 1664.5,466.6 1670.5,466.1 1676.5,465.6 1682.5,465.1 1688.5,465.8 1694.5,466.6 1700.5,467.4 1706.5,468.3 1712.5,469.3 1718.5,470.3 1724.5,471.3 1728,471.9 1728,600 902.5,600" fill="url(#g2_19)"/></g>
<polyline points="902.5,327.4 908.5,327.6 914.5,327.8 920.5,328.1 926.5,328.3 932.5,328.7 938.5,329.1 944.5,329.6 950.5,330 956.5,330.4 962.5,330.8 968.5,331.2 974.5,331.5 980.5,331.8 986.5,332.1 992.5,332.4 998.5,332.7 1004.5,332.8 1010.5,332.6 1016.5,332.4 1022.5,332.1 1028.5,331.9 1034.5,331.6 1040.5,331.5 1046.5,331.3 1052.5,331.2 1058.5,331.1 1064.5,331 1070.5,330.9 1076.5,330.8 1082.5,330.7 1088.5,330.6 1094.5,330.5 1100.5,330.4 1106.5,330.3 1112.5,330.2 1118.5,330.2 1124.5,329.9 1130.5,329.3 1136.5,328.7 1142.5,328.2 1148.5,327.8 1154.5,327.5 1160.5,327.1 1166.5,326.7 1172.5,326.5 1178.5,326.3 1184.5,326.1 1190.5,325.9 1196.5,325.7 1202.5,325.5 1208.5,323.3 1214.5,320.7 1220.5,319.4 1226.5,318.1 1232.5,316.8 1233.6,316.6 1234,316.5 1238.5,315.8 1244.5,315 1250.5,314.2 1256.5,313.4 1262.5,312.7 1268.5,311.9 1274.5,311.1 1280.5,310.6 1286.5,310.1 1292.5,309.5 1298.5,309 1304.5,308.4 1310.5,307.9 1316.5,307.4 1322.5,306.9 1328.5,306.4 1334.5,305.9 1340.5,305.8 1346.5,305.8 1352.5,305.8 1358.5,306.1 1364.5,306.8 1370.5,307.4 1376.5,308.6 1382.5,312.9 1388.5,316.4 1394.5,317.8 1400.5,318.4 1406.5,319 1412.5,319.6 1418.5,320.2 1424.5,320.8 1430.5,321.4 1436.5,322 1442.5,322.6 1448.5,323.2 1454.5,324.1 1460.5,325 1466.5,325.9 1472.5,326.8 1478.5,327.7 1484.5,328.7 1490.5,330 1496.5,331.2 1502.5,332.5 1508.5,334 1514.5,336.6 1520.5,339.1 1526.5,341.6 1532.5,344.1 1538.5,346.4 1544.5,348.7 1550.5,351 1556.5,351.7 1562.5,352.5 1568.5,353.2 1574.5,353.9 1580.5,354.6 1586.5,355.4 1592.5,356 1598.5,356.6 1604.5,357.2 1610.5,357.8 1616.5,358.4 1622.5,359.1 1628.5,359.9 1634.5,360.6 1640.5,361.3 1646.5,361.9 1652.5,361.9 1658.5,361.9 1664.5,361.9 1670.5,361.5 1676.5,360.9 1682.5,360.3 1688.5,359.8 1694.5,359.2 1700.5,358.6 1706.5,358.1 1712.5,357.5 1718.5,357.4 1724.5,357.3 1728,357.3" fill="none" stroke="#111" stroke-width="1"/>
<polyline points="902.5,420.1 908.5,420.7 914.5,421.3 920.5,422.4 926.5,422.8 932.5,422.2 938.5,421.5 944.5,421 950.5,421 956.5,421 962.5,421 968.5,421.9 974.5,423.4 980.5,424.9 986.5,426.4 992.5,427.5 998.5,428.6 1004.5,429.7 1010.5,430.6 1016.5,431.5 1022.5,432.3 1028.5,432 1034.5,431.5 1040.5,430.5 1046.5,429.5 1052.5,428.8 1058.5,428.3 1064.5,427.8 1070.5,427.4 1076.5,427 1082.5,426.7 1088.5,426.2 1094.5,425.5 1100.5,424.8 1106.5,424.1 1112.5,423.4 1118.5,422.7 1124.5,421.9 1130.5,421 1136.5,420.1 1142.5,419.2 1148.5,418.2 1154.5,416.9 1160.5,415.1 1166.5,413.3 1172.5,410.9 1178.5,408.3 1184.5,405.7 1190.5,403.1 1196.5,401.1 1202.5,399.1 1208.5,397.7 1214.5,397.2 1220.5,396.8 1226.5,397.1 1232.5,397.8 1233.6,397.9 1234,388.3 1238.5,386 1244.5,382.9 1250.5,379.9 1256.5,377.8 1262.5,375.6 1268.5,375.1 1274.5,374.7 1280.5,374.4 1286.5,374.1 1292.5,373 1298.5,371.8 1304.5,370.6 1310.5,369.1 1316.5,367.6 1322.5,366.1 1328.5,364.6 1334.5,363.1 1340.5,362 1346.5,360.9 1352.5,359.9 1358.5,359.1 1364.5,358.9 1370.5,360.4 1376.5,363.3 1382.5,368.6 1388.5,372.4 1394.5,375.1 1400.5,377.7 1406.5,380.6 1412.5,383.4 1418.5,386.3 1424.5,388.9 1430.5,390.8 1436.5,392.6 1442.5,394.5 1448.5,397.1 1454.5,400.1 1460.5,403.1 1466.5,406 1472.5,408.7 1478.5,411.3 1484.5,414 1490.5,417.1 1496.5,420.8 1502.5,427.3 1508.5,433.6 1514.5,437.4 1520.5,441.2 1526.5,444.8 1532.5,448.4 1538.5,453.1 1544.5,454.8 1550.5,456.5 1556.5,458.2 1562.5,459.9 1568.5,461.3 1574.5,462.7 1580.5,464.1 1586.5,465.5 1592.5,466.8 1598.5,467.8 1604.5,468.8 1610.5,469.8 1616.5,470.8 1622.5,471.3 1628.5,471.7 1634.5,472 1640.5,472.3 1646.5,472.6 1652.5,473 1658.5,472.6 1664.5,472.1 1670.5,471.6 1676.5,471.1 1682.5,470.7 1688.5,471.4 1694.5,472.3 1700.5,473.1 1706.5,474.1 1712.5,475.1 1718.5,476.2 1724.5,477.3 1728,477.9" fill="none" stroke="#111" stroke-width="1"/>
<polyline points="1274.4,55 1274,120 1273.9,179 1274.6,240 1275.5,290 1276.6,360 1277.4,414" fill="none" stroke="#111" stroke-width="1.5"/>
<polyline points="1322.2,55 1322.6,120 1323.2,150 1326,185 1331,235 1336.8,280 1341.5,330 1345.2,369" fill="none" stroke="#111" stroke-width="1.5"/>
<rect x="897.2" y="55.5" width="841.9" height="476.4" fill="none" stroke="#b8242c" stroke-width="1.6"/>
<path d="M903 54.9v-2.2M903 532.5v2.2M917.2 54.9v-5.5M917.2 532.5v5.5M931.5 54.9v-2.2M931.5 532.5v2.2M945.7 54.9v-2.2M945.7 532.5v2.2M960 54.9v-2.2M960 532.5v2.2M974.2 54.9v-2.2M974.2 532.5v2.2M988.5 54.9v-5.5M988.5 532.5v5.5M1002.8 54.9v-2.2M1002.8 532.5v2.2M1017 54.9v-2.2M1017 532.5v2.2M1031.3 54.9v-2.2M1031.3 532.5v2.2M1045.5 54.9v-2.2M1045.5 532.5v2.2M1059.8 54.9v-5.5M1059.8 532.5v5.5M1074 54.9v-2.2M1074 532.5v2.2M1088.3 54.9v-2.2M1088.3 532.5v2.2M1102.6 54.9v-2.2M1102.6 532.5v2.2M1116.8 54.9v-2.2M1116.8 532.5v2.2M1131.1 54.9v-5.5M1131.1 532.5v5.5M1145.3 54.9v-2.2M1145.3 532.5v2.2M1159.6 54.9v-2.2M1159.6 532.5v2.2M1173.9 54.9v-2.2M1173.9 532.5v2.2M1188.1 54.9v-2.2M1188.1 532.5v2.2M1202.4 54.9v-5.5M1202.4 532.5v5.5M1216.6 54.9v-2.2M1216.6 532.5v2.2M1230.9 54.9v-2.2M1230.9 532.5v2.2M1245.1 54.9v-2.2M1245.1 532.5v2.2M1259.4 54.9v-2.2M1259.4 532.5v2.2M1273.7 54.9v-5.5M1273.7 532.5v5.5M1287.9 54.9v-2.2M1287.9 532.5v2.2M1302.2 54.9v-2.2M1302.2 532.5v2.2M1316.4 54.9v-2.2M1316.4 532.5v2.2M1330.7 54.9v-2.2M1330.7 532.5v2.2M1345 54.9v-5.5M1345 532.5v5.5M1359.2 54.9v-2.2M1359.2 532.5v2.2M1373.5 54.9v-2.2M1373.5 532.5v2.2M1387.7 54.9v-2.2M1387.7 532.5v2.2M1402 54.9v-2.2M1402 532.5v2.2M1416.2 54.9v-5.5M1416.2 532.5v5.5M1430.5 54.9v-2.2M1430.5 532.5v2.2M1444.8 54.9v-2.2M1444.8 532.5v2.2M1459 54.9v-2.2M1459 532.5v2.2M1473.3 54.9v-2.2M1473.3 532.5v2.2M1487.5 54.9v-5.5M1487.5 532.5v5.5M1501.8 54.9v-2.2M1501.8 532.5v2.2M1516 54.9v-2.2M1516 532.5v2.2M1530.3 54.9v-2.2M1530.3 532.5v2.2M1544.6 54.9v-2.2M1544.6 532.5v2.2M1558.8 54.9v-5.5M1558.8 532.5v5.5M1573.1 54.9v-2.2M1573.1 532.5v2.2M1587.3 54.9v-2.2M1587.3 532.5v2.2M1601.6 54.9v-2.2M1601.6 532.5v2.2M1615.9 54.9v-2.2M1615.9 532.5v2.2M1630.1 54.9v-5.5M1630.1 532.5v5.5M1644.4 54.9v-2.2M1644.4 532.5v2.2M1658.6 54.9v-2.2M1658.6 532.5v2.2M1672.9 54.9v-2.2M1672.9 532.5v2.2M1687.1 54.9v-2.2M1687.1 532.5v2.2M1701.4 54.9v-5.5M1701.4 532.5v5.5M1715.7 54.9v-2.2M1715.7 532.5v2.2M1729.9 54.9v-2.2M1729.9 532.5v2.2M896.6 62h-2.2M1739.7 62h2.2M896.6 71.1h-2.2M1739.7 71.1h2.2M896.6 80.1h-5.5M1739.7 80.1h5.5M896.6 89.1h-2.2M1739.7 89.1h2.2M896.6 98.2h-2.2M1739.7 98.2h2.2M896.6 107.2h-2.2M1739.7 107.2h2.2M896.6 116.3h-2.2M1739.7 116.3h2.2M896.6 125.3h-5.5M1739.7 125.3h5.5M896.6 134.3h-2.2M1739.7 134.3h2.2M896.6 143.4h-2.2M1739.7 143.4h2.2M896.6 152.4h-2.2M1739.7 152.4h2.2M896.6 161.5h-2.2M1739.7 161.5h2.2M896.6 170.5h-5.5M1739.7 170.5h5.5M896.6 179.5h-2.2M1739.7 179.5h2.2M896.6 188.6h-2.2M1739.7 188.6h2.2M896.6 197.6h-2.2M1739.7 197.6h2.2M896.6 206.6h-2.2M1739.7 206.6h2.2M896.6 215.7h-5.5M1739.7 215.7h5.5M896.6 224.7h-2.2M1739.7 224.7h2.2M896.6 233.8h-2.2M1739.7 233.8h2.2M896.6 242.8h-2.2M1739.7 242.8h2.2M896.6 251.8h-2.2M1739.7 251.8h2.2M896.6 260.9h-5.5M1739.7 260.9h5.5M896.6 269.9h-2.2M1739.7 269.9h2.2M896.6 278.9h-2.2M1739.7 278.9h2.2M896.6 288h-2.2M1739.7 288h2.2M896.6 297h-2.2M1739.7 297h2.2M896.6 306.1h-5.5M1739.7 306.1h5.5M896.6 315.1h-2.2M1739.7 315.1h2.2M896.6 324.1h-2.2M1739.7 324.1h2.2M896.6 333.2h-2.2M1739.7 333.2h2.2M896.6 342.2h-2.2M1739.7 342.2h2.2M896.6 351.2h-5.5M1739.7 351.2h5.5M896.6 360.3h-2.2M1739.7 360.3h2.2M896.6 369.3h-2.2M1739.7 369.3h2.2M896.6 378.4h-2.2M1739.7 378.4h2.2M896.6 387.4h-2.2M1739.7 387.4h2.2M896.6 396.4h-5.5M1739.7 396.4h5.5M896.6 405.5h-2.2M1739.7 405.5h2.2M896.6 414.5h-2.2M1739.7 414.5h2.2M896.6 423.5h-2.2M1739.7 423.5h2.2M896.6 432.6h-2.2M1739.7 432.6h2.2M896.6 441.6h-5.5M1739.7 441.6h5.5M896.6 450.7h-2.2M1739.7 450.7h2.2M896.6 459.7h-2.2M1739.7 459.7h2.2M896.6 468.7h-2.2M1739.7 468.7h2.2M896.6 477.8h-2.2M1739.7 477.8h2.2M896.6 486.8h-5.5M1739.7 486.8h5.5M896.6 495.8h-2.2M1739.7 495.8h2.2M896.6 504.9h-2.2M1739.7 504.9h2.2M896.6 513.9h-2.2M1739.7 513.9h2.2M896.6 523h-2.2M1739.7 523h2.2" stroke="#111" stroke-width="1.4" fill="none"/>
<text class="tl" x="988.5" y="44.5" text-anchor="middle">-20000</text>
<text class="tl" x="988.5" y="554.4" text-anchor="middle">-20000</text>
<text class="tl" x="1131.1" y="44.5" text-anchor="middle">-16000</text>
<text class="tl" x="1131.1" y="554.4" text-anchor="middle">-16000</text>
<text class="tl" x="1273.7" y="44.5" text-anchor="middle">-12000</text>
<text class="tl" x="1273.7" y="554.4" text-anchor="middle">-12000</text>
<text class="tl" x="1416.2" y="44.5" text-anchor="middle">-8000</text>
<text class="tl" x="1416.2" y="554.4" text-anchor="middle">-8000</text>
<text class="tl" x="1558.8" y="44.5" text-anchor="middle">-4000</text>
<text class="tl" x="1558.8" y="554.4" text-anchor="middle">-4000</text>
<text class="tl" x="1701.4" y="44.5" text-anchor="middle">0</text>
<text class="tl" x="1701.4" y="554.4" text-anchor="middle">0</text>
<text class="tl" transform="translate(887.9,125.3) rotate(-90)" text-anchor="middle">-1600</text>
<text class="tl" transform="translate(1750.4,125.3) rotate(90)" text-anchor="middle">-1600</text>
<text class="tl" transform="translate(887.9,215.7) rotate(-90)" text-anchor="middle">-2400</text>
<text class="tl" transform="translate(1750.4,215.7) rotate(90)" text-anchor="middle">-2400</text>
<text class="tl" transform="translate(887.9,306.1) rotate(-90)" text-anchor="middle">-3200</text>
<text class="tl" transform="translate(1750.4,306.1) rotate(90)" text-anchor="middle">-3200</text>
<text class="tl" transform="translate(887.9,396.4) rotate(-90)" text-anchor="middle">-4000</text>
<text class="tl" transform="translate(1750.4,396.4) rotate(90)" text-anchor="middle">-4000</text>
<text class="tl" transform="translate(887.9,486.8) rotate(-90)" text-anchor="middle">-4800</text>
<text class="tl" transform="translate(1750.4,486.8) rotate(90)" text-anchor="middle">-4800</text>
<path d="M1267.1 55L1270.7 29.5L1277.9 29.5L1281.5 55Z" fill="#fff" stroke="#111" stroke-width="1.2"/><path d="M1274.3 29.5L1274.3 55M1270.7 29.5L1278.9 36.5M1277.9 29.5L1269.7 36.5M1269.7 36.5H1278.9M1269.7 36.5L1280 44.5M1278.9 36.5L1268.6 44.5M1268.6 44.5H1280M1268.6 44.5L1281.5 55M1280 44.5L1267.1 55M1267.1 55H1281.5" stroke="#111" stroke-width="0.9" fill="none"/><path d="M1268.9 30.3L1271.1 27.3L1277.5 27.3L1279.7 30.3Z" fill="#111"/><path d="M1274.3 19.3v7M1270.3 22.1l8 3M1278.3 22.1l-8 3" stroke="#111" stroke-width="1" fill="none"/>
<path d="M1314.9 55L1318.5 29.5L1325.7 29.5L1329.3 55Z" fill="#fff" stroke="#111" stroke-width="1.2"/><path d="M1322.1 29.5L1322.1 55M1318.5 29.5L1326.7 36.5M1325.7 29.5L1317.5 36.5M1317.5 36.5H1326.7M1317.5 36.5L1327.8 44.5M1326.7 36.5L1316.4 44.5M1316.4 44.5H1327.8M1316.4 44.5L1329.3 55M1327.8 44.5L1314.9 55M1314.9 55H1329.3" stroke="#111" stroke-width="0.9" fill="none"/><path d="M1316.7 30.3L1318.9 27.3L1325.3 27.3L1327.5 30.3Z" fill="#111"/><path d="M1322.1 19.3v7M1318.1 22.1l8 3M1326.1 22.1l-8 3" stroke="#111" stroke-width="1" fill="none"/>
<text class="wl" x="1255.5" y="11.9" textLength="37" lengthAdjust="spacingAndGlyphs">TNW-2</text>
<text class="wl" x="1300" y="10.9" textLength="45.5" lengthAdjust="spacingAndGlyphs">TNW-10</text>
<text class="ns" x="904.4" y="84.4">North</text>
<text class="ns" x="1731" y="84" text-anchor="end">South</text>
<rect x="1251.5" y="505.5" width="107.3" height="8" fill="#fff" stroke="#111" stroke-width="1"/><rect x="1252.3" y="505.5" width="7.2" height="8" fill="#000"/><rect x="1265.8" y="505.5" width="7.2" height="8" fill="#000"/><rect x="1280.1" y="505.5" width="7.2" height="8" fill="#000"/><rect x="1323.1" y="505.5" width="35.8" height="8" fill="#000"/><path d="M1251.5 505.5v-4M1287.3 505.5v-4M1323.1 505.5v-4M1358.8 505.5v-4" stroke="#111" stroke-width="1"/><text class="sb" x="1251.5" y="494.2" text-anchor="middle">0</text><text class="sb" x="1287.3" y="494.2" text-anchor="middle">1</text><text class="sb" x="1323.1" y="494.2" text-anchor="middle">2</text><text class="sb" x="1354.8" y="494.2">3km</text>
<path d="M1417.4 318.7V249H1455.4" fill="none" stroke="#f00" stroke-width="3"/><path d="M1429.9 235L1457.4 249L1429.9 263" fill="none" stroke="#f00" stroke-width="5" stroke-linejoin="miter"/><text class="ns" x="1464.9" y="289.2">Sidi Salem</text>
</g>
<rect x="54" y="1797.7" width="786.7" height="554.6" fill="#f0f0f0"/>
<polygon points="325.3,1838.3 715.8,1841.3 675.6,2141.5 372.4,2142" fill="#f5f5f5"/><polygon points="372.4,2142 675.6,2141.5 715.8,2305.1 318.5,2305.1" fill="#f5f5f5"/><polygon points="229.9,1930.5 325.3,1838.3 372.4,2142 318.5,2305.1" fill="#f5f5f5"/><polygon points="715.8,1841.3 788.2,1929.4 715.8,2305.1 675.6,2141.5" fill="#f5f5f5"/><path d="M325.3 1838.3L372.4 2142M364.8 1838.6L403 2142M404.2 1838.9L433.5 2141.9M443.4 1839.2L464 2141.9M482.6 1839.5L494.4 2141.8M521.7 1839.8L524.7 2141.8M560.7 1840.1L555 2141.7M599.6 1840.4L585.3 2141.7M638.4 1840.7L615.4 2141.6M677.2 1841L645.6 2141.6M715.8 1841.3L675.6 2141.5M325.3 1838.3L715.8 1841.3M330.7 1873L711.2 1875.5M335.8 1905.9L706.9 1908M340.7 1937.3L702.7 1939M345.3 1967.1L698.8 1968.5M349.7 1995.6L695 1996.6M353.9 2022.8L691.4 2023.5M358 2048.7L688 2049.2M361.8 2073.6L684.7 2073.7M365.5 2097.4L681.6 2097.3M369 2120.1L678.5 2119.9M372.4 2142L675.6 2141.5M372.4 2142L318.5 2305.1M402.7 2142L358.1 2305.1M432.9 2141.9L397.7 2305.1M463.2 2141.9L437.4 2305.1M493.5 2141.8L477.1 2305.1M523.8 2141.8L516.8 2305.1M554.1 2141.7L556.5 2305.1M584.5 2141.7L596.3 2305.1M614.8 2141.6L636.1 2305.1M645.2 2141.6L675.9 2305.1M675.6 2141.5L715.8 2305.1M372.4 2142L675.6 2141.5M368.2 2154.8L678.8 2154.3M363.8 2168.1L682.1 2167.7M359.1 2182.2L685.5 2181.8M354.2 2197L689.2 2196.7M349.1 2212.6L693 2212.3M343.6 2229.1L697.1 2228.8M337.9 2246.5L701.4 2246.3M331.8 2264.9L705.9 2264.7M325.4 2284.4L710.7 2284.3M318.5 2305.1L715.8 2305.1M229.9 1930.5L318.5 2305.1M243.1 1917.8L325.4 2284.3M255.2 1906.1L331.9 2264.7M266.3 1895.3L338 2246.2M276.6 1885.3L343.7 2228.8M286.2 1876.1L349.2 2212.4M295.1 1867.5L354.3 2196.8M303.4 1859.4L359.2 2182M311.2 1851.9L363.8 2168M318.5 1844.9L368.2 2154.7M325.3 1838.3L372.4 2142M229.9 1930.5L325.3 1838.3M240.7 1976.1L330.6 1872.5M250.7 2018.6L335.7 1905M260.2 2058.5L340.5 1936.1M269 2096L345.1 1965.8M277.4 2131.2L349.5 1994.3M285.2 2164.4L353.7 2021.5M292.6 2195.7L357.8 2047.6M299.6 2225.3L361.7 2072.6M306.2 2253.3L365.4 2096.7M312.5 2279.9L369 2119.8M318.5 2305.1L372.4 2142M715.8 1841.3L675.6 2141.5M721 1847.6L678.7 2154.1M726.5 1854.3L682 2167.4M732.4 1861.4L685.4 2181.4M738.6 1869.1L689.1 2196.2M745.4 1877.3L692.9 2211.8M752.7 1886.2L696.9 2228.3M760.5 1895.7L701.2 2245.8M769 1906L705.8 2264.3M778.2 1917.2L710.6 2284.1M788.2 1929.4L715.8 2305.1M715.8 1841.3L788.2 1929.4M711.3 1874.6L779.6 1974.3M707.1 1906.4L771.4 2016.4M703 1936.9L763.8 2056.1M699.1 1966.2L756.6 2093.5M695.3 1994.3L749.8 2128.8M691.7 2021.2L743.3 2162.1M688.3 2047.2L737.3 2193.8M684.9 2072.1L731.5 2223.7M681.7 2096.1L726 2252.2M678.6 2119.2L720.8 2279.3M675.6 2141.5L715.8 2305.1" stroke="#c9c9c9" stroke-width="0.9" fill="none"/><polygon points="286,1892.5 746.4,1896.1 696.3,2220.8 345.5,2217" fill="#b6d6e6" fill-opacity="0.76"/><polygon points="286,1892.5 746.4,1896.1 696.3,2220.8 345.5,2217" fill="none" stroke="#858585" stroke-width="2.6" stroke-linejoin="miter"/><g transform="matrix(0.9869,0,0,1.0,17,1780)"><polygon points="289.6,397.1 311.3,398.3 328.2,397.1 352.3,392.3 376.4,388.7 400.5,386.3 424.6,382.7 448.7,381.4 472.8,383.9 496.9,386.3 521,388.7 545,388.7 575.2,386.3 575.2,436.9 571.6,442.9 557.1,442.9 533,440.5 511.3,436.9 496.9,432 487.2,424.8 472.8,415.2 458.3,410.4 443.9,409.2 429.4,417.6 414.9,427.2 395.7,438.1 376.4,445.3 352.3,448.9 328.2,451.3 301.7,452.5 289.6,397.2" fill="#1440d8"/><g clip-path="url(#fc3)"><polygon points="290,397.1 294.8,397.4 299.7,397.7 304.5,397.9 309.3,398.2 314.2,398.1 319,397.8 323.8,397.4 328.7,397 333.5,396 338.3,395.1 343.2,394.1 348,393.2 352.8,392.2 357.7,391.5 362.5,390.8 367.3,390.1 372.2,389.3 377,388.6 381.8,388.2 386.7,387.7 391.5,387.2 396.3,386.7 401.2,386.2 406,385.5 410.8,384.8 415.7,384 420.5,383.3 425.3,382.7 430.2,382.4 435,382.1 439.9,381.9 444.7,381.6 449.5,381.5 454.4,382 459.2,382.5 464,383 468.9,383.5 473.7,384 478.5,384.5 483.4,385 488.2,385.4 493,385.9 497.9,386.4 502.7,386.9 507.5,387.4 512.4,387.8 517.2,388.3 522,388.7 526.9,388.7 531.7,388.7 536.5,388.7 541.4,388.7 546.2,388.6 551,388.2 555.9,387.8 560.7,387.5 565.5,387.1 570.4,386.7 575.2,386.3 575.2,391.4 570.4,392.3 565.5,392.7 560.7,393 555.9,393.3 551,393.6 546.2,393.9 541.4,394 536.5,393.9 531.7,393.9 526.9,393.8 522,393.7 517.2,393.3 512.4,392.8 507.5,392.2 502.7,391.6 497.9,391 493,390.2 488.2,389.4 483.4,388.7 478.5,387.9 473.7,387.2 468.9,386.5 464,385.9 459.2,385.3 454.4,384.8 449.5,384.3 444.7,384.4 439.9,384.8 435,385.4 430.2,385.9 425.3,386.4 420.5,387.3 415.7,388.3 410.8,389.2 406,390.2 401.2,391.1 396.3,391.8 391.5,392.4 386.7,393.1 381.8,393.7 377,394.3 372.2,395 367.3,395.7 362.5,396.4 357.7,397.2 352.8,397.9 348,398.8 343.2,399.7 338.3,400.6 333.5,401.5 328.7,402.4 323.8,402.8 319,403.1 314.2,403.5 309.3,403.6 304.5,403.4 299.7,403.1 294.8,402.9 290,402.7" fill="#18b8d8"/><polygon points="420,387.4 422.6,386.9 425.3,386.4 427.9,386.1 430.5,385.8 433.2,385.6 435.8,385.3 438.4,385 441,384.7 443.7,384.4 446.3,384.3 448.9,384.2 451.6,384.5 454.2,384.8 456.8,385 459.5,385.3 462.1,385.7 464.7,386 467.3,386.3 470,386.7 472.6,387 475.2,387.4 477.9,387.8 480.5,388.2 483.1,388.6 485.8,389.1 488.4,389.5 491,389.9 493.7,390.3 496.3,390.8 498.9,391.1 501.5,391.4 504.2,391.8 506.8,392.1 509.4,392.4 512.1,392.7 514.7,393 517.3,393.3 520,393.6 522.6,393.7 525.2,393.8 527.9,393.8 530.5,393.8 533.1,393.9 535.7,393.9 538.4,393.9 541,394 543.6,394 546.3,393.9 548.9,393.8 551.5,393.6 554.2,393.4 556.8,393.3 559.4,393.1 562,392.9 564.7,392.7 567.3,392.5 569.9,392.3 572.6,392 575.2,391.4 575.2,397.4 572.6,398.6 569.9,399.1 567.3,399.2 564.7,399.4 562,399.6 559.4,399.7 556.8,399.9 554.2,400 551.5,400.1 548.9,400.2 546.3,400.3 543.6,400.3 541,400.3 538.4,400.2 535.7,400.2 533.1,400.1 530.5,400 527.9,399.9 525.2,399.8 522.6,399.7 520,399.5 517.3,399.2 514.7,398.9 512.1,398.6 509.4,398.3 506.8,397.9 504.2,397.5 501.5,397.1 498.9,396.7 496.3,396.2 493.7,395.6 491,394.9 488.4,394.3 485.8,393.7 483.1,393.1 480.5,392.5 477.9,391.9 475.2,391.3 472.6,390.8 470,390.4 467.3,389.9 464.7,389.5 462.1,389.1 459.5,388.7 456.8,388.4 454.2,388.1 451.6,387.9 448.9,387.6 446.3,387.7 443.7,387.8 441,388.2 438.4,388.6 435.8,389.1 433.2,389.5 430.5,390 427.9,390.5 425.3,391 422.6,391.6 420,392.3" fill="#f05010"/><polygon points="420,392.3 422.6,391.6 425.3,391 427.9,390.5 430.5,390 433.2,389.5 435.8,389.1 438.4,388.6 441,388.2 443.7,387.8 446.3,387.7 448.9,387.6 451.6,387.9 454.2,388.1 456.8,388.4 459.5,388.7 462.1,389.1 464.7,389.5 467.3,389.9 470,390.4 472.6,390.8 475.2,391.3 477.9,391.9 480.5,392.5 483.1,393.1 485.8,393.7 488.4,394.3 491,394.9 493.7,395.6 496.3,396.2 498.9,396.7 501.5,397.1 504.2,397.5 506.8,397.9 509.4,398.3 512.1,398.6 514.7,398.9 517.3,399.2 520,399.5 522.6,399.7 525.2,399.8 527.9,399.9 530.5,400 533.1,400.1 535.7,400.2 538.4,400.2 541,400.3 543.6,400.3 546.3,400.3 548.9,400.2 551.5,400.1 554.2,400 556.8,399.9 559.4,399.7 562,399.6 564.7,399.4 567.3,399.2 569.9,399.1 572.6,398.6 575.2,397.4 575.2,400.5 572.6,401.8 569.9,402.4 567.3,402.6 564.7,402.8 562,402.9 559.4,403.1 556.8,403.2 554.2,403.3 551.5,403.3 548.9,403.4 546.3,403.5 543.6,403.5 541,403.4 538.4,403.4 535.7,403.3 533.1,403.2 530.5,403.1 527.9,403 525.2,402.8 522.6,402.7 520,402.5 517.3,402.2 514.7,401.9 512.1,401.6 509.4,401.2 506.8,400.8 504.2,400.3 501.5,399.9 498.9,399.4 496.3,398.9 493.7,398.2 491,397.5 488.4,396.7 485.8,396 483.1,395.3 480.5,394.7 477.9,394 475.2,393.3 472.6,392.6 470,392.2 467.3,391.8 464.7,391.3 462.1,390.9 459.5,390.4 456.8,390.1 454.2,389.8 451.6,389.6 448.9,389.3 446.3,389.3 443.7,389.4 441,389.9 438.4,390.5 435.8,391 433.2,391.5 430.5,392.1 427.9,392.6 425.3,393.2 422.6,393.9 420,394.7" fill="#e8d818"/><polygon points="290,417.1 294.8,417.2 299.7,417.4 304.5,417.5 309.3,417.6 314.2,417.5 319,417.2 323.8,416.9 328.7,416.5 333.5,415.7 338.3,415 343.2,414.2 348,413.4 352.8,412.6 357.7,411.9 362.5,411.2 367.3,410.4 372.2,409.7 377,409 381.8,408 386.7,407 391.5,406.1 396.3,405.1 401.2,403.8 406,402.3 410.8,400.9 415.7,399.4 420.5,397.8 425.3,396.2 430.2,394.9 435,393.7 439.9,392.6 444.7,391.6 449.5,391.6 454.4,392.1 459.2,392.6 464,393.5 468.9,394.4 473.7,395.4 478.5,396.9 483.4,398.4 488.2,399.9 493,401.5 497.9,402.9 502.7,403.8 507.5,404.7 512.4,405.6 517.2,406.2 522,406.7 526.9,407 531.7,407.3 536.5,407.5 541.4,407.6 546.2,407.8 551,407.7 555.9,407.6 560.7,407.4 565.5,407.2 570.4,406.9 575.2,404.5 575.2,408.6 570.4,411.4 565.5,411.6 560.7,411.8 555.9,412 551,412 546.2,412 541.4,411.9 536.5,411.6 531.7,411.4 526.9,411 522,410.7 517.2,410.1 512.4,409.5 507.5,408.6 502.7,407.6 497.9,406.6 493,404.9 488.2,403.1 483.4,401.4 478.5,399.7 473.7,398 468.9,396.9 464,395.9 459.2,394.9 454.4,394.3 449.5,393.9 444.7,393.8 439.9,394.9 435,396.3 430.2,397.7 425.3,399.2 420.5,401 415.7,402.8 410.8,404.4 406,406.1 401.2,407.7 396.3,409.2 391.5,410.3 386.7,411.3 381.8,412.4 377,413.5 372.2,414.2 367.3,415 362.5,415.7 357.7,416.4 352.8,417.1 348,417.9 343.2,418.6 338.3,419.4 333.5,420.1 328.7,420.9 323.8,421.2 319,421.5 314.2,421.8 309.3,421.9 304.5,421.9 299.7,421.8 294.8,421.6 290,421.5" fill="#18c0d0"/><polygon points="290,421.5 294.8,421.6 299.7,421.8 304.5,421.9 309.3,421.9 314.2,421.8 319,421.5 323.8,421.2 328.7,420.9 333.5,420.1 338.3,419.4 343.2,418.6 348,417.9 352.8,417.1 357.7,416.4 362.5,415.7 367.3,415 372.2,414.2 377,413.5 381.8,412.4 386.7,411.3 391.5,410.3 396.3,409.2 401.2,407.7 406,406.1 410.8,404.4 415.7,402.8 420.5,401 425.3,399.2 430.2,397.7 435,396.3 439.9,394.9 444.7,393.8 449.5,393.9 454.4,394.3 459.2,394.9 464,395.9 468.9,396.9 473.7,398 478.5,399.7 483.4,401.4 488.2,403.1 493,404.9 497.9,406.6 502.7,407.6 507.5,408.6 512.4,409.5 517.2,410.1 522,410.7 526.9,411 531.7,411.4 536.5,411.6 541.4,411.9 546.2,412 551,412 555.9,412 560.7,411.8 565.5,411.6 570.4,411.4 575.2,408.6 575.2,411.6 570.4,414.8 565.5,415 560.7,415.2 555.9,415.3 551,415.3 546.2,415.2 541.4,415 536.5,414.8 531.7,414.5 526.9,414.1 522,413.7 517.2,413.1 512.4,412.5 507.5,411.5 502.7,410.4 497.9,409.4 493,407.5 488.2,405.5 483.4,403.6 478.5,401.7 473.7,399.9 468.9,398.7 464,397.6 459.2,396.6 454.4,396 449.5,395.6 444.7,395.4 439.9,396.7 435,398.2 430.2,399.8 425.3,401.5 420.5,403.4 415.7,405.4 410.8,407.1 406,408.9 401.2,410.6 396.3,412.2 391.5,413.4 386.7,414.6 381.8,415.7 377,416.9 372.2,417.6 367.3,418.4 362.5,419.1 357.7,419.8 352.8,420.5 348,421.2 343.2,422 338.3,422.7 333.5,423.4 328.7,424.1 323.8,424.5 319,424.7 314.2,425 309.3,425.2 304.5,425.1 299.7,425.1 294.8,424.9 290,424.8" fill="#f07010"/><polygon points="290,431.5 294.8,431.6 299.7,431.7 304.5,431.7 309.3,431.6 314.2,431.5 319,431.2 323.8,430.9 328.7,430.6 333.5,430 338.3,429.3 343.2,428.6 348,428 352.8,427.3 357.7,426.6 362.5,425.9 367.3,425.1 372.2,424.4 377,423.6 381.8,422.3 386.7,421 391.5,419.7 396.3,418.3 401.2,416.4 406,414.5 410.8,412.5 415.7,410.5 420.5,408.2 425.3,406 430.2,403.9 435,402.1 439.9,400.3 444.7,398.8 449.5,399 454.4,399.4 459.2,400 464,401.2 468.9,402.3 473.7,403.7 478.5,405.9 483.4,408.1 488.2,410.3 493,412.7 497.9,414.9 502.7,416.1 507.5,417.3 512.4,418.4 517.2,419 522,419.7 526.9,420.2 531.7,420.7 536.5,421 541.4,421.3 546.2,421.6 551,421.7 555.9,421.9 560.7,421.8 565.5,421.7 570.4,421.5 575.2,417.7 575.2,421.7 570.4,426 565.5,426.2 560.7,426.3 555.9,426.3 551,426.1 546.2,425.9 541.4,425.5 536.5,425.2 531.7,424.8 526.9,424.2 522,423.7 517.2,423 512.4,422.3 507.5,421.1 502.7,419.8 497.9,418.5 493,416.2 488.2,413.5 483.4,411.1 478.5,408.7 473.7,406.3 468.9,404.8 464,403.5 459.2,402.2 454.4,401.6 449.5,401.2 444.7,401 439.9,402.6 435,404.7 430.2,406.7 425.3,409 420.5,411.4 415.7,413.9 410.8,416.1 406,418.2 401.2,420.4 396.3,422.4 391.5,423.9 386.7,425.3 381.8,426.7 377,428.1 372.2,429 367.3,429.7 362.5,430.4 357.7,431.1 352.8,431.8 348,432.5 343.2,433.1 338.3,433.7 333.5,434.4 328.7,435 323.8,435.3 319,435.5 314.2,435.8 309.3,436 304.5,436 299.7,436 294.8,436 290,435.9" fill="#30c860"/><polygon points="290,435.9 293.1,435.9 296.1,436 299.2,436 302.2,436.1 305.3,436 308.3,436 311.4,435.9 314.4,435.8 317.5,435.6 320.5,435.4 323.6,435.3 326.6,435.1 329.7,434.9 332.7,434.5 335.8,434.1 338.8,433.7 341.9,433.3 344.9,432.9 348,432.5 351,432.1 354.1,431.7 357.1,431.2 360.2,430.7 363.2,430.3 366.3,429.8 369.3,429.4 372.4,428.9 375.4,428.5 378.5,427.7 381.5,426.8 384.6,425.9 387.6,425.1 390.7,424.2 393.7,423.3 396.8,422.2 399.8,420.9 402.9,419.6 405.9,418.3 409,416.9 412,415.6 415.1,414.2 418.1,412.6 421.2,411.1 424.2,409.5 427.3,408.1 430.3,406.7 433.4,405.4 436.4,404.1 439.5,402.8 442.5,401.5 445.6,401 448.6,401.1 451.7,401.4 454.7,401.7 457.8,402 460.8,402.7 463.9,403.5 466.9,404.3 470,405.1 470,406.6 466.9,405.8 463.9,404.9 460.8,404.1 457.8,403.4 454.7,403.1 451.7,402.8 448.6,402.5 445.6,402.4 442.5,402.9 439.5,404.3 436.4,405.7 433.4,407 430.3,408.4 427.3,409.9 424.2,411.5 421.2,413.1 418.1,414.7 415.1,416.3 412,417.8 409,419.2 405.9,420.6 402.9,422 399.8,423.4 396.8,424.8 393.7,425.9 390.7,426.8 387.6,427.7 384.6,428.7 381.5,429.6 378.5,430.5 375.4,431.3 372.4,431.8 369.3,432.2 366.3,432.7 363.2,433.1 360.2,433.6 357.1,434 354.1,434.5 351,434.9 348,435.3 344.9,435.7 341.9,436 338.8,436.4 335.8,436.8 332.7,437.2 329.7,437.6 326.6,437.8 323.6,438 320.5,438.1 317.5,438.3 314.4,438.5 311.4,438.6 308.3,438.7 305.3,438.7 302.2,438.8 299.2,438.8 296.1,438.7 293.1,438.7 290,438.7" fill="#f04010"/><polygon points="290,447 294.8,447 299.7,447 304.5,446.9 309.3,446.8 314.2,446.6 319,446.3 323.8,446.1 328.7,445.8 333.5,445.3 338.3,444.8 343.2,444.2 348,443.7 352.8,443.2 357.7,442.4 362.5,441.7 367.3,441 372.2,440.3 377,439.4 381.8,437.8 386.7,436.1 391.5,434.4 396.3,432.6 401.2,430.1 406,427.6 410.8,425 415.7,422.4 420.5,419.5 425.3,416.5 430.2,413.7 435,411.1 439.9,408.6 444.7,406.5 449.5,406.8 454.4,407.3 459.2,407.9 464,409.4 468.9,410.9 473.7,412.6 478.5,415.6 483.4,418.5 488.2,421.5 493,424.8 497.9,427.7 502.7,429.3 507.5,430.8 512.4,432.2 517.2,432.9 522,433.7 526.9,434.4 531.7,435.1 536.5,435.6 541.4,436.1 546.2,436.5 551,436.9 555.9,437.3 560.7,437.4 565.5,437.3 570.4,437.3 575.2,431.8 575.2,436.9 570.4,442.9 565.5,442.9 560.7,442.9 555.9,442.8 551,442.3 546.2,441.8 541.4,441.3 536.5,440.9 531.7,440.3 526.9,439.5 522,438.7 517.2,437.9 512.4,437.1 507.5,435.6 502.7,434 497.9,432.3 493,429.1 488.2,425.5 483.4,422.2 478.5,419 473.7,415.8 468.9,413.9 464,412.3 459.2,410.7 454.4,410.1 449.5,409.7 444.7,409.3 439.9,411.5 435,414.3 430.2,417.1 425.3,420.3 420.5,423.5 415.7,426.7 410.8,429.5 406,432.2 401.2,435 396.3,437.7 391.5,439.7 386.7,441.5 381.8,443.3 377,445.1 372.2,445.9 367.3,446.7 362.5,447.4 357.7,448.1 352.8,448.8 348,449.3 343.2,449.8 338.3,450.3 333.5,450.8 328.7,451.3 323.8,451.5 319,451.7 314.2,451.9 309.3,452.2 304.5,452.4 299.7,452.5 294.8,452.5 290,452.5" fill="#20c0a0"/><polygon points="290,402.7 292.2,402.8 294.4,402.9 296.6,403 298.8,403.1 301,403.2 303.2,403.3 305.4,403.4 307.6,403.5 309.8,403.6 312,403.6 314.2,403.5 316.4,403.3 318.6,403.2 320.8,403 323.1,402.9 325.3,402.7 327.5,402.6 329.7,402.2 331.9,401.8 334.1,401.4 336.3,401 338.5,400.6 340.7,400.2 342.9,399.7 345.1,399.3 347.3,398.9 349.5,398.5 351.7,398.1 353.9,397.7 356.1,397.4 358.3,397.1 360.5,396.7 362.7,396.4 364.9,396.1 367.1,395.7 369.3,395.4 371.5,395.1 373.7,394.8 375.9,394.4 378.1,394.1 380.3,393.9 382.5,393.6 384.7,393.3 386.9,393 389.2,392.7 391.4,392.5 393.6,392.2 395.8,391.9 398,391.6 400.2,391.3 402.4,390.8 404.6,390.4 406.8,390 409,389.6 411.2,389.2 413.4,388.7 415.6,388.3 417.8,387.9 420,387.4 420,389.9 417.8,390.4 415.6,390.9 413.4,391.4 411.2,391.8 409,392.3 406.8,392.8 404.6,393.3 402.4,393.7 400.2,394.2 398,394.6 395.8,395 393.6,395.3 391.4,395.6 389.2,395.9 386.9,396.2 384.7,396.6 382.5,396.9 380.3,397.2 378.1,397.5 375.9,397.8 373.7,398.2 371.5,398.5 369.3,398.8 367.1,399.1 364.9,399.5 362.7,399.8 360.5,400.1 358.3,400.5 356.1,400.8 353.9,401.1 351.7,401.5 349.5,401.9 347.3,402.3 345.1,402.7 342.9,403.1 340.7,403.5 338.5,403.9 336.3,404.3 334.1,404.7 331.9,405.1 329.7,405.5 327.5,405.8 325.3,406 323.1,406.1 320.8,406.3 318.6,406.4 316.4,406.6 314.2,406.7 312,406.9 309.8,406.8 307.6,406.8 305.4,406.7 303.2,406.6 301,406.5 298.8,406.4 296.6,406.3 294.4,406.2 292.2,406.1 290,406" fill="#e8b020"/><polygon points="290,406 292.2,406.1 294.4,406.2 296.6,406.3 298.8,406.4 301,406.5 303.2,406.6 305.4,406.7 307.6,406.8 309.8,406.8 312,406.9 314.2,406.7 316.4,406.6 318.6,406.4 320.8,406.3 323.1,406.1 325.3,406 327.5,405.8 329.7,405.5 331.9,405.1 334.1,404.7 336.3,404.3 338.5,403.9 340.7,403.5 342.9,403.1 345.1,402.7 347.3,402.3 349.5,401.9 351.7,401.5 353.9,401.1 356.1,400.8 358.3,400.5 360.5,400.1 362.7,399.8 364.9,399.5 367.1,399.1 369.3,398.8 371.5,398.5 373.7,398.2 375.9,397.8 378.1,397.5 380.3,397.2 382.5,396.9 384.7,396.6 386.9,396.2 389.2,395.9 391.4,395.6 393.6,395.3 395.8,395 398,394.6 400.2,394.2 402.4,393.7 404.6,393.3 406.8,392.8 409,392.3 411.2,391.8 413.4,391.4 415.6,390.9 417.8,390.4 420,389.9 420,392.3 417.8,392.9 415.6,393.4 413.4,394 411.2,394.5 409,395 406.8,395.6 404.6,396.1 402.4,396.6 400.2,397.2 398,397.6 395.8,398.1 393.6,398.4 391.4,398.8 389.2,399.1 386.9,399.5 384.7,399.8 382.5,400.2 380.3,400.5 378.1,400.9 375.9,401.2 373.7,401.6 371.5,401.9 369.3,402.2 367.1,402.5 364.9,402.9 362.7,403.2 360.5,403.5 358.3,403.9 356.1,404.2 353.9,404.5 351.7,404.9 349.5,405.2 347.3,405.6 345.1,406 342.9,406.4 340.7,406.8 338.5,407.2 336.3,407.6 334.1,408 331.9,408.4 329.7,408.8 327.5,409.1 325.3,409.2 323.1,409.4 320.8,409.5 318.6,409.6 316.4,409.8 314.2,409.9 312,410.1 309.8,410.1 307.6,410 305.4,409.9 303.2,409.9 301,409.8 298.8,409.7 296.6,409.6 294.4,409.5 292.2,409.4 290,409.3" fill="#30c080"/><path d="M286 397.1L293 453.5M297.1 397.5L303.6 453.4M308.1 398.1L314.2 452.9M319.2 397.7L324.8 452.5M330.3 396.7L335.4 451.6M341.4 394.5L346 450.5M352.4 392.3L356.6 449.3M363.5 390.6L367.2 447.7M374.6 389L377.8 445.8M385.7 387.8L388.4 441.8M396.7 386.7L399 437.2M409.6 389.3V408.1M417.5 398.8V404.9M420.5 411.9V420.8M430.1 393.9V406.4M436.1 383V392M439.1 388.7V396.6M448.7 393.2V402.6M451.7 397.2V406.4M456.2 385.9V401.1M464.3 386.6V402.1M472.9 392.1V410.1M485.7 394.9V407.2M488.7 412.7V417.1M497 406V414.9M507.3 416.3V425.8M518.3 412.6V417.7M527.9 404.7V418M530.9 398.7V404.2M537.5 423.5V435.1M540.5 412.9V421.3M550.3 421.1V441.8M553.3 426.1V433.9M558.5 399.4V415.6M569.9 399.6V413.8M572.9 418.6V430.2" stroke="#0a1a0a" stroke-width="1.3" fill="none"/></g><polygon points="575.2,386.3 578.8,376.6 593.3,364.6 612.5,350.1 627,328.4 636.6,314 657.1,299.5 657.1,299.6 654,336 641.4,350.1 627,374.2 612.5,393.5 593.3,417.6 575.2,436.9" fill="#3088a0"/><g clip-path="url(#rc3)"><polygon points="575.2,390.3 578,383.1 580.8,379.4 583.7,377 586.5,374.6 589.3,372.2 592.1,369.8 594.9,367.5 597.8,365.3 600.6,363 603.4,360.8 606.2,358.6 609,356.3 611.9,354.1 614.7,350.3 617.5,346.1 620.3,342 623.2,337.8 626,333.6 628.8,329.3 631.6,325.1 634.4,320.8 637.3,317 640.1,314.8 642.9,312.7 645.7,310.6 648.5,308.5 651.4,306.4 654.2,304.2 657,299.7 657,299.8 654.2,306.7 651.4,309.2 648.5,311.4 645.7,313.6 642.9,315.8 640.1,318.1 637.3,320.5 634.4,324.4 631.6,328.7 628.8,333 626,337.2 623.2,341.4 620.3,345.5 617.5,349.7 614.7,353.8 611.9,357.6 609,359.9 606.2,362.3 603.4,364.6 600.6,367 597.8,369.4 594.9,371.7 592.1,374.1 589.3,376.5 586.5,379 583.7,381.4 580.8,383.9 578,387.5 575.2,394.4" fill="#f06010"/><polygon points="575.2,394.4 578,387.5 580.8,383.9 583.7,381.4 586.5,379 589.3,376.5 592.1,374.1 594.9,371.7 597.8,369.4 600.6,367 603.4,364.6 606.2,362.3 609,359.9 611.9,357.6 614.7,353.8 617.5,349.7 620.3,345.5 623.2,341.4 626,337.2 628.8,333 631.6,328.7 634.4,324.4 637.3,320.5 640.1,318.1 642.9,315.8 645.7,313.6 648.5,311.4 651.4,309.2 654.2,306.7 657,299.8 657,299.9 654.2,309.3 651.4,312.1 648.5,314.3 645.7,316.6 642.9,318.9 640.1,321.3 637.3,324 634.4,327.9 631.6,332.3 628.8,336.6 626,340.9 623.2,345 620.3,349.1 617.5,353.2 614.7,357.3 611.9,361.1 609,363.5 606.2,366 603.4,368.5 600.6,370.9 597.8,373.4 594.9,375.9 592.1,378.4 589.3,380.9 586.5,383.4 583.7,385.8 580.8,388.3 578,391.9 575.2,398.4" fill="#e0d020"/><polygon points="575.2,406.5 578,400.8 580.8,397.3 583.7,394.7 586.5,392.1 589.3,389.5 592.1,386.9 594.9,384.2 597.8,381.5 600.6,378.8 603.4,376.1 606.2,373.5 609,370.8 611.9,368.1 614.7,364.3 617.5,360.3 620.3,356.3 623.2,352.2 626,348.2 628.8,343.9 631.6,339.5 634.4,335.1 637.3,330.9 640.1,327.9 642.9,325.1 645.7,322.6 648.5,320.2 651.4,317.7 654.2,314.5 657,300.1 657,300.2 654.2,317.7 651.4,321.3 648.5,323.8 645.7,326.4 642.9,329 640.1,331.9 637.3,335.3 634.4,339.5 631.6,344 628.8,348.5 626,352.8 623.2,356.7 620.3,360.7 617.5,364.7 614.7,368.7 611.9,372.4 609,375.3 606.2,378.1 603.4,380.9 600.6,383.8 597.8,386.6 594.9,389.4 592.1,392.2 589.3,394.9 586.5,397.6 583.7,400.2 580.8,402.9 578,406.3 575.2,411.6" fill="#1830d8"/><polygon points="575.2,416.7 578,411.8 580.8,408.5 583.7,405.8 586.5,403 589.3,400.3 592.1,397.5 594.9,394.7 597.8,391.7 600.6,388.7 603.4,385.7 606.2,382.8 609,379.8 611.9,376.8 614.7,373.1 617.5,369.1 620.3,365.2 623.2,361.3 626,357.3 628.8,353 631.6,348.5 634.4,344 637.3,339.6 640.1,336 642.9,332.9 645.7,330.2 648.5,327.5 651.4,324.8 654.2,321 657,300.3 657,300.4 654.2,323.5 651.4,327.6 648.5,330.4 645.7,333.2 642.9,336 640.1,339.3 637.3,343.1 634.4,347.5 631.6,352.1 628.8,356.6 626,361 623.2,364.9 620.3,368.8 617.5,372.7 614.7,376.6 611.9,380.3 609,383.4 606.2,386.5 603.4,389.6 600.6,392.7 597.8,395.7 594.9,398.8 592.1,401.8 589.3,404.6 586.5,407.4 583.7,410.2 580.8,413 578,416.2 575.2,420.7" fill="#f08010"/><polygon points="575.2,426.8 578,422.9 580.8,419.7 583.7,416.8 586.5,413.9 589.3,411.1 592.1,408.2 594.9,405.1 597.8,401.8 600.6,398.6 603.4,395.3 606.2,392.1 609,388.8 611.9,385.5 614.7,381.8 617.5,378 620.3,374.1 623.2,370.3 626,366.4 628.8,362.1 631.6,357.5 634.4,352.9 637.3,348.3 640.1,344.2 642.9,340.6 645.7,337.7 648.5,334.8 651.4,331.9 654.2,327.4 657,300.5 657,300.7 654.2,330.7 651.4,335.4 648.5,338.5 645.7,341.5 642.9,344.5 640.1,348.2 637.3,352.7 634.4,357.3 631.6,362 628.8,366.7 626,371 623.2,374.8 620.3,378.6 617.5,382.4 614.7,386.2 611.9,389.9 609,393.3 606.2,396.7 603.4,400.1 600.6,403.5 597.8,406.9 594.9,410.3 592.1,413.5 589.3,416.5 586.5,419.4 583.7,422.3 580.8,425.3 578,428.4 575.2,431.8" fill="#1830d8"/><path d="M577 384.8V395.7M577 398.5V407.9M577 411.2V421.1M577 426.9V435.3M580 377.8V386.3M580 394.4V403.4M580 408.3V417.9M580 424V434.7M583 375.7V387.1M583 390.4V400.3M583 406.5V418.6M583 418.6V430.6M586 376.1V386.1M586 387.2V397.7M586 400.4V412M586 414.2V423.5M589 372.7V382.1M589 387.4V399.1M589 397.5V409.3M589 413.7V421.1M592 371.1V382.4M592 382.4V390.8M592 394.3V403.8M592 410.4V418.3M595 367.1V376.1M595 381.6V392M595 391.4V399.7M595 406.8V416.4M598 364.9V375M598 376.6V385.2M598 390.9V401.5M598 404.5V412M601 362.1V369.6M601 376.5V384.9M601 386V393.3M601 398.4V407.5M604 359.4V368.1M604 372.9V381.6M604 384.8V393M604 396.5V405.2M607 356.4V363.8M607 368.9V375.8M607 380.2V389.5M607 393.9V402M610 355.8V365.8M610 365.9V374.2M610 379.1V387.8M610 388.6V396.2M613 351.7V360M613 362.4V370.2M613 373.3V381.1M613 383.7V391.3M616 348.9V356.6M616 360.5V367.8M616 368.6V377M616 382.8V390.4M619 342.1V348.3M619 354.1V361.8M619 365.7V373.9M619 377.4V387.2M622 339.1V346.2M622 351.3V361.2M622 362.2V368.9M622 373.2V379.6M625 334.4V340.4M625 346.2V353.2M625 358V362.7M625 369.2V376M628 329.4V334.3M628 341.2V345.7M628 352.1V357.4M628 364.6V369.1M631 326.6V333.3M631 336.4V341.5M631 346.8V353.6M631 359.9V364.3M634 322.5V329M634 331.7V337.1M634 344.4V351.3M634 354V359.9M637 318.1V323.4M637 328.2V333.8M637 338.9V343.5M637 350V355.8M640 314.9V320.7M640 323.7V327.9M640 336.3V341.9M640 344.5V348.7M643 312.9V316.9M643 322.7V327.9M643 331.2V336.3M643 342.8V347.3M646 310.5V314.7M646 318.8V322.4M646 329.1V334.1M646 338.4V342.4M649 307.4V312.4M649 316.7V320.4M649 327.5V331.6M649 335V338.5M652 305.2V309.5M652 315V318.5M652 324.4V329M652 330.8V334.4M655 303.4V306.5M655 308.2V310.8M655 314.2V317M655 320.6V324.1" stroke="#06180a" stroke-width="1.5" fill="none"/></g><polygon points="289.6,397.1 299.3,376.6 323.4,351.3 352.3,326 371.6,309.2 376.4,294.7 383.6,275.4 395.7,268.2 417.3,258.6 448.7,254.9 472.8,250.1 496.9,246.5 521,244.1 542.7,240.5 554.7,241.7 569.2,250.1 593.3,256.1 617.3,256.1 655.9,262.2 657.1,299.5 636.6,314 627,328.4 612.5,350.1 593.3,364.6 578.8,376.6 575.2,386.3 545,388.7 521,388.7 496.9,386.3 472.8,383.9 448.7,381.4 424.6,382.7 400.5,386.3 376.4,388.7 352.3,392.3 328.2,397.1 311.3,398.3" fill="url(#mb3)"/><g clip-path="url(#mc3)"><g filter="url(#blur6)"><ellipse cx="561" cy="289.9" rx="65.1" ry="21.2" fill="#a8b430" opacity="0.92"/><ellipse cx="568.2" cy="289.9" rx="32.5" ry="9.6" fill="#b47830" opacity="0.9"/><ellipse cx="508" cy="292.3" rx="18.1" ry="10.8" fill="#b89030" opacity="0.85"/><ellipse cx="361" cy="367" rx="53" ry="16.9" fill="#c8c420" opacity="0.9"/><ellipse cx="433.3" cy="367" rx="31.3" ry="10.1" fill="#80c830" opacity="0.8"/><ellipse cx="500.7" cy="340.5" rx="26.5" ry="9.6" fill="#60c840" opacity="0.7"/><ellipse cx="471.8" cy="301.9" rx="21.7" ry="6.7" fill="#28c890" opacity="0.8"/><ellipse cx="414" cy="285.1" rx="37.3" ry="15.9" fill="#0818d0" opacity="0.97"/><ellipse cx="385.1" cy="316.4" rx="18.1" ry="10.8" fill="#0820d0" opacity="0.95"/><ellipse cx="445.3" cy="330.8" rx="36.6" ry="18.3" fill="#0818d0" opacity="0.97"/><ellipse cx="483.9" cy="256.1" rx="45.8" ry="7.2" fill="#0820c8" opacity="0.92"/><ellipse cx="546.5" cy="245.3" rx="22.2" ry="4.3" fill="#0828c8" opacity="0.9"/><ellipse cx="594.7" cy="330.8" rx="29.4" ry="18.3" fill="#0818d0" opacity="0.97"/><ellipse cx="536.9" cy="369.9" rx="56.6" ry="19.3" fill="#0818d0" opacity="0.97"/><ellipse cx="645.3" cy="277.8" rx="14.9" ry="18.3" fill="#0820d0" opacity="0.95"/><ellipse cx="356.1" cy="335.7" rx="14.9" ry="7.2" fill="#0828d0" opacity="0.9"/><ellipse cx="524.8" cy="332.8" rx="14.9" ry="7.2" fill="#0820d0" opacity="0.85"/><ellipse cx="626" cy="306.7" rx="14.9" ry="7.2" fill="#0820d0" opacity="0.85"/><ellipse cx="324.8" cy="376.6" rx="27" ry="18.3" fill="#e43010" opacity="0.97"/><ellipse cx="315.2" cy="388.7" rx="14.9" ry="9.6" fill="#d82008" opacity="0.9"/></g><g filter="url(#blur3)"><ellipse cx="429.4" cy="299.5" rx="62.7" ry="3.9" transform="rotate(-12 429.4 299.5)" fill="#000" opacity="0.22"/><ellipse cx="359.5" cy="388.7" rx="53" ry="3.9" transform="rotate(-14 359.5 388.7)" fill="#000" opacity="0.25"/><ellipse cx="468" cy="362.2" rx="48.2" ry="3.9" transform="rotate(14 468 362.2)" fill="#000" opacity="0.22"/><ellipse cx="569.2" cy="338.1" rx="53" ry="3.4" transform="rotate(-18 569.2 338.1)" fill="#000" opacity="0.18"/><ellipse cx="453.5" cy="276.6" rx="67.5" ry="2.9" transform="rotate(-8 453.5 276.6)" fill="#000" opacity="0.16"/><ellipse cx="605.3" cy="277.8" rx="48.2" ry="3.4" transform="rotate(8 605.3 277.8)" fill="#000" opacity="0.18"/><ellipse cx="383.6" cy="311.6" rx="14.5" ry="9.6" transform="rotate(-40 383.6 311.6)" fill="#000" opacity="0.2"/><ellipse cx="511.3" cy="316.4" rx="9.6" ry="28.9" transform="rotate(28 511.3 316.4)" fill="#000" opacity="0.12"/><ellipse cx="410.1" cy="333.3" rx="62.7" ry="4.3" transform="rotate(-14 410.1 333.3)" fill="#fff" opacity="0.2"/><ellipse cx="359.5" cy="364.6" rx="41" ry="3.9" transform="rotate(-16 359.5 364.6)" fill="#fff" opacity="0.2"/><ellipse cx="549.9" cy="318.8" rx="55.4" ry="3.9" transform="rotate(-16 549.9 318.8)" fill="#fff" opacity="0.2"/><ellipse cx="480" cy="273" rx="53" ry="2.4" transform="rotate(-6 480 273)" fill="#fff" opacity="0.14"/><ellipse cx="521" cy="379" rx="48.2" ry="3.4" transform="rotate(4 521 379)" fill="#fff" opacity="0.16"/><ellipse cx="617.3" cy="292.3" rx="28.9" ry="3.4" transform="rotate(10 617.3 292.3)" fill="#fff" opacity="0.14"/></g><rect x="289.6" y="240.5" width="367.5" height="157.8" filter="url(#noise)" opacity="0.06"/><path d="M563.1 248.9L547.5 277.8L530.6 311.6L511.3 340.5L500.5 358.6M501.7 276.6L472.8 306.7L448.7 333.3L434.2 354.9L427 369.4M580 276.6L578.8 292.3M535.4 282.7L531.8 289.9" stroke="#04300c" stroke-opacity="0.38" stroke-width="1.5" fill="none" filter="url(#blur1)"/></g></g><path d="M493.6 1888.7L497.2 1888.7L502.6 2076L499 2076Z" fill="#0a0af0"/><circle cx="495.4" cy="1888.7" r="3.6" fill="none" stroke="#2222ee" stroke-width="1.3"/><path d="M493.9 1884.5L495.4 1879.9L496.9 1884.5ZM491.4 1886.8L489.2 1882.5L493.5 1884.7ZM491.2 1890.2L486.6 1888.7L491.2 1887.2ZM493.5 1892.7L489.2 1894.9L491.4 1890.6ZM496.9 1892.9L495.4 1897.5L493.9 1892.9ZM499.4 1890.6L501.6 1894.9L497.3 1892.7ZM499.6 1887.2L504.2 1888.7L499.6 1890.2ZM497.3 1884.7L501.6 1882.5L499.4 1886.8Z" fill="#2222ee"/><path d="M511.2 1900.9L514.8 1900.9L519.9 2094L516.3 2094Z" fill="#ff0000"/><circle cx="513" cy="1900.9" r="3.6" fill="none" stroke="#ee1111" stroke-width="1.3"/><path d="M511.5 1896.7L513 1892.1L514.5 1896.7ZM509 1899L506.8 1894.7L511.1 1896.9ZM508.8 1902.4L504.2 1900.9L508.8 1899.4ZM511.1 1904.9L506.8 1907.1L509 1902.8ZM514.5 1905.1L513 1909.7L511.5 1905.1ZM517 1902.8L519.2 1907.1L514.9 1904.9ZM517.2 1899.4L521.8 1900.9L517.2 1902.4ZM514.9 1896.9L519.2 1894.7L517 1899Z" fill="#ee1111"/><path d="M532.4 1863L536 1863L538.6 2037L535 2037Z" fill="url(#wm3)"/><circle cx="534.2" cy="1863" r="3.6" fill="none" stroke="#cc0099" stroke-width="1.3"/><path d="M532.7 1858.8L534.2 1854.2L535.7 1858.8ZM530.2 1861.1L528 1856.8L532.3 1859ZM530 1864.5L525.4 1863L530 1861.5ZM532.3 1867L528 1869.2L530.2 1864.9ZM535.7 1867.2L534.2 1871.8L532.7 1867.2ZM538.2 1864.9L540.4 1869.2L536.1 1867ZM538.4 1861.5L543 1863L538.4 1864.5ZM536.1 1859L540.4 1856.8L538.2 1861.1Z" fill="#cc0099"/><path d="M562.2 1858.6L565.8 1858.6L566 2026.5L562.4 2026.5Z" fill="url(#wp3)"/><circle cx="564" cy="1858.6" r="3.6" fill="none" stroke="#cc22cc" stroke-width="1.3"/><path d="M562.5 1854.4L564 1849.8L565.5 1854.4ZM560 1856.7L557.8 1852.4L562.1 1854.6ZM559.8 1860.1L555.2 1858.6L559.8 1857.1ZM562.1 1862.6L557.8 1864.8L560 1860.5ZM565.5 1862.8L564 1867.4L562.5 1862.8ZM568 1860.5L570.2 1864.8L565.9 1862.6ZM568.2 1857.1L572.8 1858.6L568.2 1860.1ZM565.9 1854.6L570.2 1852.4L568 1856.7Z" fill="#cc22cc"/><path d="M504.4 2008.2h17" stroke="#3344dd" stroke-width="1.2" stroke-dasharray="2 1.2 1 1"/><path d="M540.2 1979h5M568.5 1971h8" stroke="#c030c0" stroke-width="1" stroke-dasharray="1.5 1.5"/><path d="M525 2030.9h9" stroke="#e02020" stroke-width="1.2" stroke-dasharray="2 1"/><text class="ax" x="346.3" y="1825.1" text-anchor="middle">1030000</text><text class="ax" x="466.2" y="1826" text-anchor="middle">1020000</text><text class="ax" x="586.1" y="1826.9" text-anchor="middle">1010000</text><text class="ax" x="706" y="1827.8" text-anchor="middle">1000000</text><text class="ax" x="520.2" y="1808.1" text-anchor="middle">Y-axis</text><text class="ax" x="342.4" y="2326.1" text-anchor="middle">1030000</text><text class="ax" x="463.8" y="2326.1" text-anchor="middle">1020000</text><text class="ax" x="585.2" y="2326.1" text-anchor="middle">1010000</text><text class="ax" x="706.6" y="2326.1" text-anchor="middle">1000000</text><text class="ax" x="517.1" y="2343.1" text-anchor="middle">Y-axis</text><text class="ax" x="217.1" y="1948.9" text-anchor="end">0</text><text class="ax" x="802" y="1950.8" text-anchor="start">0</text><text class="ax" x="234.8" y="2023.8" text-anchor="end">-1000</text><text class="ax" x="786.6" y="2025" text-anchor="start">-1000</text><text class="ax" x="250.6" y="2090.5" text-anchor="end">-2000</text><text class="ax" x="772.9" y="2091.1" text-anchor="start">-2000</text><text class="ax" x="264.6" y="2149.8" text-anchor="end">-3000</text><text class="ax" x="760.7" y="2150.4" text-anchor="start">-3000</text><text class="ax" x="215.3" y="2152.8" text-anchor="middle">Z-axis</text><text class="ax" x="795.1" y="2154.4" text-anchor="start">Z-axis</text><text class="ax" x="277.2" y="2203" text-anchor="end">-4000</text><text class="ax" x="749.6" y="2203.7" text-anchor="start">-4000</text><text class="ax" x="288.6" y="2251.2" text-anchor="end">-5000</text><text class="ax" x="739.6" y="2252.1" text-anchor="start">-5000</text><text class="ax" x="299" y="2295.3" text-anchor="end">-6000</text><text class="ax" x="730.3" y="2296.8" text-anchor="start">-6000</text><text class="ax" x="285" y="1864.1" text-anchor="end">720000</text><text class="ax" x="231.8" y="1912.7" text-anchor="end">710000</text><text class="ax" x="322.9" y="1827.9" text-anchor="end">730000</text><text class="ax" x="258.6" y="1821.2" text-anchor="middle">X-axis</text><text class="ax" x="725.5" y="1841.9" text-anchor="start">730000</text><text class="ax" x="757.3" y="1878.6" text-anchor="start">720000</text><text class="ax" x="801.7" y="1880.8" text-anchor="start">X-axis</text><text class="ax" x="799.9" y="1929.3" text-anchor="start">710000</text><path d="M347.3 1838L346.5 1831.5M371.3 1838.2L371 1835.6M395.3 1838.3L395 1835.7M419.3 1838.5L419 1835.9M443.2 1838.7L442.9 1836.1M467.2 1838.9L466.4 1832.4M491.2 1839.1L490.9 1836.5M515.2 1839.3L514.9 1836.7M539.1 1839.4L538.8 1836.8M563.1 1839.6L562.8 1837M587.1 1839.8L586.3 1833.3M611.1 1840L610.8 1837.4M635 1840.2L634.7 1837.6M659 1840.4L658.7 1837.8M683 1840.5L682.7 1837.9M707 1840.7L706.2 1834.2M325.3 1837.7L324.3 1831.2M340.9 2305.6L341.5 2312.1M365.2 2305.6L365.5 2308.6M389.4 2305.6L389.7 2308.6M413.7 2305.6L414 2308.6M438 2305.6L438.3 2308.6M462.3 2305.6L462.9 2312.1M486.6 2305.6L486.9 2308.6M510.9 2305.6L511.2 2308.6M535.1 2305.6L535.4 2308.6M559.4 2305.6L559.7 2308.6M583.7 2305.6L584.3 2312.1M608 2305.6L608.3 2308.6M632.3 2305.6L632.6 2308.6M656.6 2305.6L656.9 2308.6M680.8 2305.6L681.1 2308.6M705.1 2305.6L705.7 2312.1M233.3 1944.9L223.7 1944.9M788.4 1946.9L798 1946.9M237.9 1964.5L234.3 1964.5M784.4 1966.3L788.2 1966.3M242.4 1983.5L238.8 1983.5M780.5 1985.1L784.3 1985.1M246.8 2001.9L243.2 2001.9M776.7 2003.3L780.5 2003.3M251 2019.8L241.4 2019.8M773 2021.1L782.6 2021.1M255.1 2037.2L251.5 2037.2M769.4 2038.3L773.2 2038.3M259.1 2054.1L255.5 2054.1M766 2055.1L769.8 2055.1M263 2070.5L259.4 2070.5M762.6 2071.4L766.4 2071.4M266.8 2086.5L257.2 2086.5M759.3 2087.2L768.9 2087.2M270.4 2101.9L266.8 2101.9M756.1 2102.6L759.9 2102.6M274 2117L270.4 2117M753 2117.6L756.8 2117.6M277.5 2131.6L273.9 2131.6M750 2132.2L753.8 2132.2M280.8 2145.8L271.2 2145.8M747.1 2146.5L756.7 2146.5M284.1 2159.7L280.5 2159.7M744.2 2160.3L748 2160.3M287.3 2173.1L283.7 2173.1M741.4 2173.8L745.2 2173.8M290.4 2186.3L286.8 2186.3M738.7 2186.9L742.5 2186.9M293.4 2199L283.8 2199M736 2199.8L745.6 2199.8M296.4 2211.5L292.8 2211.5M733.4 2212.3L737.2 2212.3M299.2 2223.7L295.6 2223.7M730.9 2224.6L734.7 2224.6M302.1 2235.6L298.5 2235.6M728.4 2236.5L732.2 2236.5M304.8 2247.2L295.2 2247.2M726 2248.2L735.6 2248.2M307.5 2258.5L303.9 2258.5M723.6 2259.7L727.4 2259.7M310.1 2269.7L306.5 2269.7M721.3 2271L725.1 2271M312.7 2280.6L309.1 2280.6M719 2282L722.8 2282M315.2 2291.3L305.6 2291.3M716.7 2292.9L726.3 2292.9M317.7 2301.8L314.1 2301.8M714.5 2303.6L718.3 2303.6M318.6 1844.8L317.8 1842.2M311.9 1851.2L311.1 1848.6M303.9 1859L303.1 1856.4M295.8 1866.8L295 1864.2M287.9 1875.4L285.9 1867.9M278.6 1883.5L277.8 1880.9M269.2 1892.5L268.4 1889.9M259 1902.4L258.2 1899.8M247.8 1913.2L247 1910.6M235.8 1925.8L233.8 1918.3M716.6 1841.8L724.6 1841.8M722.5 1849L725.5 1849M729.1 1857L732.1 1857M734.3 1863.4L737.3 1863.4M740.3 1870.6L743.3 1870.6M746.8 1878.5L754.8 1878.5M754.2 1887.6L757.2 1887.6M762.4 1897.6L765.4 1897.6M770.5 1907.4L773.5 1907.4M778.7 1917.4L781.7 1917.4M788.5 1929.3L796.5 1929.3" stroke="#222" stroke-width="1.1" fill="none"/>
<g transform="translate(0,1780.1)"><text class="lg" x="59.2" y="166.8">SW1 [U]</text><text class="lg" x="59.2" y="186.6">Water saturation</text><rect x="59.1" y="207.3" width="26.6" height="197.4" fill="url(#lgd3)"/><text class="lg" x="98.8" y="214.8">1.00000</text><text class="lg" x="98.8" y="231.8">0.97500</text><text class="lg" x="98.8" y="265.8">0.92500</text><text class="lg" x="98.8" y="299.8">0.87500</text><text class="lg" x="98.8" y="333.8">0.82500</text><text class="lg" x="98.8" y="367.8">0.77500</text><text class="lg" x="98.8" y="401.8">0.72500</text><path d="M85.7 206.8h9M85.7 223.8h9M85.7 257.8h9M85.7 291.8h9M85.7 325.8h9M85.7 359.8h9M85.7 393.8h9M85.7 240.8h9M85.7 274.8h9M85.7 308.8h9M85.7 342.8h9M85.7 376.8h9" stroke="#4a4ae0" stroke-width="1.1"/><path d="M200.7 207.8H175.3" stroke="#2040f0" stroke-width="1.1" fill="none"/><rect x="175.3" y="207.6" width="1.1" height="197.5" fill="url(#hs3)"/><path d="M176.2 250h4M176.2 273h2.5M176.2 283h2.5" stroke="#20e0c0" stroke-width="1" fill="none"/><path d="M175.8 404.8h5.5" stroke="#f03010" stroke-width="1" fill="none"/><g stroke="#0a2a0a" stroke-width="0.9" stroke-linejoin="round"><path d="M95.5 536.3H125.6V544H95.5Z" fill="#04cc04"/><path d="M95.5 544H125.6V551.3H95.5Z" fill="#04cc04"/><path d="M95.5 551.3H125.6V557H95.5Z" fill="#cc0404"/><path d="M66.1 540.2L95.5 548.1V554L66.1 547.7Z" fill="#04cc04"/><path d="M66.1 547.7L95.5 554V559.7L66.1 553Z" fill="#cc0404"/><path d="M66.1 540.2L95.5 532.2V548.1Z" fill="#04cc04"/></g></g>
<text class="rl" transform="translate(36.3,2069) rotate(-90)" text-anchor="middle">SW Model</text>
<g transform="matrix(1.0015,0,0,0.9983,-2.25,1780.9)">
<g clip-path="url(#sc3)"><polygon points="902.5,327.4 908.5,327.6 914.5,327.8 920.5,328.1 926.5,328.3 932.5,328.7 938.5,329.1 944.5,329.6 950.5,330 956.5,330.4 962.5,330.8 968.5,331.2 974.5,331.5 980.5,331.8 986.5,332.1 992.5,332.4 998.5,332.7 1004.5,332.8 1010.5,332.6 1016.5,332.4 1022.5,332.1 1028.5,331.9 1034.5,331.6 1040.5,331.5 1046.5,331.3 1052.5,331.2 1058.5,331.1 1064.5,331 1070.5,330.9 1076.5,330.8 1082.5,330.7 1088.5,330.6 1094.5,330.5 1100.5,330.4 1106.5,330.3 1112.5,330.2 1118.5,330.2 1124.5,329.9 1130.5,329.3 1136.5,328.7 1142.5,328.2 1148.5,327.8 1154.5,327.5 1160.5,327.1 1166.5,326.7 1172.5,326.5 1178.5,326.3 1184.5,326.1 1190.5,325.9 1196.5,325.7 1202.5,325.5 1208.5,323.3 1214.5,320.7 1220.5,319.4 1226.5,318.1 1232.5,316.8 1233.6,316.6 1234,316.5 1238.5,315.8 1244.5,315 1250.5,314.2 1256.5,313.4 1262.5,312.7 1268.5,311.9 1274.5,311.1 1280.5,310.6 1286.5,310.1 1292.5,309.5 1298.5,309 1304.5,308.4 1310.5,307.9 1316.5,307.4 1322.5,306.9 1328.5,306.4 1334.5,305.9 1340.5,305.8 1346.5,305.8 1352.5,305.8 1358.5,306.1 1364.5,306.8 1370.5,307.4 1376.5,308.6 1382.5,312.9 1388.5,316.4 1394.5,317.8 1400.5,318.4 1406.5,319 1412.5,319.6 1418.5,320.2 1424.5,320.8 1430.5,321.4 1436.5,322 1442.5,322.6 1448.5,323.2 1454.5,324.1 1460.5,325 1466.5,325.9 1472.5,326.8 1478.5,327.7 1484.5,328.7 1490.5,330 1496.5,331.2 1502.5,332.5 1508.5,334 1514.5,336.6 1520.5,339.1 1526.5,341.6 1532.5,344.1 1538.5,346.4 1544.5,348.7 1550.5,351 1556.5,351.7 1562.5,352.5 1568.5,353.2 1574.5,353.9 1580.5,354.6 1586.5,355.4 1592.5,356 1598.5,356.6 1604.5,357.2 1610.5,357.8 1616.5,358.4 1622.5,359.1 1628.5,359.9 1634.5,360.6 1640.5,361.3 1646.5,361.9 1652.5,361.9 1658.5,361.9 1664.5,361.9 1670.5,361.5 1676.5,360.9 1682.5,360.3 1688.5,359.8 1694.5,359.2 1700.5,358.6 1706.5,358.1 1712.5,357.5 1718.5,357.4 1724.5,357.3 1728,357.3 1728,600 902.5,600" fill="url(#g3_0)"/><polygon points="902.5,332 908.5,332.3 914.5,332.5 920.5,332.8 926.5,333 932.5,333.4 938.5,333.7 944.5,334.1 950.5,334.5 956.5,334.9 962.5,335.3 968.5,335.7 974.5,336.1 980.5,336.4 986.5,336.8 992.5,337.1 998.5,337.5 1004.5,337.7 1010.5,337.5 1016.5,337.3 1022.5,337.1 1028.5,336.9 1034.5,336.6 1040.5,336.4 1046.5,336.3 1052.5,336.1 1058.5,336 1064.5,335.8 1070.5,335.7 1076.5,335.6 1082.5,335.5 1088.5,335.4 1094.5,335.3 1100.5,335.1 1106.5,335 1112.5,334.9 1118.5,334.8 1124.5,334.5 1130.5,333.9 1136.5,333.3 1142.5,332.8 1148.5,332.4 1154.5,331.9 1160.5,331.5 1166.5,331 1172.5,330.7 1178.5,330.4 1184.5,330.1 1190.5,329.8 1196.5,329.5 1202.5,329.2 1208.5,327 1214.5,324.5 1220.5,323.3 1226.5,322.1 1232.5,320.9 1233.6,320.7 1234,320.1 1238.5,319.3 1244.5,318.4 1250.5,317.5 1256.5,316.7 1262.5,315.8 1268.5,315.1 1274.5,314.3 1280.5,313.8 1286.5,313.3 1292.5,312.7 1298.5,312.1 1304.5,311.5 1310.5,311 1316.5,310.4 1322.5,309.9 1328.5,309.3 1334.5,308.8 1340.5,308.6 1346.5,308.6 1352.5,308.5 1358.5,308.8 1364.5,309.4 1370.5,310 1376.5,311.3 1382.5,315.7 1388.5,319.2 1394.5,320.7 1400.5,321.4 1406.5,322.1 1412.5,322.8 1418.5,323.5 1424.5,324.3 1430.5,324.9 1436.5,325.6 1442.5,326.2 1448.5,326.9 1454.5,327.9 1460.5,328.9 1466.5,329.9 1472.5,330.9 1478.5,331.9 1484.5,333 1490.5,334.3 1496.5,335.7 1502.5,337.2 1508.5,339 1514.5,341.6 1520.5,344.2 1526.5,346.8 1532.5,349.3 1538.5,351.8 1544.5,354 1550.5,356.3 1556.5,357.1 1562.5,357.8 1568.5,358.6 1574.5,359.3 1580.5,360.1 1586.5,360.9 1592.5,361.6 1598.5,362.2 1604.5,362.8 1610.5,363.4 1616.5,364.1 1622.5,364.7 1628.5,365.4 1634.5,366.2 1640.5,366.9 1646.5,367.4 1652.5,367.5 1658.5,367.4 1664.5,367.4 1670.5,367.1 1676.5,366.5 1682.5,365.9 1688.5,365.3 1694.5,364.8 1700.5,364.3 1706.5,363.9 1712.5,363.4 1718.5,363.4 1724.5,363.3 1728,363.3 1728,600 902.5,600" fill="url(#g3_1)"/><polygon points="902.5,336.7 908.5,336.9 914.5,337.2 920.5,337.5 926.5,337.7 932.5,338 938.5,338.4 944.5,338.7 950.5,339.1 956.5,339.5 962.5,339.8 968.5,340.3 974.5,340.7 980.5,341.1 986.5,341.5 992.5,341.9 998.5,342.3 1004.5,342.5 1010.5,342.4 1016.5,342.3 1022.5,342.1 1028.5,341.9 1034.5,341.6 1040.5,341.4 1046.5,341.2 1052.5,341 1058.5,340.8 1064.5,340.7 1070.5,340.5 1076.5,340.4 1082.5,340.3 1088.5,340.2 1094.5,340 1100.5,339.9 1106.5,339.7 1112.5,339.6 1118.5,339.4 1124.5,339.1 1130.5,338.5 1136.5,337.9 1142.5,337.3 1148.5,336.9 1154.5,336.4 1160.5,335.9 1166.5,335.4 1172.5,334.9 1178.5,334.5 1184.5,334 1190.5,333.6 1196.5,333.3 1202.5,332.9 1208.5,330.7 1214.5,328.3 1220.5,327.1 1226.5,326 1232.5,324.9 1233.6,324.7 1234,323.7 1238.5,322.8 1244.5,321.8 1250.5,320.8 1256.5,319.9 1262.5,319 1268.5,318.2 1274.5,317.5 1280.5,317 1286.5,316.5 1292.5,315.9 1298.5,315.3 1304.5,314.6 1310.5,314 1316.5,313.4 1322.5,312.8 1328.5,312.2 1334.5,311.7 1340.5,311.4 1346.5,311.3 1352.5,311.2 1358.5,311.4 1364.5,312 1370.5,312.7 1376.5,314 1382.5,318.5 1388.5,322 1394.5,323.5 1400.5,324.3 1406.5,325.2 1412.5,326 1418.5,326.8 1424.5,327.7 1430.5,328.4 1436.5,329.1 1442.5,329.8 1448.5,330.6 1454.5,331.7 1460.5,332.8 1466.5,333.9 1472.5,335 1478.5,336 1484.5,337.2 1490.5,338.7 1496.5,340.2 1502.5,341.9 1508.5,344 1514.5,346.7 1520.5,349.3 1526.5,352 1532.5,354.6 1538.5,357.1 1544.5,359.3 1550.5,361.6 1556.5,362.4 1562.5,363.2 1568.5,364 1574.5,364.8 1580.5,365.6 1586.5,366.4 1592.5,367.1 1598.5,367.8 1604.5,368.4 1610.5,369 1616.5,369.7 1622.5,370.3 1628.5,371 1634.5,371.7 1640.5,372.4 1646.5,373 1652.5,373 1658.5,373 1664.5,372.9 1670.5,372.6 1676.5,372 1682.5,371.4 1688.5,370.9 1694.5,370.5 1700.5,370.1 1706.5,369.7 1712.5,369.3 1718.5,369.3 1724.5,369.3 1728,369.4 1728,600 902.5,600" fill="url(#g3_2)"/><polygon points="902.5,341.3 908.5,341.6 914.5,341.9 920.5,342.2 926.5,342.5 932.5,342.7 938.5,343 944.5,343.3 950.5,343.6 956.5,344 962.5,344.4 968.5,344.8 974.5,345.3 980.5,345.7 986.5,346.2 992.5,346.6 998.5,347.1 1004.5,347.4 1010.5,347.3 1016.5,347.2 1022.5,347.1 1028.5,346.9 1034.5,346.6 1040.5,346.3 1046.5,346.1 1052.5,345.9 1058.5,345.7 1064.5,345.5 1070.5,345.4 1076.5,345.2 1082.5,345.1 1088.5,344.9 1094.5,344.8 1100.5,344.6 1106.5,344.4 1112.5,344.2 1118.5,344 1124.5,343.7 1130.5,343.1 1136.5,342.4 1142.5,341.8 1148.5,341.4 1154.5,340.9 1160.5,340.3 1166.5,339.7 1172.5,339.1 1178.5,338.6 1184.5,338 1190.5,337.5 1196.5,337 1202.5,336.6 1208.5,334.4 1214.5,332.1 1220.5,331 1226.5,330 1232.5,329 1233.6,328.8 1234,327.3 1238.5,326.3 1244.5,325.2 1250.5,324.1 1256.5,323.1 1262.5,322.1 1268.5,321.4 1274.5,320.7 1280.5,320.2 1286.5,319.7 1292.5,319 1298.5,318.4 1304.5,317.8 1310.5,317.1 1316.5,316.4 1322.5,315.8 1328.5,315.2 1334.5,314.5 1340.5,314.2 1346.5,314.1 1352.5,313.9 1358.5,314.1 1364.5,314.6 1370.5,315.3 1376.5,316.8 1382.5,321.2 1388.5,324.8 1394.5,326.4 1400.5,327.3 1406.5,328.3 1412.5,329.2 1418.5,330.1 1424.5,331.1 1430.5,331.8 1436.5,332.6 1442.5,333.4 1448.5,334.3 1454.5,335.5 1460.5,336.7 1466.5,337.9 1472.5,339.1 1478.5,340.2 1484.5,341.5 1490.5,343 1496.5,344.6 1502.5,346.7 1508.5,349 1514.5,351.7 1520.5,354.4 1526.5,357.1 1532.5,359.8 1538.5,362.4 1544.5,364.6 1550.5,366.8 1556.5,367.7 1562.5,368.6 1568.5,369.4 1574.5,370.2 1580.5,371.1 1586.5,371.9 1592.5,372.7 1598.5,373.3 1604.5,374 1610.5,374.6 1616.5,375.3 1622.5,376 1628.5,376.6 1634.5,377.3 1640.5,378 1646.5,378.5 1652.5,378.6 1658.5,378.5 1664.5,378.4 1670.5,378.1 1676.5,377.5 1682.5,376.9 1688.5,376.5 1694.5,376.1 1700.5,375.8 1706.5,375.5 1712.5,375.2 1718.5,375.2 1724.5,375.3 1728,375.4 1728,600 902.5,600" fill="url(#g3_3)"/><polygon points="902.5,345.9 908.5,346.2 914.5,346.5 920.5,346.9 926.5,347.2 932.5,347.4 938.5,347.6 944.5,347.8 950.5,348.2 956.5,348.5 962.5,348.9 968.5,349.3 974.5,349.9 980.5,350.4 986.5,350.9 992.5,351.4 998.5,351.9 1004.5,352.2 1010.5,352.2 1016.5,352.2 1022.5,352.1 1028.5,351.9 1034.5,351.6 1040.5,351.3 1046.5,351 1052.5,350.7 1058.5,350.6 1064.5,350.4 1070.5,350.2 1076.5,350 1082.5,349.9 1088.5,349.7 1094.5,349.5 1100.5,349.3 1106.5,349.1 1112.5,348.9 1118.5,348.7 1124.5,348.3 1130.5,347.6 1136.5,347 1142.5,346.4 1148.5,345.9 1154.5,345.4 1160.5,344.7 1166.5,344 1172.5,343.4 1178.5,342.7 1184.5,342 1190.5,341.3 1196.5,340.8 1202.5,340.2 1208.5,338.1 1214.5,336 1220.5,334.9 1226.5,333.9 1232.5,333 1233.6,332.9 1234,330.9 1238.5,329.8 1244.5,328.6 1250.5,327.4 1256.5,326.3 1262.5,325.3 1268.5,324.5 1274.5,323.9 1280.5,323.4 1286.5,322.9 1292.5,322.2 1298.5,321.5 1304.5,320.9 1310.5,320.2 1316.5,319.4 1322.5,318.7 1328.5,318.1 1334.5,317.4 1340.5,317 1346.5,316.8 1352.5,316.6 1358.5,316.7 1364.5,317.2 1370.5,318 1376.5,319.5 1382.5,324 1388.5,327.6 1394.5,329.3 1400.5,330.3 1406.5,331.3 1412.5,332.4 1418.5,333.4 1424.5,334.5 1430.5,335.3 1436.5,336.2 1442.5,337 1448.5,338 1454.5,339.3 1460.5,340.6 1466.5,341.9 1472.5,343.2 1478.5,344.4 1484.5,345.7 1490.5,347.4 1496.5,349.1 1502.5,351.4 1508.5,353.9 1514.5,356.7 1520.5,359.5 1526.5,362.3 1532.5,365 1538.5,367.8 1544.5,370 1550.5,372.1 1556.5,373 1562.5,373.9 1568.5,374.8 1574.5,375.7 1580.5,376.5 1586.5,377.4 1592.5,378.2 1598.5,378.9 1604.5,379.5 1610.5,380.2 1616.5,380.9 1622.5,381.6 1628.5,382.2 1634.5,382.9 1640.5,383.5 1646.5,384 1652.5,384.1 1658.5,384 1664.5,383.9 1670.5,383.6 1676.5,383 1682.5,382.4 1688.5,382.1 1694.5,381.8 1700.5,381.5 1706.5,381.3 1712.5,381.1 1718.5,381.2 1724.5,381.3 1728,381.4 1728,600 902.5,600" fill="url(#g3_4)"/><polygon points="902.5,350.6 908.5,350.9 914.5,351.2 920.5,351.6 926.5,351.9 932.5,352.1 938.5,352.2 944.5,352.4 950.5,352.7 956.5,353.1 962.5,353.4 968.5,353.9 974.5,354.5 980.5,355.1 986.5,355.7 992.5,356.2 998.5,356.7 1004.5,357.1 1010.5,357.1 1016.5,357.1 1022.5,357.2 1028.5,356.9 1034.5,356.6 1040.5,356.2 1046.5,355.9 1052.5,355.6 1058.5,355.4 1064.5,355.2 1070.5,355 1076.5,354.8 1082.5,354.7 1088.5,354.5 1094.5,354.3 1100.5,354 1106.5,353.8 1112.5,353.5 1118.5,353.3 1124.5,352.9 1130.5,352.2 1136.5,351.6 1142.5,350.9 1148.5,350.4 1154.5,349.8 1160.5,349.1 1166.5,348.4 1172.5,347.6 1178.5,346.8 1184.5,346 1190.5,345.2 1196.5,344.6 1202.5,343.9 1208.5,341.9 1214.5,339.8 1220.5,338.7 1226.5,337.9 1232.5,337.1 1233.6,336.9 1234,334.5 1238.5,333.3 1244.5,332 1250.5,330.7 1256.5,329.5 1262.5,328.4 1268.5,327.7 1274.5,327 1280.5,326.6 1286.5,326.1 1292.5,325.4 1298.5,324.7 1304.5,324 1310.5,323.2 1316.5,322.4 1322.5,321.7 1328.5,321 1334.5,320.2 1340.5,319.8 1346.5,319.6 1352.5,319.3 1358.5,319.4 1364.5,319.8 1370.5,320.6 1376.5,322.2 1382.5,326.8 1388.5,330.4 1394.5,332.1 1400.5,333.2 1406.5,334.4 1412.5,335.6 1418.5,336.7 1424.5,337.9 1430.5,338.8 1436.5,339.7 1442.5,340.6 1448.5,341.7 1454.5,343.1 1460.5,344.5 1466.5,345.9 1472.5,347.3 1478.5,348.6 1484.5,350 1490.5,351.7 1496.5,353.6 1502.5,356.2 1508.5,358.9 1514.5,361.8 1520.5,364.6 1526.5,367.4 1532.5,370.2 1538.5,373.1 1544.5,375.3 1550.5,377.4 1556.5,378.4 1562.5,379.3 1568.5,380.2 1574.5,381.1 1580.5,382 1586.5,382.9 1592.5,383.7 1598.5,384.4 1604.5,385.1 1610.5,385.8 1616.5,386.5 1622.5,387.2 1628.5,387.8 1634.5,388.4 1640.5,389.1 1646.5,389.6 1652.5,389.7 1658.5,389.6 1664.5,389.5 1670.5,389.1 1676.5,388.5 1682.5,387.9 1688.5,387.7 1694.5,387.4 1700.5,387.2 1706.5,387.1 1712.5,386.9 1718.5,387.1 1724.5,387.3 1728,387.4 1728,600 902.5,600" fill="url(#g3_5)"/><polygon points="902.5,355.2 908.5,355.6 914.5,355.9 920.5,356.4 926.5,356.7 932.5,356.7 938.5,356.8 944.5,357 950.5,357.3 956.5,357.6 962.5,357.9 968.5,358.4 974.5,359.1 980.5,359.7 986.5,360.4 992.5,360.9 998.5,361.5 1004.5,361.9 1010.5,362 1016.5,362.1 1022.5,362.2 1028.5,361.9 1034.5,361.6 1040.5,361.2 1046.5,360.8 1052.5,360.5 1058.5,360.3 1064.5,360 1070.5,359.8 1076.5,359.7 1082.5,359.5 1088.5,359.3 1094.5,359 1100.5,358.7 1106.5,358.5 1112.5,358.2 1118.5,357.9 1124.5,357.5 1130.5,356.8 1136.5,356.1 1142.5,355.5 1148.5,355 1154.5,354.3 1160.5,353.5 1166.5,352.7 1172.5,351.8 1178.5,350.9 1184.5,350 1190.5,349.1 1196.5,348.3 1202.5,347.6 1208.5,345.6 1214.5,343.6 1220.5,342.6 1226.5,341.8 1232.5,341.1 1233.6,341 1234,338.1 1238.5,336.8 1244.5,335.4 1250.5,333.9 1256.5,332.7 1262.5,331.5 1268.5,330.9 1274.5,330.2 1280.5,329.7 1286.5,329.3 1292.5,328.6 1298.5,327.8 1304.5,327.1 1310.5,326.3 1316.5,325.5 1322.5,324.7 1328.5,323.9 1334.5,323.1 1340.5,322.6 1346.5,322.3 1352.5,322 1358.5,322 1364.5,322.4 1370.5,323.3 1376.5,325 1382.5,329.6 1388.5,333.2 1394.5,335 1400.5,336.2 1406.5,337.5 1412.5,338.8 1418.5,340 1424.5,341.3 1430.5,342.2 1436.5,343.2 1442.5,344.2 1448.5,345.4 1454.5,346.9 1460.5,348.4 1466.5,349.9 1472.5,351.4 1478.5,352.8 1484.5,354.3 1490.5,356.1 1496.5,358.1 1502.5,360.9 1508.5,363.9 1514.5,366.8 1520.5,369.7 1526.5,372.6 1532.5,375.4 1538.5,378.4 1544.5,380.6 1550.5,382.7 1556.5,383.7 1562.5,384.7 1568.5,385.6 1574.5,386.5 1580.5,387.5 1586.5,388.4 1592.5,389.3 1598.5,390 1604.5,390.7 1610.5,391.4 1616.5,392.1 1622.5,392.8 1628.5,393.4 1634.5,394 1640.5,394.6 1646.5,395.1 1652.5,395.2 1658.5,395.1 1664.5,395 1670.5,394.6 1676.5,394 1682.5,393.4 1688.5,393.2 1694.5,393.1 1700.5,393 1706.5,392.9 1712.5,392.8 1718.5,393.1 1724.5,393.3 1728,393.5 1728,600 902.5,600" fill="url(#g3_6)"/><polygon points="902.5,359.8 908.5,360.2 914.5,360.6 920.5,361.1 926.5,361.4 932.5,361.4 938.5,361.5 944.5,361.6 950.5,361.8 956.5,362.1 962.5,362.4 968.5,362.9 974.5,363.6 980.5,364.4 986.5,365.1 992.5,365.7 998.5,366.3 1004.5,366.7 1010.5,366.9 1016.5,367.1 1022.5,367.2 1028.5,366.9 1034.5,366.6 1040.5,366.1 1046.5,365.7 1052.5,365.4 1058.5,365.1 1064.5,364.9 1070.5,364.7 1076.5,364.5 1082.5,364.3 1088.5,364.1 1094.5,363.8 1100.5,363.5 1106.5,363.2 1112.5,362.8 1118.5,362.5 1124.5,362.1 1130.5,361.4 1136.5,360.7 1142.5,360 1148.5,359.5 1154.5,358.8 1160.5,357.9 1166.5,357 1172.5,356 1178.5,355 1184.5,353.9 1190.5,352.9 1196.5,352.1 1202.5,351.3 1208.5,349.3 1214.5,347.5 1220.5,346.5 1226.5,345.7 1232.5,345.2 1233.6,345.1 1234,341.7 1238.5,340.4 1244.5,338.8 1250.5,337.2 1256.5,336 1262.5,334.7 1268.5,334 1274.5,333.4 1280.5,332.9 1286.5,332.5 1292.5,331.7 1298.5,331 1304.5,330.2 1310.5,329.3 1316.5,328.5 1322.5,327.6 1328.5,326.8 1334.5,326 1340.5,325.5 1346.5,325.1 1352.5,324.7 1358.5,324.7 1364.5,325 1370.5,325.9 1376.5,327.7 1382.5,332.4 1388.5,336 1394.5,337.8 1400.5,339.2 1406.5,340.6 1412.5,342 1418.5,343.4 1424.5,344.7 1430.5,345.7 1436.5,346.8 1442.5,347.8 1448.5,349.1 1454.5,350.7 1460.5,352.3 1466.5,353.9 1472.5,355.4 1478.5,357 1484.5,358.5 1490.5,360.4 1496.5,362.6 1502.5,365.7 1508.5,368.9 1514.5,371.9 1520.5,374.8 1526.5,377.7 1532.5,380.6 1538.5,383.8 1544.5,385.9 1550.5,387.9 1556.5,389 1562.5,390.1 1568.5,391 1574.5,392 1580.5,392.9 1586.5,393.9 1592.5,394.8 1598.5,395.5 1604.5,396.3 1610.5,397 1616.5,397.8 1622.5,398.4 1628.5,399 1634.5,399.6 1640.5,400.2 1646.5,400.7 1652.5,400.8 1658.5,400.6 1664.5,400.5 1670.5,400.1 1676.5,399.5 1682.5,399 1688.5,398.8 1694.5,398.7 1700.5,398.7 1706.5,398.7 1712.5,398.7 1718.5,399 1724.5,399.3 1728,399.5 1728,600 902.5,600" fill="url(#g3_7)"/><polygon points="902.5,364.5 908.5,364.9 914.5,365.2 920.5,365.8 926.5,366.1 932.5,366.1 938.5,366.1 944.5,366.1 950.5,366.4 956.5,366.6 962.5,366.9 968.5,367.5 974.5,368.2 980.5,369 986.5,369.8 992.5,370.4 998.5,371.1 1004.5,371.6 1010.5,371.8 1016.5,372 1022.5,372.2 1028.5,371.9 1034.5,371.6 1040.5,371.1 1046.5,370.6 1052.5,370.3 1058.5,370 1064.5,369.7 1070.5,369.5 1076.5,369.3 1082.5,369.1 1088.5,368.8 1094.5,368.5 1100.5,368.2 1106.5,367.8 1112.5,367.5 1118.5,367.2 1124.5,366.7 1130.5,366 1136.5,365.3 1142.5,364.6 1148.5,364 1154.5,363.3 1160.5,362.3 1166.5,361.3 1172.5,360.2 1178.5,359.1 1184.5,357.9 1190.5,356.8 1196.5,355.9 1202.5,354.9 1208.5,353 1214.5,351.3 1220.5,350.3 1226.5,349.7 1232.5,349.2 1233.6,349.1 1234,345.3 1238.5,343.9 1244.5,342.2 1250.5,340.5 1256.5,339.2 1262.5,337.8 1268.5,337.2 1274.5,336.6 1280.5,336.1 1286.5,335.7 1292.5,334.9 1298.5,334.1 1304.5,333.3 1310.5,332.4 1316.5,331.5 1322.5,330.6 1328.5,329.7 1334.5,328.8 1340.5,328.3 1346.5,327.8 1352.5,327.4 1358.5,327.3 1364.5,327.6 1370.5,328.6 1376.5,330.5 1382.5,335.2 1388.5,338.8 1394.5,340.7 1400.5,342.1 1406.5,343.6 1412.5,345.1 1418.5,346.7 1424.5,348.1 1430.5,349.2 1436.5,350.3 1442.5,351.4 1448.5,352.8 1454.5,354.5 1460.5,356.2 1466.5,357.9 1472.5,359.5 1478.5,361.1 1484.5,362.8 1490.5,364.8 1496.5,367 1502.5,370.4 1508.5,373.9 1514.5,376.9 1520.5,380 1526.5,382.9 1532.5,385.8 1538.5,389.1 1544.5,391.2 1550.5,393.2 1556.5,394.3 1562.5,395.4 1568.5,396.4 1574.5,397.4 1580.5,398.4 1586.5,399.4 1592.5,400.3 1598.5,401.1 1604.5,401.9 1610.5,402.6 1616.5,403.4 1622.5,404 1628.5,404.6 1634.5,405.1 1640.5,405.7 1646.5,406.2 1652.5,406.3 1658.5,406.2 1664.5,406 1670.5,405.6 1676.5,405 1682.5,404.5 1688.5,404.4 1694.5,404.4 1700.5,404.4 1706.5,404.5 1712.5,404.6 1718.5,404.9 1724.5,405.3 1728,405.5 1728,600 902.5,600" fill="url(#g3_8)"/><polygon points="902.5,369.1 908.5,369.5 914.5,369.9 920.5,370.5 926.5,370.8 932.5,370.8 938.5,370.7 944.5,370.7 950.5,370.9 956.5,371.2 962.5,371.4 968.5,372 974.5,372.8 980.5,373.7 986.5,374.5 992.5,375.2 998.5,375.8 1004.5,376.4 1010.5,376.7 1016.5,377 1022.5,377.2 1028.5,376.9 1034.5,376.6 1040.5,376 1046.5,375.5 1052.5,375.1 1058.5,374.8 1064.5,374.5 1070.5,374.3 1076.5,374.1 1082.5,373.9 1088.5,373.6 1094.5,373.3 1100.5,372.9 1106.5,372.5 1112.5,372.2 1118.5,371.8 1124.5,371.3 1130.5,370.6 1136.5,369.8 1142.5,369.1 1148.5,368.5 1154.5,367.7 1160.5,366.7 1166.5,365.7 1172.5,364.5 1178.5,363.2 1184.5,361.9 1190.5,360.6 1196.5,359.6 1202.5,358.6 1208.5,356.8 1214.5,355.1 1220.5,354.2 1226.5,353.6 1232.5,353.3 1233.6,353.2 1234,348.8 1238.5,347.4 1244.5,345.6 1250.5,343.8 1256.5,342.4 1262.5,341 1268.5,340.3 1274.5,339.8 1280.5,339.3 1286.5,338.9 1292.5,338.1 1298.5,337.3 1304.5,336.4 1310.5,335.4 1316.5,334.5 1322.5,333.5 1328.5,332.6 1334.5,331.7 1340.5,331.1 1346.5,330.6 1352.5,330.1 1358.5,330 1364.5,330.2 1370.5,331.2 1376.5,333.2 1382.5,338 1388.5,341.6 1394.5,343.6 1400.5,345.1 1406.5,346.7 1412.5,348.3 1418.5,350 1424.5,351.5 1430.5,352.6 1436.5,353.8 1442.5,355 1448.5,356.5 1454.5,358.3 1460.5,360.1 1466.5,362 1472.5,363.6 1478.5,365.3 1484.5,367.1 1490.5,369.2 1496.5,371.5 1502.5,375.2 1508.5,378.8 1514.5,381.9 1520.5,385.1 1526.5,388.1 1532.5,391.1 1538.5,394.5 1544.5,396.5 1550.5,398.5 1556.5,399.6 1562.5,400.8 1568.5,401.9 1574.5,402.9 1580.5,403.9 1586.5,404.9 1592.5,405.9 1598.5,406.7 1604.5,407.4 1610.5,408.2 1616.5,409 1622.5,409.6 1628.5,410.2 1634.5,410.7 1640.5,411.3 1646.5,411.7 1652.5,411.9 1658.5,411.7 1664.5,411.5 1670.5,411.1 1676.5,410.5 1682.5,410 1688.5,410 1694.5,410.1 1700.5,410.2 1706.5,410.3 1712.5,410.5 1718.5,410.9 1724.5,411.3 1728,411.6 1728,600 902.5,600" fill="url(#g3_9)"/><polygon points="902.5,373.8 908.5,374.2 914.5,374.6 920.5,375.2 926.5,375.6 932.5,375.4 938.5,375.3 944.5,375.3 950.5,375.5 956.5,375.7 962.5,375.9 968.5,376.5 974.5,377.4 980.5,378.3 986.5,379.2 992.5,379.9 998.5,380.6 1004.5,381.3 1010.5,381.6 1016.5,381.9 1022.5,382.2 1028.5,381.9 1034.5,381.6 1040.5,381 1046.5,380.4 1052.5,380 1058.5,379.7 1064.5,379.4 1070.5,379.1 1076.5,378.9 1082.5,378.7 1088.5,378.4 1094.5,378 1100.5,377.6 1106.5,377.2 1112.5,376.8 1118.5,376.4 1124.5,375.9 1130.5,375.1 1136.5,374.4 1142.5,373.7 1148.5,373 1154.5,372.2 1160.5,371.1 1166.5,370 1172.5,368.7 1178.5,367.3 1184.5,365.9 1190.5,364.5 1196.5,363.4 1202.5,362.3 1208.5,360.5 1214.5,358.9 1220.5,358.1 1226.5,357.6 1232.5,357.3 1233.6,357.2 1234,352.4 1238.5,350.9 1244.5,348.9 1250.5,347.1 1256.5,345.6 1262.5,344.1 1268.5,343.5 1274.5,342.9 1280.5,342.5 1286.5,342.1 1292.5,341.3 1298.5,340.4 1304.5,339.5 1310.5,338.5 1316.5,337.5 1322.5,336.5 1328.5,335.5 1334.5,334.5 1340.5,333.9 1346.5,333.4 1352.5,332.8 1358.5,332.6 1364.5,332.8 1370.5,333.9 1376.5,335.9 1382.5,340.7 1388.5,344.4 1394.5,346.4 1400.5,348.1 1406.5,349.8 1412.5,351.5 1418.5,353.3 1424.5,354.9 1430.5,356.1 1436.5,357.3 1442.5,358.6 1448.5,360.2 1454.5,362.1 1460.5,364 1466.5,366 1472.5,367.7 1478.5,369.5 1484.5,371.3 1490.5,373.5 1496.5,376 1502.5,379.9 1508.5,383.8 1514.5,387 1520.5,390.2 1526.5,393.2 1532.5,396.3 1538.5,399.8 1544.5,401.8 1550.5,403.8 1556.5,405 1562.5,406.2 1568.5,407.3 1574.5,408.3 1580.5,409.4 1586.5,410.4 1592.5,411.4 1598.5,412.2 1604.5,413 1610.5,413.8 1616.5,414.6 1622.5,415.2 1628.5,415.8 1634.5,416.3 1640.5,416.8 1646.5,417.3 1652.5,417.4 1658.5,417.2 1664.5,417 1670.5,416.6 1676.5,416 1682.5,415.5 1688.5,415.6 1694.5,415.7 1700.5,415.9 1706.5,416.1 1712.5,416.3 1718.5,416.8 1724.5,417.3 1728,417.6 1728,600 902.5,600" fill="url(#g3_10)"/><polygon points="902.5,378.4 908.5,378.8 914.5,379.3 920.5,379.9 926.5,380.3 932.5,380.1 938.5,379.9 944.5,379.8 950.5,380 956.5,380.2 962.5,380.4 968.5,381.1 974.5,382 980.5,383 986.5,383.9 992.5,384.7 998.5,385.4 1004.5,386.1 1010.5,386.5 1016.5,386.9 1022.5,387.2 1028.5,386.9 1034.5,386.6 1040.5,385.9 1046.5,385.3 1052.5,384.9 1058.5,384.6 1064.5,384.2 1070.5,384 1076.5,383.7 1082.5,383.5 1088.5,383.2 1094.5,382.8 1100.5,382.3 1106.5,381.9 1112.5,381.5 1118.5,381.1 1124.5,380.5 1130.5,379.7 1136.5,379 1142.5,378.2 1148.5,377.6 1154.5,376.7 1160.5,375.5 1166.5,374.3 1172.5,372.9 1178.5,371.4 1184.5,369.9 1190.5,368.4 1196.5,367.2 1202.5,366 1208.5,364.2 1214.5,362.8 1220.5,361.9 1226.5,361.5 1232.5,361.3 1233.6,361.3 1234,356 1238.5,354.4 1244.5,352.3 1250.5,350.4 1256.5,348.8 1262.5,347.3 1268.5,346.7 1274.5,346.1 1280.5,345.7 1286.5,345.3 1292.5,344.4 1298.5,343.5 1304.5,342.6 1310.5,341.6 1316.5,340.5 1322.5,339.5 1328.5,338.4 1334.5,337.4 1340.5,336.7 1346.5,336.1 1352.5,335.5 1358.5,335.3 1364.5,335.4 1370.5,336.5 1376.5,338.7 1382.5,343.5 1388.5,347.2 1394.5,349.3 1400.5,351 1406.5,352.9 1412.5,354.7 1418.5,356.6 1424.5,358.3 1430.5,359.6 1436.5,360.9 1442.5,362.2 1448.5,363.9 1454.5,365.9 1460.5,367.9 1466.5,370 1472.5,371.8 1478.5,373.7 1484.5,375.6 1490.5,377.9 1496.5,380.5 1502.5,384.6 1508.5,388.8 1514.5,392 1520.5,395.3 1526.5,398.4 1532.5,401.5 1538.5,405.1 1544.5,407.1 1550.5,409 1556.5,410.3 1562.5,411.5 1568.5,412.7 1574.5,413.7 1580.5,414.8 1586.5,415.9 1592.5,416.9 1598.5,417.8 1604.5,418.6 1610.5,419.4 1616.5,420.2 1622.5,420.8 1628.5,421.3 1634.5,421.9 1640.5,422.4 1646.5,422.8 1652.5,423 1658.5,422.8 1664.5,422.5 1670.5,422.1 1676.5,421.6 1682.5,421 1688.5,421.1 1694.5,421.4 1700.5,421.6 1706.5,421.9 1712.5,422.2 1718.5,422.8 1724.5,423.3 1728,423.6 1728,600 902.5,600" fill="url(#g3_11)"/><polygon points="902.5,383 908.5,383.5 914.5,383.9 920.5,384.6 926.5,385 932.5,384.8 938.5,384.6 944.5,384.4 950.5,384.6 956.5,384.8 962.5,384.9 968.5,385.6 974.5,386.6 980.5,387.6 986.5,388.7 992.5,389.4 998.5,390.2 1004.5,391 1010.5,391.4 1016.5,391.9 1022.5,392.2 1028.5,391.9 1034.5,391.5 1040.5,390.9 1046.5,390.2 1052.5,389.8 1058.5,389.4 1064.5,389.1 1070.5,388.8 1076.5,388.5 1082.5,388.3 1088.5,388 1094.5,387.5 1100.5,387.1 1106.5,386.6 1112.5,386.1 1118.5,385.7 1124.5,385.1 1130.5,384.3 1136.5,383.5 1142.5,382.8 1148.5,382.1 1154.5,381.1 1160.5,379.9 1166.5,378.7 1172.5,377.1 1178.5,375.5 1184.5,373.8 1190.5,372.2 1196.5,370.9 1202.5,369.7 1208.5,367.9 1214.5,366.6 1220.5,365.8 1226.5,365.5 1232.5,365.4 1233.6,365.4 1234,359.6 1238.5,357.9 1244.5,355.7 1250.5,353.7 1256.5,352 1262.5,350.4 1268.5,349.8 1274.5,349.3 1280.5,348.9 1286.5,348.5 1292.5,347.6 1298.5,346.7 1304.5,345.7 1310.5,344.6 1316.5,343.5 1322.5,342.4 1328.5,341.3 1334.5,340.3 1340.5,339.5 1346.5,338.9 1352.5,338.2 1358.5,337.9 1364.5,338 1370.5,339.2 1376.5,341.4 1382.5,346.3 1388.5,350 1394.5,352.2 1400.5,354 1406.5,356 1412.5,357.9 1418.5,359.9 1424.5,361.7 1430.5,363 1436.5,364.4 1442.5,365.8 1448.5,367.6 1454.5,369.7 1460.5,371.8 1466.5,374 1472.5,375.9 1478.5,377.9 1484.5,379.9 1490.5,382.2 1496.5,385 1502.5,389.4 1508.5,393.8 1514.5,397.1 1520.5,400.4 1526.5,403.5 1532.5,406.7 1538.5,410.5 1544.5,412.4 1550.5,414.3 1556.5,415.6 1562.5,416.9 1568.5,418.1 1574.5,419.2 1580.5,420.3 1586.5,421.4 1592.5,422.5 1598.5,423.3 1604.5,424.2 1610.5,425 1616.5,425.9 1622.5,426.4 1628.5,426.9 1634.5,427.4 1640.5,427.9 1646.5,428.3 1652.5,428.5 1658.5,428.3 1664.5,428 1670.5,427.6 1676.5,427.1 1682.5,426.5 1688.5,426.7 1694.5,427 1700.5,427.3 1706.5,427.7 1712.5,428.1 1718.5,428.7 1724.5,429.3 1728,429.7 1728,600 902.5,600" fill="url(#g3_12)"/><polygon points="902.5,387.7 908.5,388.1 914.5,388.6 920.5,389.4 926.5,389.7 932.5,389.5 938.5,389.2 944.5,389 950.5,389.1 956.5,389.3 962.5,389.4 968.5,390.1 974.5,391.2 980.5,392.3 986.5,393.4 992.5,394.2 998.5,395 1004.5,395.8 1010.5,396.3 1016.5,396.8 1022.5,397.2 1028.5,397 1034.5,396.5 1040.5,395.8 1046.5,395.1 1052.5,394.6 1058.5,394.3 1064.5,393.9 1070.5,393.6 1076.5,393.3 1082.5,393.1 1088.5,392.7 1094.5,392.3 1100.5,391.8 1106.5,391.3 1112.5,390.8 1118.5,390.3 1124.5,389.7 1130.5,388.9 1136.5,388.1 1142.5,387.3 1148.5,386.6 1154.5,385.6 1160.5,384.3 1166.5,383 1172.5,381.4 1178.5,379.6 1184.5,377.8 1190.5,376.1 1196.5,374.7 1202.5,373.3 1208.5,371.6 1214.5,370.4 1220.5,369.7 1226.5,369.4 1232.5,369.4 1233.6,369.4 1234,363.2 1238.5,361.4 1244.5,359.1 1250.5,356.9 1256.5,355.3 1262.5,353.6 1268.5,353 1274.5,352.5 1280.5,352.1 1286.5,351.7 1292.5,350.8 1298.5,349.8 1304.5,348.8 1310.5,347.7 1316.5,346.5 1322.5,345.4 1328.5,344.2 1334.5,343.1 1340.5,342.3 1346.5,341.6 1352.5,340.9 1358.5,340.5 1364.5,340.6 1370.5,341.8 1376.5,344.2 1382.5,349.1 1388.5,352.8 1394.5,355 1400.5,357 1406.5,359 1412.5,361.1 1418.5,363.2 1424.5,365.1 1430.5,366.5 1436.5,367.9 1442.5,369.4 1448.5,371.2 1454.5,373.5 1460.5,375.7 1466.5,378 1472.5,380 1478.5,382 1484.5,384.1 1490.5,386.6 1496.5,389.4 1502.5,394.1 1508.5,398.7 1514.5,402.1 1520.5,405.5 1526.5,408.7 1532.5,411.9 1538.5,415.8 1544.5,417.7 1550.5,419.6 1556.5,420.9 1562.5,422.3 1568.5,423.5 1574.5,424.6 1580.5,425.8 1586.5,426.9 1592.5,428 1598.5,428.9 1604.5,429.7 1610.5,430.6 1616.5,431.5 1622.5,432.1 1628.5,432.5 1634.5,433 1640.5,433.5 1646.5,433.9 1652.5,434.1 1658.5,433.8 1664.5,433.5 1670.5,433.1 1676.5,432.6 1682.5,432 1688.5,432.3 1694.5,432.7 1700.5,433.1 1706.5,433.5 1712.5,434 1718.5,434.6 1724.5,435.3 1728,435.7 1728,600 902.5,600" fill="url(#g3_13)"/><polygon points="902.5,392.3 908.5,392.8 914.5,393.3 920.5,394.1 926.5,394.5 932.5,394.1 938.5,393.8 944.5,393.6 950.5,393.7 956.5,393.8 962.5,393.9 968.5,394.7 974.5,395.8 980.5,397 986.5,398.1 992.5,399 998.5,399.8 1004.5,400.7 1010.5,401.2 1016.5,401.8 1022.5,402.2 1028.5,402 1034.5,401.5 1040.5,400.8 1046.5,400.1 1052.5,399.5 1058.5,399.1 1064.5,398.7 1070.5,398.4 1076.5,398.2 1082.5,397.9 1088.5,397.5 1094.5,397 1100.5,396.5 1106.5,396 1112.5,395.5 1118.5,394.9 1124.5,394.3 1130.5,393.5 1136.5,392.7 1142.5,391.9 1148.5,391.1 1154.5,390.1 1160.5,388.7 1166.5,387.3 1172.5,385.6 1178.5,383.7 1184.5,381.8 1190.5,379.9 1196.5,378.5 1202.5,377 1208.5,375.4 1214.5,374.3 1220.5,373.5 1226.5,373.4 1232.5,373.5 1233.6,373.5 1234,366.8 1238.5,364.9 1244.5,362.5 1250.5,360.2 1256.5,358.5 1262.5,356.7 1268.5,356.1 1274.5,355.7 1280.5,355.3 1286.5,354.9 1292.5,354 1298.5,353 1304.5,351.9 1310.5,350.7 1316.5,349.5 1322.5,348.3 1328.5,347.2 1334.5,346 1340.5,345.1 1346.5,344.4 1352.5,343.6 1358.5,343.2 1364.5,343.2 1370.5,344.5 1376.5,346.9 1382.5,351.9 1388.5,355.6 1394.5,357.9 1400.5,359.9 1406.5,362.1 1412.5,364.3 1418.5,366.5 1424.5,368.5 1430.5,370 1436.5,371.5 1442.5,373 1448.5,374.9 1454.5,377.3 1460.5,379.6 1466.5,382 1472.5,384.1 1478.5,386.2 1484.5,388.4 1490.5,390.9 1496.5,393.9 1502.5,398.9 1508.5,403.7 1514.5,407.2 1520.5,410.6 1526.5,413.9 1532.5,417.1 1538.5,421.1 1544.5,423 1550.5,424.9 1556.5,426.3 1562.5,427.7 1568.5,428.9 1574.5,430.1 1580.5,431.3 1586.5,432.4 1592.5,433.5 1598.5,434.4 1604.5,435.3 1610.5,436.2 1616.5,437.1 1622.5,437.7 1628.5,438.1 1634.5,438.6 1640.5,439 1646.5,439.4 1652.5,439.6 1658.5,439.4 1664.5,439 1670.5,438.6 1676.5,438.1 1682.5,437.6 1688.5,437.9 1694.5,438.3 1700.5,438.8 1706.5,439.3 1712.5,439.9 1718.5,440.6 1724.5,441.3 1728,441.7 1728,600 902.5,600" fill="url(#g3_14)"/><polygon points="902.5,396.9 908.5,397.4 914.5,398 920.5,398.8 926.5,399.2 932.5,398.8 938.5,398.4 944.5,398.1 950.5,398.2 956.5,398.4 962.5,398.5 968.5,399.2 974.5,400.4 980.5,401.6 986.5,402.8 992.5,403.7 998.5,404.6 1004.5,405.5 1010.5,406.1 1016.5,406.7 1022.5,407.2 1028.5,407 1034.5,406.5 1040.5,405.7 1046.5,405 1052.5,404.4 1058.5,404 1064.5,403.6 1070.5,403.3 1076.5,403 1082.5,402.7 1088.5,402.3 1094.5,401.8 1100.5,401.2 1106.5,400.7 1112.5,400.1 1118.5,399.6 1124.5,398.9 1130.5,398.1 1136.5,397.2 1142.5,396.4 1148.5,395.6 1154.5,394.6 1160.5,393.1 1166.5,391.7 1172.5,389.8 1178.5,387.8 1184.5,385.8 1190.5,383.8 1196.5,382.2 1202.5,380.7 1208.5,379.1 1214.5,378.1 1220.5,377.4 1226.5,377.3 1232.5,377.5 1233.6,377.6 1234,370.4 1238.5,368.5 1244.5,365.9 1250.5,363.5 1256.5,361.7 1262.5,359.9 1268.5,359.3 1274.5,358.8 1280.5,358.5 1286.5,358.1 1292.5,357.1 1298.5,356.1 1304.5,355.1 1310.5,353.8 1316.5,352.5 1322.5,351.3 1328.5,350.1 1334.5,348.8 1340.5,347.9 1346.5,347.1 1352.5,346.4 1358.5,345.8 1364.5,345.8 1370.5,347.1 1376.5,349.6 1382.5,354.7 1388.5,358.4 1394.5,360.7 1400.5,362.9 1406.5,365.2 1412.5,367.5 1418.5,369.8 1424.5,371.9 1430.5,373.4 1436.5,375 1442.5,376.5 1448.5,378.6 1454.5,381.1 1460.5,383.5 1466.5,386 1472.5,388.2 1478.5,390.4 1484.5,392.6 1490.5,395.3 1496.5,398.4 1502.5,403.6 1508.5,408.7 1514.5,412.2 1520.5,415.7 1526.5,419 1532.5,422.3 1538.5,426.5 1544.5,428.3 1550.5,430.1 1556.5,431.6 1562.5,433 1568.5,434.3 1574.5,435.5 1580.5,436.7 1586.5,437.9 1592.5,439.1 1598.5,440 1604.5,440.9 1610.5,441.8 1616.5,442.7 1622.5,443.3 1628.5,443.7 1634.5,444.1 1640.5,444.6 1646.5,444.9 1652.5,445.2 1658.5,444.9 1664.5,444.6 1670.5,444.1 1676.5,443.6 1682.5,443.1 1688.5,443.5 1694.5,444 1700.5,444.5 1706.5,445.1 1712.5,445.7 1718.5,446.5 1724.5,447.3 1728,447.8 1728,600 902.5,600" fill="url(#g3_15)"/><polygon points="902.5,401.6 908.5,402.1 914.5,402.6 920.5,403.5 926.5,403.9 932.5,403.5 938.5,403 944.5,402.7 950.5,402.8 956.5,402.9 962.5,403 968.5,403.8 974.5,405 980.5,406.3 986.5,407.5 992.5,408.5 998.5,409.4 1004.5,410.3 1010.5,411 1016.5,411.7 1022.5,412.2 1028.5,412 1034.5,411.5 1040.5,410.7 1046.5,409.9 1052.5,409.3 1058.5,408.8 1064.5,408.4 1070.5,408.1 1076.5,407.8 1082.5,407.5 1088.5,407.1 1094.5,406.5 1100.5,405.9 1106.5,405.4 1112.5,404.8 1118.5,404.2 1124.5,403.5 1130.5,402.7 1136.5,401.8 1142.5,401 1148.5,400.2 1154.5,399 1160.5,397.5 1166.5,396 1172.5,394 1178.5,391.9 1184.5,389.7 1190.5,387.7 1196.5,386 1202.5,384.4 1208.5,382.8 1214.5,381.9 1220.5,381.3 1226.5,381.3 1232.5,381.6 1233.6,381.6 1234,374 1238.5,372 1244.5,369.3 1250.5,366.8 1256.5,364.9 1262.5,363 1268.5,362.4 1274.5,362 1280.5,361.6 1286.5,361.3 1292.5,360.3 1298.5,359.3 1304.5,358.2 1310.5,356.9 1316.5,355.5 1322.5,354.2 1328.5,353 1334.5,351.7 1340.5,350.7 1346.5,349.9 1352.5,349.1 1358.5,348.5 1364.5,348.5 1370.5,349.8 1376.5,352.4 1382.5,357.5 1388.5,361.2 1394.5,363.6 1400.5,365.9 1406.5,368.3 1412.5,370.7 1418.5,373.1 1424.5,375.3 1430.5,376.9 1436.5,378.5 1442.5,380.1 1448.5,382.3 1454.5,384.9 1460.5,387.4 1466.5,390 1472.5,392.3 1478.5,394.6 1484.5,396.9 1490.5,399.6 1496.5,402.9 1502.5,408.4 1508.5,413.7 1514.5,417.2 1520.5,420.8 1526.5,424.2 1532.5,427.6 1538.5,431.8 1544.5,433.6 1550.5,435.4 1556.5,436.9 1562.5,438.4 1568.5,439.7 1574.5,441 1580.5,442.2 1586.5,443.4 1592.5,444.6 1598.5,445.5 1604.5,446.5 1610.5,447.4 1616.5,448.3 1622.5,448.9 1628.5,449.3 1634.5,449.7 1640.5,450.1 1646.5,450.5 1652.5,450.7 1658.5,450.5 1664.5,450.1 1670.5,449.6 1676.5,449.1 1682.5,448.6 1688.5,449.1 1694.5,449.6 1700.5,450.2 1706.5,450.9 1712.5,451.6 1718.5,452.5 1724.5,453.3 1728,453.8 1728,600 902.5,600" fill="url(#g3_16)"/><polygon points="902.5,406.2 908.5,406.8 914.5,407.3 920.5,408.2 926.5,408.7 932.5,408.2 938.5,407.7 944.5,407.3 950.5,407.3 956.5,407.4 962.5,407.5 968.5,408.3 974.5,409.6 980.5,410.9 986.5,412.2 992.5,413.2 998.5,414.2 1004.5,415.2 1010.5,415.9 1016.5,416.6 1022.5,417.2 1028.5,417 1034.5,416.5 1040.5,415.6 1046.5,414.8 1052.5,414.2 1058.5,413.7 1064.5,413.2 1070.5,412.9 1076.5,412.6 1082.5,412.3 1088.5,411.9 1094.5,411.3 1100.5,410.7 1106.5,410 1112.5,409.4 1118.5,408.8 1124.5,408.1 1130.5,407.2 1136.5,406.4 1142.5,405.5 1148.5,404.7 1154.5,403.5 1160.5,401.9 1166.5,400.3 1172.5,398.2 1178.5,396 1184.5,393.7 1190.5,391.5 1196.5,389.8 1202.5,388 1208.5,386.5 1214.5,385.7 1220.5,385.1 1226.5,385.2 1232.5,385.6 1233.6,385.7 1234,377.6 1238.5,375.5 1244.5,372.7 1250.5,370.1 1256.5,368.1 1262.5,366.1 1268.5,365.6 1274.5,365.2 1280.5,364.8 1286.5,364.5 1292.5,363.5 1298.5,362.4 1304.5,361.3 1310.5,359.9 1316.5,358.6 1322.5,357.2 1328.5,355.9 1334.5,354.6 1340.5,353.5 1346.5,352.7 1352.5,351.8 1358.5,351.1 1364.5,351.1 1370.5,352.4 1376.5,355.1 1382.5,360.2 1388.5,364 1394.5,366.5 1400.5,368.8 1406.5,371.3 1412.5,373.8 1418.5,376.4 1424.5,378.7 1430.5,380.4 1436.5,382 1442.5,383.7 1448.5,386 1454.5,388.7 1460.5,391.4 1466.5,394 1472.5,396.4 1478.5,398.8 1484.5,401.2 1490.5,404 1496.5,407.4 1502.5,413.1 1508.5,418.7 1514.5,422.3 1520.5,425.9 1526.5,429.3 1532.5,432.8 1538.5,437.1 1544.5,438.9 1550.5,440.7 1556.5,442.2 1562.5,443.8 1568.5,445.1 1574.5,446.4 1580.5,447.7 1586.5,449 1592.5,450.1 1598.5,451.1 1604.5,452.1 1610.5,453 1616.5,454 1622.5,454.5 1628.5,454.9 1634.5,455.3 1640.5,455.7 1646.5,456 1652.5,456.3 1658.5,456 1664.5,455.6 1670.5,455.1 1676.5,454.6 1682.5,454.1 1688.5,454.6 1694.5,455.3 1700.5,456 1706.5,456.7 1712.5,457.5 1718.5,458.4 1724.5,459.3 1728,459.8 1728,600 902.5,600" fill="url(#g3_17)"/><polygon points="902.5,410.8 908.5,411.4 914.5,412 920.5,412.9 926.5,413.4 932.5,412.8 938.5,412.3 944.5,411.9 950.5,411.9 956.5,411.9 962.5,412 968.5,412.8 974.5,414.2 980.5,415.6 986.5,416.9 992.5,418 998.5,419 1004.5,420 1010.5,420.8 1016.5,421.6 1022.5,422.3 1028.5,422 1034.5,421.5 1040.5,420.6 1046.5,419.7 1052.5,419 1058.5,418.6 1064.5,418.1 1070.5,417.7 1076.5,417.4 1082.5,417.1 1088.5,416.7 1094.5,416 1100.5,415.4 1106.5,414.7 1112.5,414.1 1118.5,413.5 1124.5,412.7 1130.5,411.8 1136.5,410.9 1142.5,410.1 1148.5,409.2 1154.5,408 1160.5,406.3 1166.5,404.7 1172.5,402.5 1178.5,400.1 1184.5,397.7 1190.5,395.4 1196.5,393.5 1202.5,391.7 1208.5,390.3 1214.5,389.6 1220.5,389 1226.5,389.2 1232.5,389.7 1233.6,389.8 1234,381.2 1238.5,379 1244.5,376.1 1250.5,373.4 1256.5,371.3 1262.5,369.3 1268.5,368.8 1274.5,368.4 1280.5,368 1286.5,367.7 1292.5,366.7 1298.5,365.5 1304.5,364.4 1310.5,363 1316.5,361.6 1322.5,360.2 1328.5,358.8 1334.5,357.4 1340.5,356.3 1346.5,355.4 1352.5,354.5 1358.5,353.8 1364.5,353.7 1370.5,355.1 1376.5,357.8 1382.5,363 1388.5,366.8 1394.5,369.3 1400.5,371.8 1406.5,374.4 1412.5,377 1418.5,379.7 1424.5,382.1 1430.5,383.8 1436.5,385.6 1442.5,387.3 1448.5,389.7 1454.5,392.5 1460.5,395.3 1466.5,398 1472.5,400.5 1478.5,403 1484.5,405.4 1490.5,408.3 1496.5,411.8 1502.5,417.8 1508.5,423.6 1514.5,427.3 1520.5,431 1526.5,434.5 1532.5,438 1538.5,442.5 1544.5,444.2 1550.5,446 1556.5,447.6 1562.5,449.1 1568.5,450.5 1574.5,451.8 1580.5,453.1 1586.5,454.5 1592.5,455.7 1598.5,456.7 1604.5,457.6 1610.5,458.6 1616.5,459.6 1622.5,460.1 1628.5,460.5 1634.5,460.8 1640.5,461.2 1646.5,461.6 1652.5,461.8 1658.5,461.5 1664.5,461.1 1670.5,460.6 1676.5,460.1 1682.5,459.6 1688.5,460.2 1694.5,460.9 1700.5,461.7 1706.5,462.5 1712.5,463.4 1718.5,464.3 1724.5,465.3 1728,465.8 1728,600 902.5,600" fill="url(#g3_18)"/><polygon points="902.5,415.5 908.5,416.1 914.5,416.7 920.5,417.7 926.5,418.1 932.5,417.5 938.5,416.9 944.5,416.4 950.5,416.4 956.5,416.5 962.5,416.5 968.5,417.4 974.5,418.8 980.5,420.2 986.5,421.7 992.5,422.7 998.5,423.8 1004.5,424.9 1010.5,425.7 1016.5,426.6 1022.5,427.3 1028.5,427 1034.5,426.5 1040.5,425.5 1046.5,424.6 1052.5,423.9 1058.5,423.4 1064.5,422.9 1070.5,422.6 1076.5,422.2 1082.5,421.9 1088.5,421.4 1094.5,420.8 1100.5,420.1 1106.5,419.4 1112.5,418.8 1118.5,418.1 1124.5,417.3 1130.5,416.4 1136.5,415.5 1142.5,414.6 1148.5,413.7 1154.5,412.5 1160.5,410.7 1166.5,409 1172.5,406.7 1178.5,404.2 1184.5,401.7 1190.5,399.2 1196.5,397.3 1202.5,395.4 1208.5,394 1214.5,393.4 1220.5,392.9 1226.5,393.1 1232.5,393.7 1233.6,393.8 1234,384.8 1238.5,382.5 1244.5,379.5 1250.5,376.7 1256.5,374.5 1262.5,372.4 1268.5,371.9 1274.5,371.6 1280.5,371.2 1286.5,370.9 1292.5,369.8 1298.5,368.7 1304.5,367.5 1310.5,366 1316.5,364.6 1322.5,363.1 1328.5,361.7 1334.5,360.3 1340.5,359.2 1346.5,358.2 1352.5,357.2 1358.5,356.4 1364.5,356.3 1370.5,357.7 1376.5,360.6 1382.5,365.8 1388.5,369.6 1394.5,372.2 1400.5,374.8 1406.5,377.5 1412.5,380.2 1418.5,383 1424.5,385.5 1430.5,387.3 1436.5,389.1 1442.5,390.9 1448.5,393.4 1454.5,396.3 1460.5,399.2 1466.5,402 1472.5,404.6 1478.5,407.1 1484.5,409.7 1490.5,412.7 1496.5,416.3 1502.5,422.6 1508.5,428.6 1514.5,432.4 1520.5,436.1 1526.5,439.7 1532.5,443.2 1538.5,447.8 1544.5,449.5 1550.5,451.2 1556.5,452.9 1562.5,454.5 1568.5,455.9 1574.5,457.3 1580.5,458.6 1586.5,460 1592.5,461.2 1598.5,462.2 1604.5,463.2 1610.5,464.2 1616.5,465.2 1622.5,465.7 1628.5,466.1 1634.5,466.4 1640.5,466.8 1646.5,467.1 1652.5,467.4 1658.5,467.1 1664.5,466.6 1670.5,466.1 1676.5,465.6 1682.5,465.1 1688.5,465.8 1694.5,466.6 1700.5,467.4 1706.5,468.3 1712.5,469.3 1718.5,470.3 1724.5,471.3 1728,471.9 1728,600 902.5,600" fill="url(#g3_19)"/></g>
<polyline points="902.5,327.4 908.5,327.6 914.5,327.8 920.5,328.1 926.5,328.3 932.5,328.7 938.5,329.1 944.5,329.6 950.5,330 956.5,330.4 962.5,330.8 968.5,331.2 974.5,331.5 980.5,331.8 986.5,332.1 992.5,332.4 998.5,332.7 1004.5,332.8 1010.5,332.6 1016.5,332.4 1022.5,332.1 1028.5,331.9 1034.5,331.6 1040.5,331.5 1046.5,331.3 1052.5,331.2 1058.5,331.1 1064.5,331 1070.5,330.9 1076.5,330.8 1082.5,330.7 1088.5,330.6 1094.5,330.5 1100.5,330.4 1106.5,330.3 1112.5,330.2 1118.5,330.2 1124.5,329.9 1130.5,329.3 1136.5,328.7 1142.5,328.2 1148.5,327.8 1154.5,327.5 1160.5,327.1 1166.5,326.7 1172.5,326.5 1178.5,326.3 1184.5,326.1 1190.5,325.9 1196.5,325.7 1202.5,325.5 1208.5,323.3 1214.5,320.7 1220.5,319.4 1226.5,318.1 1232.5,316.8 1233.6,316.6 1234,316.5 1238.5,315.8 1244.5,315 1250.5,314.2 1256.5,313.4 1262.5,312.7 1268.5,311.9 1274.5,311.1 1280.5,310.6 1286.5,310.1 1292.5,309.5 1298.5,309 1304.5,308.4 1310.5,307.9 1316.5,307.4 1322.5,306.9 1328.5,306.4 1334.5,305.9 1340.5,305.8 1346.5,305.8 1352.5,305.8 1358.5,306.1 1364.5,306.8 1370.5,307.4 1376.5,308.6 1382.5,312.9 1388.5,316.4 1394.5,317.8 1400.5,318.4 1406.5,319 1412.5,319.6 1418.5,320.2 1424.5,320.8 1430.5,321.4 1436.5,322 1442.5,322.6 1448.5,323.2 1454.5,324.1 1460.5,325 1466.5,325.9 1472.5,326.8 1478.5,327.7 1484.5,328.7 1490.5,330 1496.5,331.2 1502.5,332.5 1508.5,334 1514.5,336.6 1520.5,339.1 1526.5,341.6 1532.5,344.1 1538.5,346.4 1544.5,348.7 1550.5,351 1556.5,351.7 1562.5,352.5 1568.5,353.2 1574.5,353.9 1580.5,354.6 1586.5,355.4 1592.5,356 1598.5,356.6 1604.5,357.2 1610.5,357.8 1616.5,358.4 1622.5,359.1 1628.5,359.9 1634.5,360.6 1640.5,361.3 1646.5,361.9 1652.5,361.9 1658.5,361.9 1664.5,361.9 1670.5,361.5 1676.5,360.9 1682.5,360.3 1688.5,359.8 1694.5,359.2 1700.5,358.6 1706.5,358.1 1712.5,357.5 1718.5,357.4 1724.5,357.3 1728,357.3" fill="none" stroke="#111" stroke-width="1"/>
<polyline points="902.5,420.1 908.5,420.7 914.5,421.3 920.5,422.4 926.5,422.8 932.5,422.2 938.5,421.5 944.5,421 950.5,421 956.5,421 962.5,421 968.5,421.9 974.5,423.4 980.5,424.9 986.5,426.4 992.5,427.5 998.5,428.6 1004.5,429.7 1010.5,430.6 1016.5,431.5 1022.5,432.3 1028.5,432 1034.5,431.5 1040.5,430.5 1046.5,429.5 1052.5,428.8 1058.5,428.3 1064.5,427.8 1070.5,427.4 1076.5,427 1082.5,426.7 1088.5,426.2 1094.5,425.5 1100.5,424.8 1106.5,424.1 1112.5,423.4 1118.5,422.7 1124.5,421.9 1130.5,421 1136.5,420.1 1142.5,419.2 1148.5,418.2 1154.5,416.9 1160.5,415.1 1166.5,413.3 1172.5,410.9 1178.5,408.3 1184.5,405.7 1190.5,403.1 1196.5,401.1 1202.5,399.1 1208.5,397.7 1214.5,397.2 1220.5,396.8 1226.5,397.1 1232.5,397.8 1233.6,397.9 1234,388.3 1238.5,386 1244.5,382.9 1250.5,379.9 1256.5,377.8 1262.5,375.6 1268.5,375.1 1274.5,374.7 1280.5,374.4 1286.5,374.1 1292.5,373 1298.5,371.8 1304.5,370.6 1310.5,369.1 1316.5,367.6 1322.5,366.1 1328.5,364.6 1334.5,363.1 1340.5,362 1346.5,360.9 1352.5,359.9 1358.5,359.1 1364.5,358.9 1370.5,360.4 1376.5,363.3 1382.5,368.6 1388.5,372.4 1394.5,375.1 1400.5,377.7 1406.5,380.6 1412.5,383.4 1418.5,386.3 1424.5,388.9 1430.5,390.8 1436.5,392.6 1442.5,394.5 1448.5,397.1 1454.5,400.1 1460.5,403.1 1466.5,406 1472.5,408.7 1478.5,411.3 1484.5,414 1490.5,417.1 1496.5,420.8 1502.5,427.3 1508.5,433.6 1514.5,437.4 1520.5,441.2 1526.5,444.8 1532.5,448.4 1538.5,453.1 1544.5,454.8 1550.5,456.5 1556.5,458.2 1562.5,459.9 1568.5,461.3 1574.5,462.7 1580.5,464.1 1586.5,465.5 1592.5,466.8 1598.5,467.8 1604.5,468.8 1610.5,469.8 1616.5,470.8 1622.5,471.3 1628.5,471.7 1634.5,472 1640.5,472.3 1646.5,472.6 1652.5,473 1658.5,472.6 1664.5,472.1 1670.5,471.6 1676.5,471.1 1682.5,470.7 1688.5,471.4 1694.5,472.3 1700.5,473.1 1706.5,474.1 1712.5,475.1 1718.5,476.2 1724.5,477.3 1728,477.9" fill="none" stroke="#111" stroke-width="1"/>
<polyline points="1274.4,55 1274,120 1273.9,179 1274.6,240 1275.5,290 1276.6,360 1277.4,414" fill="none" stroke="#111" stroke-width="1.5"/>
<polyline points="1322.2,55 1322.6,120 1323.2,150 1326,185 1331,235 1336.8,280 1341.5,330 1345.2,369" fill="none" stroke="#111" stroke-width="1.5"/>
<rect x="897.2" y="55.5" width="841.9" height="476.4" fill="none" stroke="#b8242c" stroke-width="1.6"/>
<path d="M903 54.9v-2.2M903 532.5v2.2M917.2 54.9v-5.5M917.2 532.5v5.5M931.5 54.9v-2.2M931.5 532.5v2.2M945.7 54.9v-2.2M945.7 532.5v2.2M960 54.9v-2.2M960 532.5v2.2M974.2 54.9v-2.2M974.2 532.5v2.2M988.5 54.9v-5.5M988.5 532.5v5.5M1002.8 54.9v-2.2M1002.8 532.5v2.2M1017 54.9v-2.2M1017 532.5v2.2M1031.3 54.9v-2.2M1031.3 532.5v2.2M1045.5 54.9v-2.2M1045.5 532.5v2.2M1059.8 54.9v-5.5M1059.8 532.5v5.5M1074 54.9v-2.2M1074 532.5v2.2M1088.3 54.9v-2.2M1088.3 532.5v2.2M1102.6 54.9v-2.2M1102.6 532.5v2.2M1116.8 54.9v-2.2M1116.8 532.5v2.2M1131.1 54.9v-5.5M1131.1 532.5v5.5M1145.3 54.9v-2.2M1145.3 532.5v2.2M1159.6 54.9v-2.2M1159.6 532.5v2.2M1173.9 54.9v-2.2M1173.9 532.5v2.2M1188.1 54.9v-2.2M1188.1 532.5v2.2M1202.4 54.9v-5.5M1202.4 532.5v5.5M1216.6 54.9v-2.2M1216.6 532.5v2.2M1230.9 54.9v-2.2M1230.9 532.5v2.2M1245.1 54.9v-2.2M1245.1 532.5v2.2M1259.4 54.9v-2.2M1259.4 532.5v2.2M1273.7 54.9v-5.5M1273.7 532.5v5.5M1287.9 54.9v-2.2M1287.9 532.5v2.2M1302.2 54.9v-2.2M1302.2 532.5v2.2M1316.4 54.9v-2.2M1316.4 532.5v2.2M1330.7 54.9v-2.2M1330.7 532.5v2.2M1345 54.9v-5.5M1345 532.5v5.5M1359.2 54.9v-2.2M1359.2 532.5v2.2M1373.5 54.9v-2.2M1373.5 532.5v2.2M1387.7 54.9v-2.2M1387.7 532.5v2.2M1402 54.9v-2.2M1402 532.5v2.2M1416.2 54.9v-5.5M1416.2 532.5v5.5M1430.5 54.9v-2.2M1430.5 532.5v2.2M1444.8 54.9v-2.2M1444.8 532.5v2.2M1459 54.9v-2.2M1459 532.5v2.2M1473.3 54.9v-2.2M1473.3 532.5v2.2M1487.5 54.9v-5.5M1487.5 532.5v5.5M1501.8 54.9v-2.2M1501.8 532.5v2.2M1516 54.9v-2.2M1516 532.5v2.2M1530.3 54.9v-2.2M1530.3 532.5v2.2M1544.6 54.9v-2.2M1544.6 532.5v2.2M1558.8 54.9v-5.5M1558.8 532.5v5.5M1573.1 54.9v-2.2M1573.1 532.5v2.2M1587.3 54.9v-2.2M1587.3 532.5v2.2M1601.6 54.9v-2.2M1601.6 532.5v2.2M1615.9 54.9v-2.2M1615.9 532.5v2.2M1630.1 54.9v-5.5M1630.1 532.5v5.5M1644.4 54.9v-2.2M1644.4 532.5v2.2M1658.6 54.9v-2.2M1658.6 532.5v2.2M1672.9 54.9v-2.2M1672.9 532.5v2.2M1687.1 54.9v-2.2M1687.1 532.5v2.2M1701.4 54.9v-5.5M1701.4 532.5v5.5M1715.7 54.9v-2.2M1715.7 532.5v2.2M1729.9 54.9v-2.2M1729.9 532.5v2.2M896.6 62h-2.2M1739.7 62h2.2M896.6 71.1h-2.2M1739.7 71.1h2.2M896.6 80.1h-5.5M1739.7 80.1h5.5M896.6 89.1h-2.2M1739.7 89.1h2.2M896.6 98.2h-2.2M1739.7 98.2h2.2M896.6 107.2h-2.2M1739.7 107.2h2.2M896.6 116.3h-2.2M1739.7 116.3h2.2M896.6 125.3h-5.5M1739.7 125.3h5.5M896.6 134.3h-2.2M1739.7 134.3h2.2M896.6 143.4h-2.2M1739.7 143.4h2.2M896.6 152.4h-2.2M1739.7 152.4h2.2M896.6 161.5h-2.2M1739.7 161.5h2.2M896.6 170.5h-5.5M1739.7 170.5h5.5M896.6 179.5h-2.2M1739.7 179.5h2.2M896.6 188.6h-2.2M1739.7 188.6h2.2M896.6 197.6h-2.2M1739.7 197.6h2.2M896.6 206.6h-2.2M1739.7 206.6h2.2M896.6 215.7h-5.5M1739.7 215.7h5.5M896.6 224.7h-2.2M1739.7 224.7h2.2M896.6 233.8h-2.2M1739.7 233.8h2.2M896.6 242.8h-2.2M1739.7 242.8h2.2M896.6 251.8h-2.2M1739.7 251.8h2.2M896.6 260.9h-5.5M1739.7 260.9h5.5M896.6 269.9h-2.2M1739.7 269.9h2.2M896.6 278.9h-2.2M1739.7 278.9h2.2M896.6 288h-2.2M1739.7 288h2.2M896.6 297h-2.2M1739.7 297h2.2M896.6 306.1h-5.5M1739.7 306.1h5.5M896.6 315.1h-2.2M1739.7 315.1h2.2M896.6 324.1h-2.2M1739.7 324.1h2.2M896.6 333.2h-2.2M1739.7 333.2h2.2M896.6 342.2h-2.2M1739.7 342.2h2.2M896.6 351.2h-5.5M1739.7 351.2h5.5M896.6 360.3h-2.2M1739.7 360.3h2.2M896.6 369.3h-2.2M1739.7 369.3h2.2M896.6 378.4h-2.2M1739.7 378.4h2.2M896.6 387.4h-2.2M1739.7 387.4h2.2M896.6 396.4h-5.5M1739.7 396.4h5.5M896.6 405.5h-2.2M1739.7 405.5h2.2M896.6 414.5h-2.2M1739.7 414.5h2.2M896.6 423.5h-2.2M1739.7 423.5h2.2M896.6 432.6h-2.2M1739.7 432.6h2.2M896.6 441.6h-5.5M1739.7 441.6h5.5M896.6 450.7h-2.2M1739.7 450.7h2.2M896.6 459.7h-2.2M1739.7 459.7h2.2M896.6 468.7h-2.2M1739.7 468.7h2.2M896.6 477.8h-2.2M1739.7 477.8h2.2M896.6 486.8h-5.5M1739.7 486.8h5.5M896.6 495.8h-2.2M1739.7 495.8h2.2M896.6 504.9h-2.2M1739.7 504.9h2.2M896.6 513.9h-2.2M1739.7 513.9h2.2M896.6 523h-2.2M1739.7 523h2.2" stroke="#111" stroke-width="1.4" fill="none"/>
<text class="tl" x="988.5" y="44.5" text-anchor="middle">-20000</text>
<text class="tl" x="988.5" y="554.4" text-anchor="middle">-20000</text>
<text class="tl" x="1131.1" y="44.5" text-anchor="middle">-16000</text>
<text class="tl" x="1131.1" y="554.4" text-anchor="middle">-16000</text>
<text class="tl" x="1273.7" y="44.5" text-anchor="middle">-12000</text>
<text class="tl" x="1273.7" y="554.4" text-anchor="middle">-12000</text>
<text class="tl" x="1416.2" y="44.5" text-anchor="middle">-8000</text>
<text class="tl" x="1416.2" y="554.4" text-anchor="middle">-8000</text>
<text class="tl" x="1558.8" y="44.5" text-anchor="middle">-4000</text>
<text class="tl" x="1558.8" y="554.4" text-anchor="middle">-4000</text>
<text class="tl" x="1701.4" y="44.5" text-anchor="middle">0</text>
<text class="tl" x="1701.4" y="554.4" text-anchor="middle">0</text>
<text class="tl" transform="translate(887.9,125.3) rotate(-90)" text-anchor="middle">-1600</text>
<text class="tl" transform="translate(1750.4,125.3) rotate(90)" text-anchor="middle">-1600</text>
<text class="tl" transform="translate(887.9,215.7) rotate(-90)" text-anchor="middle">-2400</text>
<text class="tl" transform="translate(1750.4,215.7) rotate(90)" text-anchor="middle">-2400</text>
<text class="tl" transform="translate(887.9,306.1) rotate(-90)" text-anchor="middle">-3200</text>
<text class="tl" transform="translate(1750.4,306.1) rotate(90)" text-anchor="middle">-3200</text>
<text class="tl" transform="translate(887.9,396.4) rotate(-90)" text-anchor="middle">-4000</text>
<text class="tl" transform="translate(1750.4,396.4) rotate(90)" text-anchor="middle">-4000</text>
<text class="tl" transform="translate(887.9,486.8) rotate(-90)" text-anchor="middle">-4800</text>
<text class="tl" transform="translate(1750.4,486.8) rotate(90)" text-anchor="middle">-4800</text>
<path d="M1267.1 55L1270.7 29.5L1277.9 29.5L1281.5 55Z" fill="#fff" stroke="#111" stroke-width="1.2"/><path d="M1274.3 29.5L1274.3 55M1270.7 29.5L1278.9 36.5M1277.9 29.5L1269.7 36.5M1269.7 36.5H1278.9M1269.7 36.5L1280 44.5M1278.9 36.5L1268.6 44.5M1268.6 44.5H1280M1268.6 44.5L1281.5 55M1280 44.5L1267.1 55M1267.1 55H1281.5" stroke="#111" stroke-width="0.9" fill="none"/><path d="M1268.9 30.3L1271.1 27.3L1277.5 27.3L1279.7 30.3Z" fill="#111"/><path d="M1274.3 19.3v7M1270.3 22.1l8 3M1278.3 22.1l-8 3" stroke="#111" stroke-width="1" fill="none"/>
<path d="M1314.9 55L1318.5 29.5L1325.7 29.5L1329.3 55Z" fill="#fff" stroke="#111" stroke-width="1.2"/><path d="M1322.1 29.5L1322.1 55M1318.5 29.5L1326.7 36.5M1325.7 29.5L1317.5 36.5M1317.5 36.5H1326.7M1317.5 36.5L1327.8 44.5M1326.7 36.5L1316.4 44.5M1316.4 44.5H1327.8M1316.4 44.5L1329.3 55M1327.8 44.5L1314.9 55M1314.9 55H1329.3" stroke="#111" stroke-width="0.9" fill="none"/><path d="M1316.7 30.3L1318.9 27.3L1325.3 27.3L1327.5 30.3Z" fill="#111"/><path d="M1322.1 19.3v7M1318.1 22.1l8 3M1326.1 22.1l-8 3" stroke="#111" stroke-width="1" fill="none"/>
<text class="wl" x="1254.5" y="8.4" textLength="37" lengthAdjust="spacingAndGlyphs">TNW-2</text>
<text class="wl" x="1300.5" y="11.1" textLength="45.5" lengthAdjust="spacingAndGlyphs">TNW-10</text>
<text class="ns" x="905.4" y="83.9">North</text>
<text class="ns" x="1730" y="84.5" text-anchor="end">South</text>
<rect x="1251.5" y="505.5" width="107.3" height="8" fill="#fff" stroke="#111" stroke-width="1"/><rect x="1252.3" y="505.5" width="7.2" height="8" fill="#000"/><rect x="1265.8" y="505.5" width="7.2" height="8" fill="#000"/><rect x="1280.1" y="505.5" width="7.2" height="8" fill="#000"/><rect x="1323.1" y="505.5" width="35.8" height="8" fill="#000"/><path d="M1251.5 505.5v-4M1287.3 505.5v-4M1323.1 505.5v-4M1358.8 505.5v-4" stroke="#111" stroke-width="1"/><text class="sb" x="1251.5" y="494.2" text-anchor="middle">0</text><text class="sb" x="1287.3" y="494.2" text-anchor="middle">1</text><text class="sb" x="1323.1" y="494.2" text-anchor="middle">2</text><text class="sb" x="1354.8" y="494.2">3km</text>
<path d="M1422.4 318.6V249.2H1460.4" fill="none" stroke="#f00" stroke-width="3"/><path d="M1434.9 235.2L1462.4 249.2L1434.9 263.2" fill="none" stroke="#f00" stroke-width="5" stroke-linejoin="miter"/><text class="ns" x="1470.9" y="258.6">Sidi Salem</text>
</g>
</svg></body></html>
